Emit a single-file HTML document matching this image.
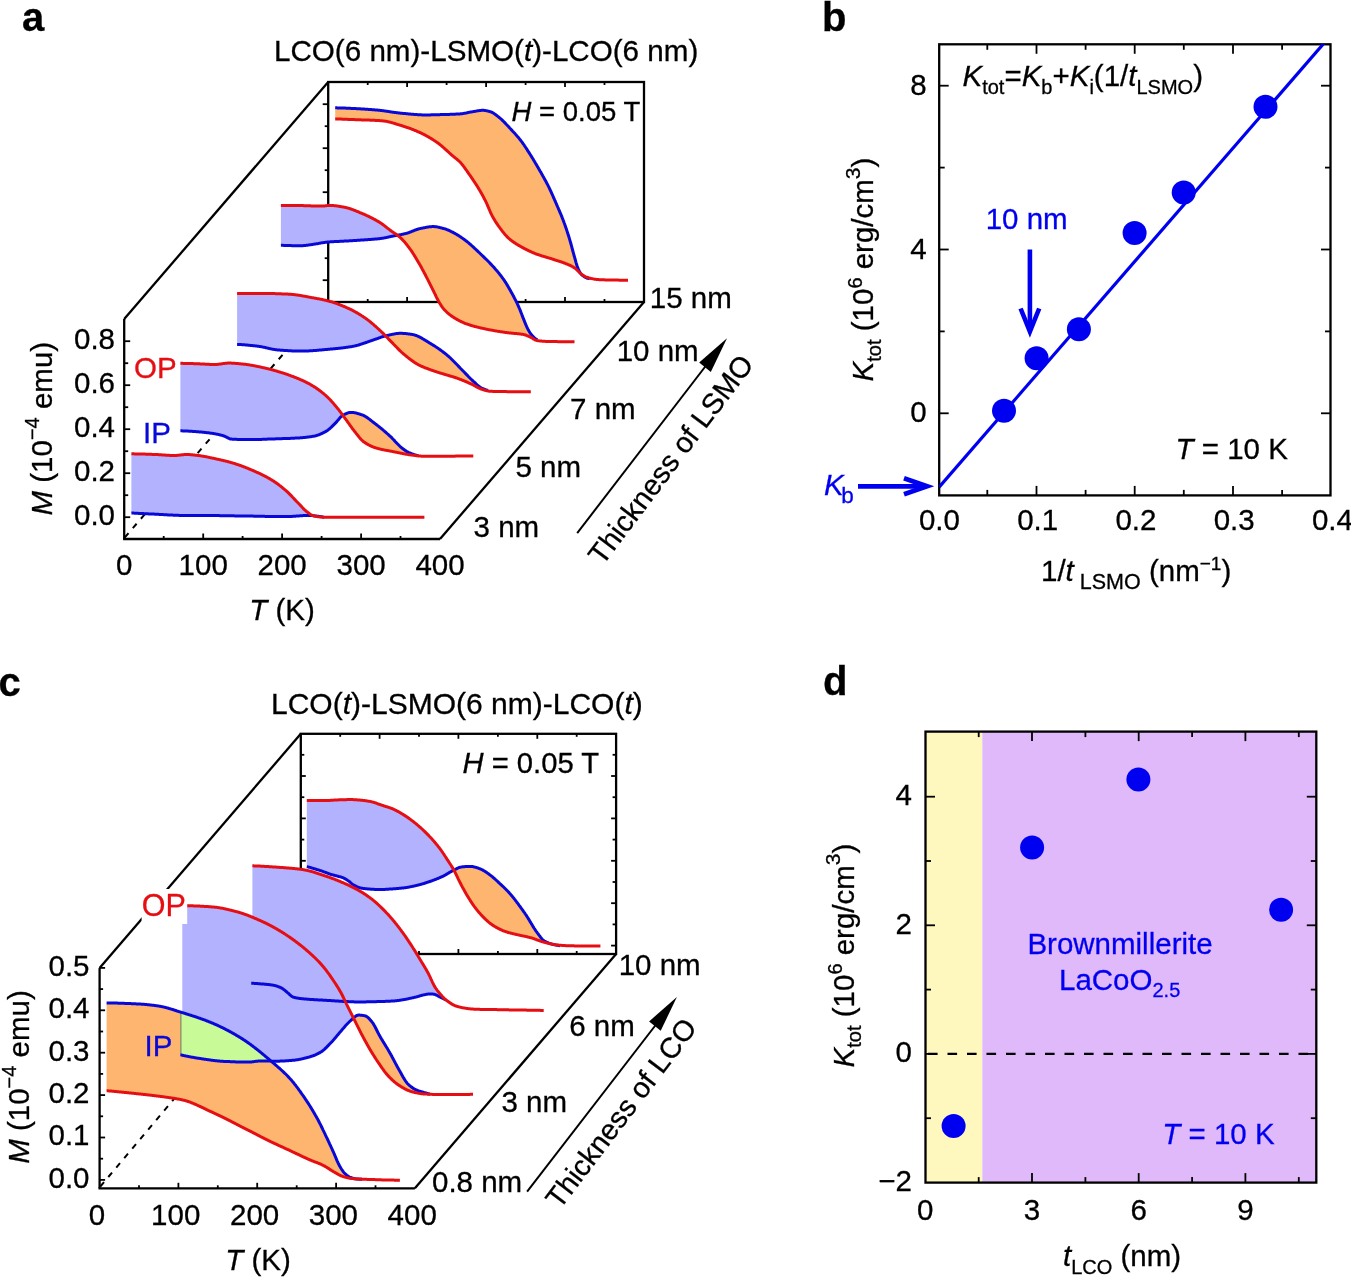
<!DOCTYPE html>
<html><head><meta charset="utf-8"><style>html,body{margin:0;padding:0;background:#fff;width:1351px;height:1278px;overflow:hidden}svg{display:block;will-change:transform}text{font-family:'Liberation Sans',sans-serif;stroke:currentColor;stroke-width:0.3px}</style></head><body>
<svg width="1351" height="1278" viewBox="0 0 1351 1278">
<rect width="1351" height="1278" fill="#fff"/>
<text transform="translate(22.0,31.0)" font-size="40.0" text-anchor="start" fill="#000" color="#000" font-weight="bold">a</text>
<text transform="translate(274.0,61.0)" font-size="29.6" text-anchor="start" fill="#000" color="#000" >LCO(6 nm)-LSMO(<tspan font-style="italic">t</tspan>)-LCO(6 nm)</text>
<line x1="124.7" y1="537.5" x2="328.2" y2="302.0" stroke="#000" stroke-width="2.0" stroke-dasharray="5.8 6.6"/>
<rect x="328.2" y="82.0" width="315.8" height="220.0" fill="none" stroke="#000" stroke-width="2.3"/>
<line x1="367.7" y1="82.0" x2="367.7" y2="85.0" stroke="#000" stroke-width="1.8" />
<line x1="367.7" y1="302.0" x2="367.7" y2="299.0" stroke="#000" stroke-width="1.8" />
<line x1="407.1" y1="82.0" x2="407.1" y2="87.0" stroke="#000" stroke-width="1.8" />
<line x1="407.1" y1="302.0" x2="407.1" y2="297.0" stroke="#000" stroke-width="1.8" />
<line x1="446.6" y1="82.0" x2="446.6" y2="85.0" stroke="#000" stroke-width="1.8" />
<line x1="446.6" y1="302.0" x2="446.6" y2="299.0" stroke="#000" stroke-width="1.8" />
<line x1="486.1" y1="82.0" x2="486.1" y2="87.0" stroke="#000" stroke-width="1.8" />
<line x1="486.1" y1="302.0" x2="486.1" y2="297.0" stroke="#000" stroke-width="1.8" />
<line x1="525.6" y1="82.0" x2="525.6" y2="85.0" stroke="#000" stroke-width="1.8" />
<line x1="525.6" y1="302.0" x2="525.6" y2="299.0" stroke="#000" stroke-width="1.8" />
<line x1="565.0" y1="82.0" x2="565.0" y2="87.0" stroke="#000" stroke-width="1.8" />
<line x1="565.0" y1="302.0" x2="565.0" y2="297.0" stroke="#000" stroke-width="1.8" />
<line x1="604.5" y1="82.0" x2="604.5" y2="85.0" stroke="#000" stroke-width="1.8" />
<line x1="604.5" y1="302.0" x2="604.5" y2="299.0" stroke="#000" stroke-width="1.8" />
<line x1="328.2" y1="280.2" x2="322.7" y2="280.2" stroke="#000" stroke-width="1.8" />
<line x1="328.2" y1="258.2" x2="324.7" y2="258.2" stroke="#000" stroke-width="1.8" />
<line x1="328.2" y1="236.2" x2="322.7" y2="236.2" stroke="#000" stroke-width="1.8" />
<line x1="328.2" y1="214.2" x2="324.7" y2="214.2" stroke="#000" stroke-width="1.8" />
<line x1="328.2" y1="192.2" x2="322.7" y2="192.2" stroke="#000" stroke-width="1.8" />
<line x1="328.2" y1="170.2" x2="324.7" y2="170.2" stroke="#000" stroke-width="1.8" />
<line x1="328.2" y1="148.2" x2="322.7" y2="148.2" stroke="#000" stroke-width="1.8" />
<line x1="328.2" y1="126.2" x2="324.7" y2="126.2" stroke="#000" stroke-width="1.8" />
<line x1="328.2" y1="104.2" x2="322.7" y2="104.2" stroke="#000" stroke-width="1.8" />
<line x1="124.2" y1="319.0" x2="328.2" y2="82.0" stroke="#000" stroke-width="2.3" />
<line x1="440.0" y1="539.0" x2="644.0" y2="302.0" stroke="#000" stroke-width="2.3" />
<path d="M335.2,118.9L335.7,118.9L336.2,118.9L336.7,119.0L337.2,119.0L337.7,119.0L338.2,119.0L338.7,119.0L339.2,119.0L339.7,119.1L340.2,119.1L340.7,119.1L341.2,119.1L341.7,119.1L342.2,119.2L342.7,119.2L343.2,119.2L343.7,119.2L344.2,119.2L344.7,119.3L345.2,119.3L345.7,119.3L346.2,119.3L346.7,119.3L347.2,119.3L347.7,119.4L348.2,119.4L348.7,119.4L349.2,119.4L349.7,119.4L350.2,119.5L350.7,119.5L351.2,119.5L351.7,119.5L352.2,119.5L352.7,119.6L353.2,119.6L353.7,119.6L354.2,119.6L354.7,119.6L355.2,119.7L355.7,119.7L356.2,119.7L356.7,119.7L357.2,119.7L357.7,119.7L358.2,119.8L358.7,119.8L359.2,119.8L359.7,119.8L360.2,119.8L360.7,119.8L361.2,119.9L361.7,119.9L362.2,119.9L362.7,119.9L363.2,119.9L363.7,119.9L364.2,120.0L364.7,120.0L365.2,120.0L365.7,120.0L366.2,120.0L366.7,120.0L367.2,120.0L367.7,120.1L368.2,120.1L368.7,120.1L369.2,120.1L369.7,120.1L370.2,120.2L370.7,120.2L371.2,120.2L371.7,120.2L372.2,120.2L372.7,120.3L373.2,120.3L373.7,120.3L374.2,120.3L374.7,120.3L375.2,120.4L375.7,120.4L376.2,120.4L376.7,120.5L377.2,120.5L377.7,120.5L378.2,120.5L378.7,120.6L379.2,120.6L379.7,120.6L380.2,120.7L380.7,120.7L381.2,120.7L381.7,120.8L382.2,120.8L382.7,120.9L383.2,120.9L383.7,121.0L384.2,121.0L384.7,121.1L385.2,121.2L385.7,121.3L386.2,121.3L386.7,121.4L387.2,121.5L387.7,121.6L388.2,121.8L388.7,121.9L389.2,122.0L389.7,122.1L390.2,122.2L390.7,122.4L391.2,122.5L391.7,122.6L392.2,122.8L392.7,122.9L393.2,123.1L393.7,123.2L394.2,123.4L394.7,123.5L395.2,123.7L395.7,123.8L396.2,124.0L396.7,124.1L397.2,124.3L397.7,124.5L398.2,124.6L398.7,124.8L399.2,124.9L399.7,125.1L400.2,125.2L400.7,125.4L401.2,125.5L401.7,125.7L402.2,125.8L402.7,126.0L403.2,126.1L403.7,126.3L404.2,126.5L404.7,126.6L405.2,126.8L405.7,127.0L406.2,127.1L406.7,127.3L407.2,127.5L407.7,127.6L408.2,127.8L408.7,128.0L409.2,128.2L409.7,128.4L410.2,128.5L410.7,128.7L411.2,128.9L411.7,129.1L412.2,129.3L412.7,129.5L413.2,129.7L413.7,129.9L414.2,130.1L414.7,130.3L415.2,130.5L415.7,130.7L416.2,130.9L416.7,131.1L417.2,131.4L417.7,131.6L418.2,131.8L418.7,132.0L419.2,132.2L419.7,132.5L420.2,132.7L420.7,132.9L421.2,133.2L421.7,133.4L422.2,133.6L422.7,133.9L423.2,134.1L423.7,134.4L424.2,134.6L424.7,134.9L425.2,135.2L425.7,135.4L426.2,135.7L426.7,136.0L427.2,136.3L427.7,136.5L428.2,136.8L428.7,137.1L429.2,137.4L429.7,137.7L430.2,138.0L430.7,138.3L431.2,138.6L431.7,138.9L432.2,139.2L432.7,139.5L433.2,139.8L433.7,140.2L434.2,140.5L434.7,140.8L435.2,141.2L435.7,141.5L436.2,141.8L436.7,142.2L437.2,142.5L437.7,142.9L438.2,143.2L438.7,143.6L439.2,144.0L439.7,144.4L440.2,144.8L440.7,145.2L441.2,145.6L441.7,146.0L442.2,146.5L442.7,146.9L443.2,147.3L443.7,147.8L444.2,148.2L444.7,148.7L445.2,149.1L445.7,149.6L446.2,150.0L446.7,150.5L447.2,150.9L447.7,151.4L448.2,151.8L448.7,152.3L449.2,152.8L449.7,153.2L450.2,153.7L450.7,154.1L451.2,154.6L451.7,155.0L452.2,155.4L452.7,155.9L453.2,156.3L453.7,156.7L454.2,157.1L454.7,157.5L455.2,157.9L455.7,158.3L456.2,158.7L456.7,159.1L457.2,159.5L457.7,160.0L458.2,160.4L458.7,160.8L459.2,161.3L459.7,161.8L460.2,162.3L460.7,162.8L461.2,163.4L461.7,164.0L462.2,164.6L462.7,165.2L463.2,165.9L463.7,166.5L464.2,167.2L464.7,167.9L465.2,168.6L465.7,169.3L466.2,170.0L466.7,170.7L467.2,171.4L467.7,172.2L468.2,172.9L468.7,173.6L469.2,174.3L469.7,175.0L470.2,175.7L470.7,176.4L471.2,177.1L471.7,177.9L472.2,178.6L472.7,179.3L473.2,180.1L473.7,180.8L474.2,181.6L474.7,182.3L475.2,183.1L475.7,183.8L476.2,184.6L476.7,185.4L477.2,186.2L477.7,187.0L478.2,187.8L478.7,188.7L479.2,189.5L479.7,190.3L480.2,191.2L480.7,192.1L481.2,192.9L481.7,193.8L482.2,194.7L482.7,195.6L483.2,196.6L483.7,197.5L484.2,198.5L484.7,199.4L485.2,200.4L485.7,201.4L486.2,202.4L486.7,203.5L487.2,204.6L487.7,205.8L488.2,207.0L488.7,208.2L489.2,209.4L489.7,210.5L490.2,211.7L490.7,212.8L491.2,213.9L491.7,214.9L492.2,215.9L492.7,216.8L493.2,217.7L493.7,218.6L494.2,219.4L494.7,220.2L495.2,221.1L495.7,221.9L496.2,222.6L496.7,223.4L497.2,224.2L497.7,224.9L498.2,225.6L498.7,226.3L499.2,227.0L499.7,227.7L500.2,228.4L500.7,229.0L501.2,229.7L501.7,230.4L502.2,231.0L502.7,231.7L503.2,232.3L503.7,232.9L504.2,233.5L504.7,234.1L505.2,234.7L505.7,235.3L506.2,235.8L506.7,236.4L507.2,236.9L507.7,237.4L508.2,237.9L508.7,238.3L509.2,238.7L509.7,239.2L510.2,239.6L510.7,240.0L511.2,240.4L511.7,240.8L512.2,241.1L512.7,241.5L513.2,241.9L513.7,242.2L514.2,242.6L514.7,242.9L515.2,243.2L515.7,243.5L516.2,243.9L516.7,244.2L517.2,244.5L517.7,244.8L518.2,245.1L518.7,245.4L519.2,245.7L519.7,246.0L520.2,246.2L520.7,246.5L521.2,246.8L521.7,247.1L522.2,247.4L522.7,247.6L523.2,247.9L523.7,248.2L524.2,248.5L524.7,248.7L525.2,249.0L525.7,249.2L526.2,249.5L526.7,249.7L527.2,250.0L527.7,250.2L528.2,250.5L528.7,250.7L529.2,251.0L529.7,251.2L530.2,251.4L530.7,251.7L531.2,251.9L531.7,252.1L532.2,252.3L532.7,252.5L533.2,252.8L533.7,253.0L534.2,253.2L534.7,253.4L535.2,253.6L535.7,253.8L536.2,254.0L536.7,254.2L537.2,254.3L537.7,254.5L538.2,254.7L538.7,254.9L539.2,255.0L539.7,255.2L540.2,255.4L540.7,255.5L541.2,255.7L541.7,255.8L542.2,256.0L542.7,256.1L543.2,256.3L543.7,256.4L544.2,256.6L544.7,256.7L545.2,256.9L545.7,257.0L546.2,257.2L546.7,257.3L547.2,257.5L547.7,257.6L548.2,257.8L548.7,257.9L549.2,258.1L549.7,258.2L550.2,258.4L550.7,258.5L551.2,258.7L551.7,258.9L552.2,259.0L552.7,259.2L553.2,259.3L553.7,259.5L554.2,259.7L554.7,259.8L555.2,260.0L555.7,260.1L556.2,260.3L556.7,260.5L557.2,260.6L557.7,260.8L558.2,260.9L558.7,261.1L559.2,261.3L559.7,261.4L560.2,261.6L560.7,261.7L561.2,261.9L561.7,262.1L562.2,262.3L562.7,262.4L563.2,262.6L563.7,262.8L564.2,263.0L564.7,263.2L565.2,263.4L565.7,263.6L566.2,263.8L566.7,264.0L567.2,264.2L567.7,264.4L568.2,264.6L568.7,264.8L569.2,265.0L569.7,265.2L570.2,265.5L570.7,265.7L571.2,266.0L571.7,266.2L572.2,266.5L572.7,266.8L573.2,267.1L573.7,267.4L574.2,267.7L574.7,268.0L575.2,268.4L575.7,268.8L576.2,269.3L576.7,269.8L577.2,270.3L577.7,270.8L578.2,271.3L578.7,271.8L579.2,272.3L579.7,272.7L580.2,273.2L580.7,273.5L580.7,273.6L580.7,273.6L580.7,273.5L580.2,272.8L579.7,271.9L579.2,271.0L578.7,270.0L578.2,268.9L577.7,267.7L577.2,266.3L576.7,264.7L576.2,263.1L575.7,261.3L575.2,259.5L574.7,257.7L574.2,256.0L573.7,254.2L573.2,252.4L572.7,250.5L572.2,248.6L571.7,246.7L571.2,244.9L570.7,243.0L570.2,241.3L569.7,239.6L569.2,237.9L568.7,236.3L568.2,234.7L567.7,233.2L567.2,231.6L566.7,230.1L566.2,228.6L565.7,227.2L565.2,225.7L564.7,224.3L564.2,223.0L563.7,221.6L563.2,220.3L562.7,219.0L562.2,217.7L561.7,216.4L561.2,215.2L560.7,214.0L560.2,212.8L559.7,211.6L559.2,210.4L558.7,209.3L558.2,208.1L557.7,207.0L557.2,205.8L556.7,204.7L556.2,203.5L555.7,202.4L555.2,201.2L554.7,200.1L554.2,198.9L553.7,197.8L553.2,196.6L552.7,195.5L552.2,194.4L551.7,193.3L551.2,192.2L550.7,191.1L550.2,190.0L549.7,189.0L549.2,187.9L548.7,186.9L548.2,185.9L547.7,184.9L547.2,183.9L546.7,183.0L546.2,182.0L545.7,181.1L545.2,180.2L544.7,179.3L544.2,178.3L543.7,177.4L543.2,176.5L542.7,175.7L542.2,174.8L541.7,173.9L541.2,173.0L540.7,172.1L540.2,171.3L539.7,170.4L539.2,169.5L538.7,168.7L538.2,167.8L537.7,166.9L537.2,166.1L536.7,165.2L536.2,164.4L535.7,163.5L535.2,162.7L534.7,161.8L534.2,161.0L533.7,160.2L533.2,159.3L532.7,158.5L532.2,157.7L531.7,156.9L531.2,156.1L530.7,155.3L530.2,154.5L529.7,153.7L529.2,152.9L528.7,152.1L528.2,151.4L527.7,150.6L527.2,149.8L526.7,149.0L526.2,148.2L525.7,147.5L525.2,146.7L524.7,146.0L524.2,145.2L523.7,144.5L523.2,143.8L522.7,143.1L522.2,142.4L521.7,141.7L521.2,141.1L520.7,140.4L520.2,139.8L519.7,139.2L519.2,138.5L518.7,137.9L518.2,137.3L517.7,136.7L517.2,136.2L516.7,135.6L516.2,135.0L515.7,134.5L515.2,133.9L514.7,133.3L514.2,132.8L513.7,132.3L513.2,131.7L512.7,131.2L512.2,130.6L511.7,130.1L511.2,129.6L510.7,129.0L510.2,128.5L509.7,128.0L509.2,127.4L508.7,126.9L508.2,126.3L507.7,125.8L507.2,125.2L506.7,124.7L506.2,124.2L505.7,123.6L505.2,123.1L504.7,122.6L504.2,122.1L503.7,121.5L503.2,121.1L502.7,120.6L502.2,120.1L501.7,119.6L501.2,119.2L500.7,118.7L500.2,118.3L499.7,117.9L499.2,117.5L498.7,117.1L498.2,116.7L497.7,116.3L497.2,115.9L496.7,115.5L496.2,115.1L495.7,114.7L495.2,114.4L494.7,114.0L494.2,113.7L493.7,113.3L493.2,113.0L492.7,112.7L492.2,112.5L491.7,112.2L491.2,112.0L490.7,111.9L490.2,111.7L489.7,111.6L489.2,111.4L488.7,111.3L488.2,111.1L487.7,111.0L487.2,110.9L486.7,110.8L486.2,110.7L485.7,110.6L485.2,110.5L484.7,110.4L484.2,110.4L483.7,110.3L483.2,110.3L482.7,110.3L482.2,110.3L481.7,110.3L481.2,110.4L480.7,110.4L480.2,110.5L479.7,110.5L479.2,110.6L478.7,110.7L478.2,110.7L477.7,110.8L477.2,110.9L476.7,111.0L476.2,111.1L475.7,111.2L475.2,111.3L474.7,111.4L474.2,111.5L473.7,111.5L473.2,111.6L472.7,111.7L472.2,111.8L471.7,111.9L471.2,112.0L470.7,112.1L470.2,112.1L469.7,112.2L469.2,112.3L468.7,112.4L468.2,112.5L467.7,112.7L467.2,112.8L466.7,112.9L466.2,113.0L465.7,113.1L465.2,113.2L464.7,113.3L464.2,113.3L463.7,113.4L463.2,113.5L462.7,113.6L462.2,113.7L461.7,113.7L461.2,113.8L460.7,113.8L460.2,113.9L459.7,113.9L459.2,114.0L458.7,114.0L458.2,114.0L457.7,114.0L457.2,114.1L456.7,114.1L456.2,114.1L455.7,114.1L455.2,114.2L454.7,114.2L454.2,114.2L453.7,114.2L453.2,114.2L452.7,114.3L452.2,114.3L451.7,114.3L451.2,114.3L450.7,114.3L450.2,114.3L449.7,114.4L449.2,114.4L448.7,114.4L448.2,114.4L447.7,114.4L447.2,114.4L446.7,114.5L446.2,114.5L445.7,114.5L445.2,114.5L444.7,114.5L444.2,114.5L443.7,114.5L443.2,114.6L442.7,114.6L442.2,114.6L441.7,114.6L441.2,114.6L440.7,114.6L440.2,114.6L439.7,114.7L439.2,114.7L438.7,114.7L438.2,114.7L437.7,114.7L437.2,114.7L436.7,114.7L436.2,114.7L435.7,114.8L435.2,114.8L434.7,114.8L434.2,114.8L433.7,114.8L433.2,114.8L432.7,114.8L432.2,114.8L431.7,114.8L431.2,114.8L430.7,114.9L430.2,114.9L429.7,114.9L429.2,114.9L428.7,114.9L428.2,114.9L427.7,114.9L427.2,114.9L426.7,114.9L426.2,114.9L425.7,114.9L425.2,114.9L424.7,114.9L424.2,114.9L423.7,114.9L423.2,114.9L422.7,114.9L422.2,114.9L421.7,114.9L421.2,114.8L420.7,114.8L420.2,114.8L419.7,114.8L419.2,114.8L418.7,114.7L418.2,114.7L417.7,114.7L417.2,114.6L416.7,114.6L416.2,114.6L415.7,114.5L415.2,114.5L414.7,114.5L414.2,114.4L413.7,114.4L413.2,114.3L412.7,114.3L412.2,114.3L411.7,114.2L411.2,114.2L410.7,114.1L410.2,114.1L409.7,114.0L409.2,114.0L408.7,113.9L408.2,113.9L407.7,113.8L407.2,113.8L406.7,113.7L406.2,113.7L405.7,113.6L405.2,113.6L404.7,113.5L404.2,113.5L403.7,113.4L403.2,113.4L402.7,113.4L402.2,113.3L401.7,113.3L401.2,113.2L400.7,113.2L400.2,113.1L399.7,113.1L399.2,113.0L398.7,113.0L398.2,112.9L397.7,112.8L397.2,112.8L396.7,112.7L396.2,112.6L395.7,112.6L395.2,112.5L394.7,112.4L394.2,112.4L393.7,112.3L393.2,112.2L392.7,112.2L392.2,112.1L391.7,112.0L391.2,111.9L390.7,111.9L390.2,111.8L389.7,111.7L389.2,111.6L388.7,111.6L388.2,111.5L387.7,111.4L387.2,111.3L386.7,111.3L386.2,111.2L385.7,111.1L385.2,111.0L384.7,111.0L384.2,110.9L383.7,110.8L383.2,110.8L382.7,110.7L382.2,110.6L381.7,110.6L381.2,110.5L380.7,110.4L380.2,110.4L379.7,110.3L379.2,110.3L378.7,110.2L378.2,110.2L377.7,110.1L377.2,110.1L376.7,110.0L376.2,110.0L375.7,110.0L375.2,109.9L374.7,109.9L374.2,109.8L373.7,109.8L373.2,109.7L372.7,109.7L372.2,109.7L371.7,109.6L371.2,109.6L370.7,109.5L370.2,109.5L369.7,109.5L369.2,109.4L368.7,109.4L368.2,109.4L367.7,109.3L367.2,109.3L366.7,109.3L366.2,109.2L365.7,109.2L365.2,109.2L364.7,109.1L364.2,109.1L363.7,109.1L363.2,109.0L362.7,109.0L362.2,109.0L361.7,108.9L361.2,108.9L360.7,108.9L360.2,108.8L359.7,108.8L359.2,108.8L358.7,108.8L358.2,108.7L357.7,108.7L357.2,108.7L356.7,108.7L356.2,108.6L355.7,108.6L355.2,108.6L354.7,108.5L354.2,108.5L353.7,108.5L353.2,108.5L352.7,108.5L352.2,108.4L351.7,108.4L351.2,108.4L350.7,108.4L350.2,108.3L349.7,108.3L349.2,108.3L348.7,108.3L348.2,108.2L347.7,108.2L347.2,108.2L346.7,108.2L346.2,108.2L345.7,108.1L345.2,108.1L344.7,108.1L344.2,108.1L343.7,108.1L343.2,108.0L342.7,108.0L342.2,108.0L341.7,108.0L341.2,108.0L340.7,108.0L340.2,107.9L339.7,107.9L339.2,107.9L338.7,107.9L338.2,107.9L337.7,107.9L337.2,107.9L336.7,107.8L336.2,107.8L335.7,107.8L335.2,107.8Z" fill="#FDB56F"/>
<path d="M580.7,273.6L581.2,273.9L581.7,274.3L582.2,274.7L582.7,275.0L583.2,275.4L583.7,275.7L584.2,276.1L584.7,276.3L585.2,276.6L585.7,276.9L586.2,277.1L586.7,277.2L587.2,277.4L587.7,277.5L588.2,277.7L588.7,277.8L589.2,278.0L589.6,278.1L589.6,278.6L589.2,278.6L588.7,278.5L588.2,278.4L587.7,278.3L587.2,278.2L586.7,278.0L586.2,277.7L585.7,277.5L585.2,277.2L584.7,276.9L584.2,276.6L583.7,276.3L583.2,275.9L582.7,275.5L582.2,275.2L581.7,274.7L581.2,274.2L580.7,273.6Z" fill="#B2B2FE"/>
<path d="M280.9,205.4L281.4,205.4L281.9,205.4L282.4,205.4L282.9,205.4L283.4,205.4L283.9,205.4L284.4,205.4L284.9,205.4L285.4,205.4L285.9,205.4L286.4,205.4L286.9,205.4L287.4,205.4L287.9,205.4L288.4,205.4L288.9,205.5L289.4,205.5L289.9,205.5L290.4,205.5L290.9,205.5L291.4,205.5L291.9,205.5L292.4,205.5L292.9,205.5L293.4,205.5L293.9,205.5L294.4,205.5L294.9,205.5L295.4,205.5L295.9,205.5L296.4,205.5L296.9,205.5L297.4,205.5L297.9,205.6L298.4,205.6L298.9,205.6L299.4,205.6L299.9,205.6L300.4,205.6L300.9,205.6L301.4,205.6L301.9,205.6L302.4,205.6L302.9,205.6L303.4,205.6L303.9,205.7L304.4,205.7L304.9,205.7L305.4,205.7L305.9,205.7L306.4,205.7L306.9,205.7L307.4,205.7L307.9,205.8L308.4,205.8L308.9,205.8L309.4,205.8L309.9,205.8L310.4,205.8L310.9,205.9L311.4,205.9L311.9,205.9L312.4,205.9L312.9,205.9L313.4,205.9L313.9,206.0L314.4,206.0L314.9,206.0L315.4,206.0L315.9,206.0L316.4,206.0L316.9,206.0L317.4,206.0L317.9,206.1L318.4,206.1L318.9,206.1L319.4,206.1L319.9,206.1L320.4,206.1L320.9,206.1L321.4,206.1L321.9,206.1L322.4,206.1L322.9,206.1L323.4,206.1L323.9,206.0L324.4,206.0L324.9,205.9L325.4,205.8L325.9,205.8L326.4,205.7L326.9,205.6L327.4,205.5L327.9,205.5L328.4,205.4L328.9,205.4L329.4,205.4L329.9,205.4L330.4,205.4L330.9,205.4L331.4,205.4L331.9,205.5L332.4,205.5L332.9,205.5L333.4,205.6L333.9,205.6L334.4,205.7L334.9,205.7L335.4,205.8L335.9,205.8L336.4,205.9L336.9,206.0L337.4,206.1L337.9,206.1L338.4,206.2L338.9,206.3L339.4,206.4L339.9,206.4L340.4,206.5L340.9,206.6L341.4,206.7L341.9,206.8L342.4,206.9L342.9,207.0L343.4,207.0L343.9,207.1L344.4,207.2L344.9,207.3L345.4,207.4L345.9,207.6L346.4,207.7L346.9,207.8L347.4,207.9L347.9,208.1L348.4,208.2L348.9,208.4L349.4,208.5L349.9,208.7L350.4,208.8L350.9,209.0L351.4,209.2L351.9,209.4L352.4,209.6L352.9,209.7L353.4,209.9L353.9,210.1L354.4,210.3L354.9,210.5L355.4,210.7L355.9,210.9L356.4,211.1L356.9,211.3L357.4,211.5L357.9,211.7L358.4,211.9L358.9,212.1L359.4,212.4L359.9,212.6L360.4,212.8L360.9,213.0L361.4,213.2L361.9,213.4L362.4,213.6L362.9,213.8L363.4,214.0L363.9,214.2L364.4,214.5L364.9,214.7L365.4,214.9L365.9,215.1L366.4,215.4L366.9,215.6L367.4,215.8L367.9,216.0L368.4,216.3L368.9,216.5L369.4,216.8L369.9,217.0L370.4,217.3L370.9,217.5L371.4,217.8L371.9,218.0L372.4,218.3L372.9,218.5L373.4,218.8L373.9,219.1L374.4,219.3L374.9,219.6L375.4,219.9L375.9,220.2L376.4,220.5L376.9,220.8L377.4,221.0L377.9,221.3L378.4,221.6L378.9,221.9L379.4,222.2L379.9,222.5L380.4,222.9L380.9,223.2L381.4,223.5L381.9,223.9L382.4,224.2L382.9,224.6L383.4,224.9L383.9,225.3L384.4,225.7L384.9,226.1L385.4,226.5L385.9,226.9L386.4,227.3L386.9,227.7L387.4,228.1L387.9,228.5L388.4,228.8L388.9,229.2L389.4,229.6L389.9,230.0L390.4,230.4L390.9,230.7L391.4,231.1L391.9,231.5L392.4,231.8L392.9,232.1L393.4,232.5L393.9,232.8L394.4,233.1L394.9,233.5L395.4,233.8L395.9,234.1L396.4,234.5L396.9,234.8L397.4,235.2L397.4,235.2L397.4,235.2L397.4,235.2L396.9,235.3L396.4,235.4L395.9,235.5L395.4,235.6L394.9,235.7L394.4,235.8L393.9,235.9L393.4,236.0L392.9,236.1L392.4,236.2L391.9,236.3L391.4,236.4L390.9,236.5L390.4,236.6L389.9,236.7L389.4,236.8L388.9,236.9L388.4,237.1L387.9,237.2L387.4,237.3L386.9,237.4L386.4,237.5L385.9,237.6L385.4,237.7L384.9,237.8L384.4,237.9L383.9,238.0L383.4,238.1L382.9,238.2L382.4,238.3L381.9,238.3L381.4,238.4L380.9,238.5L380.4,238.6L379.9,238.6L379.4,238.7L378.9,238.7L378.4,238.8L377.9,238.8L377.4,238.9L376.9,238.9L376.4,239.0L375.9,239.0L375.4,239.0L374.9,239.1L374.4,239.1L373.9,239.2L373.4,239.2L372.9,239.2L372.4,239.3L371.9,239.3L371.4,239.4L370.9,239.4L370.4,239.4L369.9,239.5L369.4,239.5L368.9,239.5L368.4,239.6L367.9,239.6L367.4,239.7L366.9,239.7L366.4,239.7L365.9,239.8L365.4,239.8L364.9,239.8L364.4,239.9L363.9,239.9L363.4,239.9L362.9,240.0L362.4,240.0L361.9,240.0L361.4,240.1L360.9,240.1L360.4,240.1L359.9,240.2L359.4,240.2L358.9,240.2L358.4,240.3L357.9,240.3L357.4,240.3L356.9,240.4L356.4,240.4L355.9,240.4L355.4,240.5L354.9,240.5L354.4,240.5L353.9,240.6L353.4,240.6L352.9,240.6L352.4,240.7L351.9,240.7L351.4,240.7L350.9,240.7L350.4,240.8L349.9,240.8L349.4,240.8L348.9,240.9L348.4,240.9L347.9,240.9L347.4,241.0L346.9,241.0L346.4,241.0L345.9,241.0L345.4,241.1L344.9,241.1L344.4,241.1L343.9,241.1L343.4,241.2L342.9,241.2L342.4,241.2L341.9,241.2L341.4,241.3L340.9,241.3L340.4,241.3L339.9,241.3L339.4,241.4L338.9,241.4L338.4,241.4L337.9,241.4L337.4,241.4L336.9,241.5L336.4,241.5L335.9,241.5L335.4,241.5L334.9,241.6L334.4,241.6L333.9,241.6L333.4,241.7L332.9,241.7L332.4,241.7L331.9,241.7L331.4,241.8L330.9,241.8L330.4,241.8L329.9,241.9L329.4,241.9L328.9,242.0L328.4,242.0L327.9,242.0L327.4,242.1L326.9,242.1L326.4,242.2L325.9,242.2L325.4,242.3L324.9,242.4L324.4,242.4L323.9,242.5L323.4,242.6L322.9,242.7L322.4,242.8L321.9,242.8L321.4,242.9L320.9,243.0L320.4,243.1L319.9,243.2L319.4,243.3L318.9,243.4L318.4,243.5L317.9,243.6L317.4,243.7L316.9,243.8L316.4,243.8L315.9,243.9L315.4,244.0L314.9,244.1L314.4,244.1L313.9,244.2L313.4,244.3L312.9,244.4L312.4,244.4L311.9,244.5L311.4,244.6L310.9,244.7L310.4,244.8L309.9,244.8L309.4,244.9L308.9,245.0L308.4,245.1L307.9,245.1L307.4,245.2L306.9,245.3L306.4,245.3L305.9,245.4L305.4,245.5L304.9,245.5L304.4,245.5L303.9,245.6L303.4,245.6L302.9,245.7L302.4,245.7L301.9,245.7L301.4,245.7L300.9,245.7L300.4,245.7L299.9,245.7L299.4,245.7L298.9,245.7L298.4,245.7L297.9,245.7L297.4,245.7L296.9,245.7L296.4,245.7L295.9,245.7L295.4,245.7L294.9,245.7L294.4,245.7L293.9,245.7L293.4,245.7L292.9,245.7L292.4,245.7L291.9,245.7L291.4,245.6L290.9,245.6L290.4,245.6L289.9,245.6L289.4,245.6L288.9,245.6L288.4,245.6L287.9,245.6L287.4,245.5L286.9,245.5L286.4,245.5L285.9,245.5L285.4,245.5L284.9,245.4L284.4,245.4L283.9,245.4L283.4,245.4L282.9,245.3L282.4,245.3L281.9,245.3L281.4,245.2L280.9,245.2Z" fill="#B2B2FE"/>
<path d="M397.4,235.2L397.9,235.6L398.4,236.0L398.9,236.4L399.4,236.8L399.9,237.2L400.4,237.7L400.9,238.1L401.4,238.6L401.9,239.1L402.4,239.6L402.9,240.2L403.4,240.7L403.9,241.3L404.4,241.8L404.9,242.4L405.4,243.0L405.9,243.6L406.4,244.3L406.9,244.9L407.4,245.5L407.9,246.2L408.4,246.8L408.9,247.5L409.4,248.1L409.9,248.8L410.4,249.5L410.9,250.2L411.4,250.9L411.9,251.7L412.4,252.4L412.9,253.2L413.4,254.0L413.9,254.8L414.4,255.6L414.9,256.4L415.4,257.2L415.9,258.1L416.4,258.9L416.9,259.7L417.4,260.6L417.9,261.4L418.4,262.3L418.9,263.1L419.4,264.0L419.9,264.8L420.4,265.7L420.9,266.6L421.4,267.5L421.9,268.4L422.4,269.4L422.9,270.3L423.4,271.2L423.9,272.2L424.4,273.1L424.9,274.1L425.4,275.0L425.9,276.0L426.4,276.9L426.9,277.9L427.4,278.8L427.9,279.8L428.4,280.8L428.9,281.8L429.4,282.8L429.9,283.8L430.4,284.8L430.9,285.8L431.4,286.8L431.9,287.8L432.4,288.8L432.9,289.8L433.4,290.8L433.9,291.8L434.4,292.9L434.9,293.9L435.4,295.0L435.9,296.0L436.4,297.1L436.9,298.1L437.4,299.1L437.9,300.0L438.4,301.0L438.9,301.8L439.4,302.7L439.9,303.5L440.4,304.3L440.9,305.1L441.4,305.9L441.9,306.6L442.4,307.3L442.9,308.0L443.4,308.6L443.9,309.2L444.4,309.7L444.9,310.3L445.4,310.8L445.9,311.3L446.4,311.8L446.9,312.3L447.4,312.7L447.9,313.2L448.4,313.6L448.9,314.0L449.4,314.4L449.9,314.8L450.4,315.2L450.9,315.6L451.4,315.9L451.9,316.3L452.4,316.6L452.9,316.9L453.4,317.3L453.9,317.6L454.4,317.9L454.9,318.2L455.4,318.5L455.9,318.8L456.4,319.1L456.9,319.4L457.4,319.7L457.9,319.9L458.4,320.2L458.9,320.5L459.4,320.7L459.9,321.0L460.4,321.3L460.9,321.5L461.4,321.7L461.9,322.0L462.4,322.2L462.9,322.4L463.4,322.6L463.9,322.9L464.4,323.1L464.9,323.3L465.4,323.5L465.9,323.6L466.4,323.8L466.9,324.0L467.4,324.2L467.9,324.4L468.4,324.5L468.9,324.7L469.4,324.8L469.9,325.0L470.4,325.2L470.9,325.3L471.4,325.5L471.9,325.6L472.4,325.8L472.9,325.9L473.4,326.1L473.9,326.2L474.4,326.3L474.9,326.5L475.4,326.6L475.9,326.7L476.4,326.9L476.9,327.0L477.4,327.1L477.9,327.2L478.4,327.4L478.9,327.5L479.4,327.6L479.9,327.7L480.4,327.8L480.9,328.0L481.4,328.1L481.9,328.2L482.4,328.3L482.9,328.4L483.4,328.5L483.9,328.6L484.4,328.7L484.9,328.8L485.4,328.9L485.9,329.1L486.4,329.2L486.9,329.3L487.4,329.4L487.9,329.5L488.4,329.6L488.9,329.7L489.4,329.8L489.9,329.9L490.4,330.0L490.9,330.1L491.4,330.1L491.9,330.2L492.4,330.3L492.9,330.4L493.4,330.5L493.9,330.6L494.4,330.7L494.9,330.8L495.4,330.9L495.9,331.0L496.4,331.0L496.9,331.1L497.4,331.2L497.9,331.3L498.4,331.4L498.9,331.5L499.4,331.5L499.9,331.6L500.4,331.7L500.9,331.8L501.4,331.8L501.9,331.9L502.4,332.0L502.9,332.1L503.4,332.1L503.9,332.2L504.4,332.3L504.9,332.4L505.4,332.4L505.9,332.5L506.4,332.6L506.9,332.6L507.4,332.7L507.9,332.8L508.4,332.8L508.9,332.9L509.4,332.9L509.9,333.0L510.4,333.0L510.9,333.1L511.4,333.1L511.9,333.2L512.4,333.2L512.9,333.3L513.4,333.3L513.9,333.4L514.4,333.4L514.9,333.4L515.4,333.5L515.9,333.5L516.4,333.6L516.9,333.6L517.4,333.7L517.9,333.7L518.4,333.8L518.9,333.8L519.4,333.9L519.9,334.0L520.4,334.0L520.9,334.1L521.4,334.2L521.9,334.2L522.4,334.3L522.9,334.4L523.4,334.5L523.9,334.6L524.4,334.7L524.9,334.8L525.4,335.0L525.9,335.2L526.4,335.4L526.9,335.6L527.4,335.8L527.9,336.0L528.4,336.2L528.9,336.5L529.4,336.7L529.9,336.9L530.4,337.2L530.9,337.4L531.4,337.7L531.9,337.9L532.4,338.2L532.9,338.6L533.4,338.9L533.9,339.2L534.4,339.5L534.9,339.8L535.4,340.0L535.9,340.2L536.4,340.4L536.9,340.5L537.2,340.6L537.2,339.8L536.9,339.6L536.4,339.3L535.9,339.0L535.4,338.6L534.9,338.2L534.4,337.8L533.9,337.3L533.4,336.8L532.9,336.3L532.4,335.8L531.9,335.2L531.4,334.6L530.9,334.0L530.4,333.3L529.9,332.6L529.4,331.8L528.9,331.0L528.4,330.1L527.9,329.2L527.4,328.2L526.9,327.2L526.4,326.0L525.9,324.8L525.4,323.6L524.9,322.4L524.4,321.1L523.9,319.9L523.4,318.7L522.9,317.4L522.4,316.1L521.9,314.8L521.4,313.5L520.9,312.2L520.4,310.9L519.9,309.7L519.4,308.5L518.9,307.3L518.4,306.2L517.9,305.1L517.4,304.0L516.9,302.9L516.4,301.9L515.9,300.9L515.4,299.9L514.9,298.9L514.4,298.0L513.9,297.0L513.4,296.1L512.9,295.1L512.4,294.2L511.9,293.3L511.4,292.4L510.9,291.5L510.4,290.6L509.9,289.7L509.4,288.8L508.9,287.9L508.4,287.1L507.9,286.2L507.4,285.4L506.9,284.5L506.4,283.7L505.9,282.9L505.4,282.1L504.9,281.4L504.4,280.6L503.9,279.9L503.4,279.2L502.9,278.5L502.4,277.8L501.9,277.1L501.4,276.4L500.9,275.8L500.4,275.1L499.9,274.5L499.4,273.9L498.9,273.2L498.4,272.6L497.9,272.0L497.4,271.4L496.9,270.8L496.4,270.2L495.9,269.7L495.4,269.1L494.9,268.5L494.4,267.9L493.9,267.4L493.4,266.8L492.9,266.3L492.4,265.7L491.9,265.2L491.4,264.6L490.9,264.1L490.4,263.6L489.9,263.1L489.4,262.5L488.9,262.0L488.4,261.5L487.9,261.0L487.4,260.5L486.9,260.0L486.4,259.5L485.9,259.0L485.4,258.6L484.9,258.1L484.4,257.6L483.9,257.1L483.4,256.6L482.9,256.1L482.4,255.7L481.9,255.2L481.4,254.7L480.9,254.2L480.4,253.8L479.9,253.3L479.4,252.8L478.9,252.3L478.4,251.9L477.9,251.4L477.4,250.9L476.9,250.4L476.4,250.0L475.9,249.5L475.4,249.0L474.9,248.5L474.4,248.1L473.9,247.6L473.4,247.1L472.9,246.7L472.4,246.2L471.9,245.8L471.4,245.3L470.9,244.9L470.4,244.4L469.9,244.0L469.4,243.6L468.9,243.1L468.4,242.7L467.9,242.3L467.4,241.9L466.9,241.5L466.4,241.1L465.9,240.8L465.4,240.4L464.9,240.0L464.4,239.6L463.9,239.3L463.4,238.9L462.9,238.5L462.4,238.2L461.9,237.8L461.4,237.5L460.9,237.1L460.4,236.8L459.9,236.5L459.4,236.1L458.9,235.8L458.4,235.5L457.9,235.2L457.4,234.9L456.9,234.6L456.4,234.3L455.9,234.0L455.4,233.7L454.9,233.5L454.4,233.2L453.9,232.9L453.4,232.7L452.9,232.4L452.4,232.1L451.9,231.9L451.4,231.6L450.9,231.4L450.4,231.1L449.9,230.9L449.4,230.7L448.9,230.4L448.4,230.2L447.9,230.0L447.4,229.8L446.9,229.6L446.4,229.4L445.9,229.2L445.4,229.0L444.9,228.9L444.4,228.7L443.9,228.6L443.4,228.5L442.9,228.3L442.4,228.2L441.9,228.1L441.4,227.9L440.9,227.8L440.4,227.7L439.9,227.6L439.4,227.4L438.9,227.3L438.4,227.2L437.9,227.1L437.4,227.0L436.9,226.9L436.4,226.8L435.9,226.8L435.4,226.7L434.9,226.7L434.4,226.6L433.9,226.6L433.4,226.6L432.9,226.6L432.4,226.6L431.9,226.6L431.4,226.7L430.9,226.7L430.4,226.7L429.9,226.8L429.4,226.8L428.9,226.9L428.4,227.0L427.9,227.0L427.4,227.1L426.9,227.2L426.4,227.3L425.9,227.4L425.4,227.5L424.9,227.6L424.4,227.7L423.9,227.8L423.4,227.9L422.9,228.0L422.4,228.1L421.9,228.2L421.4,228.3L420.9,228.4L420.4,228.5L419.9,228.6L419.4,228.7L418.9,228.9L418.4,229.0L417.9,229.2L417.4,229.3L416.9,229.5L416.4,229.7L415.9,229.8L415.4,230.0L414.9,230.2L414.4,230.4L413.9,230.6L413.4,230.8L412.9,231.0L412.4,231.2L411.9,231.4L411.4,231.6L410.9,231.8L410.4,232.0L409.9,232.2L409.4,232.4L408.9,232.6L408.4,232.8L407.9,232.9L407.4,233.1L406.9,233.2L406.4,233.4L405.9,233.5L405.4,233.6L404.9,233.7L404.4,233.8L403.9,233.9L403.4,234.1L402.9,234.2L402.4,234.3L401.9,234.4L401.4,234.5L400.9,234.6L400.4,234.7L399.9,234.8L399.4,234.9L398.9,234.9L398.4,235.0L397.9,235.1L397.4,235.2Z" fill="#FDB56F"/>
<path d="M237.1,293.5L237.6,293.5L238.1,293.5L238.6,293.5L239.1,293.5L239.6,293.5L240.1,293.5L240.6,293.5L241.1,293.5L241.6,293.5L242.1,293.5L242.6,293.5L243.1,293.5L243.6,293.5L244.1,293.5L244.6,293.5L245.1,293.5L245.6,293.5L246.1,293.5L246.6,293.5L247.1,293.5L247.6,293.5L248.1,293.5L248.6,293.5L249.1,293.5L249.6,293.5L250.1,293.5L250.6,293.5L251.1,293.5L251.6,293.5L252.1,293.5L252.6,293.5L253.1,293.5L253.6,293.5L254.1,293.5L254.6,293.5L255.1,293.5L255.6,293.5L256.1,293.5L256.6,293.5L257.1,293.5L257.6,293.5L258.1,293.5L258.6,293.5L259.1,293.5L259.6,293.5L260.1,293.5L260.6,293.5L261.1,293.5L261.6,293.5L262.1,293.5L262.6,293.5L263.1,293.5L263.6,293.5L264.1,293.5L264.6,293.5L265.1,293.5L265.6,293.5L266.1,293.5L266.6,293.5L267.1,293.5L267.6,293.5L268.1,293.5L268.6,293.5L269.1,293.5L269.6,293.5L270.1,293.5L270.6,293.5L271.1,293.5L271.6,293.6L272.1,293.6L272.6,293.6L273.1,293.6L273.6,293.6L274.1,293.6L274.6,293.6L275.1,293.6L275.6,293.7L276.1,293.7L276.6,293.7L277.1,293.7L277.6,293.7L278.1,293.7L278.6,293.7L279.1,293.8L279.6,293.8L280.1,293.8L280.6,293.8L281.1,293.8L281.6,293.9L282.1,293.9L282.6,293.9L283.1,293.9L283.6,293.9L284.1,294.0L284.6,294.0L285.1,294.0L285.6,294.0L286.1,294.1L286.6,294.1L287.1,294.1L287.6,294.1L288.1,294.1L288.6,294.2L289.1,294.2L289.6,294.2L290.1,294.3L290.6,294.3L291.1,294.3L291.6,294.4L292.1,294.4L292.6,294.4L293.1,294.5L293.6,294.6L294.1,294.6L294.6,294.7L295.1,294.7L295.6,294.8L296.1,294.9L296.6,294.9L297.1,295.0L297.6,295.1L298.1,295.1L298.6,295.2L299.1,295.3L299.6,295.4L300.1,295.5L300.6,295.5L301.1,295.6L301.6,295.7L302.1,295.8L302.6,295.9L303.1,296.0L303.6,296.1L304.1,296.2L304.6,296.3L305.1,296.3L305.6,296.4L306.1,296.5L306.6,296.6L307.1,296.7L307.6,296.8L308.1,296.9L308.6,297.0L309.1,297.1L309.6,297.2L310.1,297.3L310.6,297.4L311.1,297.5L311.6,297.6L312.1,297.7L312.6,297.7L313.1,297.8L313.6,297.9L314.1,298.0L314.6,298.1L315.1,298.2L315.6,298.3L316.1,298.4L316.6,298.5L317.1,298.6L317.6,298.7L318.1,298.8L318.6,298.8L319.1,298.9L319.6,299.0L320.1,299.1L320.6,299.2L321.1,299.3L321.6,299.4L322.1,299.5L322.6,299.7L323.1,299.8L323.6,299.9L324.1,300.0L324.6,300.1L325.1,300.2L325.6,300.3L326.1,300.4L326.6,300.6L327.1,300.7L327.6,300.8L328.1,300.9L328.6,301.1L329.1,301.2L329.6,301.3L330.1,301.5L330.6,301.6L331.1,301.7L331.6,301.9L332.1,302.0L332.6,302.2L333.1,302.4L333.6,302.5L334.1,302.7L334.6,302.8L335.1,303.0L335.6,303.2L336.1,303.4L336.6,303.5L337.1,303.7L337.6,303.9L338.1,304.1L338.6,304.3L339.1,304.5L339.6,304.7L340.1,304.9L340.6,305.1L341.1,305.3L341.6,305.5L342.1,305.7L342.6,305.9L343.1,306.1L343.6,306.3L344.1,306.5L344.6,306.7L345.1,306.9L345.6,307.1L346.1,307.4L346.6,307.6L347.1,307.8L347.6,308.0L348.1,308.3L348.6,308.5L349.1,308.7L349.6,309.0L350.1,309.2L350.6,309.4L351.1,309.7L351.6,309.9L352.1,310.2L352.6,310.4L353.1,310.7L353.6,311.0L354.1,311.2L354.6,311.5L355.1,311.8L355.6,312.1L356.1,312.3L356.6,312.6L357.1,312.9L357.6,313.2L358.1,313.5L358.6,313.8L359.1,314.1L359.6,314.4L360.1,314.7L360.6,315.0L361.1,315.3L361.6,315.7L362.1,316.0L362.6,316.3L363.1,316.6L363.6,317.0L364.1,317.3L364.6,317.6L365.1,318.0L365.6,318.3L366.1,318.7L366.6,319.0L367.1,319.4L367.6,319.8L368.1,320.2L368.6,320.5L369.1,320.9L369.6,321.3L370.1,321.7L370.6,322.1L371.1,322.6L371.6,323.0L372.1,323.4L372.6,323.8L373.1,324.2L373.6,324.7L374.1,325.1L374.6,325.6L375.1,326.0L375.6,326.4L376.1,326.9L376.6,327.3L377.1,327.8L377.6,328.2L378.1,328.7L378.6,329.2L379.1,329.6L379.6,330.1L380.1,330.5L380.6,331.0L381.1,331.5L381.6,332.0L382.1,332.5L382.6,332.9L383.1,333.4L383.6,333.9L384.1,334.4L384.6,335.0L385.1,335.5L385.5,335.9L385.5,335.9L385.1,336.0L384.6,336.1L384.1,336.3L383.6,336.4L383.1,336.6L382.6,336.7L382.1,336.9L381.6,337.0L381.1,337.2L380.6,337.4L380.1,337.6L379.6,337.7L379.1,337.9L378.6,338.1L378.1,338.3L377.6,338.5L377.1,338.6L376.6,338.8L376.1,339.0L375.6,339.2L375.1,339.4L374.6,339.5L374.1,339.7L373.6,339.9L373.1,340.1L372.6,340.2L372.1,340.4L371.6,340.6L371.1,340.7L370.6,340.9L370.1,341.1L369.6,341.2L369.1,341.4L368.6,341.6L368.1,341.8L367.6,341.9L367.1,342.1L366.6,342.3L366.1,342.5L365.6,342.7L365.1,342.8L364.6,343.0L364.1,343.2L363.6,343.4L363.1,343.5L362.6,343.7L362.1,343.9L361.6,344.0L361.1,344.2L360.6,344.4L360.1,344.5L359.6,344.7L359.1,344.8L358.6,345.0L358.1,345.1L357.6,345.3L357.1,345.4L356.6,345.5L356.1,345.7L355.6,345.8L355.1,345.9L354.6,346.0L354.1,346.1L353.6,346.2L353.1,346.3L352.6,346.4L352.1,346.5L351.6,346.6L351.1,346.7L350.6,346.7L350.1,346.8L349.6,346.9L349.1,347.0L348.6,347.1L348.1,347.1L347.6,347.2L347.1,347.3L346.6,347.3L346.1,347.4L345.6,347.5L345.1,347.6L344.6,347.6L344.1,347.7L343.6,347.7L343.1,347.8L342.6,347.9L342.1,347.9L341.6,348.0L341.1,348.1L340.6,348.1L340.1,348.2L339.6,348.2L339.1,348.3L338.6,348.3L338.1,348.4L337.6,348.4L337.1,348.5L336.6,348.5L336.1,348.6L335.6,348.6L335.1,348.7L334.6,348.7L334.1,348.8L333.6,348.8L333.1,348.9L332.6,348.9L332.1,349.0L331.6,349.0L331.1,349.1L330.6,349.1L330.1,349.1L329.6,349.2L329.1,349.2L328.6,349.3L328.1,349.3L327.6,349.4L327.1,349.4L326.6,349.5L326.1,349.5L325.6,349.6L325.1,349.6L324.6,349.6L324.1,349.7L323.6,349.7L323.1,349.8L322.6,349.8L322.1,349.9L321.6,349.9L321.1,350.0L320.6,350.0L320.1,350.1L319.6,350.1L319.1,350.1L318.6,350.2L318.1,350.2L317.6,350.3L317.1,350.3L316.6,350.4L316.1,350.4L315.6,350.4L315.1,350.5L314.6,350.5L314.1,350.6L313.6,350.6L313.1,350.6L312.6,350.7L312.1,350.7L311.6,350.7L311.1,350.8L310.6,350.8L310.1,350.8L309.6,350.8L309.1,350.9L308.6,350.9L308.1,350.9L307.6,350.9L307.1,351.0L306.6,351.0L306.1,351.0L305.6,351.0L305.1,351.0L304.6,351.1L304.1,351.1L303.6,351.1L303.1,351.1L302.6,351.1L302.1,351.1L301.6,351.1L301.1,351.1L300.6,351.1L300.1,351.1L299.6,351.1L299.1,351.1L298.6,351.1L298.1,351.1L297.6,351.1L297.1,351.1L296.6,351.0L296.1,351.0L295.6,351.0L295.1,351.0L294.6,351.0L294.1,351.0L293.6,350.9L293.1,350.9L292.6,350.9L292.1,350.9L291.6,350.9L291.1,350.8L290.6,350.8L290.1,350.8L289.6,350.8L289.1,350.7L288.6,350.7L288.1,350.7L287.6,350.6L287.1,350.6L286.6,350.6L286.1,350.6L285.6,350.5L285.1,350.5L284.6,350.4L284.1,350.4L283.6,350.4L283.1,350.3L282.6,350.3L282.1,350.3L281.6,350.2L281.1,350.2L280.6,350.2L280.1,350.1L279.6,350.1L279.1,350.0L278.6,350.0L278.1,350.0L277.6,349.9L277.1,349.9L276.6,349.8L276.1,349.8L275.6,349.7L275.1,349.6L274.6,349.6L274.1,349.5L273.6,349.4L273.1,349.3L272.6,349.2L272.1,349.1L271.6,349.0L271.1,348.9L270.6,348.8L270.1,348.7L269.6,348.6L269.1,348.5L268.6,348.4L268.1,348.2L267.6,348.1L267.1,348.0L266.6,347.9L266.1,347.8L265.6,347.7L265.1,347.5L264.6,347.4L264.1,347.3L263.6,347.2L263.1,347.1L262.6,347.0L262.1,346.9L261.6,346.8L261.1,346.7L260.6,346.6L260.1,346.5L259.6,346.5L259.1,346.4L258.6,346.3L258.1,346.3L257.6,346.2L257.1,346.1L256.6,346.1L256.1,346.0L255.6,346.0L255.1,345.9L254.6,345.8L254.1,345.8L253.6,345.7L253.1,345.7L252.6,345.6L252.1,345.6L251.6,345.5L251.1,345.5L250.6,345.4L250.1,345.4L249.6,345.3L249.1,345.3L248.6,345.2L248.1,345.2L247.6,345.1L247.1,345.1L246.6,345.0L246.1,345.0L245.6,344.9L245.1,344.9L244.6,344.8L244.1,344.8L243.6,344.8L243.1,344.7L242.6,344.7L242.1,344.7L241.6,344.6L241.1,344.6L240.6,344.6L240.1,344.5L239.6,344.5L239.1,344.5L238.6,344.5L238.1,344.4L237.6,344.4L237.1,344.4Z" fill="#B2B2FE"/>
<path d="M385.5,335.9L385.6,336.0L386.1,336.5L386.6,337.0L387.1,337.5L387.6,338.0L388.1,338.5L388.6,339.1L389.1,339.6L389.6,340.1L390.1,340.6L390.6,341.1L391.1,341.6L391.6,342.1L392.1,342.6L392.6,343.1L393.1,343.6L393.6,344.2L394.1,344.7L394.6,345.2L395.1,345.7L395.6,346.3L396.1,346.8L396.6,347.3L397.1,347.8L397.6,348.4L398.1,348.9L398.6,349.4L399.1,349.9L399.6,350.4L400.1,350.9L400.6,351.3L401.1,351.8L401.6,352.3L402.1,352.7L402.6,353.1L403.1,353.6L403.6,354.0L404.1,354.4L404.6,354.8L405.1,355.2L405.6,355.7L406.1,356.1L406.6,356.5L407.1,356.9L407.6,357.3L408.1,357.7L408.6,358.1L409.1,358.5L409.6,358.9L410.1,359.2L410.6,359.6L411.1,360.0L411.6,360.4L412.1,360.7L412.6,361.1L413.1,361.4L413.6,361.8L414.1,362.1L414.6,362.5L415.1,362.8L415.6,363.1L416.1,363.4L416.6,363.7L417.1,364.0L417.6,364.3L418.1,364.6L418.6,364.8L419.1,365.1L419.6,365.3L420.1,365.6L420.6,365.8L421.1,366.1L421.6,366.3L422.1,366.5L422.6,366.7L423.1,367.0L423.6,367.2L424.1,367.4L424.6,367.6L425.1,367.8L425.6,368.0L426.1,368.2L426.6,368.4L427.1,368.5L427.6,368.7L428.1,368.9L428.6,369.1L429.1,369.3L429.6,369.4L430.1,369.6L430.6,369.8L431.1,370.0L431.6,370.1L432.1,370.3L432.6,370.5L433.1,370.6L433.6,370.8L434.1,371.0L434.6,371.1L435.1,371.3L435.6,371.5L436.1,371.6L436.6,371.8L437.1,372.0L437.6,372.1L438.1,372.3L438.6,372.5L439.1,372.6L439.6,372.8L440.1,373.0L440.6,373.1L441.1,373.3L441.6,373.4L442.1,373.6L442.6,373.7L443.1,373.9L443.6,374.0L444.1,374.2L444.6,374.3L445.1,374.5L445.6,374.6L446.1,374.8L446.6,374.9L447.1,375.1L447.6,375.2L448.1,375.4L448.6,375.5L449.1,375.7L449.6,375.8L450.1,376.0L450.6,376.1L451.1,376.3L451.6,376.4L452.1,376.6L452.6,376.7L453.1,376.9L453.6,377.0L454.1,377.2L454.6,377.3L455.1,377.5L455.6,377.7L456.1,377.8L456.6,378.0L457.1,378.2L457.6,378.4L458.1,378.6L458.6,378.7L459.1,378.9L459.6,379.1L460.1,379.3L460.6,379.5L461.1,379.7L461.6,379.9L462.1,380.1L462.6,380.3L463.1,380.5L463.6,380.7L464.1,380.9L464.6,381.1L465.1,381.3L465.6,381.5L466.1,381.7L466.6,382.0L467.1,382.2L467.6,382.4L468.1,382.6L468.6,382.8L469.1,383.1L469.6,383.3L470.1,383.5L470.6,383.7L471.1,384.0L471.6,384.2L472.1,384.4L472.6,384.7L473.1,384.9L473.6,385.2L474.1,385.5L474.6,385.8L475.1,386.0L475.6,386.3L476.1,386.6L476.6,386.9L477.1,387.2L477.6,387.4L478.1,387.7L478.6,388.0L479.1,388.2L479.6,388.4L480.1,388.6L480.6,388.8L481.1,389.0L481.6,389.2L482.1,389.3L482.6,389.5L483.1,389.7L483.6,389.8L484.1,390.0L484.6,390.1L485.1,390.3L485.6,390.4L486.1,390.6L486.6,390.7L487.1,390.8L487.6,390.9L488.1,391.0L488.2,391.1L488.2,390.4L488.1,390.4L487.6,390.3L487.1,390.2L486.6,390.1L486.1,389.9L485.6,389.8L485.1,389.6L484.6,389.4L484.1,389.2L483.6,389.0L483.1,388.8L482.6,388.5L482.1,388.3L481.6,388.1L481.1,387.8L480.6,387.5L480.1,387.2L479.6,386.9L479.1,386.5L478.6,386.1L478.1,385.7L477.6,385.2L477.1,384.8L476.6,384.3L476.1,383.9L475.6,383.4L475.1,382.9L474.6,382.4L474.1,382.0L473.6,381.5L473.1,381.1L472.6,380.6L472.1,380.1L471.6,379.7L471.1,379.2L470.6,378.7L470.1,378.2L469.6,377.7L469.1,377.2L468.6,376.7L468.1,376.1L467.6,375.6L467.1,375.1L466.6,374.6L466.1,374.1L465.6,373.6L465.1,373.1L464.6,372.5L464.1,372.0L463.6,371.5L463.1,371.0L462.6,370.5L462.1,370.0L461.6,369.5L461.1,369.0L460.6,368.5L460.1,368.0L459.6,367.4L459.1,366.9L458.6,366.4L458.1,365.9L457.6,365.3L457.1,364.8L456.6,364.3L456.1,363.8L455.6,363.2L455.1,362.7L454.6,362.2L454.1,361.7L453.6,361.2L453.1,360.7L452.6,360.2L452.1,359.7L451.6,359.2L451.1,358.7L450.6,358.2L450.1,357.7L449.6,357.3L449.1,356.8L448.6,356.4L448.1,356.0L447.6,355.6L447.1,355.1L446.6,354.7L446.1,354.3L445.6,353.9L445.1,353.5L444.6,353.1L444.1,352.7L443.6,352.4L443.1,352.0L442.6,351.6L442.1,351.2L441.6,350.8L441.1,350.5L440.6,350.1L440.1,349.8L439.6,349.4L439.1,349.0L438.6,348.7L438.1,348.3L437.6,348.0L437.1,347.7L436.6,347.3L436.1,347.0L435.6,346.7L435.1,346.3L434.6,346.0L434.1,345.7L433.6,345.4L433.1,345.1L432.6,344.8L432.1,344.5L431.6,344.2L431.1,343.9L430.6,343.6L430.1,343.3L429.6,343.0L429.1,342.7L428.6,342.4L428.1,342.0L427.6,341.7L427.1,341.4L426.6,341.1L426.1,340.8L425.6,340.5L425.1,340.2L424.6,339.9L424.1,339.6L423.6,339.3L423.1,339.0L422.6,338.7L422.1,338.4L421.6,338.1L421.1,337.8L420.6,337.5L420.1,337.3L419.6,337.0L419.1,336.8L418.6,336.5L418.1,336.3L417.6,336.1L417.1,335.9L416.6,335.7L416.1,335.5L415.6,335.3L415.1,335.1L414.6,335.0L414.1,334.9L413.6,334.7L413.1,334.6L412.6,334.5L412.1,334.5L411.6,334.4L411.1,334.3L410.6,334.2L410.1,334.1L409.6,334.1L409.1,334.0L408.6,333.9L408.1,333.9L407.6,333.8L407.1,333.7L406.6,333.7L406.1,333.6L405.6,333.6L405.1,333.5L404.6,333.5L404.1,333.4L403.6,333.4L403.1,333.4L402.6,333.4L402.1,333.3L401.6,333.3L401.1,333.3L400.6,333.3L400.1,333.3L399.6,333.3L399.1,333.3L398.6,333.4L398.1,333.4L397.6,333.5L397.1,333.5L396.6,333.6L396.1,333.6L395.6,333.7L395.1,333.8L394.6,333.9L394.1,334.0L393.6,334.1L393.1,334.2L392.6,334.3L392.1,334.4L391.6,334.5L391.1,334.6L390.6,334.7L390.1,334.8L389.6,334.9L389.1,335.1L388.6,335.2L388.1,335.3L387.6,335.4L387.1,335.5L386.6,335.6L386.1,335.7L385.6,335.9L385.5,335.9Z" fill="#FDB56F"/>
<path d="M180.4,363.3L180.9,363.3L181.4,363.3L181.9,363.3L182.4,363.3L182.9,363.4L183.4,363.4L183.9,363.4L184.4,363.4L184.9,363.4L185.4,363.4L185.9,363.4L186.4,363.4L186.9,363.5L187.4,363.5L187.9,363.5L188.4,363.5L188.9,363.5L189.4,363.5L189.9,363.5L190.4,363.6L190.9,363.6L191.4,363.6L191.9,363.6L192.4,363.6L192.9,363.6L193.4,363.6L193.9,363.7L194.4,363.7L194.9,363.7L195.4,363.7L195.9,363.7L196.4,363.7L196.9,363.8L197.4,363.8L197.9,363.8L198.4,363.8L198.9,363.8L199.4,363.8L199.9,363.9L200.4,363.9L200.9,363.9L201.4,363.9L201.9,364.0L202.4,364.0L202.9,364.0L203.4,364.0L203.9,364.1L204.4,364.1L204.9,364.1L205.4,364.2L205.9,364.2L206.4,364.2L206.9,364.2L207.4,364.3L207.9,364.3L208.4,364.3L208.9,364.3L209.4,364.4L209.9,364.4L210.4,364.4L210.9,364.4L211.4,364.4L211.9,364.5L212.4,364.5L212.9,364.5L213.4,364.5L213.9,364.5L214.4,364.5L214.9,364.5L215.4,364.5L215.9,364.5L216.4,364.4L216.9,364.4L217.4,364.4L217.9,364.3L218.4,364.3L218.9,364.2L219.4,364.1L219.9,364.1L220.4,364.0L220.9,363.9L221.4,363.9L221.9,363.8L222.4,363.7L222.9,363.6L223.4,363.6L223.9,363.5L224.4,363.4L224.9,363.4L225.4,363.3L225.9,363.3L226.4,363.2L226.9,363.2L227.4,363.1L227.9,363.1L228.4,363.1L228.9,363.1L229.4,363.1L229.9,363.1L230.4,363.1L230.9,363.1L231.4,363.1L231.9,363.2L232.4,363.2L232.9,363.2L233.4,363.2L233.9,363.3L234.4,363.3L234.9,363.3L235.4,363.4L235.9,363.4L236.4,363.4L236.9,363.5L237.4,363.5L237.9,363.6L238.4,363.6L238.9,363.7L239.4,363.7L239.9,363.8L240.4,363.8L240.9,363.9L241.4,363.9L241.9,364.0L242.4,364.0L242.9,364.1L243.4,364.1L243.9,364.2L244.4,364.2L244.9,364.3L245.4,364.3L245.9,364.4L246.4,364.5L246.9,364.5L247.4,364.6L247.9,364.7L248.4,364.8L248.9,364.8L249.4,364.9L249.9,365.0L250.4,365.1L250.9,365.2L251.4,365.3L251.9,365.3L252.4,365.4L252.9,365.5L253.4,365.6L253.9,365.7L254.4,365.8L254.9,365.9L255.4,366.0L255.9,366.1L256.4,366.2L256.9,366.3L257.4,366.4L257.9,366.5L258.4,366.6L258.9,366.7L259.4,366.8L259.9,366.9L260.4,367.0L260.9,367.1L261.4,367.3L261.9,367.4L262.4,367.5L262.9,367.6L263.4,367.7L263.9,367.8L264.4,367.9L264.9,368.0L265.4,368.1L265.9,368.3L266.4,368.4L266.9,368.5L267.4,368.6L267.9,368.7L268.4,368.9L268.9,369.0L269.4,369.1L269.9,369.2L270.4,369.4L270.9,369.5L271.4,369.6L271.9,369.8L272.4,369.9L272.9,370.0L273.4,370.2L273.9,370.3L274.4,370.5L274.9,370.6L275.4,370.7L275.9,370.9L276.4,371.0L276.9,371.2L277.4,371.3L277.9,371.5L278.4,371.6L278.9,371.8L279.4,371.9L279.9,372.1L280.4,372.3L280.9,372.4L281.4,372.6L281.9,372.7L282.4,372.9L282.9,373.0L283.4,373.2L283.9,373.4L284.4,373.5L284.9,373.7L285.4,373.9L285.9,374.0L286.4,374.2L286.9,374.4L287.4,374.5L287.9,374.7L288.4,374.9L288.9,375.1L289.4,375.2L289.9,375.4L290.4,375.6L290.9,375.8L291.4,376.0L291.9,376.1L292.4,376.3L292.9,376.5L293.4,376.7L293.9,376.9L294.4,377.1L294.9,377.3L295.4,377.5L295.9,377.7L296.4,377.9L296.9,378.1L297.4,378.3L297.9,378.5L298.4,378.7L298.9,378.9L299.4,379.1L299.9,379.4L300.4,379.6L300.9,379.8L301.4,380.0L301.9,380.2L302.4,380.5L302.9,380.7L303.4,380.9L303.9,381.2L304.4,381.4L304.9,381.7L305.4,381.9L305.9,382.1L306.4,382.4L306.9,382.6L307.4,382.9L307.9,383.2L308.4,383.4L308.9,383.7L309.4,383.9L309.9,384.2L310.4,384.5L310.9,384.8L311.4,385.1L311.9,385.4L312.4,385.7L312.9,386.0L313.4,386.3L313.9,386.6L314.4,386.9L314.9,387.2L315.4,387.5L315.9,387.9L316.4,388.2L316.9,388.6L317.4,388.9L317.9,389.3L318.4,389.6L318.9,390.0L319.4,390.4L319.9,390.7L320.4,391.1L320.9,391.5L321.4,391.9L321.9,392.3L322.4,392.7L322.9,393.1L323.4,393.5L323.9,393.9L324.4,394.3L324.9,394.8L325.4,395.2L325.9,395.6L326.4,396.1L326.9,396.5L327.4,397.0L327.9,397.5L328.4,398.0L328.9,398.5L329.4,399.0L329.9,399.5L330.4,400.0L330.9,400.6L331.4,401.1L331.9,401.7L332.4,402.2L332.9,402.8L333.4,403.4L333.9,404.0L334.4,404.6L334.9,405.2L335.4,405.8L335.9,406.4L336.4,407.0L336.9,407.6L337.4,408.2L337.9,408.8L338.4,409.4L338.9,410.0L339.4,410.7L339.9,411.3L340.4,412.0L340.9,412.7L341.4,413.4L341.9,414.0L342.4,414.7L342.9,415.4L342.9,415.4L342.4,415.6L341.9,416.0L341.4,416.4L340.9,416.8L340.4,417.3L339.9,417.9L339.4,418.5L338.9,419.1L338.4,419.7L337.9,420.3L337.4,420.9L336.9,421.5L336.4,422.1L335.9,422.6L335.4,423.1L334.9,423.6L334.4,424.1L333.9,424.6L333.4,425.1L332.9,425.6L332.4,426.1L331.9,426.6L331.4,427.1L330.9,427.5L330.4,428.0L329.9,428.5L329.4,428.9L328.9,429.3L328.4,429.7L327.9,430.1L327.4,430.5L326.9,430.8L326.4,431.1L325.9,431.4L325.4,431.7L324.9,432.0L324.4,432.2L323.9,432.5L323.4,432.7L322.9,433.0L322.4,433.2L321.9,433.5L321.4,433.7L320.9,433.9L320.4,434.2L319.9,434.4L319.4,434.6L318.9,434.8L318.4,434.9L317.9,435.1L317.4,435.3L316.9,435.4L316.4,435.6L315.9,435.7L315.4,435.8L314.9,436.0L314.4,436.1L313.9,436.2L313.4,436.2L312.9,436.3L312.4,436.4L311.9,436.5L311.4,436.6L310.9,436.7L310.4,436.7L309.9,436.8L309.4,436.9L308.9,436.9L308.4,437.0L307.9,437.1L307.4,437.1L306.9,437.2L306.4,437.3L305.9,437.3L305.4,437.4L304.9,437.4L304.4,437.5L303.9,437.5L303.4,437.6L302.9,437.6L302.4,437.7L301.9,437.7L301.4,437.7L300.9,437.8L300.4,437.8L299.9,437.9L299.4,437.9L298.9,437.9L298.4,438.0L297.9,438.0L297.4,438.0L296.9,438.0L296.4,438.1L295.9,438.1L295.4,438.1L294.9,438.1L294.4,438.2L293.9,438.2L293.4,438.2L292.9,438.2L292.4,438.3L291.9,438.3L291.4,438.3L290.9,438.3L290.4,438.4L289.9,438.4L289.4,438.4L288.9,438.4L288.4,438.4L287.9,438.5L287.4,438.5L286.9,438.5L286.4,438.5L285.9,438.5L285.4,438.5L284.9,438.6L284.4,438.6L283.9,438.6L283.4,438.6L282.9,438.6L282.4,438.6L281.9,438.7L281.4,438.7L280.9,438.7L280.4,438.7L279.9,438.7L279.4,438.7L278.9,438.7L278.4,438.8L277.9,438.8L277.4,438.8L276.9,438.8L276.4,438.8L275.9,438.8L275.4,438.9L274.9,438.9L274.4,438.9L273.9,438.9L273.4,438.9L272.9,438.9L272.4,439.0L271.9,439.0L271.4,439.0L270.9,439.0L270.4,439.0L269.9,439.0L269.4,439.1L268.9,439.1L268.4,439.1L267.9,439.1L267.4,439.1L266.9,439.2L266.4,439.2L265.9,439.2L265.4,439.2L264.9,439.2L264.4,439.3L263.9,439.3L263.4,439.3L262.9,439.3L262.4,439.3L261.9,439.4L261.4,439.4L260.9,439.4L260.4,439.4L259.9,439.4L259.4,439.4L258.9,439.5L258.4,439.5L257.9,439.5L257.4,439.5L256.9,439.5L256.4,439.5L255.9,439.5L255.4,439.5L254.9,439.6L254.4,439.6L253.9,439.6L253.4,439.6L252.9,439.6L252.4,439.6L251.9,439.6L251.4,439.6L250.9,439.6L250.4,439.6L249.9,439.6L249.4,439.6L248.9,439.6L248.4,439.6L247.9,439.6L247.4,439.6L246.9,439.6L246.4,439.6L245.9,439.6L245.4,439.6L244.9,439.6L244.4,439.6L243.9,439.5L243.4,439.5L242.9,439.5L242.4,439.5L241.9,439.5L241.4,439.5L240.9,439.5L240.4,439.5L239.9,439.5L239.4,439.4L238.9,439.4L238.4,439.4L237.9,439.4L237.4,439.4L236.9,439.4L236.4,439.3L235.9,439.3L235.4,439.3L234.9,439.3L234.4,439.3L233.9,439.2L233.4,439.2L232.9,439.2L232.4,439.2L231.9,439.1L231.4,439.1L230.9,439.1L230.4,439.0L229.9,438.8L229.4,438.6L228.9,438.4L228.4,438.2L227.9,437.9L227.4,437.6L226.9,437.4L226.4,437.1L225.9,436.8L225.4,436.6L224.9,436.4L224.4,436.2L223.9,436.0L223.4,435.8L222.9,435.7L222.4,435.5L221.9,435.4L221.4,435.2L220.9,435.1L220.4,435.0L219.9,434.8L219.4,434.7L218.9,434.6L218.4,434.5L217.9,434.4L217.4,434.3L216.9,434.2L216.4,434.1L215.9,434.0L215.4,433.9L214.9,433.8L214.4,433.7L213.9,433.6L213.4,433.6L212.9,433.5L212.4,433.4L211.9,433.3L211.4,433.3L210.9,433.2L210.4,433.1L209.9,433.0L209.4,433.0L208.9,432.9L208.4,432.8L207.9,432.8L207.4,432.7L206.9,432.7L206.4,432.6L205.9,432.5L205.4,432.5L204.9,432.4L204.4,432.4L203.9,432.3L203.4,432.3L202.9,432.2L202.4,432.2L201.9,432.1L201.4,432.1L200.9,432.0L200.4,432.0L199.9,431.9L199.4,431.9L198.9,431.9L198.4,431.8L197.9,431.8L197.4,431.7L196.9,431.7L196.4,431.7L195.9,431.6L195.4,431.6L194.9,431.6L194.4,431.5L193.9,431.5L193.4,431.4L192.9,431.4L192.4,431.4L191.9,431.3L191.4,431.3L190.9,431.3L190.4,431.2L189.9,431.2L189.4,431.2L188.9,431.2L188.4,431.1L187.9,431.1L187.4,431.1L186.9,431.0L186.4,431.0L185.9,431.0L185.4,431.0L184.9,430.9L184.4,430.9L183.9,430.9L183.4,430.9L182.9,430.9L182.4,430.9L181.9,430.8L181.4,430.8L180.9,430.8L180.4,430.8Z" fill="#B2B2FE"/>
<path d="M342.9,415.4L342.9,415.4L343.4,416.1L343.9,416.8L344.4,417.5L344.9,418.2L345.4,418.8L345.9,419.5L346.4,420.2L346.9,420.9L347.4,421.6L347.9,422.3L348.4,423.0L348.9,423.7L349.4,424.4L349.9,425.1L350.4,425.8L350.9,426.5L351.4,427.2L351.9,427.9L352.4,428.6L352.9,429.3L353.4,429.9L353.9,430.5L354.4,431.2L354.9,431.8L355.4,432.4L355.9,433.1L356.4,433.7L356.9,434.3L357.4,435.0L357.9,435.6L358.4,436.2L358.9,436.9L359.4,437.5L359.9,438.1L360.4,438.6L360.9,439.2L361.4,439.7L361.9,440.2L362.4,440.7L362.9,441.1L363.4,441.6L363.9,441.9L364.4,442.3L364.9,442.6L365.4,442.9L365.9,443.3L366.4,443.6L366.9,443.9L367.4,444.2L367.9,444.5L368.4,444.7L368.9,445.0L369.4,445.3L369.9,445.5L370.4,445.8L370.9,446.0L371.4,446.2L371.9,446.5L372.4,446.7L372.9,446.9L373.4,447.1L373.9,447.3L374.4,447.4L374.9,447.6L375.4,447.8L375.9,447.9L376.4,448.1L376.9,448.2L377.4,448.4L377.9,448.5L378.4,448.6L378.9,448.8L379.4,448.9L379.9,449.0L380.4,449.1L380.9,449.3L381.4,449.4L381.9,449.5L382.4,449.6L382.9,449.7L383.4,449.8L383.9,449.9L384.4,450.0L384.9,450.1L385.4,450.2L385.9,450.3L386.4,450.4L386.9,450.5L387.4,450.6L387.9,450.6L388.4,450.7L388.9,450.8L389.4,450.9L389.9,451.0L390.4,451.1L390.9,451.2L391.4,451.3L391.9,451.4L392.4,451.5L392.9,451.6L393.4,451.7L393.9,451.8L394.4,451.9L394.9,452.0L395.4,452.1L395.9,452.2L396.4,452.3L396.9,452.4L397.4,452.5L397.9,452.6L398.4,452.7L398.9,452.8L399.4,452.9L399.9,453.0L400.4,453.1L400.9,453.2L401.4,453.3L401.9,453.4L402.4,453.5L402.9,453.6L403.4,453.7L403.9,453.8L404.4,453.9L404.9,454.0L405.4,454.1L405.9,454.2L406.4,454.3L406.9,454.3L407.4,454.4L407.9,454.5L408.4,454.6L408.9,454.7L409.4,454.7L409.9,454.8L410.4,454.9L410.9,454.9L411.4,455.0L411.9,455.1L412.4,455.1L412.9,455.2L413.4,455.3L413.9,455.3L414.4,455.4L414.9,455.5L415.4,455.6L415.9,455.6L416.4,455.7L416.9,455.7L417.4,455.8L417.9,455.9L418.4,455.9L418.4,455.6L417.9,455.5L417.4,455.5L416.9,455.4L416.4,455.3L415.9,455.1L415.4,455.0L414.9,454.9L414.4,454.7L413.9,454.6L413.4,454.4L412.9,454.2L412.4,454.0L411.9,453.8L411.4,453.6L410.9,453.4L410.4,453.2L409.9,453.0L409.4,452.8L408.9,452.6L408.4,452.4L407.9,452.1L407.4,451.8L406.9,451.6L406.4,451.3L405.9,450.9L405.4,450.6L404.9,450.2L404.4,449.9L403.9,449.5L403.4,449.1L402.9,448.8L402.4,448.4L401.9,448.0L401.4,447.6L400.9,447.2L400.4,446.7L399.9,446.3L399.4,445.8L398.9,445.3L398.4,444.8L397.9,444.3L397.4,443.8L396.9,443.3L396.4,442.7L395.9,442.2L395.4,441.7L394.9,441.1L394.4,440.6L393.9,440.0L393.4,439.5L392.9,439.0L392.4,438.5L391.9,437.9L391.4,437.4L390.9,436.9L390.4,436.5L389.9,436.0L389.4,435.6L388.9,435.1L388.4,434.6L387.9,434.2L387.4,433.8L386.9,433.3L386.4,432.9L385.9,432.4L385.4,432.0L384.9,431.6L384.4,431.1L383.9,430.7L383.4,430.3L382.9,429.8L382.4,429.4L381.9,429.0L381.4,428.6L380.9,428.2L380.4,427.8L379.9,427.4L379.4,427.0L378.9,426.6L378.4,426.2L377.9,425.8L377.4,425.4L376.9,425.0L376.4,424.6L375.9,424.3L375.4,423.9L374.9,423.5L374.4,423.1L373.9,422.7L373.4,422.4L372.9,422.0L372.4,421.6L371.9,421.2L371.4,420.8L370.9,420.4L370.4,420.0L369.9,419.6L369.4,419.2L368.9,418.8L368.4,418.5L367.9,418.1L367.4,417.8L366.9,417.4L366.4,417.1L365.9,416.8L365.4,416.5L364.9,416.2L364.4,415.9L363.9,415.6L363.4,415.4L362.9,415.2L362.4,415.0L361.9,414.8L361.4,414.6L360.9,414.5L360.4,414.3L359.9,414.2L359.4,414.0L358.9,413.9L358.4,413.7L357.9,413.6L357.4,413.4L356.9,413.3L356.4,413.2L355.9,413.0L355.4,412.9L354.9,412.8L354.4,412.7L353.9,412.6L353.4,412.6L352.9,412.5L352.4,412.5L351.9,412.4L351.4,412.4L350.9,412.4L350.4,412.4L349.9,412.5L349.4,412.5L348.9,412.6L348.4,412.8L347.9,412.9L347.4,413.1L346.9,413.3L346.4,413.5L345.9,413.8L345.4,414.0L344.9,414.2L344.4,414.5L343.9,414.8L343.4,415.1L342.9,415.3L342.9,415.4Z" fill="#FDB56F"/>
<path d="M131.4,453.8L131.9,453.8L132.4,453.8L132.9,453.8L133.4,453.8L133.9,453.8L134.4,453.9L134.9,453.9L135.4,453.9L135.9,453.9L136.4,453.9L136.9,453.9L137.4,453.9L137.9,453.9L138.4,453.9L138.9,454.0L139.4,454.0L139.9,454.0L140.4,454.0L140.9,454.0L141.4,454.0L141.9,454.0L142.4,454.1L142.9,454.1L143.4,454.1L143.9,454.1L144.4,454.1L144.9,454.1L145.4,454.1L145.9,454.2L146.4,454.2L146.9,454.2L147.4,454.2L147.9,454.2L148.4,454.2L148.9,454.3L149.4,454.3L149.9,454.3L150.4,454.3L150.9,454.3L151.4,454.3L151.9,454.4L152.4,454.4L152.9,454.4L153.4,454.4L153.9,454.4L154.4,454.5L154.9,454.5L155.4,454.5L155.9,454.5L156.4,454.5L156.9,454.6L157.4,454.6L157.9,454.6L158.4,454.6L158.9,454.7L159.4,454.7L159.9,454.7L160.4,454.8L160.9,454.8L161.4,454.8L161.9,454.9L162.4,454.9L162.9,454.9L163.4,455.0L163.9,455.0L164.4,455.0L164.9,455.1L165.4,455.1L165.9,455.2L166.4,455.2L166.9,455.2L167.4,455.2L167.9,455.3L168.4,455.3L168.9,455.3L169.4,455.4L169.9,455.4L170.4,455.4L170.9,455.4L171.4,455.4L171.9,455.5L172.4,455.5L172.9,455.5L173.4,455.5L173.9,455.5L174.4,455.5L174.9,455.5L175.4,455.5L175.9,455.5L176.4,455.4L176.9,455.4L177.4,455.3L177.9,455.3L178.4,455.2L178.9,455.2L179.4,455.1L179.9,455.1L180.4,455.0L180.9,454.9L181.4,454.9L181.9,454.8L182.4,454.8L182.9,454.7L183.4,454.7L183.9,454.6L184.4,454.6L184.9,454.5L185.4,454.5L185.9,454.5L186.4,454.5L186.9,454.5L187.4,454.5L187.9,454.5L188.4,454.5L188.9,454.6L189.4,454.6L189.9,454.6L190.4,454.7L190.9,454.7L191.4,454.8L191.9,454.8L192.4,454.8L192.9,454.9L193.4,454.9L193.9,455.0L194.4,455.1L194.9,455.1L195.4,455.2L195.9,455.2L196.4,455.3L196.9,455.3L197.4,455.4L197.9,455.5L198.4,455.5L198.9,455.6L199.4,455.6L199.9,455.7L200.4,455.8L200.9,455.9L201.4,455.9L201.9,456.0L202.4,456.1L202.9,456.2L203.4,456.3L203.9,456.4L204.4,456.4L204.9,456.5L205.4,456.6L205.9,456.7L206.4,456.8L206.9,456.9L207.4,457.0L207.9,457.1L208.4,457.2L208.9,457.4L209.4,457.5L209.9,457.6L210.4,457.7L210.9,457.8L211.4,457.9L211.9,458.0L212.4,458.1L212.9,458.2L213.4,458.3L213.9,458.4L214.4,458.5L214.9,458.6L215.4,458.7L215.9,458.9L216.4,459.0L216.9,459.1L217.4,459.2L217.9,459.3L218.4,459.4L218.9,459.5L219.4,459.6L219.9,459.7L220.4,459.9L220.9,460.0L221.4,460.1L221.9,460.2L222.4,460.3L222.9,460.4L223.4,460.6L223.9,460.7L224.4,460.8L224.9,460.9L225.4,461.0L225.9,461.2L226.4,461.3L226.9,461.4L227.4,461.5L227.9,461.7L228.4,461.8L228.9,461.9L229.4,462.1L229.9,462.2L230.4,462.4L230.9,462.5L231.4,462.6L231.9,462.8L232.4,462.9L232.9,463.1L233.4,463.2L233.9,463.4L234.4,463.5L234.9,463.7L235.4,463.8L235.9,464.0L236.4,464.1L236.9,464.3L237.4,464.5L237.9,464.6L238.4,464.8L238.9,465.0L239.4,465.2L239.9,465.3L240.4,465.5L240.9,465.7L241.4,465.9L241.9,466.1L242.4,466.3L242.9,466.4L243.4,466.6L243.9,466.8L244.4,467.0L244.9,467.2L245.4,467.4L245.9,467.6L246.4,467.8L246.9,468.0L247.4,468.2L247.9,468.4L248.4,468.6L248.9,468.8L249.4,469.0L249.9,469.3L250.4,469.5L250.9,469.7L251.4,469.9L251.9,470.1L252.4,470.3L252.9,470.5L253.4,470.7L253.9,471.0L254.4,471.2L254.9,471.4L255.4,471.6L255.9,471.8L256.4,472.1L256.9,472.3L257.4,472.5L257.9,472.7L258.4,473.0L258.9,473.2L259.4,473.4L259.9,473.7L260.4,473.9L260.9,474.1L261.4,474.4L261.9,474.6L262.4,474.9L262.9,475.1L263.4,475.4L263.9,475.6L264.4,475.9L264.9,476.1L265.4,476.4L265.9,476.7L266.4,476.9L266.9,477.2L267.4,477.5L267.9,477.8L268.4,478.0L268.9,478.3L269.4,478.6L269.9,478.9L270.4,479.2L270.9,479.5L271.4,479.8L271.9,480.1L272.4,480.4L272.9,480.7L273.4,481.0L273.9,481.4L274.4,481.7L274.9,482.0L275.4,482.4L275.9,482.7L276.4,483.1L276.9,483.4L277.4,483.8L277.9,484.1L278.4,484.5L278.9,484.9L279.4,485.3L279.9,485.7L280.4,486.0L280.9,486.4L281.4,486.8L281.9,487.2L282.4,487.6L282.9,488.1L283.4,488.5L283.9,488.9L284.4,489.3L284.9,489.7L285.4,490.2L285.9,490.6L286.4,491.0L286.9,491.5L287.4,491.9L287.9,492.4L288.4,492.9L288.9,493.4L289.4,493.9L289.9,494.4L290.4,494.9L290.9,495.4L291.4,495.9L291.9,496.4L292.4,497.0L292.9,497.5L293.4,498.0L293.9,498.6L294.4,499.1L294.9,499.6L295.4,500.1L295.9,500.7L296.4,501.2L296.9,501.7L297.4,502.2L297.9,502.7L298.4,503.2L298.9,503.7L299.4,504.3L299.9,504.8L300.4,505.4L300.9,505.9L301.4,506.4L301.9,507.0L302.4,507.5L302.9,508.1L303.4,508.6L303.9,509.1L304.4,509.6L304.9,510.0L305.4,510.5L305.9,510.9L306.4,511.4L306.9,511.8L307.4,512.1L307.9,512.5L308.4,512.9L308.9,513.2L309.4,513.6L309.9,514.0L310.4,514.3L310.9,514.7L311.4,515.0L311.9,515.2L312.4,515.5L312.6,515.6L312.6,515.6L312.4,515.6L311.9,515.5L311.4,515.5L310.9,515.4L310.4,515.4L309.9,515.4L309.4,515.4L308.9,515.4L308.4,515.4L307.9,515.4L307.4,515.4L306.9,515.4L306.4,515.5L305.9,515.5L305.4,515.5L304.9,515.5L304.4,515.5L303.9,515.6L303.4,515.6L302.9,515.6L302.4,515.7L301.9,515.7L301.4,515.7L300.9,515.8L300.4,515.8L299.9,515.8L299.4,515.9L298.9,515.9L298.4,515.9L297.9,516.0L297.4,516.0L296.9,516.1L296.4,516.1L295.9,516.1L295.4,516.2L294.9,516.2L294.4,516.2L293.9,516.3L293.4,516.3L292.9,516.3L292.4,516.4L291.9,516.4L291.4,516.4L290.9,516.5L290.4,516.5L289.9,516.5L289.4,516.5L288.9,516.5L288.4,516.6L287.9,516.6L287.4,516.6L286.9,516.6L286.4,516.6L285.9,516.6L285.4,516.6L284.9,516.6L284.4,516.6L283.9,516.6L283.4,516.6L282.9,516.6L282.4,516.6L281.9,516.6L281.4,516.6L280.9,516.6L280.4,516.6L279.9,516.6L279.4,516.6L278.9,516.6L278.4,516.6L277.9,516.6L277.4,516.6L276.9,516.5L276.4,516.5L275.9,516.5L275.4,516.5L274.9,516.5L274.4,516.5L273.9,516.5L273.4,516.5L272.9,516.5L272.4,516.5L271.9,516.5L271.4,516.5L270.9,516.5L270.4,516.5L269.9,516.4L269.4,516.4L268.9,516.4L268.4,516.4L267.9,516.4L267.4,516.4L266.9,516.4L266.4,516.4L265.9,516.4L265.4,516.4L264.9,516.4L264.4,516.3L263.9,516.3L263.4,516.3L262.9,516.3L262.4,516.3L261.9,516.3L261.4,516.3L260.9,516.3L260.4,516.3L259.9,516.3L259.4,516.3L258.9,516.2L258.4,516.2L257.9,516.2L257.4,516.2L256.9,516.2L256.4,516.2L255.9,516.2L255.4,516.2L254.9,516.2L254.4,516.2L253.9,516.2L253.4,516.1L252.9,516.1L252.4,516.1L251.9,516.1L251.4,516.1L250.9,516.1L250.4,516.1L249.9,516.1L249.4,516.1L248.9,516.1L248.4,516.1L247.9,516.1L247.4,516.1L246.9,516.1L246.4,516.0L245.9,516.0L245.4,516.0L244.9,516.0L244.4,516.0L243.9,516.0L243.4,516.0L242.9,516.0L242.4,516.0L241.9,516.0L241.4,516.0L240.9,516.0L240.4,515.9L239.9,515.9L239.4,515.9L238.9,515.9L238.4,515.9L237.9,515.9L237.4,515.9L236.9,515.9L236.4,515.9L235.9,515.9L235.4,515.9L234.9,515.9L234.4,515.9L233.9,515.8L233.4,515.8L232.9,515.8L232.4,515.8L231.9,515.8L231.4,515.8L230.9,515.8L230.4,515.8L229.9,515.8L229.4,515.8L228.9,515.8L228.4,515.8L227.9,515.8L227.4,515.7L226.9,515.7L226.4,515.7L225.9,515.7L225.4,515.7L224.9,515.7L224.4,515.7L223.9,515.7L223.4,515.7L222.9,515.7L222.4,515.7L221.9,515.7L221.4,515.7L220.9,515.7L220.4,515.7L219.9,515.7L219.4,515.6L218.9,515.6L218.4,515.6L217.9,515.6L217.4,515.6L216.9,515.6L216.4,515.6L215.9,515.6L215.4,515.6L214.9,515.6L214.4,515.6L213.9,515.6L213.4,515.6L212.9,515.6L212.4,515.6L211.9,515.6L211.4,515.6L210.9,515.6L210.4,515.6L209.9,515.6L209.4,515.6L208.9,515.6L208.4,515.6L207.9,515.6L207.4,515.6L206.9,515.5L206.4,515.5L205.9,515.5L205.4,515.5L204.9,515.5L204.4,515.5L203.9,515.5L203.4,515.5L202.9,515.5L202.4,515.5L201.9,515.5L201.4,515.5L200.9,515.5L200.4,515.5L199.9,515.5L199.4,515.5L198.9,515.5L198.4,515.5L197.9,515.5L197.4,515.5L196.9,515.5L196.4,515.5L195.9,515.5L195.4,515.5L194.9,515.5L194.4,515.5L193.9,515.5L193.4,515.5L192.9,515.5L192.4,515.5L191.9,515.5L191.4,515.5L190.9,515.5L190.4,515.5L189.9,515.5L189.4,515.5L188.9,515.5L188.4,515.5L187.9,515.5L187.4,515.5L186.9,515.4L186.4,515.4L185.9,515.4L185.4,515.4L184.9,515.4L184.4,515.4L183.9,515.4L183.4,515.4L182.9,515.4L182.4,515.4L181.9,515.4L181.4,515.4L180.9,515.4L180.4,515.4L179.9,515.4L179.4,515.4L178.9,515.4L178.4,515.3L177.9,515.3L177.4,515.3L176.9,515.3L176.4,515.3L175.9,515.3L175.4,515.2L174.9,515.2L174.4,515.2L173.9,515.2L173.4,515.2L172.9,515.1L172.4,515.1L171.9,515.1L171.4,515.1L170.9,515.0L170.4,515.0L169.9,515.0L169.4,515.0L168.9,514.9L168.4,514.9L167.9,514.9L167.4,514.9L166.9,514.8L166.4,514.8L165.9,514.8L165.4,514.7L164.9,514.7L164.4,514.7L163.9,514.7L163.4,514.6L162.9,514.6L162.4,514.6L161.9,514.5L161.4,514.5L160.9,514.5L160.4,514.5L159.9,514.4L159.4,514.4L158.9,514.4L158.4,514.3L157.9,514.3L157.4,514.3L156.9,514.3L156.4,514.2L155.9,514.2L155.4,514.2L154.9,514.2L154.4,514.1L153.9,514.1L153.4,514.1L152.9,514.1L152.4,514.1L151.9,514.0L151.4,514.0L150.9,514.0L150.4,514.0L149.9,513.9L149.4,513.9L148.9,513.9L148.4,513.9L147.9,513.8L147.4,513.8L146.9,513.8L146.4,513.8L145.9,513.7L145.4,513.7L144.9,513.7L144.4,513.7L143.9,513.6L143.4,513.6L142.9,513.6L142.4,513.6L141.9,513.5L141.4,513.5L140.9,513.5L140.4,513.5L139.9,513.4L139.4,513.4L138.9,513.4L138.4,513.4L137.9,513.3L137.4,513.3L136.9,513.3L136.4,513.3L135.9,513.2L135.4,513.2L134.9,513.2L134.4,513.2L133.9,513.1L133.4,513.1L132.9,513.1L132.4,513.1L131.9,513.0L131.4,513.0Z" fill="#B2B2FE"/>
<path d="M312.6,515.6L312.9,515.7L313.4,515.9L313.9,516.0L314.4,516.1L314.9,516.2L315.4,516.3L315.9,516.4L316.4,516.5L316.9,516.6L317.4,516.6L317.9,516.7L318.4,516.8L318.9,516.8L319.4,516.9L319.9,516.9L320.4,517.0L320.9,517.0L321.4,517.1L321.9,517.1L322.4,517.2L322.9,517.2L323.4,517.2L323.9,517.3L324.0,517.3L324.0,517.2L323.9,517.2L323.4,517.1L322.9,517.0L322.4,516.9L321.9,516.8L321.4,516.8L320.9,516.7L320.4,516.6L319.9,516.5L319.4,516.5L318.9,516.4L318.4,516.3L317.9,516.3L317.4,516.2L316.9,516.1L316.4,516.1L315.9,516.0L315.4,515.9L314.9,515.9L314.4,515.8L313.9,515.8L313.4,515.7L312.9,515.6L312.6,515.6Z" fill="#FDB56F"/>
<path d="M335.2,107.8L335.7,107.8L336.2,107.8L336.7,107.8L337.2,107.9L337.7,107.9L338.2,107.9L338.7,107.9L339.2,107.9L339.7,107.9L340.2,107.9L340.7,108.0L341.2,108.0L341.7,108.0L342.2,108.0L342.7,108.0L343.2,108.0L343.7,108.1L344.2,108.1L344.7,108.1L345.2,108.1L345.7,108.1L346.2,108.2L346.7,108.2L347.2,108.2L347.7,108.2L348.2,108.2L348.7,108.3L349.2,108.3L349.7,108.3L350.2,108.3L350.7,108.4L351.2,108.4L351.7,108.4L352.2,108.4L352.7,108.5L353.2,108.5L353.7,108.5L354.2,108.5L354.7,108.5L355.2,108.6L355.7,108.6L356.2,108.6L356.7,108.7L357.2,108.7L357.7,108.7L358.2,108.7L358.7,108.8L359.2,108.8L359.7,108.8L360.2,108.8L360.7,108.9L361.2,108.9L361.7,108.9L362.2,109.0L362.7,109.0L363.2,109.0L363.7,109.1L364.2,109.1L364.7,109.1L365.2,109.2L365.7,109.2L366.2,109.2L366.7,109.3L367.2,109.3L367.7,109.3L368.2,109.4L368.7,109.4L369.2,109.4L369.7,109.5L370.2,109.5L370.7,109.5L371.2,109.6L371.7,109.6L372.2,109.7L372.7,109.7L373.2,109.7L373.7,109.8L374.2,109.8L374.7,109.9L375.2,109.9L375.7,110.0L376.2,110.0L376.7,110.0L377.2,110.1L377.7,110.1L378.2,110.2L378.7,110.2L379.2,110.3L379.7,110.3L380.2,110.4L380.7,110.4L381.2,110.5L381.7,110.6L382.2,110.6L382.7,110.7L383.2,110.8L383.7,110.8L384.2,110.9L384.7,111.0L385.2,111.0L385.7,111.1L386.2,111.2L386.7,111.3L387.2,111.3L387.7,111.4L388.2,111.5L388.7,111.6L389.2,111.6L389.7,111.7L390.2,111.8L390.7,111.9L391.2,111.9L391.7,112.0L392.2,112.1L392.7,112.2L393.2,112.2L393.7,112.3L394.2,112.4L394.7,112.4L395.2,112.5L395.7,112.6L396.2,112.6L396.7,112.7L397.2,112.8L397.7,112.8L398.2,112.9L398.7,113.0L399.2,113.0L399.7,113.1L400.2,113.1L400.7,113.2L401.2,113.2L401.7,113.3L402.2,113.3L402.7,113.4L403.2,113.4L403.7,113.4L404.2,113.5L404.7,113.5L405.2,113.6L405.7,113.6L406.2,113.7L406.7,113.7L407.2,113.8L407.7,113.8L408.2,113.9L408.7,113.9L409.2,114.0L409.7,114.0L410.2,114.1L410.7,114.1L411.2,114.2L411.7,114.2L412.2,114.3L412.7,114.3L413.2,114.3L413.7,114.4L414.2,114.4L414.7,114.5L415.2,114.5L415.7,114.5L416.2,114.6L416.7,114.6L417.2,114.6L417.7,114.7L418.2,114.7L418.7,114.7L419.2,114.8L419.7,114.8L420.2,114.8L420.7,114.8L421.2,114.8L421.7,114.9L422.2,114.9L422.7,114.9L423.2,114.9L423.7,114.9L424.2,114.9L424.7,114.9L425.2,114.9L425.7,114.9L426.2,114.9L426.7,114.9L427.2,114.9L427.7,114.9L428.2,114.9L428.7,114.9L429.2,114.9L429.7,114.9L430.2,114.9L430.7,114.9L431.2,114.8L431.7,114.8L432.2,114.8L432.7,114.8L433.2,114.8L433.7,114.8L434.2,114.8L434.7,114.8L435.2,114.8L435.7,114.8L436.2,114.7L436.7,114.7L437.2,114.7L437.7,114.7L438.2,114.7L438.7,114.7L439.2,114.7L439.7,114.7L440.2,114.6L440.7,114.6L441.2,114.6L441.7,114.6L442.2,114.6L442.7,114.6L443.2,114.6L443.7,114.5L444.2,114.5L444.7,114.5L445.2,114.5L445.7,114.5L446.2,114.5L446.7,114.5L447.2,114.4L447.7,114.4L448.2,114.4L448.7,114.4L449.2,114.4L449.7,114.4L450.2,114.3L450.7,114.3L451.2,114.3L451.7,114.3L452.2,114.3L452.7,114.3L453.2,114.2L453.7,114.2L454.2,114.2L454.7,114.2L455.2,114.2L455.7,114.1L456.2,114.1L456.7,114.1L457.2,114.1L457.7,114.0L458.2,114.0L458.7,114.0L459.2,114.0L459.7,113.9L460.2,113.9L460.7,113.8L461.2,113.8L461.7,113.7L462.2,113.7L462.7,113.6L463.2,113.5L463.7,113.4L464.2,113.3L464.7,113.3L465.2,113.2L465.7,113.1L466.2,113.0L466.7,112.9L467.2,112.8L467.7,112.7L468.2,112.5L468.7,112.4L469.2,112.3L469.7,112.2L470.2,112.1L470.7,112.1L471.2,112.0L471.7,111.9L472.2,111.8L472.7,111.7L473.2,111.6L473.7,111.5L474.2,111.5L474.7,111.4L475.2,111.3L475.7,111.2L476.2,111.1L476.7,111.0L477.2,110.9L477.7,110.8L478.2,110.7L478.7,110.7L479.2,110.6L479.7,110.5L480.2,110.5L480.7,110.4L481.2,110.4L481.7,110.3L482.2,110.3L482.7,110.3L483.2,110.3L483.7,110.3L484.2,110.4L484.7,110.4L485.2,110.5L485.7,110.6L486.2,110.7L486.7,110.8L487.2,110.9L487.7,111.0L488.2,111.1L488.7,111.3L489.2,111.4L489.7,111.6L490.2,111.7L490.7,111.9L491.2,112.0L491.7,112.2L492.2,112.5L492.7,112.7L493.2,113.0L493.7,113.3L494.2,113.7L494.7,114.0L495.2,114.4L495.7,114.7L496.2,115.1L496.7,115.5L497.2,115.9L497.7,116.3L498.2,116.7L498.7,117.1L499.2,117.5L499.7,117.9L500.2,118.3L500.7,118.7L501.2,119.2L501.7,119.6L502.2,120.1L502.7,120.6L503.2,121.1L503.7,121.5L504.2,122.1L504.7,122.6L505.2,123.1L505.7,123.6L506.2,124.2L506.7,124.7L507.2,125.2L507.7,125.8L508.2,126.3L508.7,126.9L509.2,127.4L509.7,128.0L510.2,128.5L510.7,129.0L511.2,129.6L511.7,130.1L512.2,130.6L512.7,131.2L513.2,131.7L513.7,132.3L514.2,132.8L514.7,133.3L515.2,133.9L515.7,134.5L516.2,135.0L516.7,135.6L517.2,136.2L517.7,136.7L518.2,137.3L518.7,137.9L519.2,138.5L519.7,139.2L520.2,139.8L520.7,140.4L521.2,141.1L521.7,141.7L522.2,142.4L522.7,143.1L523.2,143.8L523.7,144.5L524.2,145.2L524.7,146.0L525.2,146.7L525.7,147.5L526.2,148.2L526.7,149.0L527.2,149.8L527.7,150.6L528.2,151.4L528.7,152.1L529.2,152.9L529.7,153.7L530.2,154.5L530.7,155.3L531.2,156.1L531.7,156.9L532.2,157.7L532.7,158.5L533.2,159.3L533.7,160.2L534.2,161.0L534.7,161.8L535.2,162.7L535.7,163.5L536.2,164.4L536.7,165.2L537.2,166.1L537.7,166.9L538.2,167.8L538.7,168.7L539.2,169.5L539.7,170.4L540.2,171.3L540.7,172.1L541.2,173.0L541.7,173.9L542.2,174.8L542.7,175.7L543.2,176.5L543.7,177.4L544.2,178.3L544.7,179.3L545.2,180.2L545.7,181.1L546.2,182.0L546.7,183.0L547.2,183.9L547.7,184.9L548.2,185.9L548.7,186.9L549.2,187.9L549.7,189.0L550.2,190.0L550.7,191.1L551.2,192.2L551.7,193.3L552.2,194.4L552.7,195.5L553.2,196.6L553.7,197.8L554.2,198.9L554.7,200.1L555.2,201.2L555.7,202.4L556.2,203.5L556.7,204.7L557.2,205.8L557.7,207.0L558.2,208.1L558.7,209.3L559.2,210.4L559.7,211.6L560.2,212.8L560.7,214.0L561.2,215.2L561.7,216.4L562.2,217.7L562.7,219.0L563.2,220.3L563.7,221.6L564.2,223.0L564.7,224.3L565.2,225.7L565.7,227.2L566.2,228.6L566.7,230.1L567.2,231.6L567.7,233.2L568.2,234.7L568.7,236.3L569.2,237.9L569.7,239.6L570.2,241.3L570.7,243.0L571.2,244.9L571.7,246.7L572.2,248.6L572.7,250.5L573.2,252.4L573.7,254.2L574.2,256.0L574.7,257.7L575.2,259.5L575.7,261.3L576.2,263.1L576.7,264.7L577.2,266.3L577.7,267.7L578.2,268.9L578.7,270.0L579.2,271.0L579.7,271.9L580.2,272.8L580.7,273.5L581.2,274.2L581.7,274.7L582.2,275.2L582.7,275.5L583.2,275.9L583.7,276.3L584.2,276.6L584.7,276.9L585.2,277.2L585.7,277.5L586.2,277.7L586.7,278.0L587.2,278.2L587.7,278.3L588.2,278.4L588.7,278.5L589.2,278.6L589.6,278.6" fill="none" stroke="#0808D8" stroke-width="3.0" stroke-linejoin="round" stroke-linecap="butt"/>
<path d="M335.2,118.9L335.7,118.9L336.2,118.9L336.7,119.0L337.2,119.0L337.7,119.0L338.2,119.0L338.7,119.0L339.2,119.0L339.7,119.1L340.2,119.1L340.7,119.1L341.2,119.1L341.7,119.1L342.2,119.2L342.7,119.2L343.2,119.2L343.7,119.2L344.2,119.2L344.7,119.3L345.2,119.3L345.7,119.3L346.2,119.3L346.7,119.3L347.2,119.3L347.7,119.4L348.2,119.4L348.7,119.4L349.2,119.4L349.7,119.4L350.2,119.5L350.7,119.5L351.2,119.5L351.7,119.5L352.2,119.5L352.7,119.6L353.2,119.6L353.7,119.6L354.2,119.6L354.7,119.6L355.2,119.7L355.7,119.7L356.2,119.7L356.7,119.7L357.2,119.7L357.7,119.7L358.2,119.8L358.7,119.8L359.2,119.8L359.7,119.8L360.2,119.8L360.7,119.8L361.2,119.9L361.7,119.9L362.2,119.9L362.7,119.9L363.2,119.9L363.7,119.9L364.2,120.0L364.7,120.0L365.2,120.0L365.7,120.0L366.2,120.0L366.7,120.0L367.2,120.0L367.7,120.1L368.2,120.1L368.7,120.1L369.2,120.1L369.7,120.1L370.2,120.2L370.7,120.2L371.2,120.2L371.7,120.2L372.2,120.2L372.7,120.3L373.2,120.3L373.7,120.3L374.2,120.3L374.7,120.3L375.2,120.4L375.7,120.4L376.2,120.4L376.7,120.5L377.2,120.5L377.7,120.5L378.2,120.5L378.7,120.6L379.2,120.6L379.7,120.6L380.2,120.7L380.7,120.7L381.2,120.7L381.7,120.8L382.2,120.8L382.7,120.9L383.2,120.9L383.7,121.0L384.2,121.0L384.7,121.1L385.2,121.2L385.7,121.3L386.2,121.3L386.7,121.4L387.2,121.5L387.7,121.6L388.2,121.8L388.7,121.9L389.2,122.0L389.7,122.1L390.2,122.2L390.7,122.4L391.2,122.5L391.7,122.6L392.2,122.8L392.7,122.9L393.2,123.1L393.7,123.2L394.2,123.4L394.7,123.5L395.2,123.7L395.7,123.8L396.2,124.0L396.7,124.1L397.2,124.3L397.7,124.5L398.2,124.6L398.7,124.8L399.2,124.9L399.7,125.1L400.2,125.2L400.7,125.4L401.2,125.5L401.7,125.7L402.2,125.8L402.7,126.0L403.2,126.1L403.7,126.3L404.2,126.5L404.7,126.6L405.2,126.8L405.7,127.0L406.2,127.1L406.7,127.3L407.2,127.5L407.7,127.6L408.2,127.8L408.7,128.0L409.2,128.2L409.7,128.4L410.2,128.5L410.7,128.7L411.2,128.9L411.7,129.1L412.2,129.3L412.7,129.5L413.2,129.7L413.7,129.9L414.2,130.1L414.7,130.3L415.2,130.5L415.7,130.7L416.2,130.9L416.7,131.1L417.2,131.4L417.7,131.6L418.2,131.8L418.7,132.0L419.2,132.2L419.7,132.5L420.2,132.7L420.7,132.9L421.2,133.2L421.7,133.4L422.2,133.6L422.7,133.9L423.2,134.1L423.7,134.4L424.2,134.6L424.7,134.9L425.2,135.2L425.7,135.4L426.2,135.7L426.7,136.0L427.2,136.3L427.7,136.5L428.2,136.8L428.7,137.1L429.2,137.4L429.7,137.7L430.2,138.0L430.7,138.3L431.2,138.6L431.7,138.9L432.2,139.2L432.7,139.5L433.2,139.8L433.7,140.2L434.2,140.5L434.7,140.8L435.2,141.2L435.7,141.5L436.2,141.8L436.7,142.2L437.2,142.5L437.7,142.9L438.2,143.2L438.7,143.6L439.2,144.0L439.7,144.4L440.2,144.8L440.7,145.2L441.2,145.6L441.7,146.0L442.2,146.5L442.7,146.9L443.2,147.3L443.7,147.8L444.2,148.2L444.7,148.7L445.2,149.1L445.7,149.6L446.2,150.0L446.7,150.5L447.2,150.9L447.7,151.4L448.2,151.8L448.7,152.3L449.2,152.8L449.7,153.2L450.2,153.7L450.7,154.1L451.2,154.6L451.7,155.0L452.2,155.4L452.7,155.9L453.2,156.3L453.7,156.7L454.2,157.1L454.7,157.5L455.2,157.9L455.7,158.3L456.2,158.7L456.7,159.1L457.2,159.5L457.7,160.0L458.2,160.4L458.7,160.8L459.2,161.3L459.7,161.8L460.2,162.3L460.7,162.8L461.2,163.4L461.7,164.0L462.2,164.6L462.7,165.2L463.2,165.9L463.7,166.5L464.2,167.2L464.7,167.9L465.2,168.6L465.7,169.3L466.2,170.0L466.7,170.7L467.2,171.4L467.7,172.2L468.2,172.9L468.7,173.6L469.2,174.3L469.7,175.0L470.2,175.7L470.7,176.4L471.2,177.1L471.7,177.9L472.2,178.6L472.7,179.3L473.2,180.1L473.7,180.8L474.2,181.6L474.7,182.3L475.2,183.1L475.7,183.8L476.2,184.6L476.7,185.4L477.2,186.2L477.7,187.0L478.2,187.8L478.7,188.7L479.2,189.5L479.7,190.3L480.2,191.2L480.7,192.1L481.2,192.9L481.7,193.8L482.2,194.7L482.7,195.6L483.2,196.6L483.7,197.5L484.2,198.5L484.7,199.4L485.2,200.4L485.7,201.4L486.2,202.4L486.7,203.5L487.2,204.6L487.7,205.8L488.2,207.0L488.7,208.2L489.2,209.4L489.7,210.5L490.2,211.7L490.7,212.8L491.2,213.9L491.7,214.9L492.2,215.9L492.7,216.8L493.2,217.7L493.7,218.6L494.2,219.4L494.7,220.2L495.2,221.1L495.7,221.9L496.2,222.6L496.7,223.4L497.2,224.2L497.7,224.9L498.2,225.6L498.7,226.3L499.2,227.0L499.7,227.7L500.2,228.4L500.7,229.0L501.2,229.7L501.7,230.4L502.2,231.0L502.7,231.7L503.2,232.3L503.7,232.9L504.2,233.5L504.7,234.1L505.2,234.7L505.7,235.3L506.2,235.8L506.7,236.4L507.2,236.9L507.7,237.4L508.2,237.9L508.7,238.3L509.2,238.7L509.7,239.2L510.2,239.6L510.7,240.0L511.2,240.4L511.7,240.8L512.2,241.1L512.7,241.5L513.2,241.9L513.7,242.2L514.2,242.6L514.7,242.9L515.2,243.2L515.7,243.5L516.2,243.9L516.7,244.2L517.2,244.5L517.7,244.8L518.2,245.1L518.7,245.4L519.2,245.7L519.7,246.0L520.2,246.2L520.7,246.5L521.2,246.8L521.7,247.1L522.2,247.4L522.7,247.6L523.2,247.9L523.7,248.2L524.2,248.5L524.7,248.7L525.2,249.0L525.7,249.2L526.2,249.5L526.7,249.7L527.2,250.0L527.7,250.2L528.2,250.5L528.7,250.7L529.2,251.0L529.7,251.2L530.2,251.4L530.7,251.7L531.2,251.9L531.7,252.1L532.2,252.3L532.7,252.5L533.2,252.8L533.7,253.0L534.2,253.2L534.7,253.4L535.2,253.6L535.7,253.8L536.2,254.0L536.7,254.2L537.2,254.3L537.7,254.5L538.2,254.7L538.7,254.9L539.2,255.0L539.7,255.2L540.2,255.4L540.7,255.5L541.2,255.7L541.7,255.8L542.2,256.0L542.7,256.1L543.2,256.3L543.7,256.4L544.2,256.6L544.7,256.7L545.2,256.9L545.7,257.0L546.2,257.2L546.7,257.3L547.2,257.5L547.7,257.6L548.2,257.8L548.7,257.9L549.2,258.1L549.7,258.2L550.2,258.4L550.7,258.5L551.2,258.7L551.7,258.9L552.2,259.0L552.7,259.2L553.2,259.3L553.7,259.5L554.2,259.7L554.7,259.8L555.2,260.0L555.7,260.1L556.2,260.3L556.7,260.5L557.2,260.6L557.7,260.8L558.2,260.9L558.7,261.1L559.2,261.3L559.7,261.4L560.2,261.6L560.7,261.7L561.2,261.9L561.7,262.1L562.2,262.3L562.7,262.4L563.2,262.6L563.7,262.8L564.2,263.0L564.7,263.2L565.2,263.4L565.7,263.6L566.2,263.8L566.7,264.0L567.2,264.2L567.7,264.4L568.2,264.6L568.7,264.8L569.2,265.0L569.7,265.2L570.2,265.5L570.7,265.7L571.2,266.0L571.7,266.2L572.2,266.5L572.7,266.8L573.2,267.1L573.7,267.4L574.2,267.7L574.7,268.0L575.2,268.4L575.7,268.8L576.2,269.3L576.7,269.8L577.2,270.3L577.7,270.8L578.2,271.3L578.7,271.8L579.2,272.3L579.7,272.7L580.2,273.2L580.7,273.5L581.2,273.9L581.7,274.3L582.2,274.7L582.7,275.0L583.2,275.4L583.7,275.7L584.2,276.1L584.7,276.3L585.2,276.6L585.7,276.9L586.2,277.1L586.7,277.2L587.2,277.4L587.7,277.5L588.2,277.7L588.7,277.8L589.2,278.0L589.7,278.1L590.2,278.2L590.7,278.3L591.2,278.5L591.7,278.6L592.2,278.7L592.7,278.8L593.2,278.9L593.7,279.0L594.2,279.1L594.7,279.2L595.2,279.2L595.7,279.3L596.2,279.4L596.7,279.4L597.2,279.5L597.7,279.5L598.2,279.6L598.7,279.6L599.2,279.7L599.7,279.7L600.2,279.7L600.7,279.7L601.2,279.7L601.7,279.8L602.2,279.8L602.7,279.8L603.2,279.8L603.7,279.8L604.2,279.8L604.7,279.9L605.2,279.9L605.7,279.9L606.2,279.9L606.7,279.9L607.2,279.9L607.7,279.9L608.2,280.0L608.7,280.0L609.2,280.0L609.7,280.0L610.2,280.0L610.7,280.0L611.2,280.0L611.7,280.0L612.2,280.0L612.7,280.1L613.2,280.1L613.7,280.1L614.2,280.1L614.7,280.1L615.2,280.1L615.7,280.1L616.2,280.1L616.7,280.1L617.2,280.1L617.7,280.1L618.2,280.1L618.7,280.1L619.2,280.2L619.7,280.2L620.2,280.2L620.7,280.2L621.2,280.2L621.7,280.2L622.2,280.2L622.7,280.2L623.2,280.2L623.7,280.2L624.2,280.2L624.7,280.2L625.2,280.2L625.7,280.2L626.2,280.2L626.7,280.2L627.2,280.2L627.7,280.2L628.0,280.2" fill="none" stroke="#E50E12" stroke-width="3.0" stroke-linejoin="round" stroke-linecap="butt"/>
<path d="M280.9,245.2L281.4,245.2L281.9,245.3L282.4,245.3L282.9,245.3L283.4,245.4L283.9,245.4L284.4,245.4L284.9,245.4L285.4,245.5L285.9,245.5L286.4,245.5L286.9,245.5L287.4,245.5L287.9,245.6L288.4,245.6L288.9,245.6L289.4,245.6L289.9,245.6L290.4,245.6L290.9,245.6L291.4,245.6L291.9,245.7L292.4,245.7L292.9,245.7L293.4,245.7L293.9,245.7L294.4,245.7L294.9,245.7L295.4,245.7L295.9,245.7L296.4,245.7L296.9,245.7L297.4,245.7L297.9,245.7L298.4,245.7L298.9,245.7L299.4,245.7L299.9,245.7L300.4,245.7L300.9,245.7L301.4,245.7L301.9,245.7L302.4,245.7L302.9,245.7L303.4,245.6L303.9,245.6L304.4,245.5L304.9,245.5L305.4,245.5L305.9,245.4L306.4,245.3L306.9,245.3L307.4,245.2L307.9,245.1L308.4,245.1L308.9,245.0L309.4,244.9L309.9,244.8L310.4,244.8L310.9,244.7L311.4,244.6L311.9,244.5L312.4,244.4L312.9,244.4L313.4,244.3L313.9,244.2L314.4,244.1L314.9,244.1L315.4,244.0L315.9,243.9L316.4,243.8L316.9,243.8L317.4,243.7L317.9,243.6L318.4,243.5L318.9,243.4L319.4,243.3L319.9,243.2L320.4,243.1L320.9,243.0L321.4,242.9L321.9,242.8L322.4,242.8L322.9,242.7L323.4,242.6L323.9,242.5L324.4,242.4L324.9,242.4L325.4,242.3L325.9,242.2L326.4,242.2L326.9,242.1L327.4,242.1L327.9,242.0L328.4,242.0L328.9,242.0L329.4,241.9L329.9,241.9L330.4,241.8L330.9,241.8L331.4,241.8L331.9,241.7L332.4,241.7L332.9,241.7L333.4,241.7L333.9,241.6L334.4,241.6L334.9,241.6L335.4,241.5L335.9,241.5L336.4,241.5L336.9,241.5L337.4,241.4L337.9,241.4L338.4,241.4L338.9,241.4L339.4,241.4L339.9,241.3L340.4,241.3L340.9,241.3L341.4,241.3L341.9,241.2L342.4,241.2L342.9,241.2L343.4,241.2L343.9,241.1L344.4,241.1L344.9,241.1L345.4,241.1L345.9,241.0L346.4,241.0L346.9,241.0L347.4,241.0L347.9,240.9L348.4,240.9L348.9,240.9L349.4,240.8L349.9,240.8L350.4,240.8L350.9,240.7L351.4,240.7L351.9,240.7L352.4,240.7L352.9,240.6L353.4,240.6L353.9,240.6L354.4,240.5L354.9,240.5L355.4,240.5L355.9,240.4L356.4,240.4L356.9,240.4L357.4,240.3L357.9,240.3L358.4,240.3L358.9,240.2L359.4,240.2L359.9,240.2L360.4,240.1L360.9,240.1L361.4,240.1L361.9,240.0L362.4,240.0L362.9,240.0L363.4,239.9L363.9,239.9L364.4,239.9L364.9,239.8L365.4,239.8L365.9,239.8L366.4,239.7L366.9,239.7L367.4,239.7L367.9,239.6L368.4,239.6L368.9,239.5L369.4,239.5L369.9,239.5L370.4,239.4L370.9,239.4L371.4,239.4L371.9,239.3L372.4,239.3L372.9,239.2L373.4,239.2L373.9,239.2L374.4,239.1L374.9,239.1L375.4,239.0L375.9,239.0L376.4,239.0L376.9,238.9L377.4,238.9L377.9,238.8L378.4,238.8L378.9,238.7L379.4,238.7L379.9,238.6L380.4,238.6L380.9,238.5L381.4,238.4L381.9,238.3L382.4,238.3L382.9,238.2L383.4,238.1L383.9,238.0L384.4,237.9L384.9,237.8L385.4,237.7L385.9,237.6L386.4,237.5L386.9,237.4L387.4,237.3L387.9,237.2L388.4,237.1L388.9,236.9L389.4,236.8L389.9,236.7L390.4,236.6L390.9,236.5L391.4,236.4L391.9,236.3L392.4,236.2L392.9,236.1L393.4,236.0L393.9,235.9L394.4,235.8L394.9,235.7L395.4,235.6L395.9,235.5L396.4,235.4L396.9,235.3L397.4,235.2L397.9,235.1L398.4,235.0L398.9,234.9L399.4,234.9L399.9,234.8L400.4,234.7L400.9,234.6L401.4,234.5L401.9,234.4L402.4,234.3L402.9,234.2L403.4,234.1L403.9,233.9L404.4,233.8L404.9,233.7L405.4,233.6L405.9,233.5L406.4,233.4L406.9,233.2L407.4,233.1L407.9,232.9L408.4,232.8L408.9,232.6L409.4,232.4L409.9,232.2L410.4,232.0L410.9,231.8L411.4,231.6L411.9,231.4L412.4,231.2L412.9,231.0L413.4,230.8L413.9,230.6L414.4,230.4L414.9,230.2L415.4,230.0L415.9,229.8L416.4,229.7L416.9,229.5L417.4,229.3L417.9,229.2L418.4,229.0L418.9,228.9L419.4,228.7L419.9,228.6L420.4,228.5L420.9,228.4L421.4,228.3L421.9,228.2L422.4,228.1L422.9,228.0L423.4,227.9L423.9,227.8L424.4,227.7L424.9,227.6L425.4,227.5L425.9,227.4L426.4,227.3L426.9,227.2L427.4,227.1L427.9,227.0L428.4,227.0L428.9,226.9L429.4,226.8L429.9,226.8L430.4,226.7L430.9,226.7L431.4,226.7L431.9,226.6L432.4,226.6L432.9,226.6L433.4,226.6L433.9,226.6L434.4,226.6L434.9,226.7L435.4,226.7L435.9,226.8L436.4,226.8L436.9,226.9L437.4,227.0L437.9,227.1L438.4,227.2L438.9,227.3L439.4,227.4L439.9,227.6L440.4,227.7L440.9,227.8L441.4,227.9L441.9,228.1L442.4,228.2L442.9,228.3L443.4,228.5L443.9,228.6L444.4,228.7L444.9,228.9L445.4,229.0L445.9,229.2L446.4,229.4L446.9,229.6L447.4,229.8L447.9,230.0L448.4,230.2L448.9,230.4L449.4,230.7L449.9,230.9L450.4,231.1L450.9,231.4L451.4,231.6L451.9,231.9L452.4,232.1L452.9,232.4L453.4,232.7L453.9,232.9L454.4,233.2L454.9,233.5L455.4,233.7L455.9,234.0L456.4,234.3L456.9,234.6L457.4,234.9L457.9,235.2L458.4,235.5L458.9,235.8L459.4,236.1L459.9,236.5L460.4,236.8L460.9,237.1L461.4,237.5L461.9,237.8L462.4,238.2L462.9,238.5L463.4,238.9L463.9,239.3L464.4,239.6L464.9,240.0L465.4,240.4L465.9,240.8L466.4,241.1L466.9,241.5L467.4,241.9L467.9,242.3L468.4,242.7L468.9,243.1L469.4,243.6L469.9,244.0L470.4,244.4L470.9,244.9L471.4,245.3L471.9,245.8L472.4,246.2L472.9,246.7L473.4,247.1L473.9,247.6L474.4,248.1L474.9,248.5L475.4,249.0L475.9,249.5L476.4,250.0L476.9,250.4L477.4,250.9L477.9,251.4L478.4,251.9L478.9,252.3L479.4,252.8L479.9,253.3L480.4,253.8L480.9,254.2L481.4,254.7L481.9,255.2L482.4,255.7L482.9,256.1L483.4,256.6L483.9,257.1L484.4,257.6L484.9,258.1L485.4,258.6L485.9,259.0L486.4,259.5L486.9,260.0L487.4,260.5L487.9,261.0L488.4,261.5L488.9,262.0L489.4,262.5L489.9,263.1L490.4,263.6L490.9,264.1L491.4,264.6L491.9,265.2L492.4,265.7L492.9,266.3L493.4,266.8L493.9,267.4L494.4,267.9L494.9,268.5L495.4,269.1L495.9,269.7L496.4,270.2L496.9,270.8L497.4,271.4L497.9,272.0L498.4,272.6L498.9,273.2L499.4,273.9L499.9,274.5L500.4,275.1L500.9,275.8L501.4,276.4L501.9,277.1L502.4,277.8L502.9,278.5L503.4,279.2L503.9,279.9L504.4,280.6L504.9,281.4L505.4,282.1L505.9,282.9L506.4,283.7L506.9,284.5L507.4,285.4L507.9,286.2L508.4,287.1L508.9,287.9L509.4,288.8L509.9,289.7L510.4,290.6L510.9,291.5L511.4,292.4L511.9,293.3L512.4,294.2L512.9,295.1L513.4,296.1L513.9,297.0L514.4,298.0L514.9,298.9L515.4,299.9L515.9,300.9L516.4,301.9L516.9,302.9L517.4,304.0L517.9,305.1L518.4,306.2L518.9,307.3L519.4,308.5L519.9,309.7L520.4,310.9L520.9,312.2L521.4,313.5L521.9,314.8L522.4,316.1L522.9,317.4L523.4,318.7L523.9,319.9L524.4,321.1L524.9,322.4L525.4,323.6L525.9,324.8L526.4,326.0L526.9,327.2L527.4,328.2L527.9,329.2L528.4,330.1L528.9,331.0L529.4,331.8L529.9,332.6L530.4,333.3L530.9,334.0L531.4,334.6L531.9,335.2L532.4,335.8L532.9,336.3L533.4,336.8L533.9,337.3L534.4,337.8L534.9,338.2L535.4,338.6L535.9,339.0L536.4,339.3L536.9,339.6L537.2,339.8" fill="none" stroke="#0808D8" stroke-width="3.0" stroke-linejoin="round" stroke-linecap="butt"/>
<path d="M280.9,205.4L281.4,205.4L281.9,205.4L282.4,205.4L282.9,205.4L283.4,205.4L283.9,205.4L284.4,205.4L284.9,205.4L285.4,205.4L285.9,205.4L286.4,205.4L286.9,205.4L287.4,205.4L287.9,205.4L288.4,205.4L288.9,205.5L289.4,205.5L289.9,205.5L290.4,205.5L290.9,205.5L291.4,205.5L291.9,205.5L292.4,205.5L292.9,205.5L293.4,205.5L293.9,205.5L294.4,205.5L294.9,205.5L295.4,205.5L295.9,205.5L296.4,205.5L296.9,205.5L297.4,205.5L297.9,205.6L298.4,205.6L298.9,205.6L299.4,205.6L299.9,205.6L300.4,205.6L300.9,205.6L301.4,205.6L301.9,205.6L302.4,205.6L302.9,205.6L303.4,205.6L303.9,205.7L304.4,205.7L304.9,205.7L305.4,205.7L305.9,205.7L306.4,205.7L306.9,205.7L307.4,205.7L307.9,205.8L308.4,205.8L308.9,205.8L309.4,205.8L309.9,205.8L310.4,205.8L310.9,205.9L311.4,205.9L311.9,205.9L312.4,205.9L312.9,205.9L313.4,205.9L313.9,206.0L314.4,206.0L314.9,206.0L315.4,206.0L315.9,206.0L316.4,206.0L316.9,206.0L317.4,206.0L317.9,206.1L318.4,206.1L318.9,206.1L319.4,206.1L319.9,206.1L320.4,206.1L320.9,206.1L321.4,206.1L321.9,206.1L322.4,206.1L322.9,206.1L323.4,206.1L323.9,206.0L324.4,206.0L324.9,205.9L325.4,205.8L325.9,205.8L326.4,205.7L326.9,205.6L327.4,205.5L327.9,205.5L328.4,205.4L328.9,205.4L329.4,205.4L329.9,205.4L330.4,205.4L330.9,205.4L331.4,205.4L331.9,205.5L332.4,205.5L332.9,205.5L333.4,205.6L333.9,205.6L334.4,205.7L334.9,205.7L335.4,205.8L335.9,205.8L336.4,205.9L336.9,206.0L337.4,206.1L337.9,206.1L338.4,206.2L338.9,206.3L339.4,206.4L339.9,206.4L340.4,206.5L340.9,206.6L341.4,206.7L341.9,206.8L342.4,206.9L342.9,207.0L343.4,207.0L343.9,207.1L344.4,207.2L344.9,207.3L345.4,207.4L345.9,207.6L346.4,207.7L346.9,207.8L347.4,207.9L347.9,208.1L348.4,208.2L348.9,208.4L349.4,208.5L349.9,208.7L350.4,208.8L350.9,209.0L351.4,209.2L351.9,209.4L352.4,209.6L352.9,209.7L353.4,209.9L353.9,210.1L354.4,210.3L354.9,210.5L355.4,210.7L355.9,210.9L356.4,211.1L356.9,211.3L357.4,211.5L357.9,211.7L358.4,211.9L358.9,212.1L359.4,212.4L359.9,212.6L360.4,212.8L360.9,213.0L361.4,213.2L361.9,213.4L362.4,213.6L362.9,213.8L363.4,214.0L363.9,214.2L364.4,214.5L364.9,214.7L365.4,214.9L365.9,215.1L366.4,215.4L366.9,215.6L367.4,215.8L367.9,216.0L368.4,216.3L368.9,216.5L369.4,216.8L369.9,217.0L370.4,217.3L370.9,217.5L371.4,217.8L371.9,218.0L372.4,218.3L372.9,218.5L373.4,218.8L373.9,219.1L374.4,219.3L374.9,219.6L375.4,219.9L375.9,220.2L376.4,220.5L376.9,220.8L377.4,221.0L377.9,221.3L378.4,221.6L378.9,221.9L379.4,222.2L379.9,222.5L380.4,222.9L380.9,223.2L381.4,223.5L381.9,223.9L382.4,224.2L382.9,224.6L383.4,224.9L383.9,225.3L384.4,225.7L384.9,226.1L385.4,226.5L385.9,226.9L386.4,227.3L386.9,227.7L387.4,228.1L387.9,228.5L388.4,228.8L388.9,229.2L389.4,229.6L389.9,230.0L390.4,230.4L390.9,230.7L391.4,231.1L391.9,231.5L392.4,231.8L392.9,232.1L393.4,232.5L393.9,232.8L394.4,233.1L394.9,233.5L395.4,233.8L395.9,234.1L396.4,234.5L396.9,234.8L397.4,235.2L397.9,235.6L398.4,236.0L398.9,236.4L399.4,236.8L399.9,237.2L400.4,237.7L400.9,238.1L401.4,238.6L401.9,239.1L402.4,239.6L402.9,240.2L403.4,240.7L403.9,241.3L404.4,241.8L404.9,242.4L405.4,243.0L405.9,243.6L406.4,244.3L406.9,244.9L407.4,245.5L407.9,246.2L408.4,246.8L408.9,247.5L409.4,248.1L409.9,248.8L410.4,249.5L410.9,250.2L411.4,250.9L411.9,251.7L412.4,252.4L412.9,253.2L413.4,254.0L413.9,254.8L414.4,255.6L414.9,256.4L415.4,257.2L415.9,258.1L416.4,258.9L416.9,259.7L417.4,260.6L417.9,261.4L418.4,262.3L418.9,263.1L419.4,264.0L419.9,264.8L420.4,265.7L420.9,266.6L421.4,267.5L421.9,268.4L422.4,269.4L422.9,270.3L423.4,271.2L423.9,272.2L424.4,273.1L424.9,274.1L425.4,275.0L425.9,276.0L426.4,276.9L426.9,277.9L427.4,278.8L427.9,279.8L428.4,280.8L428.9,281.8L429.4,282.8L429.9,283.8L430.4,284.8L430.9,285.8L431.4,286.8L431.9,287.8L432.4,288.8L432.9,289.8L433.4,290.8L433.9,291.8L434.4,292.9L434.9,293.9L435.4,295.0L435.9,296.0L436.4,297.1L436.9,298.1L437.4,299.1L437.9,300.0L438.4,301.0L438.9,301.8L439.4,302.7L439.9,303.5L440.4,304.3L440.9,305.1L441.4,305.9L441.9,306.6L442.4,307.3L442.9,308.0L443.4,308.6L443.9,309.2L444.4,309.7L444.9,310.3L445.4,310.8L445.9,311.3L446.4,311.8L446.9,312.3L447.4,312.7L447.9,313.2L448.4,313.6L448.9,314.0L449.4,314.4L449.9,314.8L450.4,315.2L450.9,315.6L451.4,315.9L451.9,316.3L452.4,316.6L452.9,316.9L453.4,317.3L453.9,317.6L454.4,317.9L454.9,318.2L455.4,318.5L455.9,318.8L456.4,319.1L456.9,319.4L457.4,319.7L457.9,319.9L458.4,320.2L458.9,320.5L459.4,320.7L459.9,321.0L460.4,321.3L460.9,321.5L461.4,321.7L461.9,322.0L462.4,322.2L462.9,322.4L463.4,322.6L463.9,322.9L464.4,323.1L464.9,323.3L465.4,323.5L465.9,323.6L466.4,323.8L466.9,324.0L467.4,324.2L467.9,324.4L468.4,324.5L468.9,324.7L469.4,324.8L469.9,325.0L470.4,325.2L470.9,325.3L471.4,325.5L471.9,325.6L472.4,325.8L472.9,325.9L473.4,326.1L473.9,326.2L474.4,326.3L474.9,326.5L475.4,326.6L475.9,326.7L476.4,326.9L476.9,327.0L477.4,327.1L477.9,327.2L478.4,327.4L478.9,327.5L479.4,327.6L479.9,327.7L480.4,327.8L480.9,328.0L481.4,328.1L481.9,328.2L482.4,328.3L482.9,328.4L483.4,328.5L483.9,328.6L484.4,328.7L484.9,328.8L485.4,328.9L485.9,329.1L486.4,329.2L486.9,329.3L487.4,329.4L487.9,329.5L488.4,329.6L488.9,329.7L489.4,329.8L489.9,329.9L490.4,330.0L490.9,330.1L491.4,330.1L491.9,330.2L492.4,330.3L492.9,330.4L493.4,330.5L493.9,330.6L494.4,330.7L494.9,330.8L495.4,330.9L495.9,331.0L496.4,331.0L496.9,331.1L497.4,331.2L497.9,331.3L498.4,331.4L498.9,331.5L499.4,331.5L499.9,331.6L500.4,331.7L500.9,331.8L501.4,331.8L501.9,331.9L502.4,332.0L502.9,332.1L503.4,332.1L503.9,332.2L504.4,332.3L504.9,332.4L505.4,332.4L505.9,332.5L506.4,332.6L506.9,332.6L507.4,332.7L507.9,332.8L508.4,332.8L508.9,332.9L509.4,332.9L509.9,333.0L510.4,333.0L510.9,333.1L511.4,333.1L511.9,333.2L512.4,333.2L512.9,333.3L513.4,333.3L513.9,333.4L514.4,333.4L514.9,333.4L515.4,333.5L515.9,333.5L516.4,333.6L516.9,333.6L517.4,333.7L517.9,333.7L518.4,333.8L518.9,333.8L519.4,333.9L519.9,334.0L520.4,334.0L520.9,334.1L521.4,334.2L521.9,334.2L522.4,334.3L522.9,334.4L523.4,334.5L523.9,334.6L524.4,334.7L524.9,334.8L525.4,335.0L525.9,335.2L526.4,335.4L526.9,335.6L527.4,335.8L527.9,336.0L528.4,336.2L528.9,336.5L529.4,336.7L529.9,336.9L530.4,337.2L530.9,337.4L531.4,337.7L531.9,337.9L532.4,338.2L532.9,338.6L533.4,338.9L533.9,339.2L534.4,339.5L534.9,339.8L535.4,340.0L535.9,340.2L536.4,340.4L536.9,340.5L537.4,340.6L537.9,340.7L538.4,340.8L538.9,340.8L539.4,340.9L539.9,341.0L540.4,341.0L540.9,341.1L541.4,341.1L541.9,341.1L542.4,341.2L542.9,341.2L543.4,341.3L543.9,341.3L544.4,341.3L544.9,341.3L545.4,341.4L545.9,341.4L546.4,341.4L546.9,341.4L547.4,341.4L547.9,341.4L548.4,341.5L548.9,341.5L549.4,341.5L549.9,341.5L550.4,341.5L550.9,341.5L551.4,341.5L551.9,341.5L552.4,341.5L552.9,341.6L553.4,341.6L553.9,341.6L554.4,341.6L554.9,341.6L555.4,341.6L555.9,341.6L556.4,341.6L556.9,341.6L557.4,341.6L557.9,341.7L558.4,341.7L558.9,341.7L559.4,341.7L559.9,341.7L560.4,341.7L560.9,341.7L561.4,341.7L561.9,341.7L562.4,341.7L562.9,341.7L563.4,341.7L563.9,341.7L564.4,341.7L564.9,341.8L565.4,341.8L565.9,341.8L566.4,341.8L566.9,341.8L567.4,341.8L567.9,341.8L568.4,341.8L568.9,341.8L569.4,341.8L569.9,341.8L570.4,341.8L570.9,341.8L571.4,341.8L571.9,341.8L572.4,341.8L572.9,341.8L573.4,341.8L573.9,341.8L574.4,341.8L574.5,341.8" fill="none" stroke="#E50E12" stroke-width="3.0" stroke-linejoin="round" stroke-linecap="butt"/>
<path d="M237.1,344.4L237.6,344.4L238.1,344.4L238.6,344.5L239.1,344.5L239.6,344.5L240.1,344.5L240.6,344.6L241.1,344.6L241.6,344.6L242.1,344.7L242.6,344.7L243.1,344.7L243.6,344.8L244.1,344.8L244.6,344.8L245.1,344.9L245.6,344.9L246.1,345.0L246.6,345.0L247.1,345.1L247.6,345.1L248.1,345.2L248.6,345.2L249.1,345.3L249.6,345.3L250.1,345.4L250.6,345.4L251.1,345.5L251.6,345.5L252.1,345.6L252.6,345.6L253.1,345.7L253.6,345.7L254.1,345.8L254.6,345.8L255.1,345.9L255.6,346.0L256.1,346.0L256.6,346.1L257.1,346.1L257.6,346.2L258.1,346.3L258.6,346.3L259.1,346.4L259.6,346.5L260.1,346.5L260.6,346.6L261.1,346.7L261.6,346.8L262.1,346.9L262.6,347.0L263.1,347.1L263.6,347.2L264.1,347.3L264.6,347.4L265.1,347.5L265.6,347.7L266.1,347.8L266.6,347.9L267.1,348.0L267.6,348.1L268.1,348.2L268.6,348.4L269.1,348.5L269.6,348.6L270.1,348.7L270.6,348.8L271.1,348.9L271.6,349.0L272.1,349.1L272.6,349.2L273.1,349.3L273.6,349.4L274.1,349.5L274.6,349.6L275.1,349.6L275.6,349.7L276.1,349.8L276.6,349.8L277.1,349.9L277.6,349.9L278.1,350.0L278.6,350.0L279.1,350.0L279.6,350.1L280.1,350.1L280.6,350.2L281.1,350.2L281.6,350.2L282.1,350.3L282.6,350.3L283.1,350.3L283.6,350.4L284.1,350.4L284.6,350.4L285.1,350.5L285.6,350.5L286.1,350.6L286.6,350.6L287.1,350.6L287.6,350.6L288.1,350.7L288.6,350.7L289.1,350.7L289.6,350.8L290.1,350.8L290.6,350.8L291.1,350.8L291.6,350.9L292.1,350.9L292.6,350.9L293.1,350.9L293.6,350.9L294.1,351.0L294.6,351.0L295.1,351.0L295.6,351.0L296.1,351.0L296.6,351.0L297.1,351.1L297.6,351.1L298.1,351.1L298.6,351.1L299.1,351.1L299.6,351.1L300.1,351.1L300.6,351.1L301.1,351.1L301.6,351.1L302.1,351.1L302.6,351.1L303.1,351.1L303.6,351.1L304.1,351.1L304.6,351.1L305.1,351.0L305.6,351.0L306.1,351.0L306.6,351.0L307.1,351.0L307.6,350.9L308.1,350.9L308.6,350.9L309.1,350.9L309.6,350.8L310.1,350.8L310.6,350.8L311.1,350.8L311.6,350.7L312.1,350.7L312.6,350.7L313.1,350.6L313.6,350.6L314.1,350.6L314.6,350.5L315.1,350.5L315.6,350.4L316.1,350.4L316.6,350.4L317.1,350.3L317.6,350.3L318.1,350.2L318.6,350.2L319.1,350.1L319.6,350.1L320.1,350.1L320.6,350.0L321.1,350.0L321.6,349.9L322.1,349.9L322.6,349.8L323.1,349.8L323.6,349.7L324.1,349.7L324.6,349.6L325.1,349.6L325.6,349.6L326.1,349.5L326.6,349.5L327.1,349.4L327.6,349.4L328.1,349.3L328.6,349.3L329.1,349.2L329.6,349.2L330.1,349.1L330.6,349.1L331.1,349.1L331.6,349.0L332.1,349.0L332.6,348.9L333.1,348.9L333.6,348.8L334.1,348.8L334.6,348.7L335.1,348.7L335.6,348.6L336.1,348.6L336.6,348.5L337.1,348.5L337.6,348.4L338.1,348.4L338.6,348.3L339.1,348.3L339.6,348.2L340.1,348.2L340.6,348.1L341.1,348.1L341.6,348.0L342.1,347.9L342.6,347.9L343.1,347.8L343.6,347.7L344.1,347.7L344.6,347.6L345.1,347.6L345.6,347.5L346.1,347.4L346.6,347.3L347.1,347.3L347.6,347.2L348.1,347.1L348.6,347.1L349.1,347.0L349.6,346.9L350.1,346.8L350.6,346.7L351.1,346.7L351.6,346.6L352.1,346.5L352.6,346.4L353.1,346.3L353.6,346.2L354.1,346.1L354.6,346.0L355.1,345.9L355.6,345.8L356.1,345.7L356.6,345.5L357.1,345.4L357.6,345.3L358.1,345.1L358.6,345.0L359.1,344.8L359.6,344.7L360.1,344.5L360.6,344.4L361.1,344.2L361.6,344.0L362.1,343.9L362.6,343.7L363.1,343.5L363.6,343.4L364.1,343.2L364.6,343.0L365.1,342.8L365.6,342.7L366.1,342.5L366.6,342.3L367.1,342.1L367.6,341.9L368.1,341.8L368.6,341.6L369.1,341.4L369.6,341.2L370.1,341.1L370.6,340.9L371.1,340.7L371.6,340.6L372.1,340.4L372.6,340.2L373.1,340.1L373.6,339.9L374.1,339.7L374.6,339.5L375.1,339.4L375.6,339.2L376.1,339.0L376.6,338.8L377.1,338.6L377.6,338.5L378.1,338.3L378.6,338.1L379.1,337.9L379.6,337.7L380.1,337.6L380.6,337.4L381.1,337.2L381.6,337.0L382.1,336.9L382.6,336.7L383.1,336.6L383.6,336.4L384.1,336.3L384.6,336.1L385.1,336.0L385.6,335.9L386.1,335.7L386.6,335.6L387.1,335.5L387.6,335.4L388.1,335.3L388.6,335.2L389.1,335.1L389.6,334.9L390.1,334.8L390.6,334.7L391.1,334.6L391.6,334.5L392.1,334.4L392.6,334.3L393.1,334.2L393.6,334.1L394.1,334.0L394.6,333.9L395.1,333.8L395.6,333.7L396.1,333.6L396.6,333.6L397.1,333.5L397.6,333.5L398.1,333.4L398.6,333.4L399.1,333.3L399.6,333.3L400.1,333.3L400.6,333.3L401.1,333.3L401.6,333.3L402.1,333.3L402.6,333.4L403.1,333.4L403.6,333.4L404.1,333.4L404.6,333.5L405.1,333.5L405.6,333.6L406.1,333.6L406.6,333.7L407.1,333.7L407.6,333.8L408.1,333.9L408.6,333.9L409.1,334.0L409.6,334.1L410.1,334.1L410.6,334.2L411.1,334.3L411.6,334.4L412.1,334.5L412.6,334.5L413.1,334.6L413.6,334.7L414.1,334.9L414.6,335.0L415.1,335.1L415.6,335.3L416.1,335.5L416.6,335.7L417.1,335.9L417.6,336.1L418.1,336.3L418.6,336.5L419.1,336.8L419.6,337.0L420.1,337.3L420.6,337.5L421.1,337.8L421.6,338.1L422.1,338.4L422.6,338.7L423.1,339.0L423.6,339.3L424.1,339.6L424.6,339.9L425.1,340.2L425.6,340.5L426.1,340.8L426.6,341.1L427.1,341.4L427.6,341.7L428.1,342.0L428.6,342.4L429.1,342.7L429.6,343.0L430.1,343.3L430.6,343.6L431.1,343.9L431.6,344.2L432.1,344.5L432.6,344.8L433.1,345.1L433.6,345.4L434.1,345.7L434.6,346.0L435.1,346.3L435.6,346.7L436.1,347.0L436.6,347.3L437.1,347.7L437.6,348.0L438.1,348.3L438.6,348.7L439.1,349.0L439.6,349.4L440.1,349.8L440.6,350.1L441.1,350.5L441.6,350.8L442.1,351.2L442.6,351.6L443.1,352.0L443.6,352.4L444.1,352.7L444.6,353.1L445.1,353.5L445.6,353.9L446.1,354.3L446.6,354.7L447.1,355.1L447.6,355.6L448.1,356.0L448.6,356.4L449.1,356.8L449.6,357.3L450.1,357.7L450.6,358.2L451.1,358.7L451.6,359.2L452.1,359.7L452.6,360.2L453.1,360.7L453.6,361.2L454.1,361.7L454.6,362.2L455.1,362.7L455.6,363.2L456.1,363.8L456.6,364.3L457.1,364.8L457.6,365.3L458.1,365.9L458.6,366.4L459.1,366.9L459.6,367.4L460.1,368.0L460.6,368.5L461.1,369.0L461.6,369.5L462.1,370.0L462.6,370.5L463.1,371.0L463.6,371.5L464.1,372.0L464.6,372.5L465.1,373.1L465.6,373.6L466.1,374.1L466.6,374.6L467.1,375.1L467.6,375.6L468.1,376.1L468.6,376.7L469.1,377.2L469.6,377.7L470.1,378.2L470.6,378.7L471.1,379.2L471.6,379.7L472.1,380.1L472.6,380.6L473.1,381.1L473.6,381.5L474.1,382.0L474.6,382.4L475.1,382.9L475.6,383.4L476.1,383.9L476.6,384.3L477.1,384.8L477.6,385.2L478.1,385.7L478.6,386.1L479.1,386.5L479.6,386.9L480.1,387.2L480.6,387.5L481.1,387.8L481.6,388.1L482.1,388.3L482.6,388.5L483.1,388.8L483.6,389.0L484.1,389.2L484.6,389.4L485.1,389.6L485.6,389.8L486.1,389.9L486.6,390.1L487.1,390.2L487.6,390.3L488.1,390.4L488.2,390.4" fill="none" stroke="#0808D8" stroke-width="3.0" stroke-linejoin="round" stroke-linecap="butt"/>
<path d="M237.1,293.5L237.6,293.5L238.1,293.5L238.6,293.5L239.1,293.5L239.6,293.5L240.1,293.5L240.6,293.5L241.1,293.5L241.6,293.5L242.1,293.5L242.6,293.5L243.1,293.5L243.6,293.5L244.1,293.5L244.6,293.5L245.1,293.5L245.6,293.5L246.1,293.5L246.6,293.5L247.1,293.5L247.6,293.5L248.1,293.5L248.6,293.5L249.1,293.5L249.6,293.5L250.1,293.5L250.6,293.5L251.1,293.5L251.6,293.5L252.1,293.5L252.6,293.5L253.1,293.5L253.6,293.5L254.1,293.5L254.6,293.5L255.1,293.5L255.6,293.5L256.1,293.5L256.6,293.5L257.1,293.5L257.6,293.5L258.1,293.5L258.6,293.5L259.1,293.5L259.6,293.5L260.1,293.5L260.6,293.5L261.1,293.5L261.6,293.5L262.1,293.5L262.6,293.5L263.1,293.5L263.6,293.5L264.1,293.5L264.6,293.5L265.1,293.5L265.6,293.5L266.1,293.5L266.6,293.5L267.1,293.5L267.6,293.5L268.1,293.5L268.6,293.5L269.1,293.5L269.6,293.5L270.1,293.5L270.6,293.5L271.1,293.5L271.6,293.6L272.1,293.6L272.6,293.6L273.1,293.6L273.6,293.6L274.1,293.6L274.6,293.6L275.1,293.6L275.6,293.7L276.1,293.7L276.6,293.7L277.1,293.7L277.6,293.7L278.1,293.7L278.6,293.7L279.1,293.8L279.6,293.8L280.1,293.8L280.6,293.8L281.1,293.8L281.6,293.9L282.1,293.9L282.6,293.9L283.1,293.9L283.6,293.9L284.1,294.0L284.6,294.0L285.1,294.0L285.6,294.0L286.1,294.1L286.6,294.1L287.1,294.1L287.6,294.1L288.1,294.1L288.6,294.2L289.1,294.2L289.6,294.2L290.1,294.3L290.6,294.3L291.1,294.3L291.6,294.4L292.1,294.4L292.6,294.4L293.1,294.5L293.6,294.6L294.1,294.6L294.6,294.7L295.1,294.7L295.6,294.8L296.1,294.9L296.6,294.9L297.1,295.0L297.6,295.1L298.1,295.1L298.6,295.2L299.1,295.3L299.6,295.4L300.1,295.5L300.6,295.5L301.1,295.6L301.6,295.7L302.1,295.8L302.6,295.9L303.1,296.0L303.6,296.1L304.1,296.2L304.6,296.3L305.1,296.3L305.6,296.4L306.1,296.5L306.6,296.6L307.1,296.7L307.6,296.8L308.1,296.9L308.6,297.0L309.1,297.1L309.6,297.2L310.1,297.3L310.6,297.4L311.1,297.5L311.6,297.6L312.1,297.7L312.6,297.7L313.1,297.8L313.6,297.9L314.1,298.0L314.6,298.1L315.1,298.2L315.6,298.3L316.1,298.4L316.6,298.5L317.1,298.6L317.6,298.7L318.1,298.8L318.6,298.8L319.1,298.9L319.6,299.0L320.1,299.1L320.6,299.2L321.1,299.3L321.6,299.4L322.1,299.5L322.6,299.7L323.1,299.8L323.6,299.9L324.1,300.0L324.6,300.1L325.1,300.2L325.6,300.3L326.1,300.4L326.6,300.6L327.1,300.7L327.6,300.8L328.1,300.9L328.6,301.1L329.1,301.2L329.6,301.3L330.1,301.5L330.6,301.6L331.1,301.7L331.6,301.9L332.1,302.0L332.6,302.2L333.1,302.4L333.6,302.5L334.1,302.7L334.6,302.8L335.1,303.0L335.6,303.2L336.1,303.4L336.6,303.5L337.1,303.7L337.6,303.9L338.1,304.1L338.6,304.3L339.1,304.5L339.6,304.7L340.1,304.9L340.6,305.1L341.1,305.3L341.6,305.5L342.1,305.7L342.6,305.9L343.1,306.1L343.6,306.3L344.1,306.5L344.6,306.7L345.1,306.9L345.6,307.1L346.1,307.4L346.6,307.6L347.1,307.8L347.6,308.0L348.1,308.3L348.6,308.5L349.1,308.7L349.6,309.0L350.1,309.2L350.6,309.4L351.1,309.7L351.6,309.9L352.1,310.2L352.6,310.4L353.1,310.7L353.6,311.0L354.1,311.2L354.6,311.5L355.1,311.8L355.6,312.1L356.1,312.3L356.6,312.6L357.1,312.9L357.6,313.2L358.1,313.5L358.6,313.8L359.1,314.1L359.6,314.4L360.1,314.7L360.6,315.0L361.1,315.3L361.6,315.7L362.1,316.0L362.6,316.3L363.1,316.6L363.6,317.0L364.1,317.3L364.6,317.6L365.1,318.0L365.6,318.3L366.1,318.7L366.6,319.0L367.1,319.4L367.6,319.8L368.1,320.2L368.6,320.5L369.1,320.9L369.6,321.3L370.1,321.7L370.6,322.1L371.1,322.6L371.6,323.0L372.1,323.4L372.6,323.8L373.1,324.2L373.6,324.7L374.1,325.1L374.6,325.6L375.1,326.0L375.6,326.4L376.1,326.9L376.6,327.3L377.1,327.8L377.6,328.2L378.1,328.7L378.6,329.2L379.1,329.6L379.6,330.1L380.1,330.5L380.6,331.0L381.1,331.5L381.6,332.0L382.1,332.5L382.6,332.9L383.1,333.4L383.6,333.9L384.1,334.4L384.6,335.0L385.1,335.5L385.6,336.0L386.1,336.5L386.6,337.0L387.1,337.5L387.6,338.0L388.1,338.5L388.6,339.1L389.1,339.6L389.6,340.1L390.1,340.6L390.6,341.1L391.1,341.6L391.6,342.1L392.1,342.6L392.6,343.1L393.1,343.6L393.6,344.2L394.1,344.7L394.6,345.2L395.1,345.7L395.6,346.3L396.1,346.8L396.6,347.3L397.1,347.8L397.6,348.4L398.1,348.9L398.6,349.4L399.1,349.9L399.6,350.4L400.1,350.9L400.6,351.3L401.1,351.8L401.6,352.3L402.1,352.7L402.6,353.1L403.1,353.6L403.6,354.0L404.1,354.4L404.6,354.8L405.1,355.2L405.6,355.7L406.1,356.1L406.6,356.5L407.1,356.9L407.6,357.3L408.1,357.7L408.6,358.1L409.1,358.5L409.6,358.9L410.1,359.2L410.6,359.6L411.1,360.0L411.6,360.4L412.1,360.7L412.6,361.1L413.1,361.4L413.6,361.8L414.1,362.1L414.6,362.5L415.1,362.8L415.6,363.1L416.1,363.4L416.6,363.7L417.1,364.0L417.6,364.3L418.1,364.6L418.6,364.8L419.1,365.1L419.6,365.3L420.1,365.6L420.6,365.8L421.1,366.1L421.6,366.3L422.1,366.5L422.6,366.7L423.1,367.0L423.6,367.2L424.1,367.4L424.6,367.6L425.1,367.8L425.6,368.0L426.1,368.2L426.6,368.4L427.1,368.5L427.6,368.7L428.1,368.9L428.6,369.1L429.1,369.3L429.6,369.4L430.1,369.6L430.6,369.8L431.1,370.0L431.6,370.1L432.1,370.3L432.6,370.5L433.1,370.6L433.6,370.8L434.1,371.0L434.6,371.1L435.1,371.3L435.6,371.5L436.1,371.6L436.6,371.8L437.1,372.0L437.6,372.1L438.1,372.3L438.6,372.5L439.1,372.6L439.6,372.8L440.1,373.0L440.6,373.1L441.1,373.3L441.6,373.4L442.1,373.6L442.6,373.7L443.1,373.9L443.6,374.0L444.1,374.2L444.6,374.3L445.1,374.5L445.6,374.6L446.1,374.8L446.6,374.9L447.1,375.1L447.6,375.2L448.1,375.4L448.6,375.5L449.1,375.7L449.6,375.8L450.1,376.0L450.6,376.1L451.1,376.3L451.6,376.4L452.1,376.6L452.6,376.7L453.1,376.9L453.6,377.0L454.1,377.2L454.6,377.3L455.1,377.5L455.6,377.7L456.1,377.8L456.6,378.0L457.1,378.2L457.6,378.4L458.1,378.6L458.6,378.7L459.1,378.9L459.6,379.1L460.1,379.3L460.6,379.5L461.1,379.7L461.6,379.9L462.1,380.1L462.6,380.3L463.1,380.5L463.6,380.7L464.1,380.9L464.6,381.1L465.1,381.3L465.6,381.5L466.1,381.7L466.6,382.0L467.1,382.2L467.6,382.4L468.1,382.6L468.6,382.8L469.1,383.1L469.6,383.3L470.1,383.5L470.6,383.7L471.1,384.0L471.6,384.2L472.1,384.4L472.6,384.7L473.1,384.9L473.6,385.2L474.1,385.5L474.6,385.8L475.1,386.0L475.6,386.3L476.1,386.6L476.6,386.9L477.1,387.2L477.6,387.4L478.1,387.7L478.6,388.0L479.1,388.2L479.6,388.4L480.1,388.6L480.6,388.8L481.1,389.0L481.6,389.2L482.1,389.3L482.6,389.5L483.1,389.7L483.6,389.8L484.1,390.0L484.6,390.1L485.1,390.3L485.6,390.4L486.1,390.6L486.6,390.7L487.1,390.8L487.6,390.9L488.1,391.0L488.6,391.1L489.1,391.2L489.6,391.2L490.1,391.3L490.6,391.3L491.1,391.3L491.6,391.3L492.1,391.3L492.6,391.4L493.1,391.4L493.6,391.4L494.1,391.4L494.6,391.4L495.1,391.4L495.6,391.4L496.1,391.4L496.6,391.5L497.1,391.5L497.6,391.5L498.1,391.5L498.6,391.5L499.1,391.5L499.6,391.5L500.1,391.5L500.6,391.5L501.1,391.6L501.6,391.6L502.1,391.6L502.6,391.6L503.1,391.6L503.6,391.6L504.1,391.6L504.6,391.6L505.1,391.6L505.6,391.6L506.1,391.6L506.6,391.6L507.1,391.7L507.6,391.7L508.1,391.7L508.6,391.7L509.1,391.7L509.6,391.7L510.1,391.7L510.6,391.7L511.1,391.7L511.6,391.7L512.1,391.7L512.6,391.7L513.1,391.7L513.6,391.7L514.1,391.7L514.6,391.7L515.1,391.7L515.6,391.7L516.1,391.7L516.6,391.8L517.1,391.8L517.6,391.8L518.1,391.8L518.6,391.8L519.1,391.8L519.6,391.8L520.1,391.8L520.6,391.8L521.1,391.8L521.6,391.8L522.1,391.8L522.6,391.8L523.1,391.8L523.6,391.8L524.1,391.8L524.6,391.8L525.1,391.8L525.6,391.8L526.1,391.8L526.6,391.8L527.1,391.8L527.6,391.8L528.1,391.8L528.6,391.8L529.1,391.8L529.6,391.8L530.1,391.8L530.6,391.8L530.8,391.8" fill="none" stroke="#E50E12" stroke-width="3.0" stroke-linejoin="round" stroke-linecap="butt"/>
<path d="M180.4,430.8L180.9,430.8L181.4,430.8L181.9,430.8L182.4,430.9L182.9,430.9L183.4,430.9L183.9,430.9L184.4,430.9L184.9,430.9L185.4,431.0L185.9,431.0L186.4,431.0L186.9,431.0L187.4,431.1L187.9,431.1L188.4,431.1L188.9,431.2L189.4,431.2L189.9,431.2L190.4,431.2L190.9,431.3L191.4,431.3L191.9,431.3L192.4,431.4L192.9,431.4L193.4,431.4L193.9,431.5L194.4,431.5L194.9,431.6L195.4,431.6L195.9,431.6L196.4,431.7L196.9,431.7L197.4,431.7L197.9,431.8L198.4,431.8L198.9,431.9L199.4,431.9L199.9,431.9L200.4,432.0L200.9,432.0L201.4,432.1L201.9,432.1L202.4,432.2L202.9,432.2L203.4,432.3L203.9,432.3L204.4,432.4L204.9,432.4L205.4,432.5L205.9,432.5L206.4,432.6L206.9,432.7L207.4,432.7L207.9,432.8L208.4,432.8L208.9,432.9L209.4,433.0L209.9,433.0L210.4,433.1L210.9,433.2L211.4,433.3L211.9,433.3L212.4,433.4L212.9,433.5L213.4,433.6L213.9,433.6L214.4,433.7L214.9,433.8L215.4,433.9L215.9,434.0L216.4,434.1L216.9,434.2L217.4,434.3L217.9,434.4L218.4,434.5L218.9,434.6L219.4,434.7L219.9,434.8L220.4,435.0L220.9,435.1L221.4,435.2L221.9,435.4L222.4,435.5L222.9,435.7L223.4,435.8L223.9,436.0L224.4,436.2L224.9,436.4L225.4,436.6L225.9,436.8L226.4,437.1L226.9,437.4L227.4,437.6L227.9,437.9L228.4,438.2L228.9,438.4L229.4,438.6L229.9,438.8L230.4,439.0L230.9,439.1L231.4,439.1L231.9,439.1L232.4,439.2L232.9,439.2L233.4,439.2L233.9,439.2L234.4,439.3L234.9,439.3L235.4,439.3L235.9,439.3L236.4,439.3L236.9,439.4L237.4,439.4L237.9,439.4L238.4,439.4L238.9,439.4L239.4,439.4L239.9,439.5L240.4,439.5L240.9,439.5L241.4,439.5L241.9,439.5L242.4,439.5L242.9,439.5L243.4,439.5L243.9,439.5L244.4,439.6L244.9,439.6L245.4,439.6L245.9,439.6L246.4,439.6L246.9,439.6L247.4,439.6L247.9,439.6L248.4,439.6L248.9,439.6L249.4,439.6L249.9,439.6L250.4,439.6L250.9,439.6L251.4,439.6L251.9,439.6L252.4,439.6L252.9,439.6L253.4,439.6L253.9,439.6L254.4,439.6L254.9,439.6L255.4,439.5L255.9,439.5L256.4,439.5L256.9,439.5L257.4,439.5L257.9,439.5L258.4,439.5L258.9,439.5L259.4,439.4L259.9,439.4L260.4,439.4L260.9,439.4L261.4,439.4L261.9,439.4L262.4,439.3L262.9,439.3L263.4,439.3L263.9,439.3L264.4,439.3L264.9,439.2L265.4,439.2L265.9,439.2L266.4,439.2L266.9,439.2L267.4,439.1L267.9,439.1L268.4,439.1L268.9,439.1L269.4,439.1L269.9,439.0L270.4,439.0L270.9,439.0L271.4,439.0L271.9,439.0L272.4,439.0L272.9,438.9L273.4,438.9L273.9,438.9L274.4,438.9L274.9,438.9L275.4,438.9L275.9,438.8L276.4,438.8L276.9,438.8L277.4,438.8L277.9,438.8L278.4,438.8L278.9,438.7L279.4,438.7L279.9,438.7L280.4,438.7L280.9,438.7L281.4,438.7L281.9,438.7L282.4,438.6L282.9,438.6L283.4,438.6L283.9,438.6L284.4,438.6L284.9,438.6L285.4,438.5L285.9,438.5L286.4,438.5L286.9,438.5L287.4,438.5L287.9,438.5L288.4,438.4L288.9,438.4L289.4,438.4L289.9,438.4L290.4,438.4L290.9,438.3L291.4,438.3L291.9,438.3L292.4,438.3L292.9,438.2L293.4,438.2L293.9,438.2L294.4,438.2L294.9,438.1L295.4,438.1L295.9,438.1L296.4,438.1L296.9,438.0L297.4,438.0L297.9,438.0L298.4,438.0L298.9,437.9L299.4,437.9L299.9,437.9L300.4,437.8L300.9,437.8L301.4,437.7L301.9,437.7L302.4,437.7L302.9,437.6L303.4,437.6L303.9,437.5L304.4,437.5L304.9,437.4L305.4,437.4L305.9,437.3L306.4,437.3L306.9,437.2L307.4,437.1L307.9,437.1L308.4,437.0L308.9,436.9L309.4,436.9L309.9,436.8L310.4,436.7L310.9,436.7L311.4,436.6L311.9,436.5L312.4,436.4L312.9,436.3L313.4,436.2L313.9,436.2L314.4,436.1L314.9,436.0L315.4,435.8L315.9,435.7L316.4,435.6L316.9,435.4L317.4,435.3L317.9,435.1L318.4,434.9L318.9,434.8L319.4,434.6L319.9,434.4L320.4,434.2L320.9,433.9L321.4,433.7L321.9,433.5L322.4,433.2L322.9,433.0L323.4,432.7L323.9,432.5L324.4,432.2L324.9,432.0L325.4,431.7L325.9,431.4L326.4,431.1L326.9,430.8L327.4,430.5L327.9,430.1L328.4,429.7L328.9,429.3L329.4,428.9L329.9,428.5L330.4,428.0L330.9,427.5L331.4,427.1L331.9,426.6L332.4,426.1L332.9,425.6L333.4,425.1L333.9,424.6L334.4,424.1L334.9,423.6L335.4,423.1L335.9,422.6L336.4,422.1L336.9,421.5L337.4,420.9L337.9,420.3L338.4,419.7L338.9,419.1L339.4,418.5L339.9,417.9L340.4,417.3L340.9,416.8L341.4,416.4L341.9,416.0L342.4,415.6L342.9,415.3L343.4,415.1L343.9,414.8L344.4,414.5L344.9,414.2L345.4,414.0L345.9,413.8L346.4,413.5L346.9,413.3L347.4,413.1L347.9,412.9L348.4,412.8L348.9,412.6L349.4,412.5L349.9,412.5L350.4,412.4L350.9,412.4L351.4,412.4L351.9,412.4L352.4,412.5L352.9,412.5L353.4,412.6L353.9,412.6L354.4,412.7L354.9,412.8L355.4,412.9L355.9,413.0L356.4,413.2L356.9,413.3L357.4,413.4L357.9,413.6L358.4,413.7L358.9,413.9L359.4,414.0L359.9,414.2L360.4,414.3L360.9,414.5L361.4,414.6L361.9,414.8L362.4,415.0L362.9,415.2L363.4,415.4L363.9,415.6L364.4,415.9L364.9,416.2L365.4,416.5L365.9,416.8L366.4,417.1L366.9,417.4L367.4,417.8L367.9,418.1L368.4,418.5L368.9,418.8L369.4,419.2L369.9,419.6L370.4,420.0L370.9,420.4L371.4,420.8L371.9,421.2L372.4,421.6L372.9,422.0L373.4,422.4L373.9,422.7L374.4,423.1L374.9,423.5L375.4,423.9L375.9,424.3L376.4,424.6L376.9,425.0L377.4,425.4L377.9,425.8L378.4,426.2L378.9,426.6L379.4,427.0L379.9,427.4L380.4,427.8L380.9,428.2L381.4,428.6L381.9,429.0L382.4,429.4L382.9,429.8L383.4,430.3L383.9,430.7L384.4,431.1L384.9,431.6L385.4,432.0L385.9,432.4L386.4,432.9L386.9,433.3L387.4,433.8L387.9,434.2L388.4,434.6L388.9,435.1L389.4,435.6L389.9,436.0L390.4,436.5L390.9,436.9L391.4,437.4L391.9,437.9L392.4,438.5L392.9,439.0L393.4,439.5L393.9,440.0L394.4,440.6L394.9,441.1L395.4,441.7L395.9,442.2L396.4,442.7L396.9,443.3L397.4,443.8L397.9,444.3L398.4,444.8L398.9,445.3L399.4,445.8L399.9,446.3L400.4,446.7L400.9,447.2L401.4,447.6L401.9,448.0L402.4,448.4L402.9,448.8L403.4,449.1L403.9,449.5L404.4,449.9L404.9,450.2L405.4,450.6L405.9,450.9L406.4,451.3L406.9,451.6L407.4,451.8L407.9,452.1L408.4,452.4L408.9,452.6L409.4,452.8L409.9,453.0L410.4,453.2L410.9,453.4L411.4,453.6L411.9,453.8L412.4,454.0L412.9,454.2L413.4,454.4L413.9,454.6L414.4,454.7L414.9,454.9L415.4,455.0L415.9,455.1L416.4,455.3L416.9,455.4L417.4,455.5L417.9,455.5L418.4,455.6" fill="none" stroke="#0808D8" stroke-width="3.0" stroke-linejoin="round" stroke-linecap="butt"/>
<path d="M180.4,363.3L180.9,363.3L181.4,363.3L181.9,363.3L182.4,363.3L182.9,363.4L183.4,363.4L183.9,363.4L184.4,363.4L184.9,363.4L185.4,363.4L185.9,363.4L186.4,363.4L186.9,363.5L187.4,363.5L187.9,363.5L188.4,363.5L188.9,363.5L189.4,363.5L189.9,363.5L190.4,363.6L190.9,363.6L191.4,363.6L191.9,363.6L192.4,363.6L192.9,363.6L193.4,363.6L193.9,363.7L194.4,363.7L194.9,363.7L195.4,363.7L195.9,363.7L196.4,363.7L196.9,363.8L197.4,363.8L197.9,363.8L198.4,363.8L198.9,363.8L199.4,363.8L199.9,363.9L200.4,363.9L200.9,363.9L201.4,363.9L201.9,364.0L202.4,364.0L202.9,364.0L203.4,364.0L203.9,364.1L204.4,364.1L204.9,364.1L205.4,364.2L205.9,364.2L206.4,364.2L206.9,364.2L207.4,364.3L207.9,364.3L208.4,364.3L208.9,364.3L209.4,364.4L209.9,364.4L210.4,364.4L210.9,364.4L211.4,364.4L211.9,364.5L212.4,364.5L212.9,364.5L213.4,364.5L213.9,364.5L214.4,364.5L214.9,364.5L215.4,364.5L215.9,364.5L216.4,364.4L216.9,364.4L217.4,364.4L217.9,364.3L218.4,364.3L218.9,364.2L219.4,364.1L219.9,364.1L220.4,364.0L220.9,363.9L221.4,363.9L221.9,363.8L222.4,363.7L222.9,363.6L223.4,363.6L223.9,363.5L224.4,363.4L224.9,363.4L225.4,363.3L225.9,363.3L226.4,363.2L226.9,363.2L227.4,363.1L227.9,363.1L228.4,363.1L228.9,363.1L229.4,363.1L229.9,363.1L230.4,363.1L230.9,363.1L231.4,363.1L231.9,363.2L232.4,363.2L232.9,363.2L233.4,363.2L233.9,363.3L234.4,363.3L234.9,363.3L235.4,363.4L235.9,363.4L236.4,363.4L236.9,363.5L237.4,363.5L237.9,363.6L238.4,363.6L238.9,363.7L239.4,363.7L239.9,363.8L240.4,363.8L240.9,363.9L241.4,363.9L241.9,364.0L242.4,364.0L242.9,364.1L243.4,364.1L243.9,364.2L244.4,364.2L244.9,364.3L245.4,364.3L245.9,364.4L246.4,364.5L246.9,364.5L247.4,364.6L247.9,364.7L248.4,364.8L248.9,364.8L249.4,364.9L249.9,365.0L250.4,365.1L250.9,365.2L251.4,365.3L251.9,365.3L252.4,365.4L252.9,365.5L253.4,365.6L253.9,365.7L254.4,365.8L254.9,365.9L255.4,366.0L255.9,366.1L256.4,366.2L256.9,366.3L257.4,366.4L257.9,366.5L258.4,366.6L258.9,366.7L259.4,366.8L259.9,366.9L260.4,367.0L260.9,367.1L261.4,367.3L261.9,367.4L262.4,367.5L262.9,367.6L263.4,367.7L263.9,367.8L264.4,367.9L264.9,368.0L265.4,368.1L265.9,368.3L266.4,368.4L266.9,368.5L267.4,368.6L267.9,368.7L268.4,368.9L268.9,369.0L269.4,369.1L269.9,369.2L270.4,369.4L270.9,369.5L271.4,369.6L271.9,369.8L272.4,369.9L272.9,370.0L273.4,370.2L273.9,370.3L274.4,370.5L274.9,370.6L275.4,370.7L275.9,370.9L276.4,371.0L276.9,371.2L277.4,371.3L277.9,371.5L278.4,371.6L278.9,371.8L279.4,371.9L279.9,372.1L280.4,372.3L280.9,372.4L281.4,372.6L281.9,372.7L282.4,372.9L282.9,373.0L283.4,373.2L283.9,373.4L284.4,373.5L284.9,373.7L285.4,373.9L285.9,374.0L286.4,374.2L286.9,374.4L287.4,374.5L287.9,374.7L288.4,374.9L288.9,375.1L289.4,375.2L289.9,375.4L290.4,375.6L290.9,375.8L291.4,376.0L291.9,376.1L292.4,376.3L292.9,376.5L293.4,376.7L293.9,376.9L294.4,377.1L294.9,377.3L295.4,377.5L295.9,377.7L296.4,377.9L296.9,378.1L297.4,378.3L297.9,378.5L298.4,378.7L298.9,378.9L299.4,379.1L299.9,379.4L300.4,379.6L300.9,379.8L301.4,380.0L301.9,380.2L302.4,380.5L302.9,380.7L303.4,380.9L303.9,381.2L304.4,381.4L304.9,381.7L305.4,381.9L305.9,382.1L306.4,382.4L306.9,382.6L307.4,382.9L307.9,383.2L308.4,383.4L308.9,383.7L309.4,383.9L309.9,384.2L310.4,384.5L310.9,384.8L311.4,385.1L311.9,385.4L312.4,385.7L312.9,386.0L313.4,386.3L313.9,386.6L314.4,386.9L314.9,387.2L315.4,387.5L315.9,387.9L316.4,388.2L316.9,388.6L317.4,388.9L317.9,389.3L318.4,389.6L318.9,390.0L319.4,390.4L319.9,390.7L320.4,391.1L320.9,391.5L321.4,391.9L321.9,392.3L322.4,392.7L322.9,393.1L323.4,393.5L323.9,393.9L324.4,394.3L324.9,394.8L325.4,395.2L325.9,395.6L326.4,396.1L326.9,396.5L327.4,397.0L327.9,397.5L328.4,398.0L328.9,398.5L329.4,399.0L329.9,399.5L330.4,400.0L330.9,400.6L331.4,401.1L331.9,401.7L332.4,402.2L332.9,402.8L333.4,403.4L333.9,404.0L334.4,404.6L334.9,405.2L335.4,405.8L335.9,406.4L336.4,407.0L336.9,407.6L337.4,408.2L337.9,408.8L338.4,409.4L338.9,410.0L339.4,410.7L339.9,411.3L340.4,412.0L340.9,412.7L341.4,413.4L341.9,414.0L342.4,414.7L342.9,415.4L343.4,416.1L343.9,416.8L344.4,417.5L344.9,418.2L345.4,418.8L345.9,419.5L346.4,420.2L346.9,420.9L347.4,421.6L347.9,422.3L348.4,423.0L348.9,423.7L349.4,424.4L349.9,425.1L350.4,425.8L350.9,426.5L351.4,427.2L351.9,427.9L352.4,428.6L352.9,429.3L353.4,429.9L353.9,430.5L354.4,431.2L354.9,431.8L355.4,432.4L355.9,433.1L356.4,433.7L356.9,434.3L357.4,435.0L357.9,435.6L358.4,436.2L358.9,436.9L359.4,437.5L359.9,438.1L360.4,438.6L360.9,439.2L361.4,439.7L361.9,440.2L362.4,440.7L362.9,441.1L363.4,441.6L363.9,441.9L364.4,442.3L364.9,442.6L365.4,442.9L365.9,443.3L366.4,443.6L366.9,443.9L367.4,444.2L367.9,444.5L368.4,444.7L368.9,445.0L369.4,445.3L369.9,445.5L370.4,445.8L370.9,446.0L371.4,446.2L371.9,446.5L372.4,446.7L372.9,446.9L373.4,447.1L373.9,447.3L374.4,447.4L374.9,447.6L375.4,447.8L375.9,447.9L376.4,448.1L376.9,448.2L377.4,448.4L377.9,448.5L378.4,448.6L378.9,448.8L379.4,448.9L379.9,449.0L380.4,449.1L380.9,449.3L381.4,449.4L381.9,449.5L382.4,449.6L382.9,449.7L383.4,449.8L383.9,449.9L384.4,450.0L384.9,450.1L385.4,450.2L385.9,450.3L386.4,450.4L386.9,450.5L387.4,450.6L387.9,450.6L388.4,450.7L388.9,450.8L389.4,450.9L389.9,451.0L390.4,451.1L390.9,451.2L391.4,451.3L391.9,451.4L392.4,451.5L392.9,451.6L393.4,451.7L393.9,451.8L394.4,451.9L394.9,452.0L395.4,452.1L395.9,452.2L396.4,452.3L396.9,452.4L397.4,452.5L397.9,452.6L398.4,452.7L398.9,452.8L399.4,452.9L399.9,453.0L400.4,453.1L400.9,453.2L401.4,453.3L401.9,453.4L402.4,453.5L402.9,453.6L403.4,453.7L403.9,453.8L404.4,453.9L404.9,454.0L405.4,454.1L405.9,454.2L406.4,454.3L406.9,454.3L407.4,454.4L407.9,454.5L408.4,454.6L408.9,454.7L409.4,454.7L409.9,454.8L410.4,454.9L410.9,454.9L411.4,455.0L411.9,455.1L412.4,455.1L412.9,455.2L413.4,455.3L413.9,455.3L414.4,455.4L414.9,455.5L415.4,455.6L415.9,455.6L416.4,455.7L416.9,455.7L417.4,455.8L417.9,455.9L418.4,455.9L418.9,456.0L419.4,456.0L419.9,456.1L420.4,456.1L420.9,456.1L421.4,456.2L421.9,456.2L422.4,456.2L422.9,456.2L423.4,456.2L423.9,456.2L424.4,456.2L424.9,456.2L425.4,456.2L425.9,456.2L426.4,456.2L426.9,456.2L427.4,456.2L427.9,456.2L428.4,456.2L428.9,456.2L429.4,456.2L429.9,456.2L430.4,456.2L430.9,456.2L431.4,456.2L431.9,456.2L432.4,456.2L432.9,456.2L433.4,456.2L433.9,456.2L434.4,456.2L434.9,456.2L435.4,456.2L435.9,456.2L436.4,456.2L436.9,456.2L437.4,456.2L437.9,456.2L438.4,456.2L438.9,456.2L439.4,456.2L439.9,456.2L440.4,456.2L440.9,456.2L441.4,456.2L441.9,456.2L442.4,456.2L442.9,456.2L443.4,456.2L443.9,456.2L444.4,456.2L444.9,456.2L445.4,456.2L445.9,456.2L446.4,456.2L446.9,456.2L447.4,456.2L447.9,456.2L448.4,456.2L448.9,456.2L449.4,456.2L449.9,456.2L450.4,456.2L450.9,456.2L451.4,456.2L451.9,456.2L452.4,456.2L452.9,456.2L453.4,456.2L453.9,456.2L454.4,456.2L454.9,456.2L455.4,456.1L455.9,456.1L456.4,456.1L456.9,456.1L457.4,456.1L457.9,456.1L458.4,456.1L458.9,456.1L459.4,456.1L459.9,456.1L460.4,456.1L460.9,456.1L461.4,456.1L461.9,456.1L462.4,456.1L462.9,456.1L463.4,456.1L463.9,456.1L464.4,456.1L464.9,456.1L465.4,456.1L465.9,456.1L466.4,456.1L466.9,456.1L467.4,456.1L467.9,456.1L468.4,456.0L468.9,456.0L469.4,456.0L469.9,456.0L470.4,456.0L470.9,456.0L471.4,456.0L471.9,456.0L472.4,456.0L472.9,456.0L473.3,456.0" fill="none" stroke="#E50E12" stroke-width="3.0" stroke-linejoin="round" stroke-linecap="butt"/>
<path d="M131.4,513.0L131.9,513.0L132.4,513.1L132.9,513.1L133.4,513.1L133.9,513.1L134.4,513.2L134.9,513.2L135.4,513.2L135.9,513.2L136.4,513.3L136.9,513.3L137.4,513.3L137.9,513.3L138.4,513.4L138.9,513.4L139.4,513.4L139.9,513.4L140.4,513.5L140.9,513.5L141.4,513.5L141.9,513.5L142.4,513.6L142.9,513.6L143.4,513.6L143.9,513.6L144.4,513.7L144.9,513.7L145.4,513.7L145.9,513.7L146.4,513.8L146.9,513.8L147.4,513.8L147.9,513.8L148.4,513.9L148.9,513.9L149.4,513.9L149.9,513.9L150.4,514.0L150.9,514.0L151.4,514.0L151.9,514.0L152.4,514.1L152.9,514.1L153.4,514.1L153.9,514.1L154.4,514.1L154.9,514.2L155.4,514.2L155.9,514.2L156.4,514.2L156.9,514.3L157.4,514.3L157.9,514.3L158.4,514.3L158.9,514.4L159.4,514.4L159.9,514.4L160.4,514.5L160.9,514.5L161.4,514.5L161.9,514.5L162.4,514.6L162.9,514.6L163.4,514.6L163.9,514.7L164.4,514.7L164.9,514.7L165.4,514.7L165.9,514.8L166.4,514.8L166.9,514.8L167.4,514.9L167.9,514.9L168.4,514.9L168.9,514.9L169.4,515.0L169.9,515.0L170.4,515.0L170.9,515.0L171.4,515.1L171.9,515.1L172.4,515.1L172.9,515.1L173.4,515.2L173.9,515.2L174.4,515.2L174.9,515.2L175.4,515.2L175.9,515.3L176.4,515.3L176.9,515.3L177.4,515.3L177.9,515.3L178.4,515.3L178.9,515.4L179.4,515.4L179.9,515.4L180.4,515.4L180.9,515.4L181.4,515.4L181.9,515.4L182.4,515.4L182.9,515.4L183.4,515.4L183.9,515.4L184.4,515.4L184.9,515.4L185.4,515.4L185.9,515.4L186.4,515.4L186.9,515.4L187.4,515.5L187.9,515.5L188.4,515.5L188.9,515.5L189.4,515.5L189.9,515.5L190.4,515.5L190.9,515.5L191.4,515.5L191.9,515.5L192.4,515.5L192.9,515.5L193.4,515.5L193.9,515.5L194.4,515.5L194.9,515.5L195.4,515.5L195.9,515.5L196.4,515.5L196.9,515.5L197.4,515.5L197.9,515.5L198.4,515.5L198.9,515.5L199.4,515.5L199.9,515.5L200.4,515.5L200.9,515.5L201.4,515.5L201.9,515.5L202.4,515.5L202.9,515.5L203.4,515.5L203.9,515.5L204.4,515.5L204.9,515.5L205.4,515.5L205.9,515.5L206.4,515.5L206.9,515.5L207.4,515.6L207.9,515.6L208.4,515.6L208.9,515.6L209.4,515.6L209.9,515.6L210.4,515.6L210.9,515.6L211.4,515.6L211.9,515.6L212.4,515.6L212.9,515.6L213.4,515.6L213.9,515.6L214.4,515.6L214.9,515.6L215.4,515.6L215.9,515.6L216.4,515.6L216.9,515.6L217.4,515.6L217.9,515.6L218.4,515.6L218.9,515.6L219.4,515.6L219.9,515.7L220.4,515.7L220.9,515.7L221.4,515.7L221.9,515.7L222.4,515.7L222.9,515.7L223.4,515.7L223.9,515.7L224.4,515.7L224.9,515.7L225.4,515.7L225.9,515.7L226.4,515.7L226.9,515.7L227.4,515.7L227.9,515.8L228.4,515.8L228.9,515.8L229.4,515.8L229.9,515.8L230.4,515.8L230.9,515.8L231.4,515.8L231.9,515.8L232.4,515.8L232.9,515.8L233.4,515.8L233.9,515.8L234.4,515.9L234.9,515.9L235.4,515.9L235.9,515.9L236.4,515.9L236.9,515.9L237.4,515.9L237.9,515.9L238.4,515.9L238.9,515.9L239.4,515.9L239.9,515.9L240.4,515.9L240.9,516.0L241.4,516.0L241.9,516.0L242.4,516.0L242.9,516.0L243.4,516.0L243.9,516.0L244.4,516.0L244.9,516.0L245.4,516.0L245.9,516.0L246.4,516.0L246.9,516.1L247.4,516.1L247.9,516.1L248.4,516.1L248.9,516.1L249.4,516.1L249.9,516.1L250.4,516.1L250.9,516.1L251.4,516.1L251.9,516.1L252.4,516.1L252.9,516.1L253.4,516.1L253.9,516.2L254.4,516.2L254.9,516.2L255.4,516.2L255.9,516.2L256.4,516.2L256.9,516.2L257.4,516.2L257.9,516.2L258.4,516.2L258.9,516.2L259.4,516.3L259.9,516.3L260.4,516.3L260.9,516.3L261.4,516.3L261.9,516.3L262.4,516.3L262.9,516.3L263.4,516.3L263.9,516.3L264.4,516.3L264.9,516.4L265.4,516.4L265.9,516.4L266.4,516.4L266.9,516.4L267.4,516.4L267.9,516.4L268.4,516.4L268.9,516.4L269.4,516.4L269.9,516.4L270.4,516.5L270.9,516.5L271.4,516.5L271.9,516.5L272.4,516.5L272.9,516.5L273.4,516.5L273.9,516.5L274.4,516.5L274.9,516.5L275.4,516.5L275.9,516.5L276.4,516.5L276.9,516.5L277.4,516.6L277.9,516.6L278.4,516.6L278.9,516.6L279.4,516.6L279.9,516.6L280.4,516.6L280.9,516.6L281.4,516.6L281.9,516.6L282.4,516.6L282.9,516.6L283.4,516.6L283.9,516.6L284.4,516.6L284.9,516.6L285.4,516.6L285.9,516.6L286.4,516.6L286.9,516.6L287.4,516.6L287.9,516.6L288.4,516.6L288.9,516.5L289.4,516.5L289.9,516.5L290.4,516.5L290.9,516.5L291.4,516.4L291.9,516.4L292.4,516.4L292.9,516.3L293.4,516.3L293.9,516.3L294.4,516.2L294.9,516.2L295.4,516.2L295.9,516.1L296.4,516.1L296.9,516.1L297.4,516.0L297.9,516.0L298.4,515.9L298.9,515.9L299.4,515.9L299.9,515.8L300.4,515.8L300.9,515.8L301.4,515.7L301.9,515.7L302.4,515.7L302.9,515.6L303.4,515.6L303.9,515.6L304.4,515.5L304.9,515.5L305.4,515.5L305.9,515.5L306.4,515.5L306.9,515.4L307.4,515.4L307.9,515.4L308.4,515.4L308.9,515.4L309.4,515.4L309.9,515.4L310.4,515.4L310.9,515.4L311.4,515.5L311.9,515.5L312.4,515.6L312.9,515.6L313.4,515.7L313.9,515.8L314.4,515.8L314.9,515.9L315.4,515.9L315.9,516.0L316.4,516.1L316.9,516.1L317.4,516.2L317.9,516.3L318.4,516.3L318.9,516.4L319.4,516.5L319.9,516.5L320.4,516.6L320.9,516.7L321.4,516.8L321.9,516.8L322.4,516.9L322.9,517.0L323.4,517.1L323.9,517.2L324.0,517.2" fill="none" stroke="#0808D8" stroke-width="3.0" stroke-linejoin="round" stroke-linecap="butt"/>
<path d="M131.4,453.8L131.9,453.8L132.4,453.8L132.9,453.8L133.4,453.8L133.9,453.8L134.4,453.9L134.9,453.9L135.4,453.9L135.9,453.9L136.4,453.9L136.9,453.9L137.4,453.9L137.9,453.9L138.4,453.9L138.9,454.0L139.4,454.0L139.9,454.0L140.4,454.0L140.9,454.0L141.4,454.0L141.9,454.0L142.4,454.1L142.9,454.1L143.4,454.1L143.9,454.1L144.4,454.1L144.9,454.1L145.4,454.1L145.9,454.2L146.4,454.2L146.9,454.2L147.4,454.2L147.9,454.2L148.4,454.2L148.9,454.3L149.4,454.3L149.9,454.3L150.4,454.3L150.9,454.3L151.4,454.3L151.9,454.4L152.4,454.4L152.9,454.4L153.4,454.4L153.9,454.4L154.4,454.5L154.9,454.5L155.4,454.5L155.9,454.5L156.4,454.5L156.9,454.6L157.4,454.6L157.9,454.6L158.4,454.6L158.9,454.7L159.4,454.7L159.9,454.7L160.4,454.8L160.9,454.8L161.4,454.8L161.9,454.9L162.4,454.9L162.9,454.9L163.4,455.0L163.9,455.0L164.4,455.0L164.9,455.1L165.4,455.1L165.9,455.2L166.4,455.2L166.9,455.2L167.4,455.2L167.9,455.3L168.4,455.3L168.9,455.3L169.4,455.4L169.9,455.4L170.4,455.4L170.9,455.4L171.4,455.4L171.9,455.5L172.4,455.5L172.9,455.5L173.4,455.5L173.9,455.5L174.4,455.5L174.9,455.5L175.4,455.5L175.9,455.5L176.4,455.4L176.9,455.4L177.4,455.3L177.9,455.3L178.4,455.2L178.9,455.2L179.4,455.1L179.9,455.1L180.4,455.0L180.9,454.9L181.4,454.9L181.9,454.8L182.4,454.8L182.9,454.7L183.4,454.7L183.9,454.6L184.4,454.6L184.9,454.5L185.4,454.5L185.9,454.5L186.4,454.5L186.9,454.5L187.4,454.5L187.9,454.5L188.4,454.5L188.9,454.6L189.4,454.6L189.9,454.6L190.4,454.7L190.9,454.7L191.4,454.8L191.9,454.8L192.4,454.8L192.9,454.9L193.4,454.9L193.9,455.0L194.4,455.1L194.9,455.1L195.4,455.2L195.9,455.2L196.4,455.3L196.9,455.3L197.4,455.4L197.9,455.5L198.4,455.5L198.9,455.6L199.4,455.6L199.9,455.7L200.4,455.8L200.9,455.9L201.4,455.9L201.9,456.0L202.4,456.1L202.9,456.2L203.4,456.3L203.9,456.4L204.4,456.4L204.9,456.5L205.4,456.6L205.9,456.7L206.4,456.8L206.9,456.9L207.4,457.0L207.9,457.1L208.4,457.2L208.9,457.4L209.4,457.5L209.9,457.6L210.4,457.7L210.9,457.8L211.4,457.9L211.9,458.0L212.4,458.1L212.9,458.2L213.4,458.3L213.9,458.4L214.4,458.5L214.9,458.6L215.4,458.7L215.9,458.9L216.4,459.0L216.9,459.1L217.4,459.2L217.9,459.3L218.4,459.4L218.9,459.5L219.4,459.6L219.9,459.7L220.4,459.9L220.9,460.0L221.4,460.1L221.9,460.2L222.4,460.3L222.9,460.4L223.4,460.6L223.9,460.7L224.4,460.8L224.9,460.9L225.4,461.0L225.9,461.2L226.4,461.3L226.9,461.4L227.4,461.5L227.9,461.7L228.4,461.8L228.9,461.9L229.4,462.1L229.9,462.2L230.4,462.4L230.9,462.5L231.4,462.6L231.9,462.8L232.4,462.9L232.9,463.1L233.4,463.2L233.9,463.4L234.4,463.5L234.9,463.7L235.4,463.8L235.9,464.0L236.4,464.1L236.9,464.3L237.4,464.5L237.9,464.6L238.4,464.8L238.9,465.0L239.4,465.2L239.9,465.3L240.4,465.5L240.9,465.7L241.4,465.9L241.9,466.1L242.4,466.3L242.9,466.4L243.4,466.6L243.9,466.8L244.4,467.0L244.9,467.2L245.4,467.4L245.9,467.6L246.4,467.8L246.9,468.0L247.4,468.2L247.9,468.4L248.4,468.6L248.9,468.8L249.4,469.0L249.9,469.3L250.4,469.5L250.9,469.7L251.4,469.9L251.9,470.1L252.4,470.3L252.9,470.5L253.4,470.7L253.9,471.0L254.4,471.2L254.9,471.4L255.4,471.6L255.9,471.8L256.4,472.1L256.9,472.3L257.4,472.5L257.9,472.7L258.4,473.0L258.9,473.2L259.4,473.4L259.9,473.7L260.4,473.9L260.9,474.1L261.4,474.4L261.9,474.6L262.4,474.9L262.9,475.1L263.4,475.4L263.9,475.6L264.4,475.9L264.9,476.1L265.4,476.4L265.9,476.7L266.4,476.9L266.9,477.2L267.4,477.5L267.9,477.8L268.4,478.0L268.9,478.3L269.4,478.6L269.9,478.9L270.4,479.2L270.9,479.5L271.4,479.8L271.9,480.1L272.4,480.4L272.9,480.7L273.4,481.0L273.9,481.4L274.4,481.7L274.9,482.0L275.4,482.4L275.9,482.7L276.4,483.1L276.9,483.4L277.4,483.8L277.9,484.1L278.4,484.5L278.9,484.9L279.4,485.3L279.9,485.7L280.4,486.0L280.9,486.4L281.4,486.8L281.9,487.2L282.4,487.6L282.9,488.1L283.4,488.5L283.9,488.9L284.4,489.3L284.9,489.7L285.4,490.2L285.9,490.6L286.4,491.0L286.9,491.5L287.4,491.9L287.9,492.4L288.4,492.9L288.9,493.4L289.4,493.9L289.9,494.4L290.4,494.9L290.9,495.4L291.4,495.9L291.9,496.4L292.4,497.0L292.9,497.5L293.4,498.0L293.9,498.6L294.4,499.1L294.9,499.6L295.4,500.1L295.9,500.7L296.4,501.2L296.9,501.7L297.4,502.2L297.9,502.7L298.4,503.2L298.9,503.7L299.4,504.3L299.9,504.8L300.4,505.4L300.9,505.9L301.4,506.4L301.9,507.0L302.4,507.5L302.9,508.1L303.4,508.6L303.9,509.1L304.4,509.6L304.9,510.0L305.4,510.5L305.9,510.9L306.4,511.4L306.9,511.8L307.4,512.1L307.9,512.5L308.4,512.9L308.9,513.2L309.4,513.6L309.9,514.0L310.4,514.3L310.9,514.7L311.4,515.0L311.9,515.2L312.4,515.5L312.9,515.7L313.4,515.9L313.9,516.0L314.4,516.1L314.9,516.2L315.4,516.3L315.9,516.4L316.4,516.5L316.9,516.6L317.4,516.6L317.9,516.7L318.4,516.8L318.9,516.8L319.4,516.9L319.9,516.9L320.4,517.0L320.9,517.0L321.4,517.1L321.9,517.1L322.4,517.2L322.9,517.2L323.4,517.2L323.9,517.3L324.4,517.3L324.9,517.3L325.4,517.3L325.9,517.3L326.4,517.3L326.9,517.3L327.4,517.3L327.9,517.3L328.4,517.3L328.9,517.3L329.4,517.3L329.9,517.3L330.4,517.3L330.9,517.3L331.4,517.3L331.9,517.3L332.4,517.3L332.9,517.3L333.4,517.3L333.9,517.3L334.4,517.3L334.9,517.3L335.4,517.3L335.9,517.3L336.4,517.3L336.9,517.3L337.4,517.3L337.9,517.3L338.4,517.3L338.9,517.3L339.4,517.3L339.9,517.3L340.4,517.3L340.9,517.3L341.4,517.3L341.9,517.3L342.4,517.3L342.9,517.3L343.4,517.3L343.9,517.3L344.4,517.3L344.9,517.3L345.4,517.3L345.9,517.3L346.4,517.3L346.9,517.3L347.4,517.3L347.9,517.3L348.4,517.3L348.9,517.3L349.4,517.3L349.9,517.3L350.4,517.3L350.9,517.3L351.4,517.3L351.9,517.3L352.4,517.3L352.9,517.3L353.4,517.3L353.9,517.3L354.4,517.3L354.9,517.3L355.4,517.3L355.9,517.3L356.4,517.3L356.9,517.3L357.4,517.3L357.9,517.3L358.4,517.3L358.9,517.3L359.4,517.3L359.9,517.3L360.4,517.3L360.9,517.3L361.4,517.3L361.9,517.3L362.4,517.3L362.9,517.3L363.4,517.3L363.9,517.3L364.4,517.3L364.9,517.3L365.4,517.3L365.9,517.3L366.4,517.3L366.9,517.3L367.4,517.3L367.9,517.3L368.4,517.3L368.9,517.3L369.4,517.3L369.9,517.3L370.4,517.3L370.9,517.3L371.4,517.3L371.9,517.3L372.4,517.3L372.9,517.3L373.4,517.3L373.9,517.3L374.4,517.3L374.9,517.3L375.4,517.3L375.9,517.3L376.4,517.3L376.9,517.3L377.4,517.3L377.9,517.3L378.4,517.3L378.9,517.3L379.4,517.3L379.9,517.3L380.4,517.3L380.9,517.3L381.4,517.3L381.9,517.3L382.4,517.3L382.9,517.3L383.4,517.3L383.9,517.3L384.4,517.3L384.9,517.3L385.4,517.3L385.9,517.3L386.4,517.3L386.9,517.3L387.4,517.3L387.9,517.3L388.4,517.3L388.9,517.3L389.4,517.3L389.9,517.3L390.4,517.3L390.9,517.3L391.4,517.3L391.9,517.3L392.4,517.3L392.9,517.3L393.4,517.3L393.9,517.3L394.4,517.3L394.9,517.3L395.4,517.3L395.9,517.3L396.4,517.3L396.9,517.3L397.4,517.3L397.9,517.3L398.4,517.3L398.9,517.3L399.4,517.3L399.9,517.3L400.4,517.3L400.9,517.3L401.4,517.3L401.9,517.3L402.4,517.3L402.9,517.3L403.4,517.3L403.9,517.3L404.4,517.3L404.9,517.3L405.4,517.3L405.9,517.3L406.4,517.3L406.9,517.3L407.4,517.3L407.9,517.3L408.4,517.3L408.9,517.3L409.4,517.3L409.9,517.3L410.4,517.3L410.9,517.3L411.4,517.3L411.9,517.3L412.4,517.3L412.9,517.3L413.4,517.3L413.9,517.3L414.4,517.3L414.9,517.3L415.4,517.3L415.9,517.3L416.4,517.3L416.9,517.3L417.4,517.3L417.9,517.3L418.4,517.3L418.9,517.3L419.4,517.3L419.9,517.3L420.4,517.3L420.9,517.3L421.4,517.3L421.9,517.3L422.4,517.3L422.9,517.3L423.4,517.3L423.9,517.3L424.4,517.3" fill="none" stroke="#E50E12" stroke-width="3.0" stroke-linejoin="round" stroke-linecap="butt"/>
<line x1="124.2" y1="319.0" x2="124.2" y2="539.0" stroke="#000" stroke-width="2.3" />
<line x1="123.1" y1="539.0" x2="440.0" y2="539.0" stroke="#000" stroke-width="2.3" />
<line x1="124.2" y1="517.2" x2="130.2" y2="517.2" stroke="#000" stroke-width="1.8" />
<line x1="124.2" y1="495.2" x2="128.2" y2="495.2" stroke="#000" stroke-width="1.8" />
<line x1="124.2" y1="473.2" x2="130.2" y2="473.2" stroke="#000" stroke-width="1.8" />
<line x1="124.2" y1="451.2" x2="128.2" y2="451.2" stroke="#000" stroke-width="1.8" />
<line x1="124.2" y1="429.2" x2="130.2" y2="429.2" stroke="#000" stroke-width="1.8" />
<line x1="124.2" y1="407.2" x2="128.2" y2="407.2" stroke="#000" stroke-width="1.8" />
<line x1="124.2" y1="385.2" x2="130.2" y2="385.2" stroke="#000" stroke-width="1.8" />
<line x1="124.2" y1="363.2" x2="128.2" y2="363.2" stroke="#000" stroke-width="1.8" />
<line x1="124.2" y1="341.2" x2="130.2" y2="341.2" stroke="#000" stroke-width="1.8" />
<line x1="163.7" y1="539.0" x2="163.7" y2="536.0" stroke="#000" stroke-width="1.8" />
<line x1="203.2" y1="539.0" x2="203.2" y2="533.5" stroke="#000" stroke-width="1.8" />
<line x1="242.6" y1="539.0" x2="242.6" y2="536.0" stroke="#000" stroke-width="1.8" />
<line x1="282.1" y1="539.0" x2="282.1" y2="533.5" stroke="#000" stroke-width="1.8" />
<line x1="321.6" y1="539.0" x2="321.6" y2="536.0" stroke="#000" stroke-width="1.8" />
<line x1="361.1" y1="539.0" x2="361.1" y2="533.5" stroke="#000" stroke-width="1.8" />
<line x1="400.5" y1="539.0" x2="400.5" y2="536.0" stroke="#000" stroke-width="1.8" />
<text transform="translate(115.0,525.2)" font-size="29.5" text-anchor="end" fill="#000" color="#000" >0.0</text>
<text transform="translate(115.0,481.2)" font-size="29.5" text-anchor="end" fill="#000" color="#000" >0.2</text>
<text transform="translate(115.0,437.2)" font-size="29.5" text-anchor="end" fill="#000" color="#000" >0.4</text>
<text transform="translate(115.0,393.2)" font-size="29.5" text-anchor="end" fill="#000" color="#000" >0.6</text>
<text transform="translate(115.0,349.2)" font-size="29.5" text-anchor="end" fill="#000" color="#000" >0.8</text>
<text transform="translate(124.2,574.7)" font-size="29.5" text-anchor="middle" fill="#000" color="#000" >0</text>
<text transform="translate(203.2,574.7)" font-size="29.5" text-anchor="middle" fill="#000" color="#000" >100</text>
<text transform="translate(282.1,574.7)" font-size="29.5" text-anchor="middle" fill="#000" color="#000" >200</text>
<text transform="translate(361.1,574.7)" font-size="29.5" text-anchor="middle" fill="#000" color="#000" >300</text>
<text transform="translate(440.0,574.7)" font-size="29.5" text-anchor="middle" fill="#000" color="#000" >400</text>
<text transform="translate(282.0,620.0)" font-size="29.5" text-anchor="middle" fill="#000" color="#000" ><tspan font-style="italic">T</tspan> (K)</text>
<text transform="translate(51.5,428.7) rotate(-90.0)" font-size="29.5" text-anchor="middle" fill="#000" color="#000" ><tspan font-style="italic">M</tspan> (10<tspan font-size="20" dy="-12.5">&#8722;4</tspan><tspan dy="12.5"> emu)</tspan></text>
<text transform="translate(134.0,378.0)" font-size="29.5" text-anchor="start" fill="#E50E12" color="#E50E12" >OP</text>
<text transform="translate(143.0,442.5)" font-size="29.5" text-anchor="start" fill="#0808D8" color="#0808D8" >IP</text>
<text transform="translate(473.6,537.1)" font-size="29.5" text-anchor="start" fill="#000" color="#000" >3 nm</text>
<text transform="translate(515.5,477.2)" font-size="29.5" text-anchor="start" fill="#000" color="#000" >5 nm</text>
<text transform="translate(570.1,419.1)" font-size="29.5" text-anchor="start" fill="#000" color="#000" >7 nm</text>
<text transform="translate(616.7,361.3)" font-size="29.5" text-anchor="start" fill="#000" color="#000" >10 nm</text>
<text transform="translate(649.8,308.0)" font-size="29.5" text-anchor="start" fill="#000" color="#000" >15 nm</text>
<line x1="577.2" y1="533.1" x2="708.0" y2="363.0" stroke="#000" stroke-width="2.0" />
<path d="M727,338.2 L699.2,362.6 L710.8,372 Z" fill="#000"/>
<text transform="translate(602.5,566.5) rotate(-53.0)" font-size="29.0" text-anchor="start" fill="#000" color="#000" >Thickness of LSMO</text>
<text transform="translate(511.5,120.8)" font-size="27.5" text-anchor="start" fill="#000" color="#000" ><tspan font-style="italic">H</tspan> = 0.05 T</text>
<text transform="translate(822.0,31.0)" font-size="40.0" text-anchor="start" fill="#000" color="#000" font-weight="bold">b</text>
<rect x="939.2" y="44.3" width="391.3" height="451.1" fill="none" stroke="#000" stroke-width="2.3"/>
<line x1="987.3" y1="495.4" x2="987.3" y2="489.9" stroke="#000" stroke-width="1.8" />
<line x1="987.3" y1="44.3" x2="987.3" y2="49.8" stroke="#000" stroke-width="1.8" />
<line x1="1036.5" y1="495.4" x2="1036.5" y2="485.9" stroke="#000" stroke-width="1.8" />
<line x1="1036.5" y1="44.3" x2="1036.5" y2="53.8" stroke="#000" stroke-width="1.8" />
<line x1="1085.6" y1="495.4" x2="1085.6" y2="489.9" stroke="#000" stroke-width="1.8" />
<line x1="1085.6" y1="44.3" x2="1085.6" y2="49.8" stroke="#000" stroke-width="1.8" />
<line x1="1134.7" y1="495.4" x2="1134.7" y2="485.9" stroke="#000" stroke-width="1.8" />
<line x1="1134.7" y1="44.3" x2="1134.7" y2="53.8" stroke="#000" stroke-width="1.8" />
<line x1="1183.8" y1="495.4" x2="1183.8" y2="489.9" stroke="#000" stroke-width="1.8" />
<line x1="1183.8" y1="44.3" x2="1183.8" y2="49.8" stroke="#000" stroke-width="1.8" />
<line x1="1233.0" y1="495.4" x2="1233.0" y2="485.9" stroke="#000" stroke-width="1.8" />
<line x1="1233.0" y1="44.3" x2="1233.0" y2="53.8" stroke="#000" stroke-width="1.8" />
<line x1="1282.1" y1="495.4" x2="1282.1" y2="489.9" stroke="#000" stroke-width="1.8" />
<line x1="1282.1" y1="44.3" x2="1282.1" y2="49.8" stroke="#000" stroke-width="1.8" />
<line x1="939.2" y1="413.3" x2="948.7" y2="413.3" stroke="#000" stroke-width="1.8" />
<line x1="1330.5" y1="413.3" x2="1321.0" y2="413.3" stroke="#000" stroke-width="1.8" />
<line x1="939.2" y1="331.4" x2="944.7" y2="331.4" stroke="#000" stroke-width="1.8" />
<line x1="1330.5" y1="331.4" x2="1325.0" y2="331.4" stroke="#000" stroke-width="1.8" />
<line x1="939.2" y1="249.5" x2="948.7" y2="249.5" stroke="#000" stroke-width="1.8" />
<line x1="1330.5" y1="249.5" x2="1321.0" y2="249.5" stroke="#000" stroke-width="1.8" />
<line x1="939.2" y1="167.6" x2="944.7" y2="167.6" stroke="#000" stroke-width="1.8" />
<line x1="1330.5" y1="167.6" x2="1325.0" y2="167.6" stroke="#000" stroke-width="1.8" />
<line x1="939.2" y1="85.7" x2="948.7" y2="85.7" stroke="#000" stroke-width="1.8" />
<line x1="1330.5" y1="85.7" x2="1321.0" y2="85.7" stroke="#000" stroke-width="1.8" />
<text transform="translate(926.7,422.3)" font-size="29.5" text-anchor="end" fill="#000" color="#000" >0</text>
<text transform="translate(926.7,258.5)" font-size="29.5" text-anchor="end" fill="#000" color="#000" >4</text>
<text transform="translate(926.7,94.7)" font-size="29.5" text-anchor="end" fill="#000" color="#000" >8</text>
<text transform="translate(939.4,530.3)" font-size="29.5" text-anchor="middle" fill="#000" color="#000" >0.0</text>
<text transform="translate(1037.7,530.3)" font-size="29.5" text-anchor="middle" fill="#000" color="#000" >0.1</text>
<text transform="translate(1135.9,530.3)" font-size="29.5" text-anchor="middle" fill="#000" color="#000" >0.2</text>
<text transform="translate(1234.2,530.3)" font-size="29.5" text-anchor="middle" fill="#000" color="#000" >0.3</text>
<text transform="translate(1332.4,530.3)" font-size="29.5" text-anchor="middle" fill="#000" color="#000" >0.4</text>
<clipPath id="cb"><rect x="939.2" y="44.3" width="391.3" height="451.1"/></clipPath>
<line x1="939.1" y1="487.1" x2="1340.0" y2="24.7" stroke="#0000F0" stroke-width="3.2" clip-path="url(#cb)"/>
<circle cx="1004.0" cy="410.8" r="12" fill="#0000F0"/>
<circle cx="1036.6" cy="358.3" r="12" fill="#0000F0"/>
<circle cx="1078.9" cy="329.2" r="12" fill="#0000F0"/>
<circle cx="1134.6" cy="232.9" r="12" fill="#0000F0"/>
<circle cx="1183.7" cy="192.6" r="12" fill="#0000F0"/>
<circle cx="1265.5" cy="106.8" r="12" fill="#0000F0"/>
<text transform="translate(962.5,85.8)" font-size="29.5" text-anchor="start" fill="#000" color="#000" ><tspan font-style="italic">K</tspan><tspan font-size="20" dy="7.7">tot</tspan><tspan dy="-7.7">=</tspan><tspan font-style="italic">K</tspan><tspan font-size="20" dy="7.7">b</tspan><tspan dy="-7.7">+</tspan><tspan font-style="italic">K</tspan><tspan font-size="20" dy="7.7">i</tspan><tspan dy="-7.7">(1/</tspan><tspan font-style="italic">t</tspan><tspan font-size="20" dy="7.7">LSMO</tspan><tspan dy="-7.7">)</tspan></text>
<text transform="translate(985.7,229.2)" font-size="29.5" text-anchor="start" fill="#0000F0" color="#0000F0" >10 nm</text>
<line x1="1029.9" y1="249.5" x2="1029.9" y2="330.0" stroke="#0000F0" stroke-width="4.6" />
<path d="M1020.6,308.5 L1029.9,331.5 L1039.2,308.5" fill="none" stroke="#0000F0" stroke-width="4.6" stroke-linejoin="miter"/>
<line x1="858.0" y1="486.3" x2="925.0" y2="486.3" stroke="#0000F0" stroke-width="4.8" />
<path d="M904,478.3 L927,486.3 L904,494.3" fill="none" stroke="#0000F0" stroke-width="4.8" stroke-linejoin="miter"/>
<text transform="translate(824.0,494.9)" font-size="29.5" text-anchor="start" fill="#0000F0" color="#0000F0" ><tspan font-style="italic">K</tspan><tspan font-size="22.5" dx="-2.5" dy="8.5">b</tspan></text>
<text transform="translate(1175.5,458.5)" font-size="29.5" text-anchor="start" fill="#000" color="#000" ><tspan font-style="italic">T</tspan> = 10 K</text>
<text transform="translate(1041.0,581.1)" font-size="29.5" text-anchor="start" fill="#000" color="#000" >1/<tspan font-style="italic">t</tspan><tspan font-size="21.5" dy="7.5"> LSMO</tspan><tspan dy="-7.5"> (nm</tspan><tspan font-size="19" dy="-11">&#8722;1</tspan><tspan dy="11">)</tspan></text>
<text transform="translate(873.0,269.5) rotate(-90.0)" font-size="29.5" text-anchor="middle" fill="#000" color="#000" ><tspan font-style="italic">K</tspan><tspan font-size="20" dy="7.5">tot</tspan><tspan dy="-7.5"> (10</tspan><tspan font-size="20" dy="-11.5">6</tspan><tspan dy="11.5"> erg/cm</tspan><tspan font-size="21" dy="-13.5">3</tspan><tspan dy="13.5">)</tspan></text>
<text transform="translate(-1.5,695.5)" font-size="40.0" text-anchor="start" fill="#000" color="#000" font-weight="bold">c</text>
<text transform="translate(271.0,713.7)" font-size="30.0" text-anchor="start" fill="#000" color="#000" >LCO(<tspan font-style="italic">t</tspan>)-LSMO(6 nm)-LCO(<tspan font-style="italic">t</tspan>)</text>
<line x1="100.3" y1="1186.5" x2="280.3" y2="972.7" stroke="#000" stroke-width="2.0" stroke-dasharray="5.8 6.6"/>
<rect x="300.8" y="733.8" width="315.3" height="220.2" fill="none" stroke="#000" stroke-width="2.3"/>
<line x1="340.2" y1="733.8" x2="340.2" y2="736.8" stroke="#000" stroke-width="1.8" />
<line x1="340.2" y1="954.0" x2="340.2" y2="951.0" stroke="#000" stroke-width="1.8" />
<line x1="379.6" y1="733.8" x2="379.6" y2="738.8" stroke="#000" stroke-width="1.8" />
<line x1="379.6" y1="954.0" x2="379.6" y2="949.0" stroke="#000" stroke-width="1.8" />
<line x1="419.0" y1="733.8" x2="419.0" y2="736.8" stroke="#000" stroke-width="1.8" />
<line x1="419.0" y1="954.0" x2="419.0" y2="951.0" stroke="#000" stroke-width="1.8" />
<line x1="458.4" y1="733.8" x2="458.4" y2="738.8" stroke="#000" stroke-width="1.8" />
<line x1="458.4" y1="954.0" x2="458.4" y2="949.0" stroke="#000" stroke-width="1.8" />
<line x1="497.9" y1="733.8" x2="497.9" y2="736.8" stroke="#000" stroke-width="1.8" />
<line x1="497.9" y1="954.0" x2="497.9" y2="951.0" stroke="#000" stroke-width="1.8" />
<line x1="537.3" y1="733.8" x2="537.3" y2="738.8" stroke="#000" stroke-width="1.8" />
<line x1="537.3" y1="954.0" x2="537.3" y2="949.0" stroke="#000" stroke-width="1.8" />
<line x1="576.7" y1="733.8" x2="576.7" y2="736.8" stroke="#000" stroke-width="1.8" />
<line x1="576.7" y1="954.0" x2="576.7" y2="951.0" stroke="#000" stroke-width="1.8" />
<line x1="300.8" y1="945.6" x2="305.8" y2="945.6" stroke="#000" stroke-width="1.8" />
<line x1="616.1" y1="945.6" x2="611.1" y2="945.6" stroke="#000" stroke-width="1.8" />
<line x1="300.8" y1="924.4" x2="304.3" y2="924.4" stroke="#000" stroke-width="1.8" />
<line x1="616.1" y1="924.4" x2="612.6" y2="924.4" stroke="#000" stroke-width="1.8" />
<line x1="300.8" y1="903.2" x2="305.8" y2="903.2" stroke="#000" stroke-width="1.8" />
<line x1="616.1" y1="903.2" x2="611.1" y2="903.2" stroke="#000" stroke-width="1.8" />
<line x1="300.8" y1="882.0" x2="304.3" y2="882.0" stroke="#000" stroke-width="1.8" />
<line x1="616.1" y1="882.0" x2="612.6" y2="882.0" stroke="#000" stroke-width="1.8" />
<line x1="300.8" y1="860.8" x2="305.8" y2="860.8" stroke="#000" stroke-width="1.8" />
<line x1="616.1" y1="860.8" x2="611.1" y2="860.8" stroke="#000" stroke-width="1.8" />
<line x1="300.8" y1="839.6" x2="304.3" y2="839.6" stroke="#000" stroke-width="1.8" />
<line x1="616.1" y1="839.6" x2="612.6" y2="839.6" stroke="#000" stroke-width="1.8" />
<line x1="300.8" y1="818.4" x2="305.8" y2="818.4" stroke="#000" stroke-width="1.8" />
<line x1="616.1" y1="818.4" x2="611.1" y2="818.4" stroke="#000" stroke-width="1.8" />
<line x1="300.8" y1="797.2" x2="304.3" y2="797.2" stroke="#000" stroke-width="1.8" />
<line x1="616.1" y1="797.2" x2="612.6" y2="797.2" stroke="#000" stroke-width="1.8" />
<line x1="300.8" y1="776.0" x2="305.8" y2="776.0" stroke="#000" stroke-width="1.8" />
<line x1="616.1" y1="776.0" x2="611.1" y2="776.0" stroke="#000" stroke-width="1.8" />
<line x1="300.8" y1="754.8" x2="304.3" y2="754.8" stroke="#000" stroke-width="1.8" />
<line x1="616.1" y1="754.8" x2="612.6" y2="754.8" stroke="#000" stroke-width="1.8" />
<line x1="99.6" y1="968.1" x2="300.8" y2="733.8" stroke="#000" stroke-width="2.3" />
<line x1="414.9" y1="1188.3" x2="616.1" y2="954.0" stroke="#000" stroke-width="2.3" />
<path d="M306.8,800.6L307.3,800.6L307.8,800.6L308.3,800.6L308.8,800.6L309.3,800.6L309.8,800.6L310.3,800.6L310.8,800.6L311.3,800.6L311.8,800.6L312.3,800.6L312.8,800.6L313.3,800.6L313.8,800.6L314.3,800.6L314.8,800.6L315.3,800.6L315.8,800.6L316.3,800.6L316.8,800.6L317.3,800.6L317.8,800.6L318.3,800.6L318.8,800.6L319.3,800.6L319.8,800.6L320.3,800.6L320.8,800.6L321.3,800.6L321.8,800.6L322.3,800.6L322.8,800.6L323.3,800.6L323.8,800.6L324.3,800.6L324.8,800.6L325.3,800.6L325.8,800.6L326.3,800.6L326.8,800.6L327.3,800.5L327.8,800.5L328.3,800.5L328.8,800.5L329.3,800.4L329.8,800.4L330.3,800.4L330.8,800.3L331.3,800.3L331.8,800.3L332.3,800.2L332.8,800.2L333.3,800.2L333.8,800.1L334.3,800.1L334.8,800.1L335.3,800.0L335.8,800.0L336.3,800.0L336.8,799.9L337.3,799.9L337.8,799.9L338.3,799.9L338.8,799.8L339.3,799.8L339.8,799.8L340.3,799.8L340.8,799.8L341.3,799.8L341.8,799.8L342.3,799.7L342.8,799.7L343.3,799.7L343.8,799.7L344.3,799.7L344.8,799.7L345.3,799.7L345.8,799.7L346.3,799.7L346.8,799.6L347.3,799.6L347.8,799.6L348.3,799.6L348.8,799.6L349.3,799.6L349.8,799.6L350.3,799.6L350.8,799.6L351.3,799.6L351.8,799.6L352.3,799.6L352.8,799.6L353.3,799.6L353.8,799.7L354.3,799.7L354.8,799.7L355.3,799.7L355.8,799.8L356.3,799.8L356.8,799.8L357.3,799.9L357.8,799.9L358.3,800.0L358.8,800.0L359.3,800.0L359.8,800.1L360.3,800.1L360.8,800.2L361.3,800.2L361.8,800.3L362.3,800.3L362.8,800.4L363.3,800.4L363.8,800.5L364.3,800.6L364.8,800.6L365.3,800.7L365.8,800.8L366.3,800.8L366.8,800.9L367.3,801.0L367.8,801.1L368.3,801.2L368.8,801.3L369.3,801.3L369.8,801.4L370.3,801.5L370.8,801.6L371.3,801.7L371.8,801.9L372.3,802.0L372.8,802.1L373.3,802.2L373.8,802.3L374.3,802.5L374.8,802.6L375.3,802.8L375.8,803.0L376.3,803.2L376.8,803.4L377.3,803.6L377.8,803.8L378.3,804.0L378.8,804.2L379.3,804.3L379.8,804.5L380.3,804.7L380.8,804.9L381.3,805.0L381.8,805.2L382.3,805.4L382.8,805.5L383.3,805.7L383.8,805.8L384.3,806.0L384.8,806.1L385.3,806.3L385.8,806.5L386.3,806.6L386.8,806.8L387.3,806.9L387.8,807.1L388.3,807.2L388.8,807.4L389.3,807.6L389.8,807.8L390.3,807.9L390.8,808.1L391.3,808.3L391.8,808.5L392.3,808.7L392.8,808.9L393.3,809.1L393.8,809.4L394.3,809.6L394.8,809.8L395.3,810.1L395.8,810.3L396.3,810.6L396.8,810.8L397.3,811.1L397.8,811.4L398.3,811.7L398.8,811.9L399.3,812.2L399.8,812.5L400.3,812.8L400.8,813.1L401.3,813.4L401.8,813.7L402.3,814.0L402.8,814.3L403.3,814.6L403.8,814.9L404.3,815.3L404.8,815.6L405.3,815.9L405.8,816.2L406.3,816.5L406.8,816.9L407.3,817.2L407.8,817.6L408.3,817.9L408.8,818.3L409.3,818.6L409.8,819.0L410.3,819.3L410.8,819.7L411.3,820.1L411.8,820.5L412.3,820.8L412.8,821.2L413.3,821.6L413.8,822.0L414.3,822.4L414.8,822.8L415.3,823.2L415.8,823.6L416.3,824.0L416.8,824.4L417.3,824.8L417.8,825.3L418.3,825.7L418.8,826.1L419.3,826.6L419.8,827.0L420.3,827.4L420.8,827.9L421.3,828.3L421.8,828.8L422.3,829.2L422.8,829.7L423.3,830.2L423.8,830.7L424.3,831.1L424.8,831.6L425.3,832.1L425.8,832.6L426.3,833.1L426.8,833.6L427.3,834.1L427.8,834.6L428.3,835.1L428.8,835.6L429.3,836.2L429.8,836.7L430.3,837.2L430.8,837.7L431.3,838.3L431.8,838.8L432.3,839.4L432.8,840.0L433.3,840.5L433.8,841.1L434.3,841.7L434.8,842.3L435.3,842.9L435.8,843.5L436.3,844.1L436.8,844.7L437.3,845.3L437.8,845.9L438.3,846.6L438.8,847.2L439.3,847.8L439.8,848.5L440.3,849.2L440.8,849.8L441.3,850.5L441.8,851.3L442.3,852.0L442.8,852.7L443.3,853.5L443.8,854.2L444.3,855.0L444.8,855.8L445.3,856.5L445.8,857.3L446.3,858.1L446.8,858.9L447.3,859.6L447.8,860.4L448.3,861.2L448.8,861.9L449.3,862.7L449.8,863.5L450.3,864.2L450.8,865.0L451.3,865.8L451.8,866.6L452.3,867.4L452.8,868.2L453.3,869.0L453.8,869.9L453.9,870.1L453.9,870.1L453.8,870.2L453.3,870.4L452.8,870.7L452.3,870.9L451.8,871.2L451.3,871.5L450.8,871.7L450.3,872.0L449.8,872.3L449.3,872.6L448.8,872.9L448.3,873.2L447.8,873.5L447.3,873.8L446.8,874.1L446.3,874.4L445.8,874.7L445.3,875.0L444.8,875.3L444.3,875.5L443.8,875.8L443.3,876.1L442.8,876.3L442.3,876.5L441.8,876.8L441.3,877.0L440.8,877.2L440.3,877.4L439.8,877.7L439.3,877.9L438.8,878.1L438.3,878.3L437.8,878.5L437.3,878.7L436.8,878.9L436.3,879.1L435.8,879.3L435.3,879.5L434.8,879.7L434.3,879.9L433.8,880.1L433.3,880.3L432.8,880.4L432.3,880.6L431.8,880.8L431.3,881.0L430.8,881.2L430.3,881.3L429.8,881.5L429.3,881.7L428.8,881.8L428.3,882.0L427.8,882.2L427.3,882.4L426.8,882.5L426.3,882.7L425.8,882.8L425.3,883.0L424.8,883.2L424.3,883.3L423.8,883.5L423.3,883.6L422.8,883.8L422.3,883.9L421.8,884.1L421.3,884.2L420.8,884.4L420.3,884.5L419.8,884.6L419.3,884.8L418.8,884.9L418.3,885.0L417.8,885.2L417.3,885.3L416.8,885.4L416.3,885.5L415.8,885.6L415.3,885.7L414.8,885.9L414.3,886.0L413.8,886.1L413.3,886.2L412.8,886.3L412.3,886.4L411.8,886.5L411.3,886.6L410.8,886.7L410.3,886.8L409.8,886.9L409.3,887.0L408.8,887.1L408.3,887.2L407.8,887.3L407.3,887.4L406.8,887.4L406.3,887.5L405.8,887.6L405.3,887.7L404.8,887.7L404.3,887.8L403.8,887.9L403.3,887.9L402.8,888.0L402.3,888.0L401.8,888.1L401.3,888.1L400.8,888.2L400.3,888.2L399.8,888.3L399.3,888.3L398.8,888.4L398.3,888.4L397.8,888.5L397.3,888.5L396.8,888.6L396.3,888.6L395.8,888.7L395.3,888.7L394.8,888.7L394.3,888.8L393.8,888.8L393.3,888.8L392.8,888.9L392.3,888.9L391.8,888.9L391.3,889.0L390.8,889.0L390.3,889.0L389.8,889.1L389.3,889.1L388.8,889.1L388.3,889.2L387.8,889.2L387.3,889.2L386.8,889.3L386.3,889.3L385.8,889.3L385.3,889.4L384.8,889.4L384.3,889.4L383.8,889.4L383.3,889.4L382.8,889.5L382.3,889.5L381.8,889.5L381.3,889.5L380.8,889.5L380.3,889.5L379.8,889.5L379.3,889.5L378.8,889.5L378.3,889.5L377.8,889.5L377.3,889.5L376.8,889.5L376.3,889.4L375.8,889.4L375.3,889.4L374.8,889.4L374.3,889.4L373.8,889.3L373.3,889.3L372.8,889.3L372.3,889.3L371.8,889.2L371.3,889.2L370.8,889.2L370.3,889.1L369.8,889.1L369.3,889.0L368.8,889.0L368.3,889.0L367.8,888.9L367.3,888.9L366.8,888.8L366.3,888.8L365.8,888.7L365.3,888.7L364.8,888.6L364.3,888.5L363.8,888.5L363.3,888.4L362.8,888.4L362.3,888.3L361.8,888.2L361.3,888.2L360.8,888.0L360.3,887.9L359.8,887.8L359.3,887.6L358.8,887.4L358.3,887.3L357.8,887.1L357.3,886.8L356.8,886.6L356.3,886.4L355.8,886.2L355.3,885.9L354.8,885.7L354.3,885.4L353.8,885.1L353.3,884.8L352.8,884.5L352.3,884.1L351.8,883.7L351.3,883.3L350.8,882.8L350.3,882.4L349.8,881.9L349.3,881.5L348.8,881.2L348.3,880.8L347.8,880.5L347.3,880.2L346.8,879.8L346.3,879.5L345.8,879.2L345.3,878.9L344.8,878.6L344.3,878.4L343.8,878.1L343.3,877.9L342.8,877.7L342.3,877.5L341.8,877.4L341.3,877.2L340.8,877.0L340.3,876.9L339.8,876.7L339.3,876.6L338.8,876.5L338.3,876.3L337.8,876.2L337.3,876.1L336.8,875.9L336.3,875.8L335.8,875.7L335.3,875.6L334.8,875.4L334.3,875.3L333.8,875.2L333.3,875.0L332.8,874.9L332.3,874.8L331.8,874.6L331.3,874.5L330.8,874.3L330.3,874.1L329.8,874.0L329.3,873.8L328.8,873.6L328.3,873.4L327.8,873.3L327.3,873.1L326.8,872.9L326.3,872.7L325.8,872.5L325.3,872.3L324.8,872.1L324.3,872.0L323.8,871.8L323.3,871.6L322.8,871.4L322.3,871.2L321.8,871.1L321.3,870.9L320.8,870.7L320.3,870.6L319.8,870.4L319.3,870.2L318.8,870.1L318.3,869.9L317.8,869.8L317.3,869.6L316.8,869.5L316.3,869.3L315.8,869.2L315.3,869.0L314.8,868.9L314.3,868.7L313.8,868.6L313.3,868.4L312.8,868.3L312.3,868.1L311.8,868.0L311.3,867.8L310.8,867.7L310.3,867.5L309.8,867.4L309.3,867.3L308.8,867.1L308.3,867.0L307.8,866.9L307.3,866.7L306.8,866.6Z" fill="#B2B2FE"/>
<path d="M453.9,870.1L454.3,870.8L454.8,871.8L455.3,872.8L455.8,873.8L456.3,874.8L456.8,875.9L457.3,876.9L457.8,878.0L458.3,879.1L458.8,880.1L459.3,881.1L459.8,882.1L460.3,883.1L460.8,884.0L461.3,885.0L461.8,885.9L462.3,886.9L462.8,887.8L463.3,888.7L463.8,889.6L464.3,890.5L464.8,891.4L465.3,892.3L465.8,893.2L466.3,894.1L466.8,894.9L467.3,895.7L467.8,896.6L468.3,897.4L468.8,898.2L469.3,899.0L469.8,899.8L470.3,900.6L470.8,901.4L471.3,902.1L471.8,902.9L472.3,903.6L472.8,904.4L473.3,905.1L473.8,905.8L474.3,906.5L474.8,907.2L475.3,907.8L475.8,908.5L476.3,909.1L476.8,909.7L477.3,910.4L477.8,911.0L478.3,911.6L478.8,912.2L479.3,912.8L479.8,913.3L480.3,913.9L480.8,914.5L481.3,915.0L481.8,915.6L482.3,916.1L482.8,916.6L483.3,917.1L483.8,917.6L484.3,918.1L484.8,918.6L485.3,919.1L485.8,919.5L486.3,920.0L486.8,920.5L487.3,920.9L487.8,921.4L488.3,921.8L488.8,922.3L489.3,922.7L489.8,923.1L490.3,923.5L490.8,923.9L491.3,924.2L491.8,924.6L492.3,924.9L492.8,925.3L493.3,925.6L493.8,925.9L494.3,926.2L494.8,926.5L495.3,926.8L495.8,927.1L496.3,927.4L496.8,927.7L497.3,927.9L497.8,928.2L498.3,928.5L498.8,928.7L499.3,929.0L499.8,929.2L500.3,929.5L500.8,929.7L501.3,929.9L501.8,930.2L502.3,930.4L502.8,930.6L503.3,930.8L503.8,931.0L504.3,931.2L504.8,931.4L505.3,931.5L505.8,931.7L506.3,931.9L506.8,932.0L507.3,932.2L507.8,932.3L508.3,932.5L508.8,932.6L509.3,932.8L509.8,932.9L510.3,933.0L510.8,933.2L511.3,933.3L511.8,933.4L512.3,933.5L512.8,933.6L513.3,933.8L513.8,933.9L514.3,934.0L514.8,934.1L515.3,934.2L515.8,934.3L516.3,934.5L516.8,934.6L517.3,934.7L517.8,934.8L518.3,934.9L518.8,935.0L519.3,935.1L519.8,935.3L520.3,935.4L520.8,935.5L521.3,935.6L521.8,935.7L522.3,935.8L522.8,935.9L523.3,936.0L523.8,936.1L524.3,936.2L524.8,936.3L525.3,936.4L525.8,936.5L526.3,936.6L526.8,936.7L527.3,936.8L527.8,937.0L528.3,937.1L528.8,937.2L529.3,937.3L529.8,937.5L530.3,937.6L530.8,937.7L531.3,937.9L531.8,938.0L532.3,938.2L532.8,938.4L533.3,938.5L533.8,938.7L534.3,938.9L534.8,939.1L535.3,939.2L535.8,939.4L536.3,939.6L536.8,939.8L537.3,940.0L537.8,940.2L538.3,940.4L538.8,940.5L539.3,940.7L539.8,940.9L540.3,941.1L540.8,941.2L541.3,941.4L541.8,941.6L542.3,941.7L542.8,941.9L543.3,942.0L543.8,942.2L544.3,942.3L544.8,942.4L545.3,942.6L545.8,942.7L546.3,942.8L546.8,942.9L547.3,943.1L547.8,943.2L548.3,943.3L548.8,943.5L549.3,943.6L549.8,943.7L550.3,943.8L550.8,943.9L551.3,944.0L551.8,944.1L552.3,944.2L552.8,944.3L552.8,944.3L552.3,944.2L551.8,944.1L551.3,943.9L550.8,943.8L550.3,943.6L549.8,943.5L549.3,943.3L548.8,943.1L548.3,942.9L547.8,942.7L547.3,942.5L546.8,942.3L546.3,942.0L545.8,941.8L545.3,941.5L544.8,941.3L544.3,941.0L543.8,940.6L543.3,940.2L542.8,939.8L542.3,939.3L541.8,938.7L541.3,938.1L540.8,937.5L540.3,936.9L539.8,936.2L539.3,935.5L538.8,934.9L538.3,934.2L537.8,933.5L537.3,932.9L536.8,932.2L536.3,931.5L535.8,930.8L535.3,930.0L534.8,929.2L534.3,928.5L533.8,927.7L533.3,926.9L532.8,926.1L532.3,925.2L531.8,924.4L531.3,923.6L530.8,922.7L530.3,921.9L529.8,921.1L529.3,920.2L528.8,919.4L528.3,918.6L527.8,917.8L527.3,917.0L526.8,916.2L526.3,915.4L525.8,914.7L525.3,914.0L524.8,913.2L524.3,912.5L523.8,911.8L523.3,911.1L522.8,910.4L522.3,909.7L521.8,909.0L521.3,908.3L520.8,907.6L520.3,906.9L519.8,906.2L519.3,905.6L518.8,904.9L518.3,904.2L517.8,903.5L517.3,902.8L516.8,902.2L516.3,901.5L515.8,900.8L515.3,900.2L514.8,899.5L514.3,898.9L513.8,898.2L513.3,897.6L512.8,897.0L512.3,896.4L511.8,895.8L511.3,895.2L510.8,894.6L510.3,894.0L509.8,893.5L509.3,892.9L508.8,892.4L508.3,891.8L507.8,891.3L507.3,890.8L506.8,890.3L506.3,889.8L505.8,889.3L505.3,888.8L504.8,888.3L504.3,887.8L503.8,887.3L503.3,886.8L502.8,886.3L502.3,885.9L501.8,885.4L501.3,884.9L500.8,884.5L500.3,884.0L499.8,883.5L499.3,883.1L498.8,882.6L498.3,882.1L497.8,881.6L497.3,881.2L496.8,880.7L496.3,880.2L495.8,879.8L495.3,879.3L494.8,878.9L494.3,878.4L493.8,878.0L493.3,877.6L492.8,877.1L492.3,876.7L491.8,876.3L491.3,875.9L490.8,875.5L490.3,875.2L489.8,874.8L489.3,874.4L488.8,874.1L488.3,873.7L487.8,873.3L487.3,873.0L486.8,872.6L486.3,872.3L485.8,871.9L485.3,871.6L484.8,871.3L484.3,871.0L483.8,870.7L483.3,870.4L482.8,870.1L482.3,869.8L481.8,869.6L481.3,869.3L480.8,869.1L480.3,868.9L479.8,868.8L479.3,868.6L478.8,868.4L478.3,868.2L477.8,868.0L477.3,867.9L476.8,867.7L476.3,867.5L475.8,867.4L475.3,867.2L474.8,867.1L474.3,867.0L473.8,866.8L473.3,866.7L472.8,866.6L472.3,866.6L471.8,866.5L471.3,866.4L470.8,866.4L470.3,866.4L469.8,866.4L469.3,866.4L468.8,866.4L468.3,866.4L467.8,866.5L467.3,866.5L466.8,866.5L466.3,866.5L465.8,866.6L465.3,866.6L464.8,866.6L464.3,866.7L463.8,866.7L463.3,866.8L462.8,866.8L462.3,866.9L461.8,867.0L461.3,867.0L460.8,867.1L460.3,867.2L459.8,867.3L459.3,867.5L458.8,867.7L458.3,867.9L457.8,868.1L457.3,868.3L456.8,868.6L456.3,868.9L455.8,869.1L455.3,869.4L454.8,869.7L454.3,869.9L453.9,870.1Z" fill="#FDB56F"/>
<path d="M552.8,944.3L552.8,944.3L553.3,944.4L553.8,944.5L554.3,944.6L554.8,944.7L555.3,944.8L555.8,944.8L556.3,944.9L556.8,944.9L557.3,945.0L557.8,945.0L558.3,945.1L558.8,945.1L559.3,945.2L559.8,945.2L560.0,945.2L560.0,945.7L559.8,945.7L559.3,945.6L558.8,945.6L558.3,945.5L557.8,945.4L557.3,945.3L556.8,945.2L556.3,945.1L555.8,945.0L555.3,944.9L554.8,944.8L554.3,944.7L553.8,944.6L553.3,944.5L552.8,944.3L552.8,944.3Z" fill="#B2B2FE"/>
<path d="M252.4,865.8L252.9,865.8L253.4,865.8L253.9,865.9L254.4,865.9L254.9,865.9L255.4,865.9L255.9,865.9L256.4,866.0L256.9,866.0L257.4,866.0L257.9,866.0L258.4,866.1L258.9,866.1L259.4,866.1L259.9,866.1L260.4,866.1L260.9,866.2L261.4,866.2L261.9,866.2L262.4,866.3L262.9,866.3L263.4,866.3L263.9,866.3L264.4,866.4L264.9,866.4L265.4,866.4L265.9,866.5L266.4,866.5L266.9,866.5L267.4,866.5L267.9,866.6L268.4,866.6L268.9,866.6L269.4,866.7L269.9,866.7L270.4,866.7L270.9,866.8L271.4,866.8L271.9,866.8L272.4,866.9L272.9,866.9L273.4,866.9L273.9,867.0L274.4,867.0L274.9,867.0L275.4,867.1L275.9,867.1L276.4,867.1L276.9,867.2L277.4,867.2L277.9,867.2L278.4,867.3L278.9,867.3L279.4,867.4L279.9,867.4L280.4,867.4L280.9,867.5L281.4,867.5L281.9,867.5L282.4,867.6L282.9,867.6L283.4,867.6L283.9,867.7L284.4,867.7L284.9,867.8L285.4,867.8L285.9,867.8L286.4,867.9L286.9,867.9L287.4,868.0L287.9,868.0L288.4,868.0L288.9,868.1L289.4,868.1L289.9,868.2L290.4,868.2L290.9,868.2L291.4,868.3L291.9,868.3L292.4,868.4L292.9,868.4L293.4,868.5L293.9,868.5L294.4,868.6L294.9,868.6L295.4,868.7L295.9,868.7L296.4,868.8L296.9,868.8L297.4,868.9L297.9,868.9L298.4,869.0L298.9,869.1L299.4,869.1L299.9,869.2L300.4,869.3L300.9,869.3L301.4,869.4L301.9,869.5L302.4,869.6L302.9,869.6L303.4,869.7L303.9,869.8L304.4,869.9L304.9,870.0L305.4,870.1L305.9,870.2L306.4,870.3L306.9,870.4L307.4,870.5L307.9,870.6L308.4,870.7L308.9,870.9L309.4,871.0L309.9,871.1L310.4,871.2L310.9,871.3L311.4,871.4L311.9,871.6L312.4,871.7L312.9,871.9L313.4,872.0L313.9,872.2L314.4,872.3L314.9,872.5L315.4,872.6L315.9,872.8L316.4,873.0L316.9,873.1L317.4,873.3L317.9,873.5L318.4,873.6L318.9,873.8L319.4,874.0L319.9,874.1L320.4,874.3L320.9,874.5L321.4,874.6L321.9,874.8L322.4,875.0L322.9,875.1L323.4,875.3L323.9,875.5L324.4,875.6L324.9,875.8L325.4,876.0L325.9,876.1L326.4,876.3L326.9,876.5L327.4,876.7L327.9,876.8L328.4,877.0L328.9,877.2L329.4,877.4L329.9,877.6L330.4,877.7L330.9,877.9L331.4,878.1L331.9,878.3L332.4,878.5L332.9,878.7L333.4,878.9L333.9,879.0L334.4,879.2L334.9,879.4L335.4,879.6L335.9,879.8L336.4,880.0L336.9,880.2L337.4,880.4L337.9,880.6L338.4,880.8L338.9,881.0L339.4,881.2L339.9,881.4L340.4,881.6L340.9,881.8L341.4,882.1L341.9,882.3L342.4,882.5L342.9,882.7L343.4,882.9L343.9,883.1L344.4,883.3L344.9,883.6L345.4,883.8L345.9,884.0L346.4,884.2L346.9,884.5L347.4,884.7L347.9,884.9L348.4,885.2L348.9,885.4L349.4,885.6L349.9,885.9L350.4,886.1L350.9,886.4L351.4,886.6L351.9,886.8L352.4,887.1L352.9,887.4L353.4,887.6L353.9,887.9L354.4,888.1L354.9,888.4L355.4,888.6L355.9,888.9L356.4,889.2L356.9,889.4L357.4,889.7L357.9,890.0L358.4,890.3L358.9,890.6L359.4,890.8L359.9,891.1L360.4,891.4L360.9,891.7L361.4,892.0L361.9,892.3L362.4,892.6L362.9,892.9L363.4,893.2L363.9,893.6L364.4,893.9L364.9,894.2L365.4,894.5L365.9,894.9L366.4,895.2L366.9,895.6L367.4,895.9L367.9,896.3L368.4,896.6L368.9,897.0L369.4,897.3L369.9,897.7L370.4,898.1L370.9,898.5L371.4,898.8L371.9,899.2L372.4,899.6L372.9,900.0L373.4,900.4L373.9,900.8L374.4,901.2L374.9,901.7L375.4,902.1L375.9,902.5L376.4,903.0L376.9,903.4L377.4,903.9L377.9,904.3L378.4,904.8L378.9,905.2L379.4,905.7L379.9,906.2L380.4,906.7L380.9,907.1L381.4,907.6L381.9,908.1L382.4,908.6L382.9,909.1L383.4,909.6L383.9,910.1L384.4,910.6L384.9,911.1L385.4,911.6L385.9,912.2L386.4,912.7L386.9,913.2L387.4,913.8L387.9,914.3L388.4,914.9L388.9,915.4L389.4,916.0L389.9,916.5L390.4,917.1L390.9,917.7L391.4,918.3L391.9,918.8L392.4,919.4L392.9,920.0L393.4,920.6L393.9,921.2L394.4,921.8L394.9,922.4L395.4,923.1L395.9,923.7L396.4,924.3L396.9,924.9L397.4,925.6L397.9,926.2L398.4,926.9L398.9,927.5L399.4,928.2L399.9,928.9L400.4,929.5L400.9,930.2L401.4,930.9L401.9,931.6L402.4,932.2L402.9,932.9L403.4,933.6L403.9,934.3L404.4,935.0L404.9,935.7L405.4,936.4L405.9,937.2L406.4,937.9L406.9,938.6L407.4,939.4L407.9,940.1L408.4,940.9L408.9,941.6L409.4,942.4L409.9,943.1L410.4,943.9L410.9,944.7L411.4,945.4L411.9,946.2L412.4,947.0L412.9,947.8L413.4,948.6L413.9,949.3L414.4,950.1L414.9,950.9L415.4,951.7L415.9,952.5L416.4,953.4L416.9,954.2L417.4,955.0L417.9,955.8L418.4,956.7L418.9,957.5L419.4,958.3L419.9,959.2L420.4,960.0L420.9,960.8L421.4,961.7L421.9,962.5L422.4,963.3L422.9,964.1L423.4,964.9L423.9,965.8L424.4,966.6L424.9,967.4L425.4,968.3L425.9,969.1L426.4,970.0L426.9,970.9L427.4,971.8L427.9,972.7L428.4,973.6L428.9,974.6L429.4,975.7L429.9,976.7L430.4,977.8L430.9,978.9L431.4,979.9L431.9,981.0L432.4,982.1L432.9,983.1L433.4,984.1L433.9,985.1L434.4,986.1L434.9,986.9L435.4,987.7L435.9,988.5L436.4,989.2L436.9,989.9L437.4,990.6L437.9,991.2L438.4,991.8L438.9,992.4L439.4,993.0L439.9,993.6L440.4,994.2L440.9,994.8L441.4,995.3L441.9,995.9L442.4,996.5L442.9,997.0L443.4,997.6L443.9,998.1L444.4,998.6L444.9,999.0L445.4,999.5L445.8,999.8L445.8,999.8L445.4,999.6L444.9,999.4L444.4,999.1L443.9,998.9L443.4,998.6L442.9,998.4L442.4,998.1L441.9,997.9L441.4,997.7L440.9,997.4L440.4,997.2L439.9,997.0L439.4,996.7L438.9,996.4L438.4,996.2L437.9,995.9L437.4,995.6L436.9,995.3L436.4,995.1L435.9,994.9L435.4,994.6L434.9,994.5L434.4,994.3L433.9,994.2L433.4,994.1L432.9,994.1L432.4,994.0L431.9,994.0L431.4,993.9L430.9,993.9L430.4,993.9L429.9,993.9L429.4,993.9L428.9,994.0L428.4,994.0L427.9,994.1L427.4,994.2L426.9,994.2L426.4,994.3L425.9,994.4L425.4,994.5L424.9,994.6L424.4,994.7L423.9,994.8L423.4,994.9L422.9,995.0L422.4,995.1L421.9,995.3L421.4,995.4L420.9,995.6L420.4,995.7L419.9,995.9L419.4,996.0L418.9,996.2L418.4,996.4L417.9,996.5L417.4,996.7L416.9,996.8L416.4,997.0L415.9,997.1L415.4,997.2L414.9,997.3L414.4,997.4L413.9,997.5L413.4,997.6L412.9,997.7L412.4,997.8L411.9,998.0L411.4,998.1L410.9,998.2L410.4,998.3L409.9,998.4L409.4,998.5L408.9,998.6L408.4,998.7L407.9,998.8L407.4,998.9L406.9,999.0L406.4,999.1L405.9,999.2L405.4,999.3L404.9,999.4L404.4,999.5L403.9,999.6L403.4,999.7L402.9,999.8L402.4,999.9L401.9,999.9L401.4,1000.0L400.9,1000.1L400.4,1000.2L399.9,1000.3L399.4,1000.3L398.9,1000.4L398.4,1000.5L397.9,1000.5L397.4,1000.6L396.9,1000.7L396.4,1000.7L395.9,1000.8L395.4,1000.8L394.9,1000.9L394.4,1000.9L393.9,1001.0L393.4,1001.0L392.9,1001.0L392.4,1001.1L391.9,1001.1L391.4,1001.1L390.9,1001.1L390.4,1001.1L389.9,1001.2L389.4,1001.2L388.9,1001.2L388.4,1001.2L387.9,1001.3L387.4,1001.3L386.9,1001.3L386.4,1001.3L385.9,1001.3L385.4,1001.4L384.9,1001.4L384.4,1001.4L383.9,1001.4L383.4,1001.4L382.9,1001.4L382.4,1001.5L381.9,1001.5L381.4,1001.5L380.9,1001.5L380.4,1001.5L379.9,1001.5L379.4,1001.6L378.9,1001.6L378.4,1001.6L377.9,1001.6L377.4,1001.6L376.9,1001.6L376.4,1001.6L375.9,1001.7L375.4,1001.7L374.9,1001.7L374.4,1001.7L373.9,1001.7L373.4,1001.7L372.9,1001.7L372.4,1001.7L371.9,1001.8L371.4,1001.8L370.9,1001.8L370.4,1001.8L369.9,1001.8L369.4,1001.8L368.9,1001.8L368.4,1001.8L367.9,1001.8L367.4,1001.8L366.9,1001.8L366.4,1001.8L365.9,1001.9L365.4,1001.9L364.9,1001.9L364.4,1001.9L363.9,1001.9L363.4,1001.9L362.9,1001.9L362.4,1001.9L361.9,1001.9L361.4,1001.9L360.9,1001.9L360.4,1001.9L359.9,1001.9L359.4,1001.9L358.9,1001.9L358.4,1001.9L357.9,1001.9L357.4,1001.9L356.9,1001.9L356.4,1001.9L355.9,1001.9L355.4,1001.9L354.9,1001.9L354.4,1001.9L353.9,1001.8L353.4,1001.8L352.9,1001.8L352.4,1001.8L351.9,1001.8L351.4,1001.8L350.9,1001.8L350.4,1001.7L349.9,1001.7L349.4,1001.7L348.9,1001.7L348.4,1001.7L347.9,1001.6L347.4,1001.6L346.9,1001.6L346.4,1001.6L345.9,1001.5L345.4,1001.5L344.9,1001.5L344.4,1001.5L343.9,1001.4L343.4,1001.4L342.9,1001.4L342.4,1001.3L341.9,1001.3L341.4,1001.3L340.9,1001.3L340.4,1001.2L339.9,1001.2L339.4,1001.2L338.9,1001.1L338.4,1001.1L337.9,1001.1L337.4,1001.0L336.9,1001.0L336.4,1001.0L335.9,1000.9L335.4,1000.9L334.9,1000.9L334.4,1000.8L333.9,1000.8L333.4,1000.8L332.9,1000.7L332.4,1000.7L331.9,1000.7L331.4,1000.6L330.9,1000.6L330.4,1000.6L329.9,1000.5L329.4,1000.5L328.9,1000.5L328.4,1000.5L327.9,1000.4L327.4,1000.4L326.9,1000.4L326.4,1000.3L325.9,1000.3L325.4,1000.3L324.9,1000.2L324.4,1000.2L323.9,1000.2L323.4,1000.2L322.9,1000.1L322.4,1000.1L321.9,1000.1L321.4,1000.1L320.9,1000.0L320.4,1000.0L319.9,1000.0L319.4,1000.0L318.9,999.9L318.4,999.9L317.9,999.9L317.4,999.8L316.9,999.8L316.4,999.8L315.9,999.8L315.4,999.7L314.9,999.7L314.4,999.7L313.9,999.6L313.4,999.6L312.9,999.6L312.4,999.5L311.9,999.5L311.4,999.5L310.9,999.4L310.4,999.4L309.9,999.4L309.4,999.3L308.9,999.3L308.4,999.3L307.9,999.2L307.4,999.2L306.9,999.2L306.4,999.1L305.9,999.1L305.4,999.0L304.9,999.0L304.4,998.9L303.9,998.9L303.4,998.8L302.9,998.8L302.4,998.7L301.9,998.7L301.4,998.6L300.9,998.6L300.4,998.5L299.9,998.5L299.4,998.4L298.9,998.3L298.4,998.3L297.9,998.2L297.4,998.1L296.9,998.0L296.4,997.9L295.9,997.8L295.4,997.7L294.9,997.6L294.4,997.4L293.9,997.3L293.4,997.2L292.9,997.0L292.4,996.8L291.9,996.5L291.4,996.1L290.9,995.7L290.4,995.2L289.9,994.7L289.4,994.3L288.9,993.8L288.4,993.3L287.9,992.9L287.4,992.5L286.9,992.1L286.4,991.7L285.9,991.3L285.4,990.8L284.9,990.4L284.4,990.0L283.9,989.6L283.4,989.2L282.9,988.9L282.4,988.6L281.9,988.3L281.4,988.0L280.9,987.8L280.4,987.5L279.9,987.3L279.4,987.1L278.9,986.9L278.4,986.7L277.9,986.5L277.4,986.3L276.9,986.1L276.4,986.0L275.9,985.8L275.4,985.7L274.9,985.6L274.4,985.4L273.9,985.3L273.4,985.2L272.9,985.2L272.4,985.1L271.9,985.0L271.4,984.9L270.9,984.8L270.4,984.8L269.9,984.7L269.4,984.7L268.9,984.6L268.4,984.5L267.9,984.5L267.4,984.4L266.9,984.4L266.4,984.3L265.9,984.3L265.4,984.2L264.9,984.2L264.4,984.2L263.9,984.1L263.4,984.1L262.9,984.0L262.4,984.0L261.9,984.0L261.4,983.9L260.9,983.9L260.4,983.8L259.9,983.8L259.4,983.8L258.9,983.7L258.4,983.7L257.9,983.6L257.4,983.6L256.9,983.6L256.4,983.5L255.9,983.5L255.4,983.5L254.9,983.4L254.4,983.4L253.9,983.4L253.4,983.3L252.9,983.3L252.4,983.3Z" fill="#B2B2FE"/>
<path d="M182.3,905.6L182.8,905.6L183.3,905.6L183.8,905.6L184.3,905.6L184.8,905.6L185.3,905.6L185.8,905.6L186.3,905.7L186.8,905.7L187.3,905.7L187.8,905.7L188.3,905.7L188.8,905.7L189.3,905.7L189.8,905.7L190.3,905.8L190.8,905.8L191.3,905.8L191.8,905.8L192.3,905.8L192.8,905.8L193.3,905.9L193.8,905.9L194.3,905.9L194.8,905.9L195.3,905.9L195.8,906.0L196.3,906.0L196.8,906.0L197.3,906.0L197.8,906.0L198.3,906.1L198.8,906.1L199.3,906.1L199.8,906.1L200.3,906.2L200.8,906.2L201.3,906.2L201.8,906.2L202.3,906.3L202.8,906.3L203.3,906.3L203.8,906.4L204.3,906.4L204.8,906.4L205.3,906.5L205.8,906.5L206.3,906.5L206.8,906.5L207.3,906.6L207.8,906.6L208.3,906.6L208.8,906.7L209.3,906.7L209.8,906.7L210.3,906.8L210.8,906.8L211.3,906.8L211.8,906.9L212.3,906.9L212.8,907.0L213.3,907.0L213.8,907.0L214.3,907.1L214.8,907.1L215.3,907.2L215.8,907.3L216.3,907.3L216.8,907.4L217.3,907.5L217.8,907.5L218.3,907.6L218.8,907.7L219.3,907.8L219.8,907.8L220.3,907.9L220.8,908.0L221.3,908.1L221.8,908.2L222.3,908.3L222.8,908.4L223.3,908.5L223.8,908.6L224.3,908.7L224.8,908.8L225.3,908.9L225.8,909.0L226.3,909.1L226.8,909.3L227.3,909.4L227.8,909.5L228.3,909.6L228.8,909.7L229.3,909.9L229.8,910.0L230.3,910.1L230.8,910.2L231.3,910.3L231.8,910.5L232.3,910.6L232.8,910.7L233.3,910.9L233.8,911.0L234.3,911.1L234.8,911.2L235.3,911.4L235.8,911.5L236.3,911.6L236.8,911.8L237.3,911.9L237.8,912.0L238.3,912.2L238.8,912.3L239.3,912.5L239.8,912.6L240.3,912.8L240.8,912.9L241.3,913.1L241.8,913.2L242.3,913.4L242.8,913.6L243.3,913.7L243.8,913.9L244.3,914.1L244.8,914.3L245.3,914.4L245.8,914.6L246.3,914.8L246.8,915.0L247.3,915.2L247.8,915.4L248.3,915.6L248.8,915.8L249.3,916.0L249.8,916.2L250.3,916.4L250.8,916.6L251.3,916.8L251.8,917.0L252.3,917.2L252.8,917.4L253.3,917.6L253.8,917.8L254.3,918.0L254.8,918.3L255.3,918.5L255.8,918.7L256.3,918.9L256.8,919.1L257.3,919.3L257.8,919.5L258.3,919.8L258.8,920.0L259.3,920.2L259.8,920.4L260.3,920.6L260.8,920.9L261.3,921.1L261.8,921.3L262.3,921.5L262.8,921.8L263.3,922.0L263.8,922.2L264.3,922.5L264.8,922.7L265.3,922.9L265.8,923.2L266.3,923.4L266.8,923.7L267.3,923.9L267.8,924.2L268.3,924.4L268.8,924.7L269.3,924.9L269.8,925.2L270.3,925.5L270.8,925.7L271.3,926.0L271.8,926.3L272.3,926.5L272.8,926.8L273.3,927.1L273.8,927.3L274.3,927.6L274.8,927.9L275.3,928.2L275.8,928.5L276.3,928.7L276.8,929.0L277.3,929.3L277.8,929.6L278.3,929.9L278.8,930.2L279.3,930.5L279.8,930.8L280.3,931.1L280.8,931.4L281.3,931.7L281.8,932.0L282.3,932.3L282.8,932.7L283.3,933.0L283.8,933.3L284.3,933.6L284.8,933.9L285.3,934.3L285.8,934.6L286.3,934.9L286.8,935.3L287.3,935.6L287.8,935.9L288.3,936.3L288.8,936.6L289.3,937.0L289.8,937.3L290.3,937.7L290.8,938.0L291.3,938.4L291.8,938.7L292.3,939.1L292.8,939.4L293.3,939.8L293.8,940.1L294.3,940.5L294.8,940.9L295.3,941.2L295.8,941.6L296.3,942.0L296.8,942.4L297.3,942.7L297.8,943.1L298.3,943.5L298.8,943.9L299.3,944.3L299.8,944.7L300.3,945.1L300.8,945.5L301.3,945.8L301.8,946.2L302.3,946.7L302.8,947.1L303.3,947.5L303.8,947.9L304.3,948.3L304.8,948.7L305.3,949.1L305.8,949.6L306.3,950.0L306.8,950.4L307.3,950.8L307.8,951.3L308.3,951.7L308.8,952.2L309.3,952.6L309.8,953.0L310.3,953.5L310.8,953.9L311.3,954.4L311.8,954.9L312.3,955.3L312.8,955.8L313.3,956.3L313.8,956.7L314.3,957.2L314.8,957.7L315.3,958.2L315.8,958.7L316.3,959.2L316.8,959.7L317.3,960.2L317.8,960.7L318.3,961.2L318.8,961.7L319.3,962.3L319.8,962.8L320.3,963.3L320.8,963.9L321.3,964.4L321.8,965.0L322.3,965.6L322.8,966.1L323.3,966.7L323.8,967.3L324.3,968.0L324.8,968.6L325.3,969.2L325.8,969.9L326.3,970.5L326.8,971.2L327.3,971.8L327.8,972.5L328.3,973.2L328.8,973.9L329.3,974.6L329.8,975.3L330.3,976.0L330.8,976.7L331.3,977.5L331.8,978.2L332.3,978.9L332.8,979.6L333.3,980.4L333.8,981.1L334.3,981.9L334.8,982.6L335.3,983.4L335.8,984.1L336.3,984.9L336.8,985.7L337.3,986.5L337.8,987.3L338.3,988.1L338.8,989.0L339.3,989.8L339.8,990.7L340.3,991.6L340.8,992.5L341.3,993.4L341.8,994.3L342.3,995.3L342.8,996.3L343.3,997.3L343.8,998.4L344.3,999.4L344.8,1000.5L345.3,1001.5L345.8,1002.5L346.3,1003.6L346.8,1004.6L347.3,1005.6L347.8,1006.6L348.3,1007.6L348.8,1008.6L349.3,1009.6L349.8,1010.6L350.3,1011.6L350.8,1012.6L351.3,1013.6L351.8,1014.6L352.3,1015.6L352.8,1016.6L353.3,1017.6L353.5,1018.0L353.5,1018.0L353.3,1018.1L352.8,1018.6L352.3,1019.1L351.8,1019.5L351.3,1020.0L350.8,1020.5L350.3,1020.9L349.8,1021.3L349.3,1021.8L348.8,1022.3L348.3,1022.8L347.8,1023.3L347.3,1023.8L346.8,1024.3L346.3,1024.9L345.8,1025.5L345.3,1026.0L344.8,1026.6L344.3,1027.2L343.8,1027.8L343.3,1028.4L342.8,1029.0L342.3,1029.5L341.8,1030.1L341.3,1030.7L340.8,1031.3L340.3,1031.8L339.8,1032.4L339.3,1033.0L338.8,1033.6L338.3,1034.2L337.8,1034.8L337.3,1035.4L336.8,1036.0L336.3,1036.6L335.8,1037.2L335.3,1037.8L334.8,1038.4L334.3,1039.0L333.8,1039.6L333.3,1040.2L332.8,1040.7L332.3,1041.3L331.8,1041.8L331.3,1042.4L330.8,1042.9L330.3,1043.4L329.8,1043.9L329.3,1044.5L328.8,1045.0L328.3,1045.5L327.8,1046.0L327.3,1046.5L326.8,1047.0L326.3,1047.6L325.8,1048.0L325.3,1048.5L324.8,1049.0L324.3,1049.5L323.8,1049.9L323.3,1050.3L322.8,1050.7L322.3,1051.1L321.8,1051.5L321.3,1051.8L320.8,1052.1L320.3,1052.4L319.8,1052.7L319.3,1052.9L318.8,1053.2L318.3,1053.5L317.8,1053.7L317.3,1054.0L316.8,1054.2L316.3,1054.4L315.8,1054.7L315.3,1054.9L314.8,1055.1L314.3,1055.3L313.8,1055.5L313.3,1055.7L312.8,1055.9L312.3,1056.1L311.8,1056.2L311.3,1056.4L310.8,1056.6L310.3,1056.7L309.8,1056.9L309.3,1057.0L308.8,1057.1L308.3,1057.3L307.8,1057.4L307.3,1057.5L306.8,1057.7L306.3,1057.8L305.8,1057.9L305.3,1058.1L304.8,1058.2L304.3,1058.3L303.8,1058.4L303.3,1058.6L302.8,1058.7L302.3,1058.8L301.8,1058.9L301.3,1059.0L300.8,1059.1L300.3,1059.2L299.8,1059.3L299.3,1059.4L298.8,1059.5L298.3,1059.6L297.8,1059.7L297.3,1059.8L296.8,1059.8L296.3,1059.9L295.8,1060.0L295.3,1060.0L294.8,1060.1L294.3,1060.2L293.8,1060.2L293.3,1060.3L292.8,1060.3L292.3,1060.4L291.8,1060.4L291.3,1060.4L290.8,1060.5L290.3,1060.5L289.8,1060.6L289.3,1060.6L288.8,1060.6L288.3,1060.7L287.8,1060.7L287.3,1060.8L286.8,1060.8L286.3,1060.8L285.8,1060.9L285.3,1060.9L284.8,1060.9L284.3,1060.9L283.8,1061.0L283.3,1061.0L282.8,1061.0L282.3,1061.1L281.8,1061.1L281.3,1061.1L280.8,1061.1L280.3,1061.1L279.8,1061.1L279.3,1061.2L278.8,1061.2L278.3,1061.2L277.8,1061.2L277.3,1061.2L276.8,1061.2L276.3,1061.2L275.8,1061.2L275.3,1061.2L274.8,1061.2L274.3,1061.2L273.8,1061.2L273.3,1061.2L272.8,1061.2L272.3,1061.2L271.8,1061.2L271.3,1061.2L270.8,1061.1L270.3,1061.1L269.8,1061.1L269.3,1061.1L268.8,1061.1L268.3,1061.1L267.8,1061.1L267.3,1061.1L266.8,1061.1L266.3,1061.1L265.8,1061.1L265.3,1061.0L264.8,1061.0L264.3,1061.0L263.8,1061.0L263.3,1061.0L262.8,1061.0L262.3,1061.0L261.8,1061.0L261.3,1061.0L260.8,1061.0L260.3,1061.0L259.8,1061.0L259.3,1061.0L258.8,1061.0L258.3,1061.1L257.8,1061.1L257.3,1061.2L256.8,1061.2L256.3,1061.3L255.8,1061.3L255.3,1061.4L254.8,1061.5L254.3,1061.6L253.8,1061.6L253.3,1061.7L252.8,1061.8L252.3,1061.8L251.8,1061.9L251.3,1062.0L250.8,1062.0L250.3,1062.0L249.8,1062.1L249.3,1062.1L248.8,1062.1L248.3,1062.1L247.8,1062.1L247.3,1062.1L246.8,1062.1L246.3,1062.1L245.8,1062.1L245.3,1062.1L244.8,1062.1L244.3,1062.1L243.8,1062.1L243.3,1062.1L242.8,1062.0L242.3,1062.0L241.8,1062.0L241.3,1062.0L240.8,1062.0L240.3,1062.0L239.8,1062.0L239.3,1062.0L238.8,1062.0L238.3,1061.9L237.8,1061.9L237.3,1061.9L236.8,1061.9L236.3,1061.9L235.8,1061.9L235.3,1061.9L234.8,1061.8L234.3,1061.8L233.8,1061.8L233.3,1061.8L232.8,1061.8L232.3,1061.7L231.8,1061.7L231.3,1061.7L230.8,1061.7L230.3,1061.7L229.8,1061.6L229.3,1061.6L228.8,1061.6L228.3,1061.6L227.8,1061.6L227.3,1061.5L226.8,1061.5L226.3,1061.5L225.8,1061.5L225.3,1061.4L224.8,1061.4L224.3,1061.4L223.8,1061.4L223.3,1061.3L222.8,1061.3L222.3,1061.3L221.8,1061.3L221.3,1061.2L220.8,1061.2L220.3,1061.1L219.8,1061.1L219.3,1061.1L218.8,1061.0L218.3,1061.0L217.8,1060.9L217.3,1060.9L216.8,1060.8L216.3,1060.8L215.8,1060.7L215.3,1060.7L214.8,1060.6L214.3,1060.5L213.8,1060.5L213.3,1060.4L212.8,1060.3L212.3,1060.3L211.8,1060.2L211.3,1060.2L210.8,1060.1L210.3,1060.0L209.8,1060.0L209.3,1059.9L208.8,1059.8L208.3,1059.7L207.8,1059.7L207.3,1059.6L206.8,1059.5L206.3,1059.5L205.8,1059.4L205.3,1059.3L204.8,1059.2L204.3,1059.2L203.8,1059.1L203.3,1059.0L202.8,1058.9L202.3,1058.9L201.8,1058.8L201.3,1058.7L200.8,1058.6L200.3,1058.6L199.8,1058.5L199.3,1058.4L198.8,1058.3L198.3,1058.3L197.8,1058.2L197.3,1058.1L196.8,1058.0L196.3,1057.9L195.8,1057.9L195.3,1057.8L194.8,1057.7L194.3,1057.6L193.8,1057.5L193.3,1057.4L192.8,1057.3L192.3,1057.2L191.8,1057.1L191.3,1057.0L190.8,1057.0L190.3,1056.9L189.8,1056.8L189.3,1056.7L188.8,1056.6L188.3,1056.5L187.8,1056.4L187.3,1056.3L186.8,1056.2L186.3,1056.1L185.8,1056.0L185.3,1055.9L184.8,1055.8L184.3,1055.6L183.8,1055.5L183.3,1055.4L182.8,1055.3L182.3,1055.2Z" fill="#B2B2FE"/>
<path d="M353.5,1018.0L353.8,1018.6L354.3,1019.6L354.8,1020.6L355.3,1021.6L355.8,1022.6L356.3,1023.7L356.8,1024.7L357.3,1025.7L357.8,1026.7L358.3,1027.7L358.8,1028.7L359.3,1029.7L359.8,1030.7L360.3,1031.7L360.8,1032.7L361.3,1033.7L361.8,1034.6L362.3,1035.6L362.8,1036.5L363.3,1037.4L363.8,1038.4L364.3,1039.3L364.8,1040.2L365.3,1041.1L365.8,1042.1L366.3,1043.0L366.8,1043.9L367.3,1044.8L367.8,1045.6L368.3,1046.5L368.8,1047.4L369.3,1048.2L369.8,1049.1L370.3,1049.9L370.8,1050.8L371.3,1051.6L371.8,1052.4L372.3,1053.3L372.8,1054.1L373.3,1054.9L373.8,1055.7L374.3,1056.5L374.8,1057.3L375.3,1058.0L375.8,1058.8L376.3,1059.6L376.8,1060.3L377.3,1061.1L377.8,1061.8L378.3,1062.6L378.8,1063.3L379.3,1064.0L379.8,1064.7L380.3,1065.5L380.8,1066.2L381.3,1066.9L381.8,1067.7L382.3,1068.4L382.8,1069.1L383.3,1069.8L383.8,1070.5L384.3,1071.2L384.8,1071.8L385.3,1072.5L385.8,1073.1L386.3,1073.7L386.8,1074.3L387.3,1074.9L387.8,1075.5L388.3,1076.0L388.8,1076.5L389.3,1077.0L389.8,1077.6L390.3,1078.1L390.8,1078.5L391.3,1079.0L391.8,1079.5L392.3,1080.0L392.8,1080.4L393.3,1080.9L393.8,1081.3L394.3,1081.8L394.8,1082.2L395.3,1082.6L395.8,1083.0L396.3,1083.4L396.8,1083.8L397.3,1084.2L397.8,1084.5L398.3,1084.9L398.8,1085.2L399.3,1085.5L399.8,1085.9L400.3,1086.2L400.8,1086.5L401.3,1086.8L401.8,1087.1L402.3,1087.4L402.8,1087.7L403.3,1088.0L403.8,1088.3L404.3,1088.5L404.8,1088.8L405.3,1089.1L405.8,1089.3L406.3,1089.6L406.8,1089.8L407.3,1090.1L407.8,1090.3L408.3,1090.5L408.8,1090.7L409.3,1090.9L409.8,1091.1L410.3,1091.2L410.8,1091.4L411.3,1091.5L411.8,1091.7L412.3,1091.8L412.8,1091.9L413.3,1092.1L413.8,1092.2L414.3,1092.3L414.8,1092.4L415.3,1092.6L415.8,1092.7L416.3,1092.8L416.8,1092.9L417.3,1093.0L417.8,1093.1L418.3,1093.2L418.8,1093.3L419.3,1093.4L419.8,1093.5L420.3,1093.6L420.8,1093.6L421.3,1093.7L421.8,1093.8L422.3,1093.8L422.8,1093.9L423.3,1093.9L423.8,1094.0L424.3,1094.0L424.8,1094.0L425.3,1094.0L425.8,1094.1L426.3,1094.1L426.8,1094.1L427.3,1094.2L427.8,1094.2L428.3,1094.2L428.8,1094.2L429.3,1094.2L429.8,1094.3L430.0,1094.3L430.0,1094.1L429.8,1094.1L429.3,1093.9L428.8,1093.8L428.3,1093.7L427.8,1093.5L427.3,1093.4L426.8,1093.3L426.3,1093.1L425.8,1093.0L425.3,1092.9L424.8,1092.7L424.3,1092.6L423.8,1092.4L423.3,1092.3L422.8,1092.1L422.3,1092.0L421.8,1091.9L421.3,1091.7L420.8,1091.6L420.3,1091.4L419.8,1091.3L419.3,1091.1L418.8,1090.9L418.3,1090.7L417.8,1090.6L417.3,1090.4L416.8,1090.2L416.3,1089.9L415.8,1089.7L415.3,1089.5L414.8,1089.2L414.3,1088.9L413.8,1088.6L413.3,1088.3L412.8,1088.0L412.3,1087.7L411.8,1087.3L411.3,1087.0L410.8,1086.6L410.3,1086.2L409.8,1085.7L409.3,1085.3L408.8,1084.9L408.3,1084.4L407.8,1083.9L407.3,1083.4L406.8,1082.8L406.3,1082.1L405.8,1081.4L405.3,1080.6L404.8,1079.9L404.3,1079.1L403.8,1078.2L403.3,1077.4L402.8,1076.5L402.3,1075.6L401.8,1074.7L401.3,1073.8L400.8,1072.9L400.3,1072.0L399.8,1071.2L399.3,1070.3L398.8,1069.4L398.3,1068.6L397.8,1067.6L397.3,1066.7L396.8,1065.8L396.3,1064.9L395.8,1063.9L395.3,1063.0L394.8,1062.0L394.3,1061.1L393.8,1060.1L393.3,1059.2L392.8,1058.2L392.3,1057.3L391.8,1056.3L391.3,1055.4L390.8,1054.5L390.3,1053.6L389.8,1052.7L389.3,1051.9L388.8,1051.0L388.3,1050.2L387.8,1049.3L387.3,1048.5L386.8,1047.6L386.3,1046.8L385.8,1046.0L385.3,1045.2L384.8,1044.4L384.3,1043.6L383.8,1042.7L383.3,1041.9L382.8,1041.1L382.3,1040.3L381.8,1039.5L381.3,1038.6L380.8,1037.8L380.3,1036.9L379.8,1036.1L379.3,1035.1L378.8,1034.2L378.3,1033.2L377.8,1032.3L377.3,1031.3L376.8,1030.3L376.3,1029.3L375.8,1028.3L375.3,1027.3L374.8,1026.4L374.3,1025.5L373.8,1024.6L373.3,1023.8L372.8,1023.0L372.3,1022.3L371.8,1021.7L371.3,1021.1L370.8,1020.5L370.3,1020.0L369.8,1019.4L369.3,1018.8L368.8,1018.3L368.3,1017.8L367.8,1017.4L367.3,1017.0L366.8,1016.6L366.3,1016.3L365.8,1016.1L365.3,1015.9L364.8,1015.8L364.3,1015.7L363.8,1015.6L363.3,1015.5L362.8,1015.5L362.3,1015.4L361.8,1015.3L361.3,1015.3L360.8,1015.2L360.3,1015.2L359.8,1015.1L359.3,1015.1L358.8,1015.1L358.3,1015.1L357.8,1015.2L357.3,1015.3L356.8,1015.5L356.3,1015.8L355.8,1016.1L355.3,1016.5L354.8,1016.8L354.3,1017.3L353.8,1017.7L353.5,1018.0Z" fill="#FDB56F"/>
<path d="M106.6,1090.7L107.1,1090.7L107.6,1090.8L108.1,1090.8L108.6,1090.9L109.1,1090.9L109.6,1091.0L110.1,1091.0L110.6,1091.1L111.1,1091.1L111.6,1091.1L112.1,1091.2L112.6,1091.2L113.1,1091.3L113.6,1091.3L114.1,1091.4L114.6,1091.4L115.1,1091.5L115.6,1091.5L116.1,1091.6L116.6,1091.6L117.1,1091.7L117.6,1091.7L118.1,1091.8L118.6,1091.8L119.1,1091.9L119.6,1091.9L120.1,1092.0L120.6,1092.0L121.1,1092.1L121.6,1092.1L122.1,1092.2L122.6,1092.2L123.1,1092.3L123.6,1092.3L124.1,1092.4L124.6,1092.4L125.1,1092.5L125.6,1092.5L126.1,1092.6L126.6,1092.6L127.1,1092.7L127.6,1092.7L128.1,1092.8L128.6,1092.8L129.1,1092.9L129.6,1092.9L130.1,1093.0L130.6,1093.0L131.1,1093.1L131.6,1093.1L132.1,1093.2L132.6,1093.2L133.1,1093.3L133.6,1093.3L134.1,1093.4L134.6,1093.4L135.1,1093.5L135.6,1093.5L136.1,1093.6L136.6,1093.7L137.1,1093.7L137.6,1093.8L138.1,1093.8L138.6,1093.9L139.1,1093.9L139.6,1094.0L140.1,1094.0L140.6,1094.1L141.1,1094.1L141.6,1094.2L142.1,1094.2L142.6,1094.3L143.1,1094.4L143.6,1094.4L144.1,1094.5L144.6,1094.5L145.1,1094.6L145.6,1094.6L146.1,1094.7L146.6,1094.7L147.1,1094.8L147.6,1094.9L148.1,1094.9L148.6,1095.0L149.1,1095.0L149.6,1095.1L150.1,1095.1L150.6,1095.2L151.1,1095.3L151.6,1095.3L152.1,1095.4L152.6,1095.4L153.1,1095.5L153.6,1095.6L154.1,1095.6L154.6,1095.7L155.1,1095.7L155.6,1095.8L156.1,1095.9L156.6,1095.9L157.1,1096.0L157.6,1096.0L158.1,1096.1L158.6,1096.2L159.1,1096.2L159.6,1096.3L160.1,1096.4L160.6,1096.4L161.1,1096.5L161.6,1096.6L162.1,1096.6L162.6,1096.7L163.1,1096.8L163.6,1096.8L164.1,1096.9L164.6,1097.0L165.1,1097.0L165.6,1097.1L166.1,1097.2L166.6,1097.3L167.1,1097.3L167.6,1097.4L168.1,1097.5L168.6,1097.5L169.1,1097.6L169.6,1097.7L170.1,1097.7L170.6,1097.8L171.1,1097.9L171.6,1098.0L172.1,1098.0L172.6,1098.1L173.1,1098.2L173.6,1098.3L174.1,1098.3L174.6,1098.4L175.1,1098.5L175.6,1098.6L176.1,1098.7L176.6,1098.8L177.1,1098.9L177.6,1098.9L178.1,1099.0L178.6,1099.1L179.1,1099.2L179.6,1099.3L180.1,1099.4L180.6,1099.5L181.1,1099.6L181.6,1099.7L182.1,1099.8L182.6,1100.0L183.1,1100.1L183.6,1100.2L184.1,1100.3L184.6,1100.4L185.1,1100.6L185.6,1100.7L186.1,1100.9L186.6,1101.0L187.1,1101.2L187.6,1101.3L188.1,1101.5L188.6,1101.7L189.1,1101.9L189.6,1102.0L190.1,1102.2L190.6,1102.4L191.1,1102.6L191.6,1102.8L192.1,1103.0L192.6,1103.2L193.1,1103.4L193.6,1103.6L194.1,1103.8L194.6,1104.0L195.1,1104.2L195.6,1104.5L196.1,1104.7L196.6,1104.9L197.1,1105.1L197.6,1105.3L198.1,1105.6L198.6,1105.8L199.1,1106.0L199.6,1106.3L200.1,1106.5L200.6,1106.7L201.1,1107.0L201.6,1107.2L202.1,1107.5L202.6,1107.7L203.1,1107.9L203.6,1108.2L204.1,1108.4L204.6,1108.7L205.1,1108.9L205.6,1109.1L206.1,1109.4L206.6,1109.6L207.1,1109.9L207.6,1110.1L208.1,1110.3L208.6,1110.6L209.1,1110.8L209.6,1111.0L210.1,1111.3L210.6,1111.5L211.1,1111.7L211.6,1112.0L212.1,1112.2L212.6,1112.4L213.1,1112.7L213.6,1112.9L214.1,1113.1L214.6,1113.3L215.1,1113.6L215.6,1113.8L216.1,1114.0L216.6,1114.3L217.1,1114.5L217.6,1114.8L218.1,1115.0L218.6,1115.2L219.1,1115.5L219.6,1115.7L220.1,1116.0L220.6,1116.2L221.1,1116.4L221.6,1116.7L222.1,1116.9L222.6,1117.2L223.1,1117.4L223.6,1117.7L224.1,1117.9L224.6,1118.2L225.1,1118.4L225.6,1118.7L226.1,1118.9L226.6,1119.2L227.1,1119.4L227.6,1119.7L228.1,1119.9L228.6,1120.2L229.1,1120.4L229.6,1120.7L230.1,1120.9L230.6,1121.2L231.1,1121.4L231.6,1121.7L232.1,1122.0L232.6,1122.2L233.1,1122.5L233.6,1122.7L234.1,1123.0L234.6,1123.2L235.1,1123.5L235.6,1123.7L236.1,1124.0L236.6,1124.3L237.1,1124.5L237.6,1124.8L238.1,1125.0L238.6,1125.3L239.1,1125.5L239.6,1125.8L240.1,1126.1L240.6,1126.3L241.1,1126.6L241.6,1126.8L242.1,1127.1L242.6,1127.3L243.1,1127.6L243.6,1127.9L244.1,1128.1L244.6,1128.4L245.1,1128.6L245.6,1128.9L246.1,1129.1L246.6,1129.4L247.1,1129.6L247.6,1129.9L248.1,1130.1L248.6,1130.4L249.1,1130.7L249.6,1130.9L250.1,1131.2L250.6,1131.4L251.1,1131.7L251.6,1131.9L252.1,1132.2L252.6,1132.4L253.1,1132.7L253.6,1133.0L254.1,1133.2L254.6,1133.5L255.1,1133.7L255.6,1134.0L256.1,1134.2L256.6,1134.5L257.1,1134.8L257.6,1135.0L258.1,1135.3L258.6,1135.5L259.1,1135.8L259.6,1136.1L260.1,1136.3L260.6,1136.6L261.1,1136.8L261.6,1137.1L262.1,1137.3L262.6,1137.6L263.1,1137.9L263.6,1138.1L264.1,1138.4L264.6,1138.6L265.1,1138.9L265.6,1139.1L266.1,1139.4L266.6,1139.6L267.1,1139.9L267.6,1140.1L268.1,1140.4L268.6,1140.6L269.1,1140.9L269.6,1141.1L270.1,1141.3L270.6,1141.6L271.1,1141.8L271.6,1142.1L272.1,1142.3L272.6,1142.5L273.1,1142.8L273.6,1143.0L274.1,1143.3L274.6,1143.5L275.1,1143.7L275.6,1144.0L276.1,1144.2L276.6,1144.4L277.1,1144.7L277.6,1144.9L278.1,1145.1L278.6,1145.4L279.1,1145.6L279.6,1145.8L280.1,1146.0L280.6,1146.3L281.1,1146.5L281.6,1146.7L282.1,1147.0L282.6,1147.2L283.1,1147.4L283.6,1147.6L284.1,1147.9L284.6,1148.1L285.1,1148.3L285.6,1148.6L286.1,1148.8L286.6,1149.0L287.1,1149.3L287.6,1149.5L288.1,1149.7L288.6,1149.9L289.1,1150.2L289.6,1150.4L290.1,1150.6L290.6,1150.9L291.1,1151.1L291.6,1151.3L292.1,1151.6L292.6,1151.8L293.1,1152.1L293.6,1152.3L294.1,1152.5L294.6,1152.8L295.1,1153.0L295.6,1153.3L296.1,1153.5L296.6,1153.7L297.1,1154.0L297.6,1154.2L298.1,1154.4L298.6,1154.7L299.1,1154.9L299.6,1155.2L300.1,1155.4L300.6,1155.6L301.1,1155.9L301.6,1156.1L302.1,1156.3L302.6,1156.6L303.1,1156.8L303.6,1157.0L304.1,1157.3L304.6,1157.5L305.1,1157.7L305.6,1158.0L306.1,1158.2L306.6,1158.4L307.1,1158.7L307.6,1158.9L308.1,1159.1L308.6,1159.3L309.1,1159.5L309.6,1159.8L310.1,1160.0L310.6,1160.2L311.1,1160.4L311.6,1160.6L312.1,1160.8L312.6,1161.0L313.1,1161.2L313.6,1161.4L314.1,1161.6L314.6,1161.8L315.1,1162.0L315.6,1162.2L316.1,1162.4L316.6,1162.5L317.1,1162.7L317.6,1162.9L318.1,1163.1L318.6,1163.3L319.1,1163.5L319.6,1163.7L320.1,1163.9L320.6,1164.2L321.1,1164.4L321.6,1164.6L322.1,1164.8L322.6,1165.1L323.1,1165.3L323.6,1165.6L324.1,1165.8L324.6,1166.1L325.1,1166.4L325.6,1166.7L326.1,1167.0L326.6,1167.3L327.1,1167.6L327.6,1167.9L328.1,1168.2L328.6,1168.6L329.1,1168.9L329.6,1169.2L330.1,1169.6L330.6,1169.9L331.1,1170.2L331.6,1170.5L332.1,1170.8L332.6,1171.1L333.1,1171.4L333.6,1171.7L334.1,1172.0L334.6,1172.3L335.1,1172.6L335.6,1172.9L336.1,1173.2L336.6,1173.4L337.1,1173.7L337.6,1174.0L338.1,1174.3L338.6,1174.6L339.1,1174.8L339.6,1175.1L340.1,1175.3L340.6,1175.6L341.1,1175.8L341.6,1176.0L342.1,1176.2L342.6,1176.4L343.1,1176.6L343.6,1176.7L344.1,1176.9L344.6,1177.0L345.1,1177.1L345.6,1177.3L346.1,1177.4L346.6,1177.5L347.1,1177.7L347.6,1177.8L348.1,1177.9L348.6,1178.0L349.1,1178.1L349.6,1178.2L350.1,1178.3L350.6,1178.4L351.1,1178.4L351.6,1178.5L352.1,1178.6L352.6,1178.6L353.1,1178.6L353.6,1178.7L354.1,1178.7L354.6,1178.8L355.1,1178.8L355.4,1178.8L355.4,1178.8L355.1,1178.8L354.6,1178.7L354.1,1178.6L353.6,1178.5L353.1,1178.3L352.6,1178.2L352.1,1178.0L351.6,1177.8L351.1,1177.7L350.6,1177.5L350.1,1177.3L349.6,1177.1L349.1,1176.8L348.6,1176.5L348.1,1176.2L347.6,1175.9L347.1,1175.5L346.6,1175.1L346.1,1174.6L345.6,1174.2L345.1,1173.7L344.6,1173.2L344.1,1172.7L343.6,1172.1L343.1,1171.4L342.6,1170.8L342.1,1170.0L341.6,1169.3L341.1,1168.5L340.6,1167.6L340.1,1166.8L339.6,1165.9L339.1,1165.0L338.6,1164.1L338.1,1163.0L337.6,1161.9L337.1,1160.8L336.6,1159.6L336.1,1158.4L335.6,1157.2L335.1,1156.0L334.6,1154.8L334.1,1153.6L333.6,1152.5L333.1,1151.4L332.6,1150.3L332.1,1149.2L331.6,1148.1L331.1,1147.0L330.6,1145.9L330.1,1144.8L329.6,1143.8L329.1,1142.7L328.6,1141.6L328.1,1140.5L327.6,1139.5L327.1,1138.4L326.6,1137.4L326.1,1136.3L325.6,1135.3L325.1,1134.2L324.6,1133.2L324.1,1132.1L323.6,1131.1L323.1,1130.1L322.6,1129.0L322.1,1128.0L321.6,1127.0L321.1,1126.0L320.6,1124.9L320.1,1123.9L319.6,1123.0L319.1,1122.0L318.6,1121.0L318.1,1120.1L317.6,1119.1L317.1,1118.2L316.6,1117.3L316.1,1116.4L315.6,1115.5L315.1,1114.7L314.6,1113.8L314.1,1112.9L313.6,1112.1L313.1,1111.2L312.6,1110.4L312.1,1109.6L311.6,1108.7L311.1,1107.9L310.6,1107.1L310.1,1106.3L309.6,1105.5L309.1,1104.7L308.6,1103.9L308.1,1103.2L307.6,1102.4L307.1,1101.6L306.6,1100.9L306.1,1100.1L305.6,1099.4L305.1,1098.6L304.6,1097.9L304.1,1097.2L303.6,1096.4L303.1,1095.7L302.6,1095.0L302.1,1094.3L301.6,1093.6L301.1,1092.9L300.6,1092.1L300.1,1091.4L299.6,1090.7L299.1,1090.1L298.6,1089.4L298.1,1088.7L297.6,1088.0L297.1,1087.3L296.6,1086.7L296.1,1086.0L295.6,1085.3L295.1,1084.7L294.6,1084.1L294.1,1083.4L293.6,1082.8L293.1,1082.2L292.6,1081.6L292.1,1081.0L291.6,1080.4L291.1,1079.8L290.6,1079.3L290.1,1078.7L289.6,1078.2L289.1,1077.6L288.6,1077.1L288.1,1076.6L287.6,1076.0L287.1,1075.5L286.6,1075.0L286.1,1074.5L285.6,1074.0L285.1,1073.5L284.6,1073.1L284.1,1072.6L283.6,1072.1L283.1,1071.6L282.6,1071.2L282.1,1070.7L281.6,1070.2L281.1,1069.8L280.6,1069.3L280.1,1068.9L279.6,1068.4L279.1,1068.0L278.6,1067.6L278.1,1067.1L277.6,1066.7L277.1,1066.3L276.6,1065.8L276.1,1065.4L275.6,1065.0L275.1,1064.5L274.6,1064.1L274.1,1063.7L273.6,1063.3L273.1,1062.8L272.6,1062.4L272.1,1062.0L271.6,1061.5L271.1,1061.1L270.6,1060.7L270.1,1060.3L269.6,1059.8L269.1,1059.4L268.6,1059.0L268.1,1058.6L267.6,1058.2L267.1,1057.7L266.6,1057.3L266.1,1056.9L265.6,1056.5L265.1,1056.1L264.6,1055.6L264.1,1055.2L263.6,1054.8L263.1,1054.4L262.6,1054.0L262.1,1053.6L261.6,1053.2L261.1,1052.7L260.6,1052.3L260.1,1051.9L259.6,1051.5L259.1,1051.1L258.6,1050.7L258.1,1050.3L257.6,1049.9L257.1,1049.5L256.6,1049.1L256.1,1048.7L255.6,1048.4L255.1,1048.0L254.6,1047.6L254.1,1047.2L253.6,1046.8L253.1,1046.4L252.6,1046.1L252.1,1045.7L251.6,1045.3L251.1,1044.9L250.6,1044.6L250.1,1044.2L249.6,1043.8L249.1,1043.5L248.6,1043.1L248.1,1042.8L247.6,1042.4L247.1,1042.1L246.6,1041.7L246.1,1041.4L245.6,1041.0L245.1,1040.7L244.6,1040.4L244.1,1040.0L243.6,1039.7L243.1,1039.4L242.6,1039.1L242.1,1038.7L241.6,1038.4L241.1,1038.1L240.6,1037.8L240.1,1037.5L239.6,1037.2L239.1,1036.9L238.6,1036.6L238.1,1036.3L237.6,1036.0L237.1,1035.7L236.6,1035.4L236.1,1035.1L235.6,1034.8L235.1,1034.5L234.6,1034.2L234.1,1033.9L233.6,1033.6L233.1,1033.4L232.6,1033.1L232.1,1032.8L231.6,1032.5L231.1,1032.2L230.6,1032.0L230.1,1031.7L229.6,1031.4L229.1,1031.2L228.6,1030.9L228.1,1030.6L227.6,1030.3L227.1,1030.1L226.6,1029.8L226.1,1029.6L225.6,1029.3L225.1,1029.0L224.6,1028.8L224.1,1028.5L223.6,1028.3L223.1,1028.0L222.6,1027.8L222.1,1027.5L221.6,1027.3L221.1,1027.1L220.6,1026.8L220.1,1026.6L219.6,1026.3L219.1,1026.1L218.6,1025.9L218.1,1025.6L217.6,1025.4L217.1,1025.2L216.6,1025.0L216.1,1024.7L215.6,1024.5L215.1,1024.3L214.6,1024.1L214.1,1023.9L213.6,1023.6L213.1,1023.4L212.6,1023.2L212.1,1023.0L211.6,1022.8L211.1,1022.6L210.6,1022.4L210.1,1022.2L209.6,1022.0L209.1,1021.8L208.6,1021.6L208.1,1021.4L207.6,1021.2L207.1,1021.0L206.6,1020.8L206.1,1020.6L205.6,1020.4L205.1,1020.2L204.6,1020.0L204.1,1019.9L203.6,1019.7L203.1,1019.5L202.6,1019.3L202.1,1019.1L201.6,1018.9L201.1,1018.8L200.6,1018.6L200.1,1018.4L199.6,1018.2L199.1,1018.1L198.6,1017.9L198.1,1017.7L197.6,1017.6L197.1,1017.4L196.6,1017.2L196.1,1017.0L195.6,1016.9L195.1,1016.7L194.6,1016.5L194.1,1016.4L193.6,1016.2L193.1,1016.1L192.6,1015.9L192.1,1015.7L191.6,1015.6L191.1,1015.4L190.6,1015.2L190.1,1015.1L189.6,1014.9L189.1,1014.8L188.6,1014.6L188.1,1014.4L187.6,1014.3L187.1,1014.1L186.6,1014.0L186.1,1013.8L185.6,1013.7L185.1,1013.5L184.6,1013.4L184.1,1013.2L183.6,1013.0L183.1,1012.9L182.6,1012.7L182.1,1012.6L181.6,1012.4L181.1,1012.3L180.6,1012.1L180.1,1011.9L179.6,1011.8L179.1,1011.6L178.6,1011.5L178.1,1011.3L177.6,1011.1L177.1,1011.0L176.6,1010.8L176.1,1010.7L175.6,1010.5L175.1,1010.3L174.6,1010.2L174.1,1010.0L173.6,1009.8L173.1,1009.7L172.6,1009.5L172.1,1009.4L171.6,1009.2L171.1,1009.1L170.6,1008.9L170.1,1008.8L169.6,1008.6L169.1,1008.5L168.6,1008.3L168.1,1008.2L167.6,1008.0L167.1,1007.9L166.6,1007.8L166.1,1007.6L165.6,1007.5L165.1,1007.4L164.6,1007.2L164.1,1007.1L163.6,1007.0L163.1,1006.9L162.6,1006.8L162.1,1006.7L161.6,1006.6L161.1,1006.5L160.6,1006.4L160.1,1006.3L159.6,1006.2L159.1,1006.1L158.6,1006.0L158.1,1006.0L157.6,1005.9L157.1,1005.8L156.6,1005.7L156.1,1005.7L155.6,1005.6L155.1,1005.5L154.6,1005.5L154.1,1005.4L153.6,1005.3L153.1,1005.3L152.6,1005.2L152.1,1005.2L151.6,1005.1L151.1,1005.0L150.6,1005.0L150.1,1004.9L149.6,1004.9L149.1,1004.8L148.6,1004.8L148.1,1004.7L147.6,1004.7L147.1,1004.6L146.6,1004.6L146.1,1004.5L145.6,1004.5L145.1,1004.4L144.6,1004.4L144.1,1004.3L143.6,1004.3L143.1,1004.3L142.6,1004.2L142.1,1004.2L141.6,1004.2L141.1,1004.1L140.6,1004.1L140.1,1004.1L139.6,1004.0L139.1,1004.0L138.6,1004.0L138.1,1004.0L137.6,1003.9L137.1,1003.9L136.6,1003.9L136.1,1003.9L135.6,1003.8L135.1,1003.8L134.6,1003.8L134.1,1003.8L133.6,1003.7L133.1,1003.7L132.6,1003.7L132.1,1003.7L131.6,1003.7L131.1,1003.6L130.6,1003.6L130.1,1003.6L129.6,1003.6L129.1,1003.5L128.6,1003.5L128.1,1003.5L127.6,1003.5L127.1,1003.5L126.6,1003.4L126.1,1003.4L125.6,1003.4L125.1,1003.4L124.6,1003.4L124.1,1003.3L123.6,1003.3L123.1,1003.3L122.6,1003.3L122.1,1003.3L121.6,1003.3L121.1,1003.2L120.6,1003.2L120.1,1003.2L119.6,1003.2L119.1,1003.2L118.6,1003.2L118.1,1003.2L117.6,1003.1L117.1,1003.1L116.6,1003.1L116.1,1003.1L115.6,1003.1L115.1,1003.1L114.6,1003.1L114.1,1003.1L113.6,1003.1L113.1,1003.1L112.6,1003.0L112.1,1003.0L111.6,1003.0L111.1,1003.0L110.6,1003.0L110.1,1003.0L109.6,1003.0L109.1,1003.0L108.6,1003.0L108.1,1003.0L107.6,1003.0L107.1,1003.0L106.6,1003.0Z" fill="#FDB56F"/>
<path d="M180.6,1012.1L181.1,1012.3L181.6,1012.4L182.1,1012.6L182.6,1012.7L183.1,1012.9L183.6,1013.0L184.1,1013.2L184.6,1013.4L185.1,1013.5L185.6,1013.7L186.1,1013.8L186.6,1014.0L187.1,1014.1L187.6,1014.3L188.1,1014.4L188.6,1014.6L189.1,1014.8L189.6,1014.9L190.1,1015.1L190.6,1015.2L191.1,1015.4L191.6,1015.6L192.1,1015.7L192.6,1015.9L193.1,1016.1L193.6,1016.2L194.1,1016.4L194.6,1016.5L195.1,1016.7L195.6,1016.9L196.1,1017.0L196.6,1017.2L197.1,1017.4L197.6,1017.6L198.1,1017.7L198.6,1017.9L199.1,1018.1L199.6,1018.2L200.1,1018.4L200.6,1018.6L201.1,1018.8L201.6,1018.9L202.1,1019.1L202.6,1019.3L203.1,1019.5L203.6,1019.7L204.1,1019.9L204.6,1020.0L205.1,1020.2L205.6,1020.4L206.1,1020.6L206.6,1020.8L207.1,1021.0L207.6,1021.2L208.1,1021.4L208.6,1021.6L209.1,1021.8L209.6,1022.0L210.1,1022.2L210.6,1022.4L211.1,1022.6L211.6,1022.8L212.1,1023.0L212.6,1023.2L213.1,1023.4L213.6,1023.6L214.1,1023.9L214.6,1024.1L215.1,1024.3L215.6,1024.5L216.1,1024.7L216.6,1025.0L217.1,1025.2L217.6,1025.4L218.1,1025.6L218.6,1025.9L219.1,1026.1L219.6,1026.3L220.1,1026.6L220.6,1026.8L221.1,1027.1L221.6,1027.3L222.1,1027.5L222.6,1027.8L223.1,1028.0L223.6,1028.3L224.1,1028.5L224.6,1028.8L225.1,1029.0L225.6,1029.3L226.1,1029.6L226.6,1029.8L227.1,1030.1L227.6,1030.3L228.1,1030.6L228.6,1030.9L229.1,1031.2L229.6,1031.4L230.1,1031.7L230.6,1032.0L231.1,1032.2L231.6,1032.5L232.1,1032.8L232.6,1033.1L233.1,1033.4L233.6,1033.6L234.1,1033.9L234.6,1034.2L235.1,1034.5L235.6,1034.8L236.1,1035.1L236.6,1035.4L237.1,1035.7L237.6,1036.0L238.1,1036.3L238.6,1036.6L239.1,1036.9L239.6,1037.2L240.1,1037.5L240.6,1037.8L241.1,1038.1L241.6,1038.4L242.1,1038.7L242.6,1039.1L243.1,1039.4L243.6,1039.7L244.1,1040.0L244.6,1040.4L245.1,1040.7L245.6,1041.0L246.1,1041.4L246.6,1041.7L247.1,1042.1L247.6,1042.4L248.1,1042.8L248.6,1043.1L249.1,1043.5L249.6,1043.8L250.1,1044.2L250.6,1044.6L251.1,1044.9L251.6,1045.3L252.1,1045.7L252.6,1046.1L253.1,1046.4L253.6,1046.8L254.1,1047.2L254.6,1047.6L255.1,1048.0L255.6,1048.4L256.1,1048.7L256.6,1049.1L257.1,1049.5L257.6,1049.9L258.1,1050.3L258.6,1050.7L259.1,1051.1L259.6,1051.5L260.1,1051.9L260.6,1052.3L261.1,1052.7L261.6,1053.2L262.1,1053.6L262.6,1054.0L263.1,1054.4L263.6,1054.8L264.1,1055.2L264.6,1055.6L265.1,1056.1L265.6,1056.5L266.1,1056.9L266.6,1057.3L267.1,1057.7L267.6,1058.2L268.1,1058.6L268.6,1059.0L269.1,1059.4L269.6,1059.8L270.1,1060.3L270.6,1060.7L271.1,1061.1L271.1,1061.2L270.6,1061.1L270.1,1061.1L269.6,1061.1L269.1,1061.1L268.6,1061.1L268.1,1061.1L267.6,1061.1L267.1,1061.1L266.6,1061.1L266.1,1061.1L265.6,1061.1L265.1,1061.0L264.6,1061.0L264.1,1061.0L263.6,1061.0L263.1,1061.0L262.6,1061.0L262.1,1061.0L261.6,1061.0L261.1,1061.0L260.6,1061.0L260.1,1061.0L259.6,1061.0L259.1,1061.0L258.6,1061.0L258.1,1061.1L257.6,1061.1L257.1,1061.2L256.6,1061.2L256.1,1061.3L255.6,1061.4L255.1,1061.4L254.6,1061.5L254.1,1061.6L253.6,1061.7L253.1,1061.7L252.6,1061.8L252.1,1061.9L251.6,1061.9L251.1,1062.0L250.6,1062.0L250.1,1062.1L249.6,1062.1L249.1,1062.1L248.6,1062.1L248.1,1062.1L247.6,1062.1L247.1,1062.1L246.6,1062.1L246.1,1062.1L245.6,1062.1L245.1,1062.1L244.6,1062.1L244.1,1062.1L243.6,1062.1L243.1,1062.1L242.6,1062.0L242.1,1062.0L241.6,1062.0L241.1,1062.0L240.6,1062.0L240.1,1062.0L239.6,1062.0L239.1,1062.0L238.6,1062.0L238.1,1061.9L237.6,1061.9L237.1,1061.9L236.6,1061.9L236.1,1061.9L235.6,1061.9L235.1,1061.8L234.6,1061.8L234.1,1061.8L233.6,1061.8L233.1,1061.8L232.6,1061.8L232.1,1061.7L231.6,1061.7L231.1,1061.7L230.6,1061.7L230.1,1061.7L229.6,1061.6L229.1,1061.6L228.6,1061.6L228.1,1061.6L227.6,1061.5L227.1,1061.5L226.6,1061.5L226.1,1061.5L225.6,1061.5L225.1,1061.4L224.6,1061.4L224.1,1061.4L223.6,1061.4L223.1,1061.3L222.6,1061.3L222.1,1061.3L221.6,1061.2L221.1,1061.2L220.6,1061.2L220.1,1061.1L219.6,1061.1L219.1,1061.0L218.6,1061.0L218.1,1060.9L217.6,1060.9L217.1,1060.8L216.6,1060.8L216.1,1060.7L215.6,1060.7L215.1,1060.6L214.6,1060.6L214.1,1060.5L213.6,1060.4L213.1,1060.4L212.6,1060.3L212.1,1060.3L211.6,1060.2L211.1,1060.1L210.6,1060.1L210.1,1060.0L209.6,1059.9L209.1,1059.9L208.6,1059.8L208.1,1059.7L207.6,1059.6L207.1,1059.6L206.6,1059.5L206.1,1059.4L205.6,1059.3L205.1,1059.3L204.6,1059.2L204.1,1059.1L203.6,1059.1L203.1,1059.0L202.6,1058.9L202.1,1058.8L201.6,1058.8L201.1,1058.7L200.6,1058.6L200.1,1058.5L199.6,1058.5L199.1,1058.4L198.6,1058.3L198.1,1058.2L197.6,1058.1L197.1,1058.1L196.6,1058.0L196.1,1057.9L195.6,1057.8L195.1,1057.7L194.6,1057.6L194.1,1057.6L193.6,1057.5L193.1,1057.4L192.6,1057.3L192.1,1057.2L191.6,1057.1L191.1,1057.0L190.6,1056.9L190.1,1056.8L189.6,1056.7L189.1,1056.6L188.6,1056.5L188.1,1056.4L187.6,1056.3L187.1,1056.2L186.6,1056.1L186.1,1056.0L185.6,1055.9L185.1,1055.8L184.6,1055.7L184.1,1055.6L183.6,1055.5L183.1,1055.4L182.6,1055.3L182.1,1055.2L181.6,1055.1L181.1,1055.0L180.6,1054.8Z" fill="#C8FA98"/>
<line x1="180.9" y1="1012.1" x2="180.9" y2="1054.8" stroke="#555" stroke-width="0.8" />
<path d="M306.8,866.6L307.3,866.7L307.8,866.9L308.3,867.0L308.8,867.1L309.3,867.3L309.8,867.4L310.3,867.5L310.8,867.7L311.3,867.8L311.8,868.0L312.3,868.1L312.8,868.3L313.3,868.4L313.8,868.6L314.3,868.7L314.8,868.9L315.3,869.0L315.8,869.2L316.3,869.3L316.8,869.5L317.3,869.6L317.8,869.8L318.3,869.9L318.8,870.1L319.3,870.2L319.8,870.4L320.3,870.6L320.8,870.7L321.3,870.9L321.8,871.1L322.3,871.2L322.8,871.4L323.3,871.6L323.8,871.8L324.3,872.0L324.8,872.1L325.3,872.3L325.8,872.5L326.3,872.7L326.8,872.9L327.3,873.1L327.8,873.3L328.3,873.4L328.8,873.6L329.3,873.8L329.8,874.0L330.3,874.1L330.8,874.3L331.3,874.5L331.8,874.6L332.3,874.8L332.8,874.9L333.3,875.0L333.8,875.2L334.3,875.3L334.8,875.4L335.3,875.6L335.8,875.7L336.3,875.8L336.8,875.9L337.3,876.1L337.8,876.2L338.3,876.3L338.8,876.5L339.3,876.6L339.8,876.7L340.3,876.9L340.8,877.0L341.3,877.2L341.8,877.4L342.3,877.5L342.8,877.7L343.3,877.9L343.8,878.1L344.3,878.4L344.8,878.6L345.3,878.9L345.8,879.2L346.3,879.5L346.8,879.8L347.3,880.2L347.8,880.5L348.3,880.8L348.8,881.2L349.3,881.5L349.8,881.9L350.3,882.4L350.8,882.8L351.3,883.3L351.8,883.7L352.3,884.1L352.8,884.5L353.3,884.8L353.8,885.1L354.3,885.4L354.8,885.7L355.3,885.9L355.8,886.2L356.3,886.4L356.8,886.6L357.3,886.8L357.8,887.1L358.3,887.3L358.8,887.4L359.3,887.6L359.8,887.8L360.3,887.9L360.8,888.0L361.3,888.2L361.8,888.2L362.3,888.3L362.8,888.4L363.3,888.4L363.8,888.5L364.3,888.5L364.8,888.6L365.3,888.7L365.8,888.7L366.3,888.8L366.8,888.8L367.3,888.9L367.8,888.9L368.3,889.0L368.8,889.0L369.3,889.0L369.8,889.1L370.3,889.1L370.8,889.2L371.3,889.2L371.8,889.2L372.3,889.3L372.8,889.3L373.3,889.3L373.8,889.3L374.3,889.4L374.8,889.4L375.3,889.4L375.8,889.4L376.3,889.4L376.8,889.5L377.3,889.5L377.8,889.5L378.3,889.5L378.8,889.5L379.3,889.5L379.8,889.5L380.3,889.5L380.8,889.5L381.3,889.5L381.8,889.5L382.3,889.5L382.8,889.5L383.3,889.4L383.8,889.4L384.3,889.4L384.8,889.4L385.3,889.4L385.8,889.3L386.3,889.3L386.8,889.3L387.3,889.2L387.8,889.2L388.3,889.2L388.8,889.1L389.3,889.1L389.8,889.1L390.3,889.0L390.8,889.0L391.3,889.0L391.8,888.9L392.3,888.9L392.8,888.9L393.3,888.8L393.8,888.8L394.3,888.8L394.8,888.7L395.3,888.7L395.8,888.7L396.3,888.6L396.8,888.6L397.3,888.5L397.8,888.5L398.3,888.4L398.8,888.4L399.3,888.3L399.8,888.3L400.3,888.2L400.8,888.2L401.3,888.1L401.8,888.1L402.3,888.0L402.8,888.0L403.3,887.9L403.8,887.9L404.3,887.8L404.8,887.7L405.3,887.7L405.8,887.6L406.3,887.5L406.8,887.4L407.3,887.4L407.8,887.3L408.3,887.2L408.8,887.1L409.3,887.0L409.8,886.9L410.3,886.8L410.8,886.7L411.3,886.6L411.8,886.5L412.3,886.4L412.8,886.3L413.3,886.2L413.8,886.1L414.3,886.0L414.8,885.9L415.3,885.7L415.8,885.6L416.3,885.5L416.8,885.4L417.3,885.3L417.8,885.2L418.3,885.0L418.8,884.9L419.3,884.8L419.8,884.6L420.3,884.5L420.8,884.4L421.3,884.2L421.8,884.1L422.3,883.9L422.8,883.8L423.3,883.6L423.8,883.5L424.3,883.3L424.8,883.2L425.3,883.0L425.8,882.8L426.3,882.7L426.8,882.5L427.3,882.4L427.8,882.2L428.3,882.0L428.8,881.8L429.3,881.7L429.8,881.5L430.3,881.3L430.8,881.2L431.3,881.0L431.8,880.8L432.3,880.6L432.8,880.4L433.3,880.3L433.8,880.1L434.3,879.9L434.8,879.7L435.3,879.5L435.8,879.3L436.3,879.1L436.8,878.9L437.3,878.7L437.8,878.5L438.3,878.3L438.8,878.1L439.3,877.9L439.8,877.7L440.3,877.4L440.8,877.2L441.3,877.0L441.8,876.8L442.3,876.5L442.8,876.3L443.3,876.1L443.8,875.8L444.3,875.5L444.8,875.3L445.3,875.0L445.8,874.7L446.3,874.4L446.8,874.1L447.3,873.8L447.8,873.5L448.3,873.2L448.8,872.9L449.3,872.6L449.8,872.3L450.3,872.0L450.8,871.7L451.3,871.5L451.8,871.2L452.3,870.9L452.8,870.7L453.3,870.4L453.8,870.2L454.3,869.9L454.8,869.7L455.3,869.4L455.8,869.1L456.3,868.9L456.8,868.6L457.3,868.3L457.8,868.1L458.3,867.9L458.8,867.7L459.3,867.5L459.8,867.3L460.3,867.2L460.8,867.1L461.3,867.0L461.8,867.0L462.3,866.9L462.8,866.8L463.3,866.8L463.8,866.7L464.3,866.7L464.8,866.6L465.3,866.6L465.8,866.6L466.3,866.5L466.8,866.5L467.3,866.5L467.8,866.5L468.3,866.4L468.8,866.4L469.3,866.4L469.8,866.4L470.3,866.4L470.8,866.4L471.3,866.4L471.8,866.5L472.3,866.6L472.8,866.6L473.3,866.7L473.8,866.8L474.3,867.0L474.8,867.1L475.3,867.2L475.8,867.4L476.3,867.5L476.8,867.7L477.3,867.9L477.8,868.0L478.3,868.2L478.8,868.4L479.3,868.6L479.8,868.8L480.3,868.9L480.8,869.1L481.3,869.3L481.8,869.6L482.3,869.8L482.8,870.1L483.3,870.4L483.8,870.7L484.3,871.0L484.8,871.3L485.3,871.6L485.8,871.9L486.3,872.3L486.8,872.6L487.3,873.0L487.8,873.3L488.3,873.7L488.8,874.1L489.3,874.4L489.8,874.8L490.3,875.2L490.8,875.5L491.3,875.9L491.8,876.3L492.3,876.7L492.8,877.1L493.3,877.6L493.8,878.0L494.3,878.4L494.8,878.9L495.3,879.3L495.8,879.8L496.3,880.2L496.8,880.7L497.3,881.2L497.8,881.6L498.3,882.1L498.8,882.6L499.3,883.1L499.8,883.5L500.3,884.0L500.8,884.5L501.3,884.9L501.8,885.4L502.3,885.9L502.8,886.3L503.3,886.8L503.8,887.3L504.3,887.8L504.8,888.3L505.3,888.8L505.8,889.3L506.3,889.8L506.8,890.3L507.3,890.8L507.8,891.3L508.3,891.8L508.8,892.4L509.3,892.9L509.8,893.5L510.3,894.0L510.8,894.6L511.3,895.2L511.8,895.8L512.3,896.4L512.8,897.0L513.3,897.6L513.8,898.2L514.3,898.9L514.8,899.5L515.3,900.2L515.8,900.8L516.3,901.5L516.8,902.2L517.3,902.8L517.8,903.5L518.3,904.2L518.8,904.9L519.3,905.6L519.8,906.2L520.3,906.9L520.8,907.6L521.3,908.3L521.8,909.0L522.3,909.7L522.8,910.4L523.3,911.1L523.8,911.8L524.3,912.5L524.8,913.2L525.3,914.0L525.8,914.7L526.3,915.4L526.8,916.2L527.3,917.0L527.8,917.8L528.3,918.6L528.8,919.4L529.3,920.2L529.8,921.1L530.3,921.9L530.8,922.7L531.3,923.6L531.8,924.4L532.3,925.2L532.8,926.1L533.3,926.9L533.8,927.7L534.3,928.5L534.8,929.2L535.3,930.0L535.8,930.8L536.3,931.5L536.8,932.2L537.3,932.9L537.8,933.5L538.3,934.2L538.8,934.9L539.3,935.5L539.8,936.2L540.3,936.9L540.8,937.5L541.3,938.1L541.8,938.7L542.3,939.3L542.8,939.8L543.3,940.2L543.8,940.6L544.3,941.0L544.8,941.3L545.3,941.5L545.8,941.8L546.3,942.0L546.8,942.3L547.3,942.5L547.8,942.7L548.3,942.9L548.8,943.1L549.3,943.3L549.8,943.5L550.3,943.6L550.8,943.8L551.3,943.9L551.8,944.1L552.3,944.2L552.8,944.3L553.3,944.5L553.8,944.6L554.3,944.7L554.8,944.8L555.3,944.9L555.8,945.0L556.3,945.1L556.8,945.2L557.3,945.3L557.8,945.4L558.3,945.5L558.8,945.6L559.3,945.6L559.8,945.7L560.0,945.7" fill="none" stroke="#0808D8" stroke-width="3.0" stroke-linejoin="round" stroke-linecap="butt"/>
<path d="M306.8,800.6L307.3,800.6L307.8,800.6L308.3,800.6L308.8,800.6L309.3,800.6L309.8,800.6L310.3,800.6L310.8,800.6L311.3,800.6L311.8,800.6L312.3,800.6L312.8,800.6L313.3,800.6L313.8,800.6L314.3,800.6L314.8,800.6L315.3,800.6L315.8,800.6L316.3,800.6L316.8,800.6L317.3,800.6L317.8,800.6L318.3,800.6L318.8,800.6L319.3,800.6L319.8,800.6L320.3,800.6L320.8,800.6L321.3,800.6L321.8,800.6L322.3,800.6L322.8,800.6L323.3,800.6L323.8,800.6L324.3,800.6L324.8,800.6L325.3,800.6L325.8,800.6L326.3,800.6L326.8,800.6L327.3,800.5L327.8,800.5L328.3,800.5L328.8,800.5L329.3,800.4L329.8,800.4L330.3,800.4L330.8,800.3L331.3,800.3L331.8,800.3L332.3,800.2L332.8,800.2L333.3,800.2L333.8,800.1L334.3,800.1L334.8,800.1L335.3,800.0L335.8,800.0L336.3,800.0L336.8,799.9L337.3,799.9L337.8,799.9L338.3,799.9L338.8,799.8L339.3,799.8L339.8,799.8L340.3,799.8L340.8,799.8L341.3,799.8L341.8,799.8L342.3,799.7L342.8,799.7L343.3,799.7L343.8,799.7L344.3,799.7L344.8,799.7L345.3,799.7L345.8,799.7L346.3,799.7L346.8,799.6L347.3,799.6L347.8,799.6L348.3,799.6L348.8,799.6L349.3,799.6L349.8,799.6L350.3,799.6L350.8,799.6L351.3,799.6L351.8,799.6L352.3,799.6L352.8,799.6L353.3,799.6L353.8,799.7L354.3,799.7L354.8,799.7L355.3,799.7L355.8,799.8L356.3,799.8L356.8,799.8L357.3,799.9L357.8,799.9L358.3,800.0L358.8,800.0L359.3,800.0L359.8,800.1L360.3,800.1L360.8,800.2L361.3,800.2L361.8,800.3L362.3,800.3L362.8,800.4L363.3,800.4L363.8,800.5L364.3,800.6L364.8,800.6L365.3,800.7L365.8,800.8L366.3,800.8L366.8,800.9L367.3,801.0L367.8,801.1L368.3,801.2L368.8,801.3L369.3,801.3L369.8,801.4L370.3,801.5L370.8,801.6L371.3,801.7L371.8,801.9L372.3,802.0L372.8,802.1L373.3,802.2L373.8,802.3L374.3,802.5L374.8,802.6L375.3,802.8L375.8,803.0L376.3,803.2L376.8,803.4L377.3,803.6L377.8,803.8L378.3,804.0L378.8,804.2L379.3,804.3L379.8,804.5L380.3,804.7L380.8,804.9L381.3,805.0L381.8,805.2L382.3,805.4L382.8,805.5L383.3,805.7L383.8,805.8L384.3,806.0L384.8,806.1L385.3,806.3L385.8,806.5L386.3,806.6L386.8,806.8L387.3,806.9L387.8,807.1L388.3,807.2L388.8,807.4L389.3,807.6L389.8,807.8L390.3,807.9L390.8,808.1L391.3,808.3L391.8,808.5L392.3,808.7L392.8,808.9L393.3,809.1L393.8,809.4L394.3,809.6L394.8,809.8L395.3,810.1L395.8,810.3L396.3,810.6L396.8,810.8L397.3,811.1L397.8,811.4L398.3,811.7L398.8,811.9L399.3,812.2L399.8,812.5L400.3,812.8L400.8,813.1L401.3,813.4L401.8,813.7L402.3,814.0L402.8,814.3L403.3,814.6L403.8,814.9L404.3,815.3L404.8,815.6L405.3,815.9L405.8,816.2L406.3,816.5L406.8,816.9L407.3,817.2L407.8,817.6L408.3,817.9L408.8,818.3L409.3,818.6L409.8,819.0L410.3,819.3L410.8,819.7L411.3,820.1L411.8,820.5L412.3,820.8L412.8,821.2L413.3,821.6L413.8,822.0L414.3,822.4L414.8,822.8L415.3,823.2L415.8,823.6L416.3,824.0L416.8,824.4L417.3,824.8L417.8,825.3L418.3,825.7L418.8,826.1L419.3,826.6L419.8,827.0L420.3,827.4L420.8,827.9L421.3,828.3L421.8,828.8L422.3,829.2L422.8,829.7L423.3,830.2L423.8,830.7L424.3,831.1L424.8,831.6L425.3,832.1L425.8,832.6L426.3,833.1L426.8,833.6L427.3,834.1L427.8,834.6L428.3,835.1L428.8,835.6L429.3,836.2L429.8,836.7L430.3,837.2L430.8,837.7L431.3,838.3L431.8,838.8L432.3,839.4L432.8,840.0L433.3,840.5L433.8,841.1L434.3,841.7L434.8,842.3L435.3,842.9L435.8,843.5L436.3,844.1L436.8,844.7L437.3,845.3L437.8,845.9L438.3,846.6L438.8,847.2L439.3,847.8L439.8,848.5L440.3,849.2L440.8,849.8L441.3,850.5L441.8,851.3L442.3,852.0L442.8,852.7L443.3,853.5L443.8,854.2L444.3,855.0L444.8,855.8L445.3,856.5L445.8,857.3L446.3,858.1L446.8,858.9L447.3,859.6L447.8,860.4L448.3,861.2L448.8,861.9L449.3,862.7L449.8,863.5L450.3,864.2L450.8,865.0L451.3,865.8L451.8,866.6L452.3,867.4L452.8,868.2L453.3,869.0L453.8,869.9L454.3,870.8L454.8,871.8L455.3,872.8L455.8,873.8L456.3,874.8L456.8,875.9L457.3,876.9L457.8,878.0L458.3,879.1L458.8,880.1L459.3,881.1L459.8,882.1L460.3,883.1L460.8,884.0L461.3,885.0L461.8,885.9L462.3,886.9L462.8,887.8L463.3,888.7L463.8,889.6L464.3,890.5L464.8,891.4L465.3,892.3L465.8,893.2L466.3,894.1L466.8,894.9L467.3,895.7L467.8,896.6L468.3,897.4L468.8,898.2L469.3,899.0L469.8,899.8L470.3,900.6L470.8,901.4L471.3,902.1L471.8,902.9L472.3,903.6L472.8,904.4L473.3,905.1L473.8,905.8L474.3,906.5L474.8,907.2L475.3,907.8L475.8,908.5L476.3,909.1L476.8,909.7L477.3,910.4L477.8,911.0L478.3,911.6L478.8,912.2L479.3,912.8L479.8,913.3L480.3,913.9L480.8,914.5L481.3,915.0L481.8,915.6L482.3,916.1L482.8,916.6L483.3,917.1L483.8,917.6L484.3,918.1L484.8,918.6L485.3,919.1L485.8,919.5L486.3,920.0L486.8,920.5L487.3,920.9L487.8,921.4L488.3,921.8L488.8,922.3L489.3,922.7L489.8,923.1L490.3,923.5L490.8,923.9L491.3,924.2L491.8,924.6L492.3,924.9L492.8,925.3L493.3,925.6L493.8,925.9L494.3,926.2L494.8,926.5L495.3,926.8L495.8,927.1L496.3,927.4L496.8,927.7L497.3,927.9L497.8,928.2L498.3,928.5L498.8,928.7L499.3,929.0L499.8,929.2L500.3,929.5L500.8,929.7L501.3,929.9L501.8,930.2L502.3,930.4L502.8,930.6L503.3,930.8L503.8,931.0L504.3,931.2L504.8,931.4L505.3,931.5L505.8,931.7L506.3,931.9L506.8,932.0L507.3,932.2L507.8,932.3L508.3,932.5L508.8,932.6L509.3,932.8L509.8,932.9L510.3,933.0L510.8,933.2L511.3,933.3L511.8,933.4L512.3,933.5L512.8,933.6L513.3,933.8L513.8,933.9L514.3,934.0L514.8,934.1L515.3,934.2L515.8,934.3L516.3,934.5L516.8,934.6L517.3,934.7L517.8,934.8L518.3,934.9L518.8,935.0L519.3,935.1L519.8,935.3L520.3,935.4L520.8,935.5L521.3,935.6L521.8,935.7L522.3,935.8L522.8,935.9L523.3,936.0L523.8,936.1L524.3,936.2L524.8,936.3L525.3,936.4L525.8,936.5L526.3,936.6L526.8,936.7L527.3,936.8L527.8,937.0L528.3,937.1L528.8,937.2L529.3,937.3L529.8,937.5L530.3,937.6L530.8,937.7L531.3,937.9L531.8,938.0L532.3,938.2L532.8,938.4L533.3,938.5L533.8,938.7L534.3,938.9L534.8,939.1L535.3,939.2L535.8,939.4L536.3,939.6L536.8,939.8L537.3,940.0L537.8,940.2L538.3,940.4L538.8,940.5L539.3,940.7L539.8,940.9L540.3,941.1L540.8,941.2L541.3,941.4L541.8,941.6L542.3,941.7L542.8,941.9L543.3,942.0L543.8,942.2L544.3,942.3L544.8,942.4L545.3,942.6L545.8,942.7L546.3,942.8L546.8,942.9L547.3,943.1L547.8,943.2L548.3,943.3L548.8,943.5L549.3,943.6L549.8,943.7L550.3,943.8L550.8,943.9L551.3,944.0L551.8,944.1L552.3,944.2L552.8,944.3L553.3,944.4L553.8,944.5L554.3,944.6L554.8,944.7L555.3,944.8L555.8,944.8L556.3,944.9L556.8,944.9L557.3,945.0L557.8,945.0L558.3,945.1L558.8,945.1L559.3,945.2L559.8,945.2L560.3,945.3L560.8,945.3L561.3,945.3L561.8,945.4L562.3,945.4L562.8,945.5L563.3,945.5L563.8,945.5L564.3,945.6L564.8,945.6L565.3,945.6L565.8,945.7L566.3,945.7L566.8,945.7L567.3,945.7L567.8,945.7L568.3,945.8L568.8,945.8L569.3,945.8L569.8,945.8L570.3,945.8L570.8,945.8L571.3,945.8L571.8,945.8L572.3,945.8L572.8,945.8L573.3,945.8L573.8,945.8L574.3,945.9L574.8,945.9L575.3,945.9L575.8,945.9L576.3,945.9L576.8,945.9L577.3,945.9L577.8,945.9L578.3,945.9L578.8,945.9L579.3,945.9L579.8,945.9L580.3,945.9L580.8,945.9L581.3,945.9L581.8,945.9L582.3,945.9L582.8,945.9L583.3,945.9L583.8,945.9L584.3,945.9L584.8,945.9L585.3,946.0L585.8,946.0L586.3,946.0L586.8,946.0L587.3,946.0L587.8,946.0L588.3,946.0L588.8,946.0L589.3,946.0L589.8,946.0L590.3,946.0L590.8,946.0L591.3,946.0L591.8,946.0L592.3,946.0L592.8,946.0L593.3,946.0L593.8,946.0L594.3,946.0L594.8,946.0L595.3,946.0L595.8,946.0L596.3,946.0L596.8,946.0L597.3,946.0L597.8,946.0L598.3,946.0L598.8,946.0L599.3,946.0L599.8,946.0L600.3,946.0L600.4,946.0" fill="none" stroke="#E50E12" stroke-width="3.0" stroke-linejoin="round" stroke-linecap="butt"/>
<path d="M251.2,983.2L251.7,983.2L252.2,983.3L252.7,983.3L253.2,983.3L253.7,983.3L254.2,983.4L254.7,983.4L255.2,983.4L255.7,983.5L256.2,983.5L256.7,983.5L257.2,983.6L257.7,983.6L258.2,983.7L258.7,983.7L259.2,983.7L259.7,983.8L260.2,983.8L260.7,983.9L261.2,983.9L261.7,983.9L262.2,984.0L262.7,984.0L263.2,984.1L263.7,984.1L264.2,984.1L264.7,984.2L265.2,984.2L265.7,984.3L266.2,984.3L266.7,984.4L267.2,984.4L267.7,984.5L268.2,984.5L268.7,984.6L269.2,984.6L269.7,984.7L270.2,984.8L270.7,984.8L271.2,984.9L271.7,985.0L272.2,985.0L272.7,985.1L273.2,985.2L273.7,985.3L274.2,985.4L274.7,985.5L275.2,985.6L275.7,985.8L276.2,985.9L276.7,986.1L277.2,986.2L277.7,986.4L278.2,986.6L278.7,986.8L279.2,987.0L279.7,987.2L280.2,987.4L280.7,987.7L281.2,987.9L281.7,988.2L282.2,988.4L282.7,988.7L283.2,989.1L283.7,989.5L284.2,989.8L284.7,990.2L285.2,990.7L285.7,991.1L286.2,991.5L286.7,991.9L287.2,992.4L287.7,992.8L288.2,993.2L288.7,993.6L289.2,994.1L289.7,994.6L290.2,995.0L290.7,995.5L291.2,996.0L291.7,996.3L292.2,996.7L292.7,996.9L293.2,997.1L293.7,997.3L294.2,997.4L294.7,997.5L295.2,997.7L295.7,997.8L296.2,997.9L296.7,998.0L297.2,998.1L297.7,998.1L298.2,998.2L298.7,998.3L299.2,998.4L299.7,998.4L300.2,998.5L300.7,998.6L301.2,998.6L301.7,998.7L302.2,998.7L302.7,998.8L303.2,998.8L303.7,998.9L304.2,998.9L304.7,999.0L305.2,999.0L305.7,999.1L306.2,999.1L306.7,999.1L307.2,999.2L307.7,999.2L308.2,999.3L308.7,999.3L309.2,999.3L309.7,999.4L310.2,999.4L310.7,999.4L311.2,999.5L311.7,999.5L312.2,999.5L312.7,999.6L313.2,999.6L313.7,999.6L314.2,999.7L314.7,999.7L315.2,999.7L315.7,999.7L316.2,999.8L316.7,999.8L317.2,999.8L317.7,999.9L318.2,999.9L318.7,999.9L319.2,999.9L319.7,1000.0L320.2,1000.0L320.7,1000.0L321.2,1000.0L321.7,1000.1L322.2,1000.1L322.7,1000.1L323.2,1000.2L323.7,1000.2L324.2,1000.2L324.7,1000.2L325.2,1000.3L325.7,1000.3L326.2,1000.3L326.7,1000.4L327.2,1000.4L327.7,1000.4L328.2,1000.4L328.7,1000.5L329.2,1000.5L329.7,1000.5L330.2,1000.6L330.7,1000.6L331.2,1000.6L331.7,1000.7L332.2,1000.7L332.7,1000.7L333.2,1000.8L333.7,1000.8L334.2,1000.8L334.7,1000.9L335.2,1000.9L335.7,1000.9L336.2,1001.0L336.7,1001.0L337.2,1001.0L337.7,1001.1L338.2,1001.1L338.7,1001.1L339.2,1001.2L339.7,1001.2L340.2,1001.2L340.7,1001.2L341.2,1001.3L341.7,1001.3L342.2,1001.3L342.7,1001.4L343.2,1001.4L343.7,1001.4L344.2,1001.4L344.7,1001.5L345.2,1001.5L345.7,1001.5L346.2,1001.6L346.7,1001.6L347.2,1001.6L347.7,1001.6L348.2,1001.6L348.7,1001.7L349.2,1001.7L349.7,1001.7L350.2,1001.7L350.7,1001.7L351.2,1001.8L351.7,1001.8L352.2,1001.8L352.7,1001.8L353.2,1001.8L353.7,1001.8L354.2,1001.9L354.7,1001.9L355.2,1001.9L355.7,1001.9L356.2,1001.9L356.7,1001.9L357.2,1001.9L357.7,1001.9L358.2,1001.9L358.7,1001.9L359.2,1001.9L359.7,1001.9L360.2,1001.9L360.7,1001.9L361.2,1001.9L361.7,1001.9L362.2,1001.9L362.7,1001.9L363.2,1001.9L363.7,1001.9L364.2,1001.9L364.7,1001.9L365.2,1001.9L365.7,1001.9L366.2,1001.9L366.7,1001.8L367.2,1001.8L367.7,1001.8L368.2,1001.8L368.7,1001.8L369.2,1001.8L369.7,1001.8L370.2,1001.8L370.7,1001.8L371.2,1001.8L371.7,1001.8L372.2,1001.7L372.7,1001.7L373.2,1001.7L373.7,1001.7L374.2,1001.7L374.7,1001.7L375.2,1001.7L375.7,1001.7L376.2,1001.7L376.7,1001.6L377.2,1001.6L377.7,1001.6L378.2,1001.6L378.7,1001.6L379.2,1001.6L379.7,1001.5L380.2,1001.5L380.7,1001.5L381.2,1001.5L381.7,1001.5L382.2,1001.5L382.7,1001.4L383.2,1001.4L383.7,1001.4L384.2,1001.4L384.7,1001.4L385.2,1001.4L385.7,1001.3L386.2,1001.3L386.7,1001.3L387.2,1001.3L387.7,1001.3L388.2,1001.2L388.7,1001.2L389.2,1001.2L389.7,1001.2L390.2,1001.2L390.7,1001.1L391.2,1001.1L391.7,1001.1L392.2,1001.1L392.7,1001.0L393.2,1001.0L393.7,1001.0L394.2,1000.9L394.7,1000.9L395.2,1000.8L395.7,1000.8L396.2,1000.7L396.7,1000.7L397.2,1000.6L397.7,1000.6L398.2,1000.5L398.7,1000.4L399.2,1000.4L399.7,1000.3L400.2,1000.2L400.7,1000.1L401.2,1000.1L401.7,1000.0L402.2,999.9L402.7,999.8L403.2,999.7L403.7,999.6L404.2,999.5L404.7,999.4L405.2,999.4L405.7,999.3L406.2,999.2L406.7,999.1L407.2,999.0L407.7,998.9L408.2,998.8L408.7,998.6L409.2,998.5L409.7,998.4L410.2,998.3L410.7,998.2L411.2,998.1L411.7,998.0L412.2,997.9L412.7,997.8L413.2,997.7L413.7,997.6L414.2,997.4L414.7,997.3L415.2,997.2L415.7,997.1L416.2,997.0L416.7,996.9L417.2,996.7L417.7,996.6L418.2,996.4L418.7,996.3L419.2,996.1L419.7,995.9L420.2,995.8L420.7,995.6L421.2,995.5L421.7,995.3L422.2,995.2L422.7,995.1L423.2,995.0L423.7,994.9L424.2,994.8L424.7,994.7L425.2,994.6L425.7,994.5L426.2,994.4L426.7,994.3L427.2,994.2L427.7,994.1L428.2,994.0L428.7,994.0L429.2,993.9L429.7,993.9L430.2,993.9L430.7,993.9L431.2,993.9L431.7,994.0L432.2,994.0L432.7,994.1L433.2,994.1L433.7,994.2L434.2,994.3L434.7,994.4L435.2,994.6L435.7,994.8L436.2,995.0L436.7,995.2L437.2,995.5L437.7,995.8L438.2,996.1L438.7,996.3L439.2,996.6L439.7,996.9L440.2,997.1L440.7,997.3L441.2,997.6L441.7,997.8L442.2,998.0L442.7,998.3L443.2,998.5L443.7,998.8L444.2,999.0L444.7,999.3L445.2,999.5L445.7,999.8L445.8,999.8" fill="none" stroke="#0808D8" stroke-width="3.0" stroke-linejoin="round" stroke-linecap="butt"/>
<path d="M252.4,865.8L252.9,865.8L253.4,865.8L253.9,865.9L254.4,865.9L254.9,865.9L255.4,865.9L255.9,865.9L256.4,866.0L256.9,866.0L257.4,866.0L257.9,866.0L258.4,866.1L258.9,866.1L259.4,866.1L259.9,866.1L260.4,866.1L260.9,866.2L261.4,866.2L261.9,866.2L262.4,866.3L262.9,866.3L263.4,866.3L263.9,866.3L264.4,866.4L264.9,866.4L265.4,866.4L265.9,866.5L266.4,866.5L266.9,866.5L267.4,866.5L267.9,866.6L268.4,866.6L268.9,866.6L269.4,866.7L269.9,866.7L270.4,866.7L270.9,866.8L271.4,866.8L271.9,866.8L272.4,866.9L272.9,866.9L273.4,866.9L273.9,867.0L274.4,867.0L274.9,867.0L275.4,867.1L275.9,867.1L276.4,867.1L276.9,867.2L277.4,867.2L277.9,867.2L278.4,867.3L278.9,867.3L279.4,867.4L279.9,867.4L280.4,867.4L280.9,867.5L281.4,867.5L281.9,867.5L282.4,867.6L282.9,867.6L283.4,867.6L283.9,867.7L284.4,867.7L284.9,867.8L285.4,867.8L285.9,867.8L286.4,867.9L286.9,867.9L287.4,868.0L287.9,868.0L288.4,868.0L288.9,868.1L289.4,868.1L289.9,868.2L290.4,868.2L290.9,868.2L291.4,868.3L291.9,868.3L292.4,868.4L292.9,868.4L293.4,868.5L293.9,868.5L294.4,868.6L294.9,868.6L295.4,868.7L295.9,868.7L296.4,868.8L296.9,868.8L297.4,868.9L297.9,868.9L298.4,869.0L298.9,869.1L299.4,869.1L299.9,869.2L300.4,869.3L300.9,869.3L301.4,869.4L301.9,869.5L302.4,869.6L302.9,869.6L303.4,869.7L303.9,869.8L304.4,869.9L304.9,870.0L305.4,870.1L305.9,870.2L306.4,870.3L306.9,870.4L307.4,870.5L307.9,870.6L308.4,870.7L308.9,870.9L309.4,871.0L309.9,871.1L310.4,871.2L310.9,871.3L311.4,871.4L311.9,871.6L312.4,871.7L312.9,871.9L313.4,872.0L313.9,872.2L314.4,872.3L314.9,872.5L315.4,872.6L315.9,872.8L316.4,873.0L316.9,873.1L317.4,873.3L317.9,873.5L318.4,873.6L318.9,873.8L319.4,874.0L319.9,874.1L320.4,874.3L320.9,874.5L321.4,874.6L321.9,874.8L322.4,875.0L322.9,875.1L323.4,875.3L323.9,875.5L324.4,875.6L324.9,875.8L325.4,876.0L325.9,876.1L326.4,876.3L326.9,876.5L327.4,876.7L327.9,876.8L328.4,877.0L328.9,877.2L329.4,877.4L329.9,877.6L330.4,877.7L330.9,877.9L331.4,878.1L331.9,878.3L332.4,878.5L332.9,878.7L333.4,878.9L333.9,879.0L334.4,879.2L334.9,879.4L335.4,879.6L335.9,879.8L336.4,880.0L336.9,880.2L337.4,880.4L337.9,880.6L338.4,880.8L338.9,881.0L339.4,881.2L339.9,881.4L340.4,881.6L340.9,881.8L341.4,882.1L341.9,882.3L342.4,882.5L342.9,882.7L343.4,882.9L343.9,883.1L344.4,883.3L344.9,883.6L345.4,883.8L345.9,884.0L346.4,884.2L346.9,884.5L347.4,884.7L347.9,884.9L348.4,885.2L348.9,885.4L349.4,885.6L349.9,885.9L350.4,886.1L350.9,886.4L351.4,886.6L351.9,886.8L352.4,887.1L352.9,887.4L353.4,887.6L353.9,887.9L354.4,888.1L354.9,888.4L355.4,888.6L355.9,888.9L356.4,889.2L356.9,889.4L357.4,889.7L357.9,890.0L358.4,890.3L358.9,890.6L359.4,890.8L359.9,891.1L360.4,891.4L360.9,891.7L361.4,892.0L361.9,892.3L362.4,892.6L362.9,892.9L363.4,893.2L363.9,893.6L364.4,893.9L364.9,894.2L365.4,894.5L365.9,894.9L366.4,895.2L366.9,895.6L367.4,895.9L367.9,896.3L368.4,896.6L368.9,897.0L369.4,897.3L369.9,897.7L370.4,898.1L370.9,898.5L371.4,898.8L371.9,899.2L372.4,899.6L372.9,900.0L373.4,900.4L373.9,900.8L374.4,901.2L374.9,901.7L375.4,902.1L375.9,902.5L376.4,903.0L376.9,903.4L377.4,903.9L377.9,904.3L378.4,904.8L378.9,905.2L379.4,905.7L379.9,906.2L380.4,906.7L380.9,907.1L381.4,907.6L381.9,908.1L382.4,908.6L382.9,909.1L383.4,909.6L383.9,910.1L384.4,910.6L384.9,911.1L385.4,911.6L385.9,912.2L386.4,912.7L386.9,913.2L387.4,913.8L387.9,914.3L388.4,914.9L388.9,915.4L389.4,916.0L389.9,916.5L390.4,917.1L390.9,917.7L391.4,918.3L391.9,918.8L392.4,919.4L392.9,920.0L393.4,920.6L393.9,921.2L394.4,921.8L394.9,922.4L395.4,923.1L395.9,923.7L396.4,924.3L396.9,924.9L397.4,925.6L397.9,926.2L398.4,926.9L398.9,927.5L399.4,928.2L399.9,928.9L400.4,929.5L400.9,930.2L401.4,930.9L401.9,931.6L402.4,932.2L402.9,932.9L403.4,933.6L403.9,934.3L404.4,935.0L404.9,935.7L405.4,936.4L405.9,937.2L406.4,937.9L406.9,938.6L407.4,939.4L407.9,940.1L408.4,940.9L408.9,941.6L409.4,942.4L409.9,943.1L410.4,943.9L410.9,944.7L411.4,945.4L411.9,946.2L412.4,947.0L412.9,947.8L413.4,948.6L413.9,949.3L414.4,950.1L414.9,950.9L415.4,951.7L415.9,952.5L416.4,953.4L416.9,954.2L417.4,955.0L417.9,955.8L418.4,956.7L418.9,957.5L419.4,958.3L419.9,959.2L420.4,960.0L420.9,960.8L421.4,961.7L421.9,962.5L422.4,963.3L422.9,964.1L423.4,964.9L423.9,965.8L424.4,966.6L424.9,967.4L425.4,968.3L425.9,969.1L426.4,970.0L426.9,970.9L427.4,971.8L427.9,972.7L428.4,973.6L428.9,974.6L429.4,975.7L429.9,976.7L430.4,977.8L430.9,978.9L431.4,979.9L431.9,981.0L432.4,982.1L432.9,983.1L433.4,984.1L433.9,985.1L434.4,986.1L434.9,986.9L435.4,987.7L435.9,988.5L436.4,989.2L436.9,989.9L437.4,990.6L437.9,991.2L438.4,991.8L438.9,992.4L439.4,993.0L439.9,993.6L440.4,994.2L440.9,994.8L441.4,995.3L441.9,995.9L442.4,996.5L442.9,997.0L443.4,997.6L443.9,998.1L444.4,998.6L444.9,999.0L445.4,999.5L445.9,999.9L446.4,1000.3L446.9,1000.6L447.4,1001.0L447.9,1001.4L448.4,1001.7L448.9,1002.1L449.4,1002.4L449.9,1002.8L450.4,1003.1L450.9,1003.4L451.4,1003.8L451.9,1004.1L452.4,1004.4L452.9,1004.6L453.4,1004.9L453.9,1005.2L454.4,1005.4L454.9,1005.6L455.4,1005.8L455.9,1006.0L456.4,1006.2L456.9,1006.4L457.4,1006.5L457.9,1006.6L458.4,1006.8L458.9,1006.9L459.4,1007.0L459.9,1007.1L460.4,1007.2L460.9,1007.4L461.4,1007.5L461.9,1007.6L462.4,1007.7L462.9,1007.8L463.4,1007.9L463.9,1008.0L464.4,1008.0L464.9,1008.1L465.4,1008.2L465.9,1008.3L466.4,1008.4L466.9,1008.5L467.4,1008.5L467.9,1008.6L468.4,1008.7L468.9,1008.7L469.4,1008.8L469.9,1008.8L470.4,1008.9L470.9,1008.9L471.4,1009.0L471.9,1009.0L472.4,1009.1L472.9,1009.1L473.4,1009.1L473.9,1009.2L474.4,1009.2L474.9,1009.2L475.4,1009.2L475.9,1009.2L476.4,1009.3L476.9,1009.3L477.4,1009.3L477.9,1009.3L478.4,1009.3L478.9,1009.3L479.4,1009.3L479.9,1009.4L480.4,1009.4L480.9,1009.4L481.4,1009.4L481.9,1009.4L482.4,1009.4L482.9,1009.4L483.4,1009.4L483.9,1009.4L484.4,1009.5L484.9,1009.5L485.4,1009.5L485.9,1009.5L486.4,1009.5L486.9,1009.5L487.4,1009.5L487.9,1009.5L488.4,1009.5L488.9,1009.5L489.4,1009.5L489.9,1009.5L490.4,1009.6L490.9,1009.6L491.4,1009.6L491.9,1009.6L492.4,1009.6L492.9,1009.6L493.4,1009.6L493.9,1009.6L494.4,1009.6L494.9,1009.6L495.4,1009.6L495.9,1009.6L496.4,1009.6L496.9,1009.6L497.4,1009.7L497.9,1009.7L498.4,1009.7L498.9,1009.7L499.4,1009.7L499.9,1009.7L500.4,1009.7L500.9,1009.7L501.4,1009.7L501.9,1009.7L502.4,1009.7L502.9,1009.7L503.4,1009.8L503.9,1009.8L504.4,1009.8L504.9,1009.8L505.4,1009.8L505.9,1009.8L506.4,1009.8L506.9,1009.8L507.4,1009.8L507.9,1009.8L508.4,1009.8L508.9,1009.9L509.4,1009.9L509.9,1009.9L510.4,1009.9L510.9,1009.9L511.4,1009.9L511.9,1009.9L512.4,1009.9L512.9,1009.9L513.4,1009.9L513.9,1009.9L514.4,1009.9L514.9,1010.0L515.4,1010.0L515.9,1010.0L516.4,1010.0L516.9,1010.0L517.4,1010.0L517.9,1010.0L518.4,1010.0L518.9,1010.0L519.4,1010.0L519.9,1010.0L520.4,1010.0L520.9,1010.1L521.4,1010.1L521.9,1010.1L522.4,1010.1L522.9,1010.1L523.4,1010.1L523.9,1010.1L524.4,1010.1L524.9,1010.1L525.4,1010.1L525.9,1010.1L526.4,1010.1L526.9,1010.2L527.4,1010.2L527.9,1010.2L528.4,1010.2L528.9,1010.2L529.4,1010.2L529.9,1010.2L530.4,1010.2L530.9,1010.2L531.4,1010.2L531.9,1010.2L532.4,1010.2L532.9,1010.2L533.4,1010.3L533.9,1010.3L534.4,1010.3L534.9,1010.3L535.4,1010.3L535.9,1010.3L536.4,1010.3L536.9,1010.3L537.4,1010.3L537.9,1010.3L538.4,1010.3L538.9,1010.3L539.4,1010.3L539.9,1010.3L540.4,1010.4L540.9,1010.4L541.4,1010.4L541.9,1010.4L542.4,1010.4L542.9,1010.4L543.4,1010.4L543.7,1010.4" fill="none" stroke="#E50E12" stroke-width="3.0" stroke-linejoin="round" stroke-linecap="butt"/>
<path d="M180.4,1054.8L180.9,1054.9L181.4,1055.0L181.9,1055.1L182.4,1055.2L182.9,1055.3L183.4,1055.5L183.9,1055.6L184.4,1055.7L184.9,1055.8L185.4,1055.9L185.9,1056.0L186.4,1056.1L186.9,1056.2L187.4,1056.3L187.9,1056.4L188.4,1056.5L188.9,1056.6L189.4,1056.7L189.9,1056.8L190.4,1056.9L190.9,1057.0L191.4,1057.1L191.9,1057.2L192.4,1057.3L192.9,1057.3L193.4,1057.4L193.9,1057.5L194.4,1057.6L194.9,1057.7L195.4,1057.8L195.9,1057.9L196.4,1058.0L196.9,1058.0L197.4,1058.1L197.9,1058.2L198.4,1058.3L198.9,1058.3L199.4,1058.4L199.9,1058.5L200.4,1058.6L200.9,1058.6L201.4,1058.7L201.9,1058.8L202.4,1058.9L202.9,1058.9L203.4,1059.0L203.9,1059.1L204.4,1059.2L204.9,1059.2L205.4,1059.3L205.9,1059.4L206.4,1059.5L206.9,1059.5L207.4,1059.6L207.9,1059.7L208.4,1059.8L208.9,1059.8L209.4,1059.9L209.9,1060.0L210.4,1060.0L210.9,1060.1L211.4,1060.2L211.9,1060.2L212.4,1060.3L212.9,1060.4L213.4,1060.4L213.9,1060.5L214.4,1060.5L214.9,1060.6L215.4,1060.7L215.9,1060.7L216.4,1060.8L216.9,1060.8L217.4,1060.9L217.9,1060.9L218.4,1061.0L218.9,1061.0L219.4,1061.1L219.9,1061.1L220.4,1061.2L220.9,1061.2L221.4,1061.2L221.9,1061.3L222.4,1061.3L222.9,1061.3L223.4,1061.4L223.9,1061.4L224.4,1061.4L224.9,1061.4L225.4,1061.5L225.9,1061.5L226.4,1061.5L226.9,1061.5L227.4,1061.5L227.9,1061.6L228.4,1061.6L228.9,1061.6L229.4,1061.6L229.9,1061.6L230.4,1061.7L230.9,1061.7L231.4,1061.7L231.9,1061.7L232.4,1061.7L232.9,1061.8L233.4,1061.8L233.9,1061.8L234.4,1061.8L234.9,1061.8L235.4,1061.9L235.9,1061.9L236.4,1061.9L236.9,1061.9L237.4,1061.9L237.9,1061.9L238.4,1061.9L238.9,1062.0L239.4,1062.0L239.9,1062.0L240.4,1062.0L240.9,1062.0L241.4,1062.0L241.9,1062.0L242.4,1062.0L242.9,1062.0L243.4,1062.1L243.9,1062.1L244.4,1062.1L244.9,1062.1L245.4,1062.1L245.9,1062.1L246.4,1062.1L246.9,1062.1L247.4,1062.1L247.9,1062.1L248.4,1062.1L248.9,1062.1L249.4,1062.1L249.9,1062.1L250.4,1062.0L250.9,1062.0L251.4,1061.9L251.9,1061.9L252.4,1061.8L252.9,1061.8L253.4,1061.7L253.9,1061.6L254.4,1061.6L254.9,1061.5L255.4,1061.4L255.9,1061.3L256.4,1061.3L256.9,1061.2L257.4,1061.2L257.9,1061.1L258.4,1061.1L258.9,1061.0L259.4,1061.0L259.9,1061.0L260.4,1061.0L260.9,1061.0L261.4,1061.0L261.9,1061.0L262.4,1061.0L262.9,1061.0L263.4,1061.0L263.9,1061.0L264.4,1061.0L264.9,1061.0L265.4,1061.1L265.9,1061.1L266.4,1061.1L266.9,1061.1L267.4,1061.1L267.9,1061.1L268.4,1061.1L268.9,1061.1L269.4,1061.1L269.9,1061.1L270.4,1061.1L270.9,1061.1L271.4,1061.2L271.9,1061.2L272.4,1061.2L272.9,1061.2L273.4,1061.2L273.9,1061.2L274.4,1061.2L274.9,1061.2L275.4,1061.2L275.9,1061.2L276.4,1061.2L276.9,1061.2L277.4,1061.2L277.9,1061.2L278.4,1061.2L278.9,1061.2L279.4,1061.2L279.9,1061.1L280.4,1061.1L280.9,1061.1L281.4,1061.1L281.9,1061.1L282.4,1061.0L282.9,1061.0L283.4,1061.0L283.9,1061.0L284.4,1060.9L284.9,1060.9L285.4,1060.9L285.9,1060.8L286.4,1060.8L286.9,1060.8L287.4,1060.7L287.9,1060.7L288.4,1060.7L288.9,1060.6L289.4,1060.6L289.9,1060.6L290.4,1060.5L290.9,1060.5L291.4,1060.4L291.9,1060.4L292.4,1060.3L292.9,1060.3L293.4,1060.3L293.9,1060.2L294.4,1060.2L294.9,1060.1L295.4,1060.0L295.9,1060.0L296.4,1059.9L296.9,1059.8L297.4,1059.7L297.9,1059.7L298.4,1059.6L298.9,1059.5L299.4,1059.4L299.9,1059.3L300.4,1059.2L300.9,1059.1L301.4,1059.0L301.9,1058.9L302.4,1058.8L302.9,1058.6L303.4,1058.5L303.9,1058.4L304.4,1058.3L304.9,1058.2L305.4,1058.0L305.9,1057.9L306.4,1057.8L306.9,1057.7L307.4,1057.5L307.9,1057.4L308.4,1057.2L308.9,1057.1L309.4,1057.0L309.9,1056.8L310.4,1056.7L310.9,1056.5L311.4,1056.4L311.9,1056.2L312.4,1056.0L312.9,1055.8L313.4,1055.7L313.9,1055.5L314.4,1055.3L314.9,1055.1L315.4,1054.8L315.9,1054.6L316.4,1054.4L316.9,1054.2L317.4,1053.9L317.9,1053.7L318.4,1053.4L318.9,1053.2L319.4,1052.9L319.9,1052.6L320.4,1052.3L320.9,1052.0L321.4,1051.7L321.9,1051.4L322.4,1051.0L322.9,1050.6L323.4,1050.2L323.9,1049.8L324.4,1049.4L324.9,1048.9L325.4,1048.4L325.9,1047.9L326.4,1047.5L326.9,1046.9L327.4,1046.4L327.9,1045.9L328.4,1045.4L328.9,1044.9L329.4,1044.3L329.9,1043.8L330.4,1043.3L330.9,1042.8L331.4,1042.3L331.9,1041.7L332.4,1041.2L332.9,1040.6L333.4,1040.0L333.9,1039.5L334.4,1038.9L334.9,1038.3L335.4,1037.7L335.9,1037.1L336.4,1036.5L336.9,1035.9L337.4,1035.3L337.9,1034.7L338.4,1034.1L338.9,1033.5L339.4,1032.9L339.9,1032.3L340.4,1031.7L340.9,1031.2L341.4,1030.6L341.9,1030.0L342.4,1029.4L342.9,1028.8L343.4,1028.3L343.9,1027.7L344.4,1027.1L344.9,1026.5L345.4,1025.9L345.9,1025.3L346.4,1024.8L346.9,1024.2L347.4,1023.7L347.9,1023.2L348.4,1022.7L348.9,1022.2L349.4,1021.7L349.9,1021.2L350.4,1020.8L350.9,1020.4L351.4,1019.9L351.9,1019.5L352.4,1019.0L352.9,1018.5L353.4,1018.1L353.9,1017.6L354.4,1017.2L354.9,1016.8L355.4,1016.4L355.9,1016.0L356.4,1015.7L356.9,1015.5L357.4,1015.3L357.9,1015.2L358.4,1015.1L358.9,1015.1L359.4,1015.1L359.9,1015.1L360.4,1015.2L360.9,1015.2L361.4,1015.3L361.9,1015.3L362.4,1015.4L362.9,1015.5L363.4,1015.6L363.9,1015.6L364.4,1015.7L364.9,1015.8L365.4,1015.9L365.9,1016.1L366.4,1016.4L366.9,1016.7L367.4,1017.0L367.9,1017.5L368.4,1017.9L368.9,1018.4L369.4,1018.9L369.9,1019.5L370.4,1020.1L370.9,1020.6L371.4,1021.2L371.9,1021.8L372.4,1022.5L372.9,1023.2L373.4,1023.9L373.9,1024.8L374.4,1025.6L374.9,1026.6L375.4,1027.5L375.9,1028.5L376.4,1029.5L376.9,1030.5L377.4,1031.5L377.9,1032.5L378.4,1033.4L378.9,1034.4L379.4,1035.3L379.9,1036.2L380.4,1037.1L380.9,1037.9L381.4,1038.8L381.9,1039.6L382.4,1040.4L382.9,1041.3L383.4,1042.1L383.9,1042.9L384.4,1043.7L384.9,1044.5L385.4,1045.4L385.9,1046.2L386.4,1047.0L386.9,1047.8L387.4,1048.6L387.9,1049.5L388.4,1050.3L388.9,1051.2L389.4,1052.0L389.9,1052.9L390.4,1053.8L390.9,1054.7L391.4,1055.6L391.9,1056.5L392.4,1057.5L392.9,1058.4L393.4,1059.3L393.9,1060.3L394.4,1061.3L394.9,1062.2L395.4,1063.2L395.9,1064.1L396.4,1065.1L396.9,1066.0L397.4,1066.9L397.9,1067.8L398.4,1068.7L398.9,1069.6L399.4,1070.5L399.9,1071.3L400.4,1072.2L400.9,1073.1L401.4,1074.0L401.9,1074.9L402.4,1075.8L402.9,1076.7L403.4,1077.5L403.9,1078.4L404.4,1079.2L404.9,1080.0L405.4,1080.8L405.9,1081.5L406.4,1082.2L406.9,1082.9L407.4,1083.5L407.9,1084.0L408.4,1084.5L408.9,1085.0L409.4,1085.4L409.9,1085.8L410.4,1086.2L410.9,1086.6L411.4,1087.0L411.9,1087.4L412.4,1087.7L412.9,1088.1L413.4,1088.4L413.9,1088.7L414.4,1089.0L414.9,1089.3L415.4,1089.5L415.9,1089.8L416.4,1090.0L416.9,1090.2L417.4,1090.4L417.9,1090.6L418.4,1090.8L418.9,1091.0L419.4,1091.1L419.9,1091.3L420.4,1091.4L420.9,1091.6L421.4,1091.7L421.9,1091.9L422.4,1092.0L422.9,1092.2L423.4,1092.3L423.9,1092.5L424.4,1092.6L424.9,1092.7L425.4,1092.9L425.9,1093.0L426.4,1093.2L426.9,1093.3L427.4,1093.4L427.9,1093.6L428.4,1093.7L428.9,1093.8L429.4,1094.0L429.9,1094.1L430.0,1094.1" fill="none" stroke="#0808D8" stroke-width="3.0" stroke-linejoin="round" stroke-linecap="butt"/>
<path d="M180.4,905.6L180.9,905.6L181.4,905.6L181.9,905.6L182.4,905.6L182.9,905.6L183.4,905.6L183.9,905.6L184.4,905.6L184.9,905.6L185.4,905.6L185.9,905.6L186.4,905.7L186.9,905.7L187.4,905.7L187.9,905.7L188.4,905.7L188.9,905.7L189.4,905.7L189.9,905.7L190.4,905.8L190.9,905.8L191.4,905.8L191.9,905.8L192.4,905.8L192.9,905.8L193.4,905.9L193.9,905.9L194.4,905.9L194.9,905.9L195.4,905.9L195.9,906.0L196.4,906.0L196.9,906.0L197.4,906.0L197.9,906.0L198.4,906.1L198.9,906.1L199.4,906.1L199.9,906.1L200.4,906.2L200.9,906.2L201.4,906.2L201.9,906.3L202.4,906.3L202.9,906.3L203.4,906.3L203.9,906.4L204.4,906.4L204.9,906.4L205.4,906.5L205.9,906.5L206.4,906.5L206.9,906.6L207.4,906.6L207.9,906.6L208.4,906.6L208.9,906.7L209.4,906.7L209.9,906.7L210.4,906.8L210.9,906.8L211.4,906.9L211.9,906.9L212.4,906.9L212.9,907.0L213.4,907.0L213.9,907.1L214.4,907.1L214.9,907.2L215.4,907.2L215.9,907.3L216.4,907.3L216.9,907.4L217.4,907.5L217.9,907.5L218.4,907.6L218.9,907.7L219.4,907.8L219.9,907.9L220.4,908.0L220.9,908.0L221.4,908.1L221.9,908.2L222.4,908.3L222.9,908.4L223.4,908.5L223.9,908.6L224.4,908.7L224.9,908.8L225.4,908.9L225.9,909.1L226.4,909.2L226.9,909.3L227.4,909.4L227.9,909.5L228.4,909.6L228.9,909.8L229.4,909.9L229.9,910.0L230.4,910.1L230.9,910.2L231.4,910.4L231.9,910.5L232.4,910.6L232.9,910.7L233.4,910.9L233.9,911.0L234.4,911.1L234.9,911.3L235.4,911.4L235.9,911.5L236.4,911.6L236.9,911.8L237.4,911.9L237.9,912.0L238.4,912.2L238.9,912.3L239.4,912.5L239.9,912.6L240.4,912.8L240.9,912.9L241.4,913.1L241.9,913.3L242.4,913.4L242.9,913.6L243.4,913.8L243.9,913.9L244.4,914.1L244.9,914.3L245.4,914.5L245.9,914.7L246.4,914.9L246.9,915.0L247.4,915.2L247.9,915.4L248.4,915.6L248.9,915.8L249.4,916.0L249.9,916.2L250.4,916.4L250.9,916.6L251.4,916.8L251.9,917.0L252.4,917.2L252.9,917.4L253.4,917.7L253.9,917.9L254.4,918.1L254.9,918.3L255.4,918.5L255.9,918.7L256.4,918.9L256.9,919.2L257.4,919.4L257.9,919.6L258.4,919.8L258.9,920.0L259.4,920.2L259.9,920.5L260.4,920.7L260.9,920.9L261.4,921.1L261.9,921.3L262.4,921.6L262.9,921.8L263.4,922.0L263.9,922.3L264.4,922.5L264.9,922.7L265.4,923.0L265.9,923.2L266.4,923.5L266.9,923.7L267.4,924.0L267.9,924.2L268.4,924.5L268.9,924.7L269.4,925.0L269.9,925.3L270.4,925.5L270.9,925.8L271.4,926.0L271.9,926.3L272.4,926.6L272.9,926.9L273.4,927.1L273.9,927.4L274.4,927.7L274.9,928.0L275.4,928.2L275.9,928.5L276.4,928.8L276.9,929.1L277.4,929.4L277.9,929.7L278.4,930.0L278.9,930.3L279.4,930.6L279.9,930.9L280.4,931.2L280.9,931.5L281.4,931.8L281.9,932.1L282.4,932.4L282.9,932.7L283.4,933.0L283.9,933.4L284.4,933.7L284.9,934.0L285.4,934.3L285.9,934.7L286.4,935.0L286.9,935.3L287.4,935.7L287.9,936.0L288.4,936.3L288.9,936.7L289.4,937.0L289.9,937.4L290.4,937.7L290.9,938.1L291.4,938.4L291.9,938.8L292.4,939.1L292.9,939.5L293.4,939.9L293.9,940.2L294.4,940.6L294.9,940.9L295.4,941.3L295.9,941.7L296.4,942.1L296.9,942.4L297.4,942.8L297.9,943.2L298.4,943.6L298.9,944.0L299.4,944.4L299.9,944.7L300.4,945.1L300.9,945.5L301.4,945.9L301.9,946.3L302.4,946.7L302.9,947.1L303.4,947.5L303.9,948.0L304.4,948.4L304.9,948.8L305.4,949.2L305.9,949.6L306.4,950.1L306.9,950.5L307.4,950.9L307.9,951.4L308.4,951.8L308.9,952.2L309.4,952.7L309.9,953.1L310.4,953.6L310.9,954.0L311.4,954.5L311.9,955.0L312.4,955.4L312.9,955.9L313.4,956.4L313.9,956.8L314.4,957.3L314.9,957.8L315.4,958.3L315.9,958.8L316.4,959.3L316.9,959.8L317.4,960.3L317.9,960.8L318.4,961.3L318.9,961.8L319.4,962.4L319.9,962.9L320.4,963.4L320.9,964.0L321.4,964.6L321.9,965.1L322.4,965.7L322.9,966.3L323.4,966.9L323.9,967.5L324.4,968.1L324.9,968.7L325.4,969.3L325.9,970.0L326.4,970.6L326.9,971.3L327.4,972.0L327.9,972.7L328.4,973.3L328.9,974.0L329.4,974.7L329.9,975.4L330.4,976.2L330.9,976.9L331.4,977.6L331.9,978.3L332.4,979.0L332.9,979.8L333.4,980.5L333.9,981.3L334.4,982.0L334.9,982.8L335.4,983.5L335.9,984.3L336.4,985.1L336.9,985.9L337.4,986.7L337.9,987.5L338.4,988.3L338.9,989.1L339.4,990.0L339.9,990.9L340.4,991.7L340.9,992.6L341.4,993.6L341.9,994.5L342.4,995.5L342.9,996.5L343.4,997.5L343.9,998.6L344.4,999.6L344.9,1000.7L345.4,1001.7L345.9,1002.7L346.4,1003.8L346.9,1004.8L347.4,1005.8L347.9,1006.8L348.4,1007.8L348.9,1008.8L349.4,1009.8L349.9,1010.8L350.4,1011.8L350.9,1012.8L351.4,1013.8L351.9,1014.8L352.4,1015.8L352.9,1016.8L353.4,1017.8L353.9,1018.8L354.4,1019.8L354.9,1020.8L355.4,1021.8L355.9,1022.8L356.4,1023.9L356.9,1024.9L357.4,1025.9L357.9,1026.9L358.4,1027.9L358.9,1028.9L359.4,1029.9L359.9,1030.9L360.4,1031.9L360.9,1032.9L361.4,1033.8L361.9,1034.8L362.4,1035.7L362.9,1036.7L363.4,1037.6L363.9,1038.6L364.4,1039.5L364.9,1040.4L365.4,1041.3L365.9,1042.2L366.4,1043.1L366.9,1044.0L367.4,1044.9L367.9,1045.8L368.4,1046.7L368.9,1047.6L369.4,1048.4L369.9,1049.3L370.4,1050.1L370.9,1050.9L371.4,1051.8L371.9,1052.6L372.4,1053.4L372.9,1054.2L373.4,1055.0L373.9,1055.8L374.4,1056.6L374.9,1057.4L375.4,1058.2L375.9,1059.0L376.4,1059.7L376.9,1060.5L377.4,1061.2L377.9,1062.0L378.4,1062.7L378.9,1063.4L379.4,1064.2L379.9,1064.9L380.4,1065.6L380.9,1066.4L381.4,1067.1L381.9,1067.8L382.4,1068.5L382.9,1069.2L383.4,1069.9L383.9,1070.6L384.4,1071.3L384.9,1072.0L385.4,1072.6L385.9,1073.2L386.4,1073.9L386.9,1074.4L387.4,1075.0L387.9,1075.6L388.4,1076.1L388.9,1076.6L389.4,1077.1L389.9,1077.7L390.4,1078.2L390.9,1078.6L391.4,1079.1L391.9,1079.6L392.4,1080.1L392.9,1080.5L393.4,1081.0L393.9,1081.4L394.4,1081.9L394.9,1082.3L395.4,1082.7L395.9,1083.1L396.4,1083.5L396.9,1083.9L397.4,1084.2L397.9,1084.6L398.4,1084.9L398.9,1085.3L399.4,1085.6L399.9,1085.9L400.4,1086.2L400.9,1086.5L401.4,1086.9L401.9,1087.2L402.4,1087.5L402.9,1087.7L403.4,1088.0L403.9,1088.3L404.4,1088.6L404.9,1088.9L405.4,1089.1L405.9,1089.4L406.4,1089.6L406.9,1089.9L407.4,1090.1L407.9,1090.3L408.4,1090.5L408.9,1090.7L409.4,1090.9L409.9,1091.1L410.4,1091.3L410.9,1091.4L411.4,1091.6L411.9,1091.7L412.4,1091.8L412.9,1092.0L413.4,1092.1L413.9,1092.2L414.4,1092.3L414.9,1092.5L415.4,1092.6L415.9,1092.7L416.4,1092.8L416.9,1092.9L417.4,1093.0L417.9,1093.1L418.4,1093.2L418.9,1093.3L419.4,1093.4L419.9,1093.5L420.4,1093.6L420.9,1093.6L421.4,1093.7L421.9,1093.8L422.4,1093.8L422.9,1093.9L423.4,1093.9L423.9,1094.0L424.4,1094.0L424.9,1094.0L425.4,1094.1L425.9,1094.1L426.4,1094.1L426.9,1094.1L427.4,1094.2L427.9,1094.2L428.4,1094.2L428.9,1094.2L429.4,1094.3L429.9,1094.3L430.4,1094.3L430.9,1094.3L431.4,1094.3L431.9,1094.3L432.4,1094.4L432.9,1094.4L433.4,1094.4L433.9,1094.4L434.4,1094.4L434.9,1094.4L435.4,1094.4L435.9,1094.5L436.4,1094.5L436.9,1094.5L437.4,1094.5L437.9,1094.5L438.4,1094.5L438.9,1094.5L439.4,1094.5L439.9,1094.5L440.4,1094.5L440.9,1094.5L441.4,1094.5L441.9,1094.5L442.4,1094.5L442.9,1094.5L443.4,1094.5L443.9,1094.5L444.4,1094.5L444.9,1094.5L445.4,1094.5L445.9,1094.5L446.4,1094.5L446.9,1094.5L447.4,1094.5L447.9,1094.5L448.4,1094.5L448.9,1094.5L449.4,1094.5L449.9,1094.5L450.4,1094.5L450.9,1094.5L451.4,1094.5L451.9,1094.5L452.4,1094.5L452.9,1094.5L453.4,1094.5L453.9,1094.5L454.4,1094.5L454.9,1094.5L455.4,1094.5L455.9,1094.5L456.4,1094.5L456.9,1094.5L457.4,1094.5L457.9,1094.5L458.4,1094.5L458.9,1094.5L459.4,1094.5L459.9,1094.5L460.4,1094.5L460.9,1094.4L461.4,1094.4L461.9,1094.4L462.4,1094.4L462.9,1094.4L463.4,1094.4L463.9,1094.4L464.4,1094.4L464.9,1094.4L465.4,1094.4L465.9,1094.4L466.4,1094.4L466.9,1094.4L467.4,1094.4L467.9,1094.4L468.4,1094.4L468.9,1094.4L469.4,1094.4L469.9,1094.4L470.4,1094.3L470.9,1094.3L471.4,1094.3L471.9,1094.3L472.4,1094.3L472.9,1094.3L473.0,1094.3" fill="none" stroke="#E50E12" stroke-width="3.0" stroke-linejoin="round" stroke-linecap="butt"/>
<path d="M106.6,1003.0L107.1,1003.0L107.6,1003.0L108.1,1003.0L108.6,1003.0L109.1,1003.0L109.6,1003.0L110.1,1003.0L110.6,1003.0L111.1,1003.0L111.6,1003.0L112.1,1003.0L112.6,1003.0L113.1,1003.1L113.6,1003.1L114.1,1003.1L114.6,1003.1L115.1,1003.1L115.6,1003.1L116.1,1003.1L116.6,1003.1L117.1,1003.1L117.6,1003.1L118.1,1003.2L118.6,1003.2L119.1,1003.2L119.6,1003.2L120.1,1003.2L120.6,1003.2L121.1,1003.2L121.6,1003.3L122.1,1003.3L122.6,1003.3L123.1,1003.3L123.6,1003.3L124.1,1003.3L124.6,1003.4L125.1,1003.4L125.6,1003.4L126.1,1003.4L126.6,1003.4L127.1,1003.5L127.6,1003.5L128.1,1003.5L128.6,1003.5L129.1,1003.5L129.6,1003.6L130.1,1003.6L130.6,1003.6L131.1,1003.6L131.6,1003.7L132.1,1003.7L132.6,1003.7L133.1,1003.7L133.6,1003.7L134.1,1003.8L134.6,1003.8L135.1,1003.8L135.6,1003.8L136.1,1003.9L136.6,1003.9L137.1,1003.9L137.6,1003.9L138.1,1004.0L138.6,1004.0L139.1,1004.0L139.6,1004.0L140.1,1004.1L140.6,1004.1L141.1,1004.1L141.6,1004.2L142.1,1004.2L142.6,1004.2L143.1,1004.3L143.6,1004.3L144.1,1004.3L144.6,1004.4L145.1,1004.4L145.6,1004.5L146.1,1004.5L146.6,1004.6L147.1,1004.6L147.6,1004.7L148.1,1004.7L148.6,1004.8L149.1,1004.8L149.6,1004.9L150.1,1004.9L150.6,1005.0L151.1,1005.0L151.6,1005.1L152.1,1005.2L152.6,1005.2L153.1,1005.3L153.6,1005.3L154.1,1005.4L154.6,1005.5L155.1,1005.5L155.6,1005.6L156.1,1005.7L156.6,1005.7L157.1,1005.8L157.6,1005.9L158.1,1006.0L158.6,1006.0L159.1,1006.1L159.6,1006.2L160.1,1006.3L160.6,1006.4L161.1,1006.5L161.6,1006.6L162.1,1006.7L162.6,1006.8L163.1,1006.9L163.6,1007.0L164.1,1007.1L164.6,1007.2L165.1,1007.4L165.6,1007.5L166.1,1007.6L166.6,1007.8L167.1,1007.9L167.6,1008.0L168.1,1008.2L168.6,1008.3L169.1,1008.5L169.6,1008.6L170.1,1008.8L170.6,1008.9L171.1,1009.1L171.6,1009.2L172.1,1009.4L172.6,1009.5L173.1,1009.7L173.6,1009.8L174.1,1010.0L174.6,1010.2L175.1,1010.3L175.6,1010.5L176.1,1010.7L176.6,1010.8L177.1,1011.0L177.6,1011.1L178.1,1011.3L178.6,1011.5L179.1,1011.6L179.6,1011.8L180.1,1011.9L180.6,1012.1L181.1,1012.3L181.6,1012.4L182.1,1012.6L182.6,1012.7L183.1,1012.9L183.6,1013.0L184.1,1013.2L184.6,1013.4L185.1,1013.5L185.6,1013.7L186.1,1013.8L186.6,1014.0L187.1,1014.1L187.6,1014.3L188.1,1014.4L188.6,1014.6L189.1,1014.8L189.6,1014.9L190.1,1015.1L190.6,1015.2L191.1,1015.4L191.6,1015.6L192.1,1015.7L192.6,1015.9L193.1,1016.1L193.6,1016.2L194.1,1016.4L194.6,1016.5L195.1,1016.7L195.6,1016.9L196.1,1017.0L196.6,1017.2L197.1,1017.4L197.6,1017.6L198.1,1017.7L198.6,1017.9L199.1,1018.1L199.6,1018.2L200.1,1018.4L200.6,1018.6L201.1,1018.8L201.6,1018.9L202.1,1019.1L202.6,1019.3L203.1,1019.5L203.6,1019.7L204.1,1019.9L204.6,1020.0L205.1,1020.2L205.6,1020.4L206.1,1020.6L206.6,1020.8L207.1,1021.0L207.6,1021.2L208.1,1021.4L208.6,1021.6L209.1,1021.8L209.6,1022.0L210.1,1022.2L210.6,1022.4L211.1,1022.6L211.6,1022.8L212.1,1023.0L212.6,1023.2L213.1,1023.4L213.6,1023.6L214.1,1023.9L214.6,1024.1L215.1,1024.3L215.6,1024.5L216.1,1024.7L216.6,1025.0L217.1,1025.2L217.6,1025.4L218.1,1025.6L218.6,1025.9L219.1,1026.1L219.6,1026.3L220.1,1026.6L220.6,1026.8L221.1,1027.1L221.6,1027.3L222.1,1027.5L222.6,1027.8L223.1,1028.0L223.6,1028.3L224.1,1028.5L224.6,1028.8L225.1,1029.0L225.6,1029.3L226.1,1029.6L226.6,1029.8L227.1,1030.1L227.6,1030.3L228.1,1030.6L228.6,1030.9L229.1,1031.2L229.6,1031.4L230.1,1031.7L230.6,1032.0L231.1,1032.2L231.6,1032.5L232.1,1032.8L232.6,1033.1L233.1,1033.4L233.6,1033.6L234.1,1033.9L234.6,1034.2L235.1,1034.5L235.6,1034.8L236.1,1035.1L236.6,1035.4L237.1,1035.7L237.6,1036.0L238.1,1036.3L238.6,1036.6L239.1,1036.9L239.6,1037.2L240.1,1037.5L240.6,1037.8L241.1,1038.1L241.6,1038.4L242.1,1038.7L242.6,1039.1L243.1,1039.4L243.6,1039.7L244.1,1040.0L244.6,1040.4L245.1,1040.7L245.6,1041.0L246.1,1041.4L246.6,1041.7L247.1,1042.1L247.6,1042.4L248.1,1042.8L248.6,1043.1L249.1,1043.5L249.6,1043.8L250.1,1044.2L250.6,1044.6L251.1,1044.9L251.6,1045.3L252.1,1045.7L252.6,1046.1L253.1,1046.4L253.6,1046.8L254.1,1047.2L254.6,1047.6L255.1,1048.0L255.6,1048.4L256.1,1048.7L256.6,1049.1L257.1,1049.5L257.6,1049.9L258.1,1050.3L258.6,1050.7L259.1,1051.1L259.6,1051.5L260.1,1051.9L260.6,1052.3L261.1,1052.7L261.6,1053.2L262.1,1053.6L262.6,1054.0L263.1,1054.4L263.6,1054.8L264.1,1055.2L264.6,1055.6L265.1,1056.1L265.6,1056.5L266.1,1056.9L266.6,1057.3L267.1,1057.7L267.6,1058.2L268.1,1058.6L268.6,1059.0L269.1,1059.4L269.6,1059.8L270.1,1060.3L270.6,1060.7L271.1,1061.1L271.6,1061.5L272.1,1062.0L272.6,1062.4L273.1,1062.8L273.6,1063.3L274.1,1063.7L274.6,1064.1L275.1,1064.5L275.6,1065.0L276.1,1065.4L276.6,1065.8L277.1,1066.3L277.6,1066.7L278.1,1067.1L278.6,1067.6L279.1,1068.0L279.6,1068.4L280.1,1068.9L280.6,1069.3L281.1,1069.8L281.6,1070.2L282.1,1070.7L282.6,1071.2L283.1,1071.6L283.6,1072.1L284.1,1072.6L284.6,1073.1L285.1,1073.5L285.6,1074.0L286.1,1074.5L286.6,1075.0L287.1,1075.5L287.6,1076.0L288.1,1076.6L288.6,1077.1L289.1,1077.6L289.6,1078.2L290.1,1078.7L290.6,1079.3L291.1,1079.8L291.6,1080.4L292.1,1081.0L292.6,1081.6L293.1,1082.2L293.6,1082.8L294.1,1083.4L294.6,1084.1L295.1,1084.7L295.6,1085.3L296.1,1086.0L296.6,1086.7L297.1,1087.3L297.6,1088.0L298.1,1088.7L298.6,1089.4L299.1,1090.1L299.6,1090.7L300.1,1091.4L300.6,1092.1L301.1,1092.9L301.6,1093.6L302.1,1094.3L302.6,1095.0L303.1,1095.7L303.6,1096.4L304.1,1097.2L304.6,1097.9L305.1,1098.6L305.6,1099.4L306.1,1100.1L306.6,1100.9L307.1,1101.6L307.6,1102.4L308.1,1103.2L308.6,1103.9L309.1,1104.7L309.6,1105.5L310.1,1106.3L310.6,1107.1L311.1,1107.9L311.6,1108.7L312.1,1109.6L312.6,1110.4L313.1,1111.2L313.6,1112.1L314.1,1112.9L314.6,1113.8L315.1,1114.7L315.6,1115.5L316.1,1116.4L316.6,1117.3L317.1,1118.2L317.6,1119.1L318.1,1120.1L318.6,1121.0L319.1,1122.0L319.6,1123.0L320.1,1123.9L320.6,1124.9L321.1,1126.0L321.6,1127.0L322.1,1128.0L322.6,1129.0L323.1,1130.1L323.6,1131.1L324.1,1132.1L324.6,1133.2L325.1,1134.2L325.6,1135.3L326.1,1136.3L326.6,1137.4L327.1,1138.4L327.6,1139.5L328.1,1140.5L328.6,1141.6L329.1,1142.7L329.6,1143.8L330.1,1144.8L330.6,1145.9L331.1,1147.0L331.6,1148.1L332.1,1149.2L332.6,1150.3L333.1,1151.4L333.6,1152.5L334.1,1153.6L334.6,1154.8L335.1,1156.0L335.6,1157.2L336.1,1158.4L336.6,1159.6L337.1,1160.8L337.6,1161.9L338.1,1163.0L338.6,1164.1L339.1,1165.0L339.6,1165.9L340.1,1166.8L340.6,1167.6L341.1,1168.5L341.6,1169.3L342.1,1170.0L342.6,1170.8L343.1,1171.4L343.6,1172.1L344.1,1172.7L344.6,1173.2L345.1,1173.7L345.6,1174.2L346.1,1174.6L346.6,1175.1L347.1,1175.5L347.6,1175.9L348.1,1176.2L348.6,1176.5L349.1,1176.8L349.6,1177.1L350.1,1177.3L350.6,1177.5L351.1,1177.7L351.6,1177.8L352.1,1178.0L352.6,1178.2L353.1,1178.3L353.6,1178.5L354.1,1178.6L354.6,1178.7L355.1,1178.8L355.6,1178.9L356.1,1178.9L356.6,1179.0L357.1,1179.0L357.6,1179.1L358.1,1179.1L358.6,1179.1L359.1,1179.2L359.6,1179.2L360.1,1179.2L360.6,1179.3L361.1,1179.3L361.6,1179.3L362.0,1179.3" fill="none" stroke="#0808D8" stroke-width="3.0" stroke-linejoin="round" stroke-linecap="butt"/>
<path d="M106.6,1090.7L107.1,1090.7L107.6,1090.8L108.1,1090.8L108.6,1090.9L109.1,1090.9L109.6,1091.0L110.1,1091.0L110.6,1091.1L111.1,1091.1L111.6,1091.1L112.1,1091.2L112.6,1091.2L113.1,1091.3L113.6,1091.3L114.1,1091.4L114.6,1091.4L115.1,1091.5L115.6,1091.5L116.1,1091.6L116.6,1091.6L117.1,1091.7L117.6,1091.7L118.1,1091.8L118.6,1091.8L119.1,1091.9L119.6,1091.9L120.1,1092.0L120.6,1092.0L121.1,1092.1L121.6,1092.1L122.1,1092.2L122.6,1092.2L123.1,1092.3L123.6,1092.3L124.1,1092.4L124.6,1092.4L125.1,1092.5L125.6,1092.5L126.1,1092.6L126.6,1092.6L127.1,1092.7L127.6,1092.7L128.1,1092.8L128.6,1092.8L129.1,1092.9L129.6,1092.9L130.1,1093.0L130.6,1093.0L131.1,1093.1L131.6,1093.1L132.1,1093.2L132.6,1093.2L133.1,1093.3L133.6,1093.3L134.1,1093.4L134.6,1093.4L135.1,1093.5L135.6,1093.5L136.1,1093.6L136.6,1093.7L137.1,1093.7L137.6,1093.8L138.1,1093.8L138.6,1093.9L139.1,1093.9L139.6,1094.0L140.1,1094.0L140.6,1094.1L141.1,1094.1L141.6,1094.2L142.1,1094.2L142.6,1094.3L143.1,1094.4L143.6,1094.4L144.1,1094.5L144.6,1094.5L145.1,1094.6L145.6,1094.6L146.1,1094.7L146.6,1094.7L147.1,1094.8L147.6,1094.9L148.1,1094.9L148.6,1095.0L149.1,1095.0L149.6,1095.1L150.1,1095.1L150.6,1095.2L151.1,1095.3L151.6,1095.3L152.1,1095.4L152.6,1095.4L153.1,1095.5L153.6,1095.6L154.1,1095.6L154.6,1095.7L155.1,1095.7L155.6,1095.8L156.1,1095.9L156.6,1095.9L157.1,1096.0L157.6,1096.0L158.1,1096.1L158.6,1096.2L159.1,1096.2L159.6,1096.3L160.1,1096.4L160.6,1096.4L161.1,1096.5L161.6,1096.6L162.1,1096.6L162.6,1096.7L163.1,1096.8L163.6,1096.8L164.1,1096.9L164.6,1097.0L165.1,1097.0L165.6,1097.1L166.1,1097.2L166.6,1097.3L167.1,1097.3L167.6,1097.4L168.1,1097.5L168.6,1097.5L169.1,1097.6L169.6,1097.7L170.1,1097.7L170.6,1097.8L171.1,1097.9L171.6,1098.0L172.1,1098.0L172.6,1098.1L173.1,1098.2L173.6,1098.3L174.1,1098.3L174.6,1098.4L175.1,1098.5L175.6,1098.6L176.1,1098.7L176.6,1098.8L177.1,1098.9L177.6,1098.9L178.1,1099.0L178.6,1099.1L179.1,1099.2L179.6,1099.3L180.1,1099.4L180.6,1099.5L181.1,1099.6L181.6,1099.7L182.1,1099.8L182.6,1100.0L183.1,1100.1L183.6,1100.2L184.1,1100.3L184.6,1100.4L185.1,1100.6L185.6,1100.7L186.1,1100.9L186.6,1101.0L187.1,1101.2L187.6,1101.3L188.1,1101.5L188.6,1101.7L189.1,1101.9L189.6,1102.0L190.1,1102.2L190.6,1102.4L191.1,1102.6L191.6,1102.8L192.1,1103.0L192.6,1103.2L193.1,1103.4L193.6,1103.6L194.1,1103.8L194.6,1104.0L195.1,1104.2L195.6,1104.5L196.1,1104.7L196.6,1104.9L197.1,1105.1L197.6,1105.3L198.1,1105.6L198.6,1105.8L199.1,1106.0L199.6,1106.3L200.1,1106.5L200.6,1106.7L201.1,1107.0L201.6,1107.2L202.1,1107.5L202.6,1107.7L203.1,1107.9L203.6,1108.2L204.1,1108.4L204.6,1108.7L205.1,1108.9L205.6,1109.1L206.1,1109.4L206.6,1109.6L207.1,1109.9L207.6,1110.1L208.1,1110.3L208.6,1110.6L209.1,1110.8L209.6,1111.0L210.1,1111.3L210.6,1111.5L211.1,1111.7L211.6,1112.0L212.1,1112.2L212.6,1112.4L213.1,1112.7L213.6,1112.9L214.1,1113.1L214.6,1113.3L215.1,1113.6L215.6,1113.8L216.1,1114.0L216.6,1114.3L217.1,1114.5L217.6,1114.8L218.1,1115.0L218.6,1115.2L219.1,1115.5L219.6,1115.7L220.1,1116.0L220.6,1116.2L221.1,1116.4L221.6,1116.7L222.1,1116.9L222.6,1117.2L223.1,1117.4L223.6,1117.7L224.1,1117.9L224.6,1118.2L225.1,1118.4L225.6,1118.7L226.1,1118.9L226.6,1119.2L227.1,1119.4L227.6,1119.7L228.1,1119.9L228.6,1120.2L229.1,1120.4L229.6,1120.7L230.1,1120.9L230.6,1121.2L231.1,1121.4L231.6,1121.7L232.1,1122.0L232.6,1122.2L233.1,1122.5L233.6,1122.7L234.1,1123.0L234.6,1123.2L235.1,1123.5L235.6,1123.7L236.1,1124.0L236.6,1124.3L237.1,1124.5L237.6,1124.8L238.1,1125.0L238.6,1125.3L239.1,1125.5L239.6,1125.8L240.1,1126.1L240.6,1126.3L241.1,1126.6L241.6,1126.8L242.1,1127.1L242.6,1127.3L243.1,1127.6L243.6,1127.9L244.1,1128.1L244.6,1128.4L245.1,1128.6L245.6,1128.9L246.1,1129.1L246.6,1129.4L247.1,1129.6L247.6,1129.9L248.1,1130.1L248.6,1130.4L249.1,1130.7L249.6,1130.9L250.1,1131.2L250.6,1131.4L251.1,1131.7L251.6,1131.9L252.1,1132.2L252.6,1132.4L253.1,1132.7L253.6,1133.0L254.1,1133.2L254.6,1133.5L255.1,1133.7L255.6,1134.0L256.1,1134.2L256.6,1134.5L257.1,1134.8L257.6,1135.0L258.1,1135.3L258.6,1135.5L259.1,1135.8L259.6,1136.1L260.1,1136.3L260.6,1136.6L261.1,1136.8L261.6,1137.1L262.1,1137.3L262.6,1137.6L263.1,1137.9L263.6,1138.1L264.1,1138.4L264.6,1138.6L265.1,1138.9L265.6,1139.1L266.1,1139.4L266.6,1139.6L267.1,1139.9L267.6,1140.1L268.1,1140.4L268.6,1140.6L269.1,1140.9L269.6,1141.1L270.1,1141.3L270.6,1141.6L271.1,1141.8L271.6,1142.1L272.1,1142.3L272.6,1142.5L273.1,1142.8L273.6,1143.0L274.1,1143.3L274.6,1143.5L275.1,1143.7L275.6,1144.0L276.1,1144.2L276.6,1144.4L277.1,1144.7L277.6,1144.9L278.1,1145.1L278.6,1145.4L279.1,1145.6L279.6,1145.8L280.1,1146.0L280.6,1146.3L281.1,1146.5L281.6,1146.7L282.1,1147.0L282.6,1147.2L283.1,1147.4L283.6,1147.6L284.1,1147.9L284.6,1148.1L285.1,1148.3L285.6,1148.6L286.1,1148.8L286.6,1149.0L287.1,1149.3L287.6,1149.5L288.1,1149.7L288.6,1149.9L289.1,1150.2L289.6,1150.4L290.1,1150.6L290.6,1150.9L291.1,1151.1L291.6,1151.3L292.1,1151.6L292.6,1151.8L293.1,1152.1L293.6,1152.3L294.1,1152.5L294.6,1152.8L295.1,1153.0L295.6,1153.3L296.1,1153.5L296.6,1153.7L297.1,1154.0L297.6,1154.2L298.1,1154.4L298.6,1154.7L299.1,1154.9L299.6,1155.2L300.1,1155.4L300.6,1155.6L301.1,1155.9L301.6,1156.1L302.1,1156.3L302.6,1156.6L303.1,1156.8L303.6,1157.0L304.1,1157.3L304.6,1157.5L305.1,1157.7L305.6,1158.0L306.1,1158.2L306.6,1158.4L307.1,1158.7L307.6,1158.9L308.1,1159.1L308.6,1159.3L309.1,1159.5L309.6,1159.8L310.1,1160.0L310.6,1160.2L311.1,1160.4L311.6,1160.6L312.1,1160.8L312.6,1161.0L313.1,1161.2L313.6,1161.4L314.1,1161.6L314.6,1161.8L315.1,1162.0L315.6,1162.2L316.1,1162.4L316.6,1162.5L317.1,1162.7L317.6,1162.9L318.1,1163.1L318.6,1163.3L319.1,1163.5L319.6,1163.7L320.1,1163.9L320.6,1164.2L321.1,1164.4L321.6,1164.6L322.1,1164.8L322.6,1165.1L323.1,1165.3L323.6,1165.6L324.1,1165.8L324.6,1166.1L325.1,1166.4L325.6,1166.7L326.1,1167.0L326.6,1167.3L327.1,1167.6L327.6,1167.9L328.1,1168.2L328.6,1168.6L329.1,1168.9L329.6,1169.2L330.1,1169.6L330.6,1169.9L331.1,1170.2L331.6,1170.5L332.1,1170.8L332.6,1171.1L333.1,1171.4L333.6,1171.7L334.1,1172.0L334.6,1172.3L335.1,1172.6L335.6,1172.9L336.1,1173.2L336.6,1173.4L337.1,1173.7L337.6,1174.0L338.1,1174.3L338.6,1174.6L339.1,1174.8L339.6,1175.1L340.1,1175.3L340.6,1175.6L341.1,1175.8L341.6,1176.0L342.1,1176.2L342.6,1176.4L343.1,1176.6L343.6,1176.7L344.1,1176.9L344.6,1177.0L345.1,1177.1L345.6,1177.3L346.1,1177.4L346.6,1177.5L347.1,1177.7L347.6,1177.8L348.1,1177.9L348.6,1178.0L349.1,1178.1L349.6,1178.2L350.1,1178.3L350.6,1178.4L351.1,1178.4L351.6,1178.5L352.1,1178.6L352.6,1178.6L353.1,1178.6L353.6,1178.7L354.1,1178.7L354.6,1178.8L355.1,1178.8L355.6,1178.8L356.1,1178.9L356.6,1178.9L357.1,1178.9L357.6,1179.0L358.1,1179.0L358.6,1179.0L359.1,1179.0L359.6,1179.1L360.1,1179.1L360.6,1179.1L361.1,1179.1L361.6,1179.1L362.1,1179.2L362.6,1179.2L363.1,1179.2L363.6,1179.2L364.1,1179.2L364.6,1179.3L365.1,1179.3L365.6,1179.3L366.1,1179.3L366.6,1179.3L367.1,1179.4L367.6,1179.4L368.1,1179.4L368.6,1179.4L369.1,1179.4L369.6,1179.4L370.1,1179.5L370.6,1179.5L371.1,1179.5L371.6,1179.5L372.1,1179.5L372.6,1179.6L373.1,1179.6L373.6,1179.6L374.1,1179.6L374.6,1179.6L375.1,1179.6L375.6,1179.7L376.1,1179.7L376.6,1179.7L377.1,1179.7L377.6,1179.7L378.1,1179.8L378.6,1179.8L379.1,1179.8L379.6,1179.8L380.1,1179.8L380.6,1179.8L381.1,1179.8L381.6,1179.9L382.1,1179.9L382.6,1179.9L383.1,1179.9L383.6,1179.9L384.1,1179.9L384.6,1179.9L385.1,1180.0L385.6,1180.0L386.1,1180.0L386.6,1180.0L387.1,1180.0L387.6,1180.0L388.1,1180.0L388.6,1180.0L389.1,1180.1L389.6,1180.1L390.1,1180.1L390.6,1180.1L391.1,1180.1L391.6,1180.1L392.1,1180.1L392.6,1180.1L393.1,1180.1L393.6,1180.1L394.1,1180.1L394.6,1180.2L395.1,1180.2L395.6,1180.2L396.1,1180.2L396.6,1180.2L397.1,1180.2L397.6,1180.2L398.1,1180.2L398.6,1180.2L399.1,1180.2L399.6,1180.2L399.9,1180.2" fill="none" stroke="#E50E12" stroke-width="3.0" stroke-linejoin="round" stroke-linecap="butt"/>
<rect x="141.6" y="889" width="45.6" height="35" fill="#fff"/>
<line x1="99.6" y1="968.1" x2="99.6" y2="1188.3" stroke="#000" stroke-width="2.3" />
<line x1="98.5" y1="1188.3" x2="414.9" y2="1188.3" stroke="#000" stroke-width="2.3" />
<line x1="99.6" y1="1179.9" x2="105.1" y2="1179.9" stroke="#000" stroke-width="1.8" />
<line x1="99.6" y1="1158.7" x2="103.1" y2="1158.7" stroke="#000" stroke-width="1.8" />
<line x1="99.6" y1="1137.5" x2="105.1" y2="1137.5" stroke="#000" stroke-width="1.8" />
<line x1="99.6" y1="1116.3" x2="103.1" y2="1116.3" stroke="#000" stroke-width="1.8" />
<line x1="99.6" y1="1095.1" x2="105.1" y2="1095.1" stroke="#000" stroke-width="1.8" />
<line x1="99.6" y1="1073.9" x2="103.1" y2="1073.9" stroke="#000" stroke-width="1.8" />
<line x1="99.6" y1="1052.7" x2="105.1" y2="1052.7" stroke="#000" stroke-width="1.8" />
<line x1="99.6" y1="1031.5" x2="103.1" y2="1031.5" stroke="#000" stroke-width="1.8" />
<line x1="99.6" y1="1010.3" x2="105.1" y2="1010.3" stroke="#000" stroke-width="1.8" />
<line x1="99.6" y1="989.1" x2="103.1" y2="989.1" stroke="#000" stroke-width="1.8" />
<line x1="99.6" y1="967.9" x2="105.1" y2="967.9" stroke="#000" stroke-width="1.8" />
<line x1="139.0" y1="1188.3" x2="139.0" y2="1185.3" stroke="#000" stroke-width="1.8" />
<line x1="178.4" y1="1188.3" x2="178.4" y2="1182.8" stroke="#000" stroke-width="1.8" />
<line x1="217.8" y1="1188.3" x2="217.8" y2="1185.3" stroke="#000" stroke-width="1.8" />
<line x1="257.2" y1="1188.3" x2="257.2" y2="1182.8" stroke="#000" stroke-width="1.8" />
<line x1="296.7" y1="1188.3" x2="296.7" y2="1185.3" stroke="#000" stroke-width="1.8" />
<line x1="336.1" y1="1188.3" x2="336.1" y2="1182.8" stroke="#000" stroke-width="1.8" />
<line x1="375.5" y1="1188.3" x2="375.5" y2="1185.3" stroke="#000" stroke-width="1.8" />
<text transform="translate(89.5,1187.8)" font-size="29.5" text-anchor="end" fill="#000" color="#000" >0.0</text>
<text transform="translate(89.5,1145.4)" font-size="29.5" text-anchor="end" fill="#000" color="#000" >0.1</text>
<text transform="translate(89.5,1103.0)" font-size="29.5" text-anchor="end" fill="#000" color="#000" >0.2</text>
<text transform="translate(89.5,1060.6)" font-size="29.5" text-anchor="end" fill="#000" color="#000" >0.3</text>
<text transform="translate(89.5,1018.2)" font-size="29.5" text-anchor="end" fill="#000" color="#000" >0.4</text>
<text transform="translate(89.5,975.8)" font-size="29.5" text-anchor="end" fill="#000" color="#000" >0.5</text>
<text transform="translate(96.9,1224.8)" font-size="29.5" text-anchor="middle" fill="#000" color="#000" >0</text>
<text transform="translate(175.7,1224.8)" font-size="29.5" text-anchor="middle" fill="#000" color="#000" >100</text>
<text transform="translate(254.6,1224.8)" font-size="29.5" text-anchor="middle" fill="#000" color="#000" >200</text>
<text transform="translate(333.4,1224.8)" font-size="29.5" text-anchor="middle" fill="#000" color="#000" >300</text>
<text transform="translate(412.2,1224.8)" font-size="29.5" text-anchor="middle" fill="#000" color="#000" >400</text>
<text transform="translate(258.0,1270.0)" font-size="29.5" text-anchor="middle" fill="#000" color="#000" ><tspan font-style="italic">T</tspan> (K)</text>
<text transform="translate(28.5,1077.0) rotate(-90.0)" font-size="29.5" text-anchor="middle" fill="#000" color="#000" ><tspan font-style="italic">M</tspan> (10<tspan font-size="20" dy="-12.5">&#8722;4</tspan><tspan dy="12.5"> emu)</tspan></text>
<text transform="translate(141.8,916.3)" font-size="30.5" text-anchor="start" fill="#E50E12" color="#E50E12" >OP</text>
<text transform="translate(144.5,1056.0)" font-size="29.5" text-anchor="start" fill="#0808D8" color="#0808D8" >IP</text>
<text transform="translate(432.0,1191.7)" font-size="29.5" text-anchor="start" fill="#000" color="#000" >0.8 nm</text>
<text transform="translate(501.5,1112.4)" font-size="29.5" text-anchor="start" fill="#000" color="#000" >3 nm</text>
<text transform="translate(569.2,1036.4)" font-size="29.5" text-anchor="start" fill="#000" color="#000" >6 nm</text>
<text transform="translate(618.7,975.3)" font-size="29.5" text-anchor="start" fill="#000" color="#000" >10 nm</text>
<line x1="527.1" y1="1191.7" x2="658.0" y2="1022.0" stroke="#000" stroke-width="2.0" />
<path d="M676.9,997.0 L649.1,1021.4 L660.7,1030.8 Z" fill="#000"/>
<text transform="translate(559.8,1210.3) rotate(-52.8)" font-size="28.8" text-anchor="start" fill="#000" color="#000" >Thickness of LCO</text>
<text transform="translate(462.5,772.9)" font-size="29.2" text-anchor="start" fill="#000" color="#000" ><tspan font-style="italic">H</tspan> = 0.05 T</text>
<text transform="translate(823.0,695.0)" font-size="40.0" text-anchor="start" fill="#000" color="#000" font-weight="bold">d</text>
<rect x="925.5" y="731.6" width="56.8" height="451.0" fill="#FFF8BE"/>
<rect x="982.3" y="731.6" width="334.0" height="451.0" fill="#E0B9FB"/>
<line x1="928.0" y1="1053.9" x2="1316.3" y2="1053.9" stroke="#000" stroke-width="2.1" stroke-dasharray="9.6 9.9"/>
<rect x="925.5" y="731.6" width="390.8" height="451.0" fill="none" stroke="#000" stroke-width="2.3"/>
<line x1="978.7" y1="1182.6" x2="978.7" y2="1177.1" stroke="#000" stroke-width="1.8" />
<line x1="978.7" y1="731.6" x2="978.7" y2="737.1" stroke="#000" stroke-width="1.8" />
<line x1="1032.0" y1="1182.6" x2="1032.0" y2="1173.1" stroke="#000" stroke-width="1.8" />
<line x1="1032.0" y1="731.6" x2="1032.0" y2="741.1" stroke="#000" stroke-width="1.8" />
<line x1="1085.4" y1="1182.6" x2="1085.4" y2="1177.1" stroke="#000" stroke-width="1.8" />
<line x1="1085.4" y1="731.6" x2="1085.4" y2="737.1" stroke="#000" stroke-width="1.8" />
<line x1="1138.7" y1="1182.6" x2="1138.7" y2="1173.1" stroke="#000" stroke-width="1.8" />
<line x1="1138.7" y1="731.6" x2="1138.7" y2="741.1" stroke="#000" stroke-width="1.8" />
<line x1="1192.1" y1="1182.6" x2="1192.1" y2="1177.1" stroke="#000" stroke-width="1.8" />
<line x1="1192.1" y1="731.6" x2="1192.1" y2="737.1" stroke="#000" stroke-width="1.8" />
<line x1="1245.4" y1="1182.6" x2="1245.4" y2="1173.1" stroke="#000" stroke-width="1.8" />
<line x1="1245.4" y1="731.6" x2="1245.4" y2="741.1" stroke="#000" stroke-width="1.8" />
<line x1="1298.8" y1="1182.6" x2="1298.8" y2="1177.1" stroke="#000" stroke-width="1.8" />
<line x1="1298.8" y1="731.6" x2="1298.8" y2="737.1" stroke="#000" stroke-width="1.8" />
<line x1="925.5" y1="1118.2" x2="931.0" y2="1118.2" stroke="#000" stroke-width="1.8" />
<line x1="1316.3" y1="1118.2" x2="1310.8" y2="1118.2" stroke="#000" stroke-width="1.8" />
<line x1="925.5" y1="1053.9" x2="935.0" y2="1053.9" stroke="#000" stroke-width="1.8" />
<line x1="1316.3" y1="1053.9" x2="1306.8" y2="1053.9" stroke="#000" stroke-width="1.8" />
<line x1="925.5" y1="989.6" x2="931.0" y2="989.6" stroke="#000" stroke-width="1.8" />
<line x1="1316.3" y1="989.6" x2="1310.8" y2="989.6" stroke="#000" stroke-width="1.8" />
<line x1="925.5" y1="925.3" x2="935.0" y2="925.3" stroke="#000" stroke-width="1.8" />
<line x1="1316.3" y1="925.3" x2="1306.8" y2="925.3" stroke="#000" stroke-width="1.8" />
<line x1="925.5" y1="861.0" x2="931.0" y2="861.0" stroke="#000" stroke-width="1.8" />
<line x1="1316.3" y1="861.0" x2="1310.8" y2="861.0" stroke="#000" stroke-width="1.8" />
<line x1="925.5" y1="796.7" x2="935.0" y2="796.7" stroke="#000" stroke-width="1.8" />
<line x1="1316.3" y1="796.7" x2="1306.8" y2="796.7" stroke="#000" stroke-width="1.8" />
<circle cx="953.6" cy="1125.9" r="12" fill="#0000F0"/>
<circle cx="1032.1" cy="847.4" r="12" fill="#0000F0"/>
<circle cx="1138.4" cy="779.5" r="12" fill="#0000F0"/>
<circle cx="1281.1" cy="909.7" r="12" fill="#0000F0"/>
<text transform="translate(912.0,1190.7)" font-size="29.5" text-anchor="end" fill="#000" color="#000" >&#8722;2</text>
<text transform="translate(912.0,1062.1)" font-size="29.5" text-anchor="end" fill="#000" color="#000" >0</text>
<text transform="translate(912.0,933.5)" font-size="29.5" text-anchor="end" fill="#000" color="#000" >2</text>
<text transform="translate(912.0,804.9)" font-size="29.5" text-anchor="end" fill="#000" color="#000" >4</text>
<text transform="translate(925.3,1219.8)" font-size="29.5" text-anchor="middle" fill="#000" color="#000" >0</text>
<text transform="translate(1032.0,1219.8)" font-size="29.5" text-anchor="middle" fill="#000" color="#000" >3</text>
<text transform="translate(1138.7,1219.8)" font-size="29.5" text-anchor="middle" fill="#000" color="#000" >6</text>
<text transform="translate(1245.4,1219.8)" font-size="29.5" text-anchor="middle" fill="#000" color="#000" >9</text>
<text transform="translate(1120.0,954.2)" font-size="29.5" text-anchor="middle" fill="#0000F0" color="#0000F0" >Brownmillerite</text>
<text transform="translate(1059.0,989.5)" font-size="29.5" text-anchor="start" fill="#0000F0" color="#0000F0" >LaCoO<tspan font-size="20" dy="7.5">2.5</tspan></text>
<text transform="translate(1162.3,1144.3)" font-size="29.5" text-anchor="start" fill="#0000F0" color="#0000F0" ><tspan font-style="italic">T</tspan> = 10 K</text>
<text transform="translate(1063.0,1266.2)" font-size="29.5" text-anchor="start" fill="#000" color="#000" ><tspan font-style="italic">t</tspan><tspan font-size="20" dy="7.5">LCO</tspan><tspan dy="-7.5"> (nm)</tspan></text>
<text transform="translate(853.9,955.5) rotate(-90.0)" font-size="29.5" text-anchor="middle" fill="#000" color="#000" ><tspan font-style="italic">K</tspan><tspan font-size="20" dy="7.5">tot</tspan><tspan dy="-7.5"> (10</tspan><tspan font-size="20" dy="-11.5">6</tspan><tspan dy="11.5"> erg/cm</tspan><tspan font-size="21" dy="-13.5">3</tspan><tspan dy="13.5">)</tspan></text>
</svg></body></html>
